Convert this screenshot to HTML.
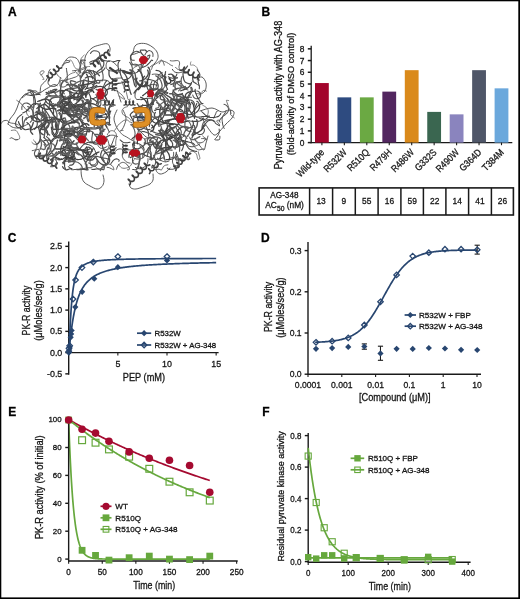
<!DOCTYPE html>
<html><head><meta charset="utf-8"><style>
html,body{margin:0;padding:0;background:#fff;width:520px;height:599px;overflow:hidden}
svg{display:block;will-change:transform}
text{font-family:"Liberation Sans", sans-serif;stroke:#151515;stroke-width:0.3px;paint-order:stroke}
</style></head><body>
<svg width="520" height="599" viewBox="0 0 520 599">
<rect x="0" y="0" width="520" height="1.3" fill="#000"/>
<rect x="0" y="0" width="1.3" height="599" fill="#000"/>
<rect x="518.3" y="0" width="1.7" height="599" fill="#000"/>
<rect x="0" y="597.4" width="520" height="1.6" fill="#000"/>
<text transform="translate(7.90,16.10)" font-size="12.00" text-anchor="start" font-weight="bold" fill="#000" >A</text>
<text transform="translate(261.50,16.00)" font-size="12.00" text-anchor="start" font-weight="bold" fill="#000" >B</text>
<text transform="translate(7.70,241.60)" font-size="12.00" text-anchor="start" font-weight="bold" fill="#000" >C</text>
<text transform="translate(261.00,241.80)" font-size="12.00" text-anchor="start" font-weight="bold" fill="#000" >D</text>
<text transform="translate(8.20,416.00)" font-size="12.00" text-anchor="start" font-weight="bold" fill="#000" >E</text>
<text transform="translate(262.30,416.00)" font-size="12.00" text-anchor="start" font-weight="bold" fill="#000" >F</text>
<line x1="311.20" y1="45.80" x2="311.20" y2="143.20" stroke="#1a1a1a" stroke-width="1.3" />
<line x1="310.60" y1="142.60" x2="512.30" y2="142.60" stroke="#1a1a1a" stroke-width="1.3" />
<line x1="307.80" y1="142.60" x2="311.20" y2="142.60" stroke="#1a1a1a" stroke-width="1.5" />
<text transform="translate(304.40,145.60) scale(0.9091,1)" font-size="9.24" text-anchor="end" font-weight="normal" fill="#151515" >0</text>
<line x1="307.80" y1="130.88" x2="311.20" y2="130.88" stroke="#1a1a1a" stroke-width="1.5" />
<text transform="translate(304.40,133.88) scale(0.9091,1)" font-size="9.24" text-anchor="end" font-weight="normal" fill="#151515" >1</text>
<line x1="307.80" y1="119.16" x2="311.20" y2="119.16" stroke="#1a1a1a" stroke-width="1.5" />
<text transform="translate(304.40,122.16) scale(0.9091,1)" font-size="9.24" text-anchor="end" font-weight="normal" fill="#151515" >2</text>
<line x1="307.80" y1="107.44" x2="311.20" y2="107.44" stroke="#1a1a1a" stroke-width="1.5" />
<text transform="translate(304.40,110.44) scale(0.9091,1)" font-size="9.24" text-anchor="end" font-weight="normal" fill="#151515" >3</text>
<line x1="307.80" y1="95.72" x2="311.20" y2="95.72" stroke="#1a1a1a" stroke-width="1.5" />
<text transform="translate(304.40,98.72) scale(0.9091,1)" font-size="9.24" text-anchor="end" font-weight="normal" fill="#151515" >4</text>
<line x1="307.80" y1="84.00" x2="311.20" y2="84.00" stroke="#1a1a1a" stroke-width="1.5" />
<text transform="translate(304.40,87.00) scale(0.9091,1)" font-size="9.24" text-anchor="end" font-weight="normal" fill="#151515" >5</text>
<line x1="307.80" y1="72.28" x2="311.20" y2="72.28" stroke="#1a1a1a" stroke-width="1.5" />
<text transform="translate(304.40,75.28) scale(0.9091,1)" font-size="9.24" text-anchor="end" font-weight="normal" fill="#151515" >6</text>
<line x1="307.80" y1="60.56" x2="311.20" y2="60.56" stroke="#1a1a1a" stroke-width="1.5" />
<text transform="translate(304.40,63.56) scale(0.9091,1)" font-size="9.24" text-anchor="end" font-weight="normal" fill="#151515" >7</text>
<line x1="307.80" y1="48.84" x2="311.20" y2="48.84" stroke="#1a1a1a" stroke-width="1.5" />
<text transform="translate(304.40,51.84) scale(0.9091,1)" font-size="9.24" text-anchor="end" font-weight="normal" fill="#151515" >8</text>
<rect x="315.00" y="83.06" width="13.8" height="59.54" fill="#A3052C"/>
<line x1="321.90" y1="142.60" x2="321.90" y2="145.20" stroke="#1a1a1a" stroke-width="1.1" />
<text transform="translate(324.90,153.00) rotate(-45) scale(0.8696,1)" font-size="9.66" text-anchor="end" font-weight="normal" fill="#151515" >Wild-type</text>
<rect x="337.45" y="97.36" width="13.8" height="45.24" fill="#2E4B80"/>
<line x1="344.35" y1="142.60" x2="344.35" y2="145.20" stroke="#1a1a1a" stroke-width="1.1" />
<text transform="translate(347.35,153.00) rotate(-45) scale(0.8696,1)" font-size="9.66" text-anchor="end" font-weight="normal" fill="#151515" >R532W</text>
<rect x="359.90" y="97.36" width="13.8" height="45.24" fill="#6BA943"/>
<line x1="366.80" y1="142.60" x2="366.80" y2="145.20" stroke="#1a1a1a" stroke-width="1.1" />
<text transform="translate(369.80,153.00) rotate(-45) scale(0.8696,1)" font-size="9.66" text-anchor="end" font-weight="normal" fill="#151515" >R510Q</text>
<rect x="382.35" y="91.62" width="13.8" height="50.98" fill="#52265F"/>
<line x1="389.25" y1="142.60" x2="389.25" y2="145.20" stroke="#1a1a1a" stroke-width="1.1" />
<text transform="translate(392.25,153.00) rotate(-45) scale(0.8696,1)" font-size="9.66" text-anchor="end" font-weight="normal" fill="#151515" >R479H</text>
<rect x="404.80" y="70.17" width="13.8" height="72.43" fill="#DA8A1B"/>
<line x1="411.70" y1="142.60" x2="411.70" y2="145.20" stroke="#1a1a1a" stroke-width="1.1" />
<text transform="translate(414.70,153.00) rotate(-45) scale(0.8696,1)" font-size="9.66" text-anchor="end" font-weight="normal" fill="#151515" >R486W</text>
<rect x="427.25" y="111.89" width="13.8" height="30.71" fill="#3A6650"/>
<line x1="434.15" y1="142.60" x2="434.15" y2="145.20" stroke="#1a1a1a" stroke-width="1.1" />
<text transform="translate(437.15,153.00) rotate(-45) scale(0.8696,1)" font-size="9.66" text-anchor="end" font-weight="normal" fill="#151515" >G332S</text>
<rect x="449.70" y="114.35" width="13.8" height="28.25" fill="#8A84BE"/>
<line x1="456.60" y1="142.60" x2="456.60" y2="145.20" stroke="#1a1a1a" stroke-width="1.1" />
<text transform="translate(459.60,153.00) rotate(-45) scale(0.8696,1)" font-size="9.66" text-anchor="end" font-weight="normal" fill="#151515" >R490W</text>
<rect x="472.15" y="70.17" width="13.8" height="72.43" fill="#4F5668"/>
<line x1="479.05" y1="142.60" x2="479.05" y2="145.20" stroke="#1a1a1a" stroke-width="1.1" />
<text transform="translate(482.05,153.00) rotate(-45) scale(0.8696,1)" font-size="9.66" text-anchor="end" font-weight="normal" fill="#151515" >G364D</text>
<rect x="494.60" y="88.34" width="13.8" height="54.26" fill="#6BA8DC"/>
<line x1="501.50" y1="142.60" x2="501.50" y2="145.20" stroke="#1a1a1a" stroke-width="1.1" />
<text transform="translate(504.50,153.00) rotate(-45) scale(0.8696,1)" font-size="9.66" text-anchor="end" font-weight="normal" fill="#151515" >T384M</text>
<text transform="translate(281.50,95.00) rotate(-90) scale(0.9091,1)" font-size="10.12" text-anchor="middle" font-weight="normal" fill="#151515" >Pyruvate kinase activity with AG-348</text>
<text transform="translate(294.10,94.00) rotate(-90) scale(0.9615,1)" font-size="9.57" text-anchor="middle" font-weight="normal" fill="#151515" >(fold-activity of DMSO control)</text>
<rect x="259.10" y="187.9" width="254.30" height="27.099999999999994" fill="none" stroke="#1a1a1a" stroke-width="1.6"/>
<line x1="309.60" y1="187.90" x2="309.60" y2="215.00" stroke="#1a1a1a" stroke-width="1.5" />
<line x1="332.60" y1="187.90" x2="332.60" y2="215.00" stroke="#1a1a1a" stroke-width="1.5" />
<line x1="355.30" y1="187.90" x2="355.30" y2="215.00" stroke="#1a1a1a" stroke-width="1.5" />
<line x1="378.10" y1="187.90" x2="378.10" y2="215.00" stroke="#1a1a1a" stroke-width="1.5" />
<line x1="400.90" y1="187.90" x2="400.90" y2="215.00" stroke="#1a1a1a" stroke-width="1.5" />
<line x1="423.40" y1="187.90" x2="423.40" y2="215.00" stroke="#1a1a1a" stroke-width="1.5" />
<line x1="445.90" y1="187.90" x2="445.90" y2="215.00" stroke="#1a1a1a" stroke-width="1.5" />
<line x1="468.60" y1="187.90" x2="468.60" y2="215.00" stroke="#1a1a1a" stroke-width="1.5" />
<line x1="491.40" y1="187.90" x2="491.40" y2="215.00" stroke="#1a1a1a" stroke-width="1.5" />
<text transform="translate(321.10,204.30) scale(0.9091,1)" font-size="9.24" text-anchor="middle" font-weight="normal" fill="#151515" >13</text>
<text transform="translate(343.95,204.30) scale(0.9091,1)" font-size="9.24" text-anchor="middle" font-weight="normal" fill="#151515" >9</text>
<text transform="translate(366.70,204.30) scale(0.9091,1)" font-size="9.24" text-anchor="middle" font-weight="normal" fill="#151515" >55</text>
<text transform="translate(389.50,204.30) scale(0.9091,1)" font-size="9.24" text-anchor="middle" font-weight="normal" fill="#151515" >16</text>
<text transform="translate(412.15,204.30) scale(0.9091,1)" font-size="9.24" text-anchor="middle" font-weight="normal" fill="#151515" >59</text>
<text transform="translate(434.65,204.30) scale(0.9091,1)" font-size="9.24" text-anchor="middle" font-weight="normal" fill="#151515" >22</text>
<text transform="translate(457.25,204.30) scale(0.9091,1)" font-size="9.24" text-anchor="middle" font-weight="normal" fill="#151515" >14</text>
<text transform="translate(480.00,204.30) scale(0.9091,1)" font-size="9.24" text-anchor="middle" font-weight="normal" fill="#151515" >41</text>
<text transform="translate(502.40,204.30) scale(0.9091,1)" font-size="9.24" text-anchor="middle" font-weight="normal" fill="#151515" >26</text>
<text transform="translate(284.40,197.60) scale(0.9091,1)" font-size="9.02" text-anchor="middle" font-weight="normal" fill="#151515" >AG-348</text>
<text transform="translate(284.6,207.8) scale(0.91,1)" font-size="9.2" text-anchor="middle" fill="#151515">AC<tspan font-size="7.4" dy="3.1">50</tspan><tspan dy="-3.1"> (nM)</tspan></text>
<line x1="68.70" y1="241.50" x2="68.70" y2="374.80" stroke="#1a1a1a" stroke-width="1.4" />
<line x1="68.70" y1="352.60" x2="218.60" y2="352.60" stroke="#1a1a1a" stroke-width="1.4" />
<line x1="65.30" y1="246.35" x2="68.70" y2="246.35" stroke="#1a1a1a" stroke-width="1.4" />
<text transform="translate(62.30,249.45) scale(0.9091,1)" font-size="9.79" text-anchor="end" font-weight="normal" fill="#151515" >2.5</text>
<line x1="65.30" y1="267.60" x2="68.70" y2="267.60" stroke="#1a1a1a" stroke-width="1.4" />
<text transform="translate(62.30,270.70) scale(0.9091,1)" font-size="9.79" text-anchor="end" font-weight="normal" fill="#151515" >2.0</text>
<line x1="65.30" y1="288.85" x2="68.70" y2="288.85" stroke="#1a1a1a" stroke-width="1.4" />
<text transform="translate(62.30,291.95) scale(0.9091,1)" font-size="9.79" text-anchor="end" font-weight="normal" fill="#151515" >1.5</text>
<line x1="65.30" y1="310.10" x2="68.70" y2="310.10" stroke="#1a1a1a" stroke-width="1.4" />
<text transform="translate(62.30,313.20) scale(0.9091,1)" font-size="9.79" text-anchor="end" font-weight="normal" fill="#151515" >1.0</text>
<line x1="65.30" y1="331.35" x2="68.70" y2="331.35" stroke="#1a1a1a" stroke-width="1.4" />
<text transform="translate(62.30,334.45) scale(0.9091,1)" font-size="9.79" text-anchor="end" font-weight="normal" fill="#151515" >0.5</text>
<line x1="65.30" y1="352.60" x2="68.70" y2="352.60" stroke="#1a1a1a" stroke-width="1.4" />
<text transform="translate(62.30,355.70) scale(0.9091,1)" font-size="9.79" text-anchor="end" font-weight="normal" fill="#151515" >0.0</text>
<line x1="65.30" y1="373.85" x2="68.70" y2="373.85" stroke="#1a1a1a" stroke-width="1.4" />
<text transform="translate(62.30,376.95) scale(0.9091,1)" font-size="9.79" text-anchor="end" font-weight="normal" fill="#151515" >-0.5</text>
<line x1="117.85" y1="352.60" x2="117.85" y2="355.40" stroke="#1a1a1a" stroke-width="1.1" />
<text transform="translate(117.85,367.00) scale(0.9091,1)" font-size="9.79" text-anchor="middle" font-weight="normal" fill="#151515" >5</text>
<line x1="167.00" y1="352.60" x2="167.00" y2="355.40" stroke="#1a1a1a" stroke-width="1.1" />
<text transform="translate(167.00,367.00) scale(0.9091,1)" font-size="9.79" text-anchor="middle" font-weight="normal" fill="#151515" >10</text>
<line x1="216.15" y1="352.60" x2="216.15" y2="355.40" stroke="#1a1a1a" stroke-width="1.1" />
<text transform="translate(216.15,367.00) scale(0.9091,1)" font-size="9.79" text-anchor="middle" font-weight="normal" fill="#151515" >15</text>
<text transform="translate(143.90,380.60) scale(0.9091,1)" font-size="10.12" text-anchor="middle" font-weight="normal" fill="#151515" >PEP (mM)</text>
<text transform="translate(29.90,310.50) rotate(-90) scale(0.7874,1)" font-size="11.05" text-anchor="middle" font-weight="normal" fill="#151515" >PK-R activity</text>
<text transform="translate(41.70,310.50) rotate(-90) scale(0.8333,1)" font-size="11.04" text-anchor="middle" font-weight="normal" fill="#151515" >(μMoles/sec/g)</text>
<path d="M68.70,352.60 L68.70,352.60 L68.71,352.56 L68.73,352.47 L68.76,352.30 L68.79,352.02 L68.83,351.60 L68.88,351.02 L68.94,350.25 L69.00,349.29 L69.07,348.12 L69.15,346.73 L69.23,345.12 L69.32,343.29 L69.42,341.25 L69.53,339.02 L69.64,336.61 L69.77,334.05 L69.89,331.36 L70.03,328.57 L70.17,325.72 L70.33,322.82 L70.48,319.90 L70.65,317.00 L70.82,314.13 L71.00,311.31 L71.19,308.56 L71.39,305.89 L71.59,303.32 L71.80,300.85 L72.02,298.49 L72.24,296.23 L72.47,294.09 L72.71,292.07 L72.96,290.15 L73.22,288.34 L73.48,286.63 L73.75,285.03 L74.02,283.52 L74.31,282.11 L74.60,280.78 L74.90,279.53 L75.20,278.37 L75.52,277.27 L75.84,276.25 L76.16,275.28 L76.50,274.38 L76.84,273.54 L77.19,272.75 L77.55,272.00 L77.92,271.31 L78.29,270.65 L78.67,270.04 L79.05,269.46 L79.45,268.92 L79.85,268.41 L80.26,267.93 L80.68,267.48 L81.10,267.05 L81.53,266.65 L81.97,266.27 L82.42,265.92 L82.87,265.58 L83.33,265.26 L83.80,264.96 L84.27,264.68 L84.76,264.41 L85.25,264.15 L85.75,263.91 L86.25,263.68 L86.76,263.47 L87.28,263.26 L87.81,263.07 L88.34,262.88 L88.89,262.70 L89.44,262.54 L89.99,262.38 L90.56,262.22 L91.13,262.08 L91.71,261.94 L92.29,261.81 L92.89,261.68 L93.49,261.56 L94.09,261.45 L94.71,261.34 L95.33,261.24 L95.96,261.14 L96.60,261.04 L97.25,260.95 L97.90,260.86 L98.56,260.78 L99.23,260.70 L99.90,260.62 L100.58,260.55 L101.27,260.48 L101.97,260.41 L102.67,260.34 L103.38,260.28 L104.10,260.22 L104.83,260.16 L105.56,260.11 L106.30,260.05 L107.05,260.00 L107.81,259.95 L108.57,259.90 L109.34,259.86 L110.12,259.81 L110.90,259.77 L111.70,259.73 L112.50,259.69 L113.30,259.65 L114.12,259.61 L114.94,259.58 L115.77,259.54 L116.61,259.51 L117.45,259.48 L118.30,259.45 L119.16,259.42 L120.03,259.39 L120.90,259.36 L121.78,259.33 L122.67,259.31 L123.57,259.28 L124.47,259.26 L125.38,259.23 L126.30,259.21 L127.22,259.19 L128.16,259.17 L129.10,259.14 L130.04,259.12 L131.00,259.10 L131.96,259.09 L132.93,259.07 L133.91,259.05 L134.89,259.03 L135.88,259.01 L136.88,259.00 L137.89,258.98 L138.90,258.97 L139.92,258.95 L140.95,258.94 L141.99,258.92 L143.03,258.91 L144.08,258.89 L145.14,258.88 L146.20,258.87 L147.28,258.85 L148.36,258.84 L149.44,258.83 L150.54,258.82 L151.64,258.81 L152.75,258.80 L153.87,258.79 L154.99,258.78 L156.12,258.77 L157.26,258.76 L158.41,258.75 L159.56,258.74 L160.72,258.73 L161.89,258.72 L163.07,258.71 L164.25,258.70 L165.44,258.69 L166.64,258.69 L167.85,258.68 L169.06,258.67 L170.28,258.66 L171.51,258.65 L172.74,258.65 L173.98,258.64 L175.23,258.63 L176.49,258.63 L177.75,258.62 L179.03,258.61 L180.30,258.61 L181.59,258.60 L182.89,258.60 L184.19,258.59 L185.50,258.58 L186.81,258.58 L188.13,258.57 L189.47,258.57 L190.80,258.56 L192.15,258.56 L193.50,258.55 L194.86,258.55 L196.23,258.54 L197.60,258.54 L198.99,258.53 L200.38,258.53 L201.77,258.53 L203.18,258.52 L204.59,258.52 L206.01,258.51 L207.44,258.51 L208.87,258.50 L210.31,258.50 L211.76,258.50 L213.22,258.49 L214.68,258.49 L216.15,258.49" fill="none" stroke="#284670" stroke-width="1.7"/>
<path d="M68.70,352.60 L68.70,352.59 L68.71,352.54 L68.73,352.45 L68.76,352.30 L68.79,352.08 L68.83,351.80 L68.88,351.45 L68.94,351.02 L69.00,350.51 L69.07,349.93 L69.15,349.27 L69.23,348.53 L69.32,347.71 L69.42,346.82 L69.53,345.85 L69.64,344.82 L69.77,343.72 L69.89,342.55 L70.03,341.33 L70.17,340.05 L70.33,338.73 L70.48,337.36 L70.65,335.96 L70.82,334.52 L71.00,333.05 L71.19,331.56 L71.39,330.05 L71.59,328.53 L71.80,327.01 L72.02,325.47 L72.24,323.94 L72.47,322.42 L72.71,320.90 L72.96,319.39 L73.22,317.90 L73.48,316.42 L73.75,314.97 L74.02,313.54 L74.31,312.13 L74.60,310.74 L74.90,309.38 L75.20,308.05 L75.52,306.75 L75.84,305.48 L76.16,304.24 L76.50,303.03 L76.84,301.84 L77.19,300.69 L77.55,299.58 L77.92,298.49 L78.29,297.43 L78.67,296.40 L79.05,295.40 L79.45,294.43 L79.85,293.49 L80.26,292.58 L80.68,291.70 L81.10,290.84 L81.53,290.01 L81.97,289.20 L82.42,288.42 L82.87,287.67 L83.33,286.93 L83.80,286.22 L84.27,285.54 L84.76,284.87 L85.25,284.23 L85.75,283.61 L86.25,283.00 L86.76,282.42 L87.28,281.85 L87.81,281.30 L88.34,280.77 L88.89,280.26 L89.44,279.76 L89.99,279.28 L90.56,278.81 L91.13,278.36 L91.71,277.92 L92.29,277.50 L92.89,277.08 L93.49,276.69 L94.09,276.30 L94.71,275.92 L95.33,275.56 L95.96,275.21 L96.60,274.86 L97.25,274.53 L97.90,274.21 L98.56,273.90 L99.23,273.60 L99.90,273.30 L100.58,273.02 L101.27,272.74 L101.97,272.47 L102.67,272.21 L103.38,271.95 L104.10,271.71 L104.83,271.47 L105.56,271.23 L106.30,271.01 L107.05,270.79 L107.81,270.57 L108.57,270.36 L109.34,270.16 L110.12,269.96 L110.90,269.77 L111.70,269.58 L112.50,269.40 L113.30,269.23 L114.12,269.05 L114.94,268.89 L115.77,268.72 L116.61,268.56 L117.45,268.41 L118.30,268.26 L119.16,268.11 L120.03,267.97 L120.90,267.83 L121.78,267.69 L122.67,267.56 L123.57,267.43 L124.47,267.30 L125.38,267.18 L126.30,267.06 L127.22,266.94 L128.16,266.82 L129.10,266.71 L130.04,266.60 L131.00,266.50 L131.96,266.39 L132.93,266.29 L133.91,266.19 L134.89,266.09 L135.88,266.00 L136.88,265.91 L137.89,265.81 L138.90,265.73 L139.92,265.64 L140.95,265.55 L141.99,265.47 L143.03,265.39 L144.08,265.31 L145.14,265.23 L146.20,265.16 L147.28,265.08 L148.36,265.01 L149.44,264.94 L150.54,264.87 L151.64,264.80 L152.75,264.74 L153.87,264.67 L154.99,264.61 L156.12,264.54 L157.26,264.48 L158.41,264.42 L159.56,264.36 L160.72,264.31 L161.89,264.25 L163.07,264.19 L164.25,264.14 L165.44,264.09 L166.64,264.03 L167.85,263.98 L169.06,263.93 L170.28,263.88 L171.51,263.83 L172.74,263.79 L173.98,263.74 L175.23,263.69 L176.49,263.65 L177.75,263.61 L179.03,263.56 L180.30,263.52 L181.59,263.48 L182.89,263.44 L184.19,263.40 L185.50,263.36 L186.81,263.32 L188.13,263.28 L189.47,263.25 L190.80,263.21 L192.15,263.17 L193.50,263.14 L194.86,263.10 L196.23,263.07 L197.60,263.04 L198.99,263.00 L200.38,262.97 L201.77,262.94 L203.18,262.91 L204.59,262.88 L206.01,262.85 L207.44,262.82 L208.87,262.79 L210.31,262.76 L211.76,262.73 L213.22,262.70 L214.68,262.68 L216.15,262.65" fill="none" stroke="#284670" stroke-width="1.7"/>
<path d="M68.90,349.50 L72.00,352.60 L68.90,355.70 L65.80,352.60Z" fill="#284670"/>
<path d="M69.19,346.95 L72.29,350.05 L69.19,353.15 L66.09,350.05Z" fill="#284670"/>
<path d="M69.68,343.98 L72.78,347.08 L69.68,350.18 L66.58,347.08Z" fill="#284670"/>
<path d="M70.67,334.20 L73.77,337.30 L70.67,340.40 L67.57,337.30Z" fill="#284670"/>
<path d="M71.16,330.80 L74.26,333.90 L71.16,337.00 L68.06,333.90Z" fill="#284670"/>
<path d="M71.65,327.40 L74.75,330.50 L71.65,333.60 L68.55,330.50Z" fill="#284670"/>
<path d="M75.29,304.02 L78.39,307.12 L75.29,310.23 L72.19,307.12Z" fill="#284670"/>
<path d="M82.17,288.73 L85.27,291.83 L82.17,294.93 L79.07,291.83Z" fill="#284670"/>
<path d="M94.26,275.55 L97.36,278.65 L94.26,281.75 L91.16,278.65Z" fill="#284670"/>
<path d="M117.85,264.07 L120.95,267.18 L117.85,270.28 L114.75,267.18Z" fill="#284670"/>
<path d="M167.00,257.27 L170.10,260.38 L167.00,263.48 L163.90,260.38Z" fill="#284670"/>
<path d="M68.70,349.00 L71.45,351.75 L68.70,354.50 L65.95,351.75Z" fill="none" stroke="#284670" stroke-width="1.3"/>
<path d="M68.99,345.60 L71.74,348.35 L68.99,351.10 L66.24,348.35Z" fill="none" stroke="#284670" stroke-width="1.3"/>
<path d="M69.68,343.05 L72.43,345.80 L69.68,348.55 L66.93,345.80Z" fill="none" stroke="#284670" stroke-width="1.3"/>
<path d="M73.03,296.30 L75.78,299.05 L73.03,301.80 L70.28,299.05Z" fill="none" stroke="#284670" stroke-width="1.3"/>
<path d="M75.58,277.18 L78.33,279.93 L75.58,282.68 L72.83,279.93Z" fill="none" stroke="#284670" stroke-width="1.3"/>
<path d="M81.97,264.85 L84.72,267.60 L81.97,270.35 L79.22,267.60Z" fill="none" stroke="#284670" stroke-width="1.3"/>
<path d="M93.28,259.33 L96.03,262.08 L93.28,264.83 L90.53,262.08Z" fill="none" stroke="#284670" stroke-width="1.3"/>
<path d="M117.85,253.80 L120.60,256.55 L117.85,259.30 L115.10,256.55Z" fill="none" stroke="#284670" stroke-width="1.3"/>
<path d="M167.00,253.80 L169.75,256.55 L167.00,259.30 L164.25,256.55Z" fill="none" stroke="#284670" stroke-width="1.3"/>
<line x1="137.00" y1="333.20" x2="151.20" y2="333.20" stroke="#284670" stroke-width="1.7" />
<path d="M144.10,330.10 L147.20,333.20 L144.10,336.30 L141.00,333.20Z" fill="#284670"/>
<text transform="translate(154.50,336.20)" font-size="7.85" text-anchor="start" font-weight="normal" fill="#151515" >R532W</text>
<line x1="137.00" y1="345.00" x2="151.20" y2="345.00" stroke="#284670" stroke-width="1.7" />
<path d="M144.10,342.25 L146.85,345.00 L144.10,347.75 L141.35,345.00Z" fill="none" stroke="#284670" stroke-width="1.3"/>
<text transform="translate(154.50,348.00)" font-size="7.85" text-anchor="start" font-weight="normal" fill="#151515" >R532W + AG-348</text>
<line x1="308.00" y1="242.00" x2="308.00" y2="374.90" stroke="#1a1a1a" stroke-width="1.4" />
<line x1="308.00" y1="374.20" x2="481.00" y2="374.20" stroke="#1a1a1a" stroke-width="1.4" />
<line x1="304.60" y1="374.20" x2="308.00" y2="374.20" stroke="#1a1a1a" stroke-width="1.4" />
<text transform="translate(301.60,377.20) scale(0.9091,1)" font-size="9.46" text-anchor="end" font-weight="normal" fill="#151515" >0.0</text>
<line x1="304.60" y1="333.00" x2="308.00" y2="333.00" stroke="#1a1a1a" stroke-width="1.4" />
<text transform="translate(301.60,336.00) scale(0.9091,1)" font-size="9.46" text-anchor="end" font-weight="normal" fill="#151515" >0.1</text>
<line x1="304.60" y1="291.80" x2="308.00" y2="291.80" stroke="#1a1a1a" stroke-width="1.4" />
<text transform="translate(301.60,294.80) scale(0.9091,1)" font-size="9.46" text-anchor="end" font-weight="normal" fill="#151515" >0.2</text>
<line x1="304.60" y1="250.60" x2="308.00" y2="250.60" stroke="#1a1a1a" stroke-width="1.4" />
<text transform="translate(301.60,253.60) scale(0.9091,1)" font-size="9.46" text-anchor="end" font-weight="normal" fill="#151515" >0.3</text>
<line x1="308.00" y1="374.20" x2="308.00" y2="377.00" stroke="#1a1a1a" stroke-width="1.1" />
<text transform="translate(308.00,387.80) scale(0.9091,1)" font-size="9.46" text-anchor="middle" font-weight="normal" fill="#151515" >0.0001</text>
<line x1="341.80" y1="374.20" x2="341.80" y2="377.00" stroke="#1a1a1a" stroke-width="1.1" />
<text transform="translate(341.80,387.80) scale(0.9091,1)" font-size="9.46" text-anchor="middle" font-weight="normal" fill="#151515" >0.001</text>
<line x1="375.60" y1="374.20" x2="375.60" y2="377.00" stroke="#1a1a1a" stroke-width="1.1" />
<text transform="translate(375.60,387.80) scale(0.9091,1)" font-size="9.46" text-anchor="middle" font-weight="normal" fill="#151515" >0.01</text>
<line x1="409.40" y1="374.20" x2="409.40" y2="377.00" stroke="#1a1a1a" stroke-width="1.1" />
<text transform="translate(409.40,387.80) scale(0.9091,1)" font-size="9.46" text-anchor="middle" font-weight="normal" fill="#151515" >0.1</text>
<line x1="443.20" y1="374.20" x2="443.20" y2="377.00" stroke="#1a1a1a" stroke-width="1.1" />
<text transform="translate(443.20,387.80) scale(0.9091,1)" font-size="9.46" text-anchor="middle" font-weight="normal" fill="#151515" >1</text>
<line x1="477.00" y1="374.20" x2="477.00" y2="377.00" stroke="#1a1a1a" stroke-width="1.1" />
<text transform="translate(477.00,387.80) scale(0.9091,1)" font-size="9.46" text-anchor="middle" font-weight="normal" fill="#151515" >10</text>
<text transform="translate(394.80,401.00) scale(0.9091,1)" font-size="10.12" text-anchor="middle" font-weight="normal" fill="#151515" >[Compound (μM)]</text>
<text transform="translate(271.50,306.90) rotate(-90) scale(0.8621,1)" font-size="10.21" text-anchor="middle" font-weight="normal" fill="#151515" >PK-R activity</text>
<text transform="translate(283.80,307.60) rotate(-90) scale(0.8929,1)" font-size="10.30" text-anchor="middle" font-weight="normal" fill="#151515" >(μMoles/sec/g)</text>
<path d="M315.10,342.26 L315.91,342.23 L316.72,342.20 L317.53,342.17 L318.34,342.14 L319.15,342.10 L319.96,342.06 L320.76,342.02 L321.57,341.98 L322.38,341.93 L323.19,341.89 L324.00,341.83 L324.81,341.78 L325.62,341.72 L326.43,341.66 L327.24,341.59 L328.05,341.52 L328.86,341.45 L329.67,341.37 L330.48,341.28 L331.29,341.19 L332.10,341.10 L332.91,341.00 L333.72,340.89 L334.53,340.77 L335.34,340.65 L336.15,340.52 L336.95,340.38 L337.76,340.23 L338.57,340.08 L339.38,339.91 L340.19,339.74 L341.00,339.55 L341.81,339.35 L342.62,339.14 L343.43,338.92 L344.24,338.69 L345.05,338.44 L345.86,338.17 L346.67,337.89 L347.48,337.60 L348.29,337.28 L349.10,336.95 L349.91,336.60 L350.72,336.23 L351.53,335.84 L352.34,335.43 L353.14,334.99 L353.95,334.53 L354.76,334.05 L355.57,333.54 L356.38,333.00 L357.19,332.44 L358.00,331.85 L358.81,331.22 L359.62,330.57 L360.43,329.89 L361.24,329.17 L362.05,328.42 L362.86,327.64 L363.67,326.83 L364.48,325.97 L365.29,325.09 L366.10,324.17 L366.91,323.21 L367.72,322.22 L368.53,321.19 L369.34,320.12 L370.14,319.02 L370.95,317.89 L371.76,316.72 L372.57,315.52 L373.38,314.28 L374.19,313.02 L375.00,311.72 L375.81,310.40 L376.62,309.06 L377.43,307.69 L378.24,306.29 L379.05,304.88 L379.86,303.46 L380.67,302.01 L381.48,300.56 L382.29,299.10 L383.10,297.63 L383.91,296.16 L384.72,294.69 L385.53,293.23 L386.33,291.77 L387.14,290.32 L387.95,288.88 L388.76,287.46 L389.57,286.05 L390.38,284.66 L391.19,283.30 L392.00,281.96 L392.81,280.64 L393.62,279.35 L394.43,278.10 L395.24,276.87 L396.05,275.68 L396.86,274.51 L397.67,273.39 L398.48,272.30 L399.29,271.24 L400.10,270.22 L400.91,269.23 L401.72,268.28 L402.53,267.37 L403.33,266.49 L404.14,265.65 L404.95,264.84 L405.76,264.07 L406.57,263.32 L407.38,262.62 L408.19,261.94 L409.00,261.29 L409.81,260.68 L410.62,260.09 L411.43,259.54 L412.24,259.01 L413.05,258.50 L413.86,258.03 L414.67,257.57 L415.48,257.14 L416.29,256.73 L417.10,256.35 L417.91,255.98 L418.72,255.63 L419.52,255.31 L420.33,255.00 L421.14,254.71 L421.95,254.43 L422.76,254.17 L423.57,253.92 L424.38,253.69 L425.19,253.47 L426.00,253.26 L426.81,253.07 L427.62,252.88 L428.43,252.71 L429.24,252.55 L430.05,252.39 L430.86,252.25 L431.67,252.11 L432.48,251.99 L433.29,251.87 L434.10,251.75 L434.91,251.64 L435.71,251.54 L436.52,251.45 L437.33,251.36 L438.14,251.28 L438.95,251.20 L439.76,251.13 L440.57,251.06 L441.38,250.99 L442.19,250.93 L443.00,250.87 L443.81,250.82 L444.62,250.77 L445.43,250.72 L446.24,250.67 L447.05,250.63 L447.86,250.59 L448.67,250.55 L449.48,250.52 L450.29,250.49 L451.10,250.46 L451.91,250.43 L452.71,250.40 L453.52,250.37 L454.33,250.35 L455.14,250.33 L455.95,250.31 L456.76,250.29 L457.57,250.27 L458.38,250.25 L459.19,250.23 L460.00,250.22 L460.81,250.20 L461.62,250.19 L462.43,250.18 L463.24,250.17 L464.05,250.15 L464.86,250.14 L465.67,250.13 L466.48,250.12 L467.29,250.12 L468.10,250.11 L468.90,250.10 L469.71,250.09 L470.52,250.09 L471.33,250.08 L472.14,250.07 L472.95,250.07 L473.76,250.06 L474.57,250.06 L475.38,250.05 L476.19,250.05 L477.00,250.04" fill="none" stroke="#284670" stroke-width="1.7"/>
<line x1="477.20" y1="245.20" x2="477.20" y2="254.10" stroke="#1a1a1a" stroke-width="1.1" />
<line x1="474.60" y1="245.20" x2="479.80" y2="245.20" stroke="#1a1a1a" stroke-width="1.1" />
<line x1="474.60" y1="254.10" x2="479.80" y2="254.10" stroke="#1a1a1a" stroke-width="1.1" />
<line x1="380.48" y1="346.20" x2="380.48" y2="360.30" stroke="#1a1a1a" stroke-width="1.1" />
<line x1="377.88" y1="346.20" x2="383.08" y2="346.20" stroke="#1a1a1a" stroke-width="1.1" />
<line x1="377.88" y1="360.30" x2="383.08" y2="360.30" stroke="#1a1a1a" stroke-width="1.1" />
<line x1="364.36" y1="343.90" x2="364.36" y2="349.20" stroke="#1a1a1a" stroke-width="1.1" />
<line x1="361.76" y1="343.90" x2="366.96" y2="343.90" stroke="#1a1a1a" stroke-width="1.1" />
<line x1="361.76" y1="349.20" x2="366.96" y2="349.20" stroke="#1a1a1a" stroke-width="1.1" />
<path d="M477.20,346.90 L480.30,350.00 L477.20,353.10 L474.10,350.00Z" fill="#284670"/>
<path d="M461.08,346.70 L464.18,349.80 L461.08,352.90 L457.98,349.80Z" fill="#284670"/>
<path d="M444.96,345.40 L448.06,348.50 L444.96,351.60 L441.86,348.50Z" fill="#284670"/>
<path d="M428.84,344.90 L431.94,348.00 L428.84,351.10 L425.74,348.00Z" fill="#284670"/>
<path d="M412.72,345.80 L415.82,348.90 L412.72,352.00 L409.62,348.90Z" fill="#284670"/>
<path d="M396.60,345.70 L399.70,348.80 L396.60,351.90 L393.50,348.80Z" fill="#284670"/>
<path d="M380.48,350.30 L383.58,353.40 L380.48,356.50 L377.38,353.40Z" fill="#284670"/>
<path d="M364.36,343.40 L367.46,346.50 L364.36,349.60 L361.26,346.50Z" fill="#284670"/>
<path d="M348.24,343.80 L351.34,346.90 L348.24,350.00 L345.14,346.90Z" fill="#284670"/>
<path d="M332.12,345.00 L335.22,348.10 L332.12,351.20 L329.02,348.10Z" fill="#284670"/>
<path d="M316.00,345.70 L319.10,348.80 L316.00,351.90 L312.90,348.80Z" fill="#284670"/>
<path d="M477.20,247.05 L479.95,249.80 L477.20,252.55 L474.45,249.80Z" fill="none" stroke="#284670" stroke-width="1.3"/>
<path d="M461.08,246.45 L463.83,249.20 L461.08,251.95 L458.33,249.20Z" fill="none" stroke="#284670" stroke-width="1.3"/>
<path d="M444.96,246.45 L447.71,249.20 L444.96,251.95 L442.21,249.20Z" fill="none" stroke="#284670" stroke-width="1.3"/>
<path d="M428.84,249.95 L431.59,252.70 L428.84,255.45 L426.09,252.70Z" fill="none" stroke="#284670" stroke-width="1.3"/>
<path d="M412.72,253.35 L415.47,256.10 L412.72,258.85 L409.97,256.10Z" fill="none" stroke="#284670" stroke-width="1.3"/>
<path d="M396.60,272.15 L399.35,274.90 L396.60,277.65 L393.85,274.90Z" fill="none" stroke="#284670" stroke-width="1.3"/>
<path d="M380.48,299.05 L383.23,301.80 L380.48,304.55 L377.73,301.80Z" fill="none" stroke="#284670" stroke-width="1.3"/>
<path d="M364.36,322.25 L367.11,325.00 L364.36,327.75 L361.61,325.00Z" fill="none" stroke="#284670" stroke-width="1.3"/>
<path d="M348.24,335.15 L350.99,337.90 L348.24,340.65 L345.49,337.90Z" fill="none" stroke="#284670" stroke-width="1.3"/>
<path d="M332.12,338.45 L334.87,341.20 L332.12,343.95 L329.37,341.20Z" fill="none" stroke="#284670" stroke-width="1.3"/>
<path d="M316.00,339.55 L318.75,342.30 L316.00,345.05 L313.25,342.30Z" fill="none" stroke="#284670" stroke-width="1.3"/>
<line x1="404.60" y1="315.00" x2="416.00" y2="315.00" stroke="#284670" stroke-width="1.7" />
<path d="M410.30,311.90 L413.40,315.00 L410.30,318.10 L407.20,315.00Z" fill="#284670"/>
<text transform="translate(418.90,318.00)" font-size="8.10" text-anchor="start" font-weight="normal" fill="#151515" >R532W + FBP</text>
<line x1="404.60" y1="326.20" x2="416.00" y2="326.20" stroke="#284670" stroke-width="1.7" />
<path d="M410.30,323.45 L413.05,326.20 L410.30,328.95 L407.55,326.20Z" fill="none" stroke="#284670" stroke-width="1.3"/>
<text transform="translate(418.90,329.20)" font-size="8.10" text-anchor="start" font-weight="normal" fill="#151515" >R532W + AG-348</text>
<line x1="65.25" y1="559.10" x2="68.65" y2="559.10" stroke="#1a1a1a" stroke-width="1.4" />
<text transform="translate(61.65,561.90)" font-size="7.90" text-anchor="end" font-weight="normal" fill="#151515" >0</text>
<line x1="65.25" y1="531.20" x2="68.65" y2="531.20" stroke="#1a1a1a" stroke-width="1.4" />
<text transform="translate(61.65,534.00)" font-size="7.90" text-anchor="end" font-weight="normal" fill="#151515" >20</text>
<line x1="65.25" y1="503.30" x2="68.65" y2="503.30" stroke="#1a1a1a" stroke-width="1.4" />
<text transform="translate(61.65,506.10)" font-size="7.90" text-anchor="end" font-weight="normal" fill="#151515" >40</text>
<line x1="65.25" y1="475.40" x2="68.65" y2="475.40" stroke="#1a1a1a" stroke-width="1.4" />
<text transform="translate(61.65,478.20)" font-size="7.90" text-anchor="end" font-weight="normal" fill="#151515" >60</text>
<line x1="65.25" y1="447.50" x2="68.65" y2="447.50" stroke="#1a1a1a" stroke-width="1.4" />
<text transform="translate(61.65,450.30)" font-size="7.90" text-anchor="end" font-weight="normal" fill="#151515" >80</text>
<line x1="65.25" y1="419.60" x2="68.65" y2="419.60" stroke="#1a1a1a" stroke-width="1.4" />
<text transform="translate(61.65,422.40)" font-size="7.90" text-anchor="end" font-weight="normal" fill="#151515" >100</text>
<line x1="68.65" y1="561.00" x2="68.65" y2="563.80" stroke="#1a1a1a" stroke-width="1.1" />
<text transform="translate(68.65,575.00)" font-size="8.20" text-anchor="middle" font-weight="normal" fill="#151515" >0</text>
<line x1="102.25" y1="561.00" x2="102.25" y2="563.80" stroke="#1a1a1a" stroke-width="1.1" />
<text transform="translate(102.25,575.00)" font-size="8.20" text-anchor="middle" font-weight="normal" fill="#151515" >50</text>
<line x1="135.85" y1="561.00" x2="135.85" y2="563.80" stroke="#1a1a1a" stroke-width="1.1" />
<text transform="translate(135.85,575.00)" font-size="8.20" text-anchor="middle" font-weight="normal" fill="#151515" >100</text>
<line x1="169.45" y1="561.00" x2="169.45" y2="563.80" stroke="#1a1a1a" stroke-width="1.1" />
<text transform="translate(169.45,575.00)" font-size="8.20" text-anchor="middle" font-weight="normal" fill="#151515" >150</text>
<line x1="203.05" y1="561.00" x2="203.05" y2="563.80" stroke="#1a1a1a" stroke-width="1.1" />
<text transform="translate(203.05,575.00)" font-size="8.20" text-anchor="middle" font-weight="normal" fill="#151515" >200</text>
<line x1="236.65" y1="561.00" x2="236.65" y2="563.80" stroke="#1a1a1a" stroke-width="1.1" />
<text transform="translate(236.65,575.00)" font-size="8.20" text-anchor="middle" font-weight="normal" fill="#151515" >250</text>
<text transform="translate(154.20,588.50) scale(0.8000,1)" font-size="11.12" text-anchor="middle" font-weight="normal" fill="#151515" >Time (min)</text>
<text transform="translate(42.50,487.20) rotate(-90) scale(0.9091,1)" font-size="10.18" text-anchor="middle" font-weight="normal" fill="#151515" >PK-R activity (% of initial)</text>
<path d="M68.65,419.60 L69.36,420.00 L70.06,420.40 L70.77,420.79 L71.47,421.19 L72.18,421.59 L72.88,421.98 L73.59,422.37 L74.29,422.76 L75.00,423.15 L75.71,423.54 L76.41,423.93 L77.12,424.32 L77.82,424.70 L78.53,425.09 L79.23,425.47 L79.94,425.85 L80.65,426.23 L81.35,426.62 L82.06,426.99 L82.76,427.37 L83.47,427.75 L84.17,428.13 L84.88,428.50 L85.58,428.87 L86.29,429.25 L87.00,429.62 L87.70,429.99 L88.41,430.36 L89.11,430.73 L89.82,431.09 L90.52,431.46 L91.23,431.83 L91.93,432.19 L92.64,432.55 L93.35,432.92 L94.05,433.28 L94.76,433.64 L95.46,434.00 L96.17,434.36 L96.87,434.71 L97.58,435.07 L98.29,435.42 L98.99,435.78 L99.70,436.13 L100.40,436.48 L101.11,436.83 L101.81,437.18 L102.52,437.53 L103.22,437.88 L103.93,438.23 L104.64,438.57 L105.34,438.92 L106.05,439.26 L106.75,439.61 L107.46,439.95 L108.16,440.29 L108.87,440.63 L109.57,440.97 L110.28,441.31 L110.99,441.64 L111.69,441.98 L112.40,442.31 L113.10,442.65 L113.81,442.98 L114.51,443.31 L115.22,443.65 L115.93,443.98 L116.63,444.31 L117.34,444.63 L118.04,444.96 L118.75,445.29 L119.45,445.61 L120.16,445.94 L120.86,446.26 L121.57,446.59 L122.28,446.91 L122.98,447.23 L123.69,447.55 L124.39,447.87 L125.10,448.19 L125.80,448.50 L126.51,448.82 L127.21,449.14 L127.92,449.45 L128.63,449.77 L129.33,450.08 L130.04,450.39 L130.74,450.70 L131.45,451.01 L132.15,451.32 L132.86,451.63 L133.57,451.94 L134.27,452.24 L134.98,452.55 L135.68,452.86 L136.39,453.16 L137.09,453.46 L137.80,453.76 L138.50,454.07 L139.21,454.37 L139.92,454.67 L140.62,454.97 L141.33,455.26 L142.03,455.56 L142.74,455.86 L143.44,456.15 L144.15,456.45 L144.85,456.74 L145.56,457.03 L146.27,457.33 L146.97,457.62 L147.68,457.91 L148.38,458.20 L149.09,458.49 L149.79,458.77 L150.50,459.06 L151.21,459.35 L151.91,459.63 L152.62,459.92 L153.32,460.20 L154.03,460.49 L154.73,460.77 L155.44,461.05 L156.14,461.33 L156.85,461.61 L157.56,461.89 L158.26,462.17 L158.97,462.44 L159.67,462.72 L160.38,463.00 L161.08,463.27 L161.79,463.55 L162.49,463.82 L163.20,464.09 L163.91,464.36 L164.61,464.64 L165.32,464.91 L166.02,465.18 L166.73,465.44 L167.43,465.71 L168.14,465.98 L168.85,466.25 L169.55,466.51 L170.26,466.78 L170.96,467.04 L171.67,467.31 L172.37,467.57 L173.08,467.83 L173.78,468.09 L174.49,468.35 L175.20,468.61 L175.90,468.87 L176.61,469.13 L177.31,469.39 L178.02,469.64 L178.72,469.90 L179.43,470.15 L180.13,470.41 L180.84,470.66 L181.55,470.92 L182.25,471.17 L182.96,471.42 L183.66,471.67 L184.37,471.92 L185.07,472.17 L185.78,472.42 L186.49,472.67 L187.19,472.92 L187.90,473.16 L188.60,473.41 L189.31,473.65 L190.01,473.90 L190.72,474.14 L191.42,474.38 L192.13,474.63 L192.84,474.87 L193.54,475.11 L194.25,475.35 L194.95,475.59 L195.66,475.83 L196.36,476.07 L197.07,476.31 L197.77,476.54 L198.48,476.78 L199.19,477.01 L199.89,477.25 L200.60,477.48 L201.30,477.72 L202.01,477.95 L202.71,478.18 L203.42,478.41 L204.13,478.65 L204.83,478.88 L205.54,479.11 L206.24,479.33 L206.95,479.56 L207.65,479.79 L208.36,480.02 L209.06,480.24 L209.77,480.47" fill="none" stroke="#A50A30" stroke-width="1.7"/>
<path d="M68.65,419.60 L69.36,420.17 L70.06,420.74 L70.77,421.30 L71.47,421.87 L72.18,422.43 L72.88,422.99 L73.59,423.54 L74.29,424.10 L75.00,424.65 L75.71,425.20 L76.41,425.74 L77.12,426.29 L77.82,426.83 L78.53,427.37 L79.23,427.91 L79.94,428.45 L80.65,428.98 L81.35,429.51 L82.06,430.04 L82.76,430.57 L83.47,431.09 L84.17,431.62 L84.88,432.14 L85.58,432.66 L86.29,433.17 L87.00,433.69 L87.70,434.20 L88.41,434.71 L89.11,435.22 L89.82,435.73 L90.52,436.23 L91.23,436.73 L91.93,437.23 L92.64,437.73 L93.35,438.23 L94.05,438.72 L94.76,439.21 L95.46,439.70 L96.17,440.19 L96.87,440.68 L97.58,441.16 L98.29,441.64 L98.99,442.12 L99.70,442.60 L100.40,443.08 L101.11,443.55 L101.81,444.02 L102.52,444.49 L103.22,444.96 L103.93,445.43 L104.64,445.89 L105.34,446.36 L106.05,446.82 L106.75,447.28 L107.46,447.73 L108.16,448.19 L108.87,448.64 L109.57,449.09 L110.28,449.54 L110.99,449.99 L111.69,450.44 L112.40,450.88 L113.10,451.32 L113.81,451.76 L114.51,452.20 L115.22,452.64 L115.93,453.07 L116.63,453.51 L117.34,453.94 L118.04,454.37 L118.75,454.79 L119.45,455.22 L120.16,455.65 L120.86,456.07 L121.57,456.49 L122.28,456.91 L122.98,457.33 L123.69,457.74 L124.39,458.16 L125.10,458.57 L125.80,458.98 L126.51,459.39 L127.21,459.80 L127.92,460.20 L128.63,460.61 L129.33,461.01 L130.04,461.41 L130.74,461.81 L131.45,462.21 L132.15,462.60 L132.86,463.00 L133.57,463.39 L134.27,463.78 L134.98,464.17 L135.68,464.56 L136.39,464.94 L137.09,465.33 L137.80,465.71 L138.50,466.09 L139.21,466.47 L139.92,466.85 L140.62,467.23 L141.33,467.61 L142.03,467.98 L142.74,468.35 L143.44,468.72 L144.15,469.09 L144.85,469.46 L145.56,469.83 L146.27,470.19 L146.97,470.55 L147.68,470.92 L148.38,471.28 L149.09,471.64 L149.79,471.99 L150.50,472.35 L151.21,472.70 L151.91,473.06 L152.62,473.41 L153.32,473.76 L154.03,474.11 L154.73,474.45 L155.44,474.80 L156.14,475.14 L156.85,475.49 L157.56,475.83 L158.26,476.17 L158.97,476.51 L159.67,476.85 L160.38,477.18 L161.08,477.52 L161.79,477.85 L162.49,478.18 L163.20,478.51 L163.91,478.84 L164.61,479.17 L165.32,479.50 L166.02,479.82 L166.73,480.15 L167.43,480.47 L168.14,480.79 L168.85,481.11 L169.55,481.43 L170.26,481.75 L170.96,482.06 L171.67,482.38 L172.37,482.69 L173.08,483.00 L173.78,483.31 L174.49,483.62 L175.20,483.93 L175.90,484.24 L176.61,484.55 L177.31,484.85 L178.02,485.15 L178.72,485.46 L179.43,485.76 L180.13,486.06 L180.84,486.36 L181.55,486.65 L182.25,486.95 L182.96,487.24 L183.66,487.54 L184.37,487.83 L185.07,488.12 L185.78,488.41 L186.49,488.70 L187.19,488.99 L187.90,489.27 L188.60,489.56 L189.31,489.84 L190.01,490.13 L190.72,490.41 L191.42,490.69 L192.13,490.97 L192.84,491.25 L193.54,491.52 L194.25,491.80 L194.95,492.08 L195.66,492.35 L196.36,492.62 L197.07,492.89 L197.77,493.16 L198.48,493.43 L199.19,493.70 L199.89,493.97 L200.60,494.24 L201.30,494.50 L202.01,494.76 L202.71,495.03 L203.42,495.29 L204.13,495.55 L204.83,495.81 L205.54,496.07 L206.24,496.33 L206.95,496.58 L207.65,496.84 L208.36,497.09 L209.06,497.35 L209.77,497.60" fill="none" stroke="#66A83D" stroke-width="1.7"/>
<path d="M68.65,419.60 L69.00,429.49 L69.36,438.67 L69.71,447.20 L70.06,455.13 L70.41,462.50 L70.77,469.35 L71.12,475.71 L71.47,481.62 L71.83,487.11 L72.18,492.21 L72.53,496.95 L72.88,501.35 L73.24,505.45 L73.59,509.25 L73.94,512.78 L74.29,516.06 L74.65,519.11 L75.00,521.95 L75.35,524.58 L75.71,527.03 L76.06,529.30 L76.41,531.41 L76.76,533.37 L77.12,535.20 L77.47,536.89 L77.82,538.46 L78.18,539.93 L78.53,541.28 L78.88,542.55 L79.23,543.72 L79.59,544.81 L79.94,545.82 L80.29,546.76 L80.65,547.64 L81.00,548.45 L81.35,549.20 L81.70,549.91 L82.06,550.56 L82.41,551.16 L82.76,551.73 L83.11,552.25 L83.47,552.73 L83.82,553.18 L84.17,553.60 L84.53,553.99 L84.88,554.36 L85.23,554.69 L85.58,555.00 L85.94,555.29 L86.29,555.56 L86.64,555.81 L87.00,556.05 L87.35,556.26 L87.70,556.46 L88.05,556.65 L88.41,556.82 L88.76,556.99 L89.11,557.14 L89.47,557.28 L89.82,557.40 L90.17,557.52 L90.52,557.64 L90.88,557.74 L91.23,557.84 L91.58,557.93 L91.93,558.01 L92.29,558.09 L92.64,558.16 L92.99,558.22 L93.35,558.29 L93.70,558.34 L94.05,558.40 L94.40,558.45 L94.76,558.49 L95.11,558.54 L95.46,558.58 L95.82,558.61 L96.17,558.65 L96.52,558.68 L96.87,558.71 L97.23,558.74 L97.58,558.76 L97.93,558.79 L98.29,558.81 L98.64,558.83 L98.99,558.85 L99.34,558.87 L99.70,558.88 L100.05,558.90 L100.40,558.91 L100.75,558.93 L101.11,558.94 L101.46,558.95 L101.81,558.96 L102.17,558.97 L102.52,558.98 L102.87,558.99 L103.22,559.00 L103.58,559.00 L103.93,559.01 L104.28,559.02 L104.64,559.02 L104.99,559.03 L105.34,559.03 L105.69,559.04 L106.05,559.04 L106.40,559.05 L106.75,559.05 L107.11,559.05 L107.46,559.06 L107.81,559.06 L108.16,559.06 L108.52,559.07 L108.87,559.07 L109.22,559.07 L109.57,559.07 L109.93,559.07 L110.28,559.08 L110.63,559.08 L110.99,559.08 L111.34,559.08 L111.69,559.08 L112.04,559.08 L112.40,559.08 L112.75,559.09 L113.10,559.09 L113.46,559.09 L113.81,559.09 L114.16,559.09 L114.51,559.09 L114.87,559.09 L115.22,559.09 L115.57,559.09 L115.93,559.09 L116.28,559.09 L116.63,559.09 L116.98,559.09 L117.34,559.09 L117.69,559.09 L118.04,559.10 L118.39,559.10 L118.75,559.10 L119.10,559.10 L119.45,559.10 L119.81,559.10 L120.16,559.10 L120.51,559.10 L120.86,559.10 L121.22,559.10 L121.57,559.10 L121.92,559.10 L122.28,559.10 L122.63,559.10 L122.98,559.10 L123.33,559.10 L123.69,559.10 L124.04,559.10 L124.39,559.10 L124.75,559.10 L125.10,559.10 L125.45,559.10 L125.80,559.10 L126.16,559.10 L126.51,559.10 L126.86,559.10 L127.21,559.10 L127.57,559.10 L127.92,559.10 L128.27,559.10 L128.63,559.10 L128.98,559.10 L129.33,559.10 L129.68,559.10 L130.04,559.10 L130.39,559.10 L130.74,559.10 L131.10,559.10 L131.45,559.10 L131.80,559.10 L132.15,559.10 L132.51,559.10 L132.86,559.10 L133.21,559.10 L133.57,559.10 L133.92,559.10 L134.27,559.10 L134.62,559.10 L134.98,559.10 L135.33,559.10 L135.68,559.10 L136.03,559.10 L136.39,559.10 L136.74,559.10 L137.09,559.10 L137.45,559.10 L137.80,559.10 L138.15,559.10 L138.50,559.10 L138.86,559.10 L139.21,559.10 L139.56,559.10 L139.92,559.10 L140.27,559.10 L140.62,559.10 L140.97,559.10 L141.33,559.10 L141.68,559.10 L142.03,559.10 L142.39,559.10 L142.74,559.10 L143.09,559.10 L143.44,559.10 L143.80,559.10 L144.15,559.10 L144.50,559.10 L144.85,559.10 L145.21,559.10 L145.56,559.10 L145.91,559.10 L146.27,559.10 L146.62,559.10 L146.97,559.10 L147.32,559.10 L147.68,559.10 L148.03,559.10 L148.38,559.10 L148.74,559.10 L149.09,559.10 L149.44,559.10 L149.79,559.10 L150.15,559.10 L150.50,559.10 L150.85,559.10 L151.21,559.10 L151.56,559.10 L151.91,559.10 L152.26,559.10 L152.62,559.10 L152.97,559.10 L153.32,559.10 L153.67,559.10 L154.03,559.10 L154.38,559.10 L154.73,559.10 L155.09,559.10 L155.44,559.10 L155.79,559.10 L156.14,559.10 L156.50,559.10 L156.85,559.10 L157.20,559.10 L157.56,559.10 L157.91,559.10 L158.26,559.10 L158.61,559.10 L158.97,559.10 L159.32,559.10 L159.67,559.10 L160.03,559.10 L160.38,559.10 L160.73,559.10 L161.08,559.10 L161.44,559.10 L161.79,559.10 L162.14,559.10 L162.49,559.10 L162.85,559.10 L163.20,559.10 L163.55,559.10 L163.91,559.10 L164.26,559.10 L164.61,559.10 L164.96,559.10 L165.32,559.10 L165.67,559.10 L166.02,559.10 L166.38,559.10 L166.73,559.10 L167.08,559.10 L167.43,559.10 L167.79,559.10 L168.14,559.10 L168.49,559.10 L168.85,559.10 L169.20,559.10 L169.55,559.10 L169.90,559.10 L170.26,559.10 L170.61,559.10 L170.96,559.10 L171.31,559.10 L171.67,559.10 L172.02,559.10 L172.37,559.10 L172.73,559.10 L173.08,559.10 L173.43,559.10 L173.78,559.10 L174.14,559.10 L174.49,559.10 L174.84,559.10 L175.20,559.10 L175.55,559.10 L175.90,559.10 L176.25,559.10 L176.61,559.10 L176.96,559.10 L177.31,559.10 L177.67,559.10 L178.02,559.10 L178.37,559.10 L178.72,559.10 L179.08,559.10 L179.43,559.10 L179.78,559.10 L180.13,559.10 L180.49,559.10 L180.84,559.10 L181.19,559.10 L181.55,559.10 L181.90,559.10 L182.25,559.10 L182.60,559.10 L182.96,559.10 L183.31,559.10 L183.66,559.10 L184.02,559.10 L184.37,559.10 L184.72,559.10 L185.07,559.10 L185.43,559.10 L185.78,559.10 L186.13,559.10 L186.49,559.10 L186.84,559.10 L187.19,559.10 L187.54,559.10 L187.90,559.10 L188.25,559.10 L188.60,559.10 L188.95,559.10 L189.31,559.10 L189.66,559.10 L190.01,559.10 L190.37,559.10 L190.72,559.10 L191.07,559.10 L191.42,559.10 L191.78,559.10 L192.13,559.10 L192.48,559.10 L192.84,559.10 L193.19,559.10 L193.54,559.10 L193.89,559.10 L194.25,559.10 L194.60,559.10 L194.95,559.10 L195.31,559.10 L195.66,559.10 L196.01,559.10 L196.36,559.10 L196.72,559.10 L197.07,559.10 L197.42,559.10 L197.77,559.10 L198.13,559.10 L198.48,559.10 L198.83,559.10 L199.19,559.10 L199.54,559.10 L199.89,559.10 L200.24,559.10 L200.60,559.10 L200.95,559.10 L201.30,559.10 L201.66,559.10 L202.01,559.10 L202.36,559.10 L202.71,559.10 L203.07,559.10 L203.42,559.10 L203.77,559.10 L204.13,559.10 L204.48,559.10 L204.83,559.10 L205.18,559.10 L205.54,559.10 L205.89,559.10 L206.24,559.10 L206.59,559.10 L206.95,559.10 L207.30,559.10 L207.65,559.10 L208.01,559.10 L208.36,559.10 L208.71,559.10 L209.06,559.10 L209.42,559.10 L209.77,559.10" fill="none" stroke="#66A83D" stroke-width="1.7"/>
<line x1="68.65" y1="418.00" x2="68.65" y2="561.60" stroke="#1a1a1a" stroke-width="1.4" />
<line x1="68.65" y1="561.00" x2="237.70" y2="561.00" stroke="#1a1a1a" stroke-width="1.4" />
<rect x="65.25" y="416.60" width="6.8" height="6.8" fill="#66A83D"/>
<rect x="78.69" y="546.90" width="6.8" height="6.8" fill="#66A83D"/>
<rect x="92.13" y="552.00" width="6.8" height="6.8" fill="#66A83D"/>
<rect x="105.57" y="556.70" width="6.8" height="6.8" fill="#66A83D"/>
<rect x="125.73" y="554.30" width="6.8" height="6.8" fill="#66A83D"/>
<rect x="145.89" y="552.70" width="6.8" height="6.8" fill="#66A83D"/>
<rect x="166.05" y="555.70" width="6.8" height="6.8" fill="#66A83D"/>
<rect x="186.21" y="556.20" width="6.8" height="6.8" fill="#66A83D"/>
<rect x="206.37" y="552.70" width="6.8" height="6.8" fill="#66A83D"/>
<rect x="78.69" y="436.80" width="6.8" height="6.8" fill="none" stroke="#66A83D" stroke-width="1.2"/>
<rect x="92.13" y="439.30" width="6.8" height="6.8" fill="none" stroke="#66A83D" stroke-width="1.2"/>
<rect x="105.57" y="446.00" width="6.8" height="6.8" fill="none" stroke="#66A83D" stroke-width="1.2"/>
<rect x="125.73" y="453.30" width="6.8" height="6.8" fill="none" stroke="#66A83D" stroke-width="1.2"/>
<rect x="145.89" y="465.40" width="6.8" height="6.8" fill="none" stroke="#66A83D" stroke-width="1.2"/>
<rect x="166.05" y="478.30" width="6.8" height="6.8" fill="none" stroke="#66A83D" stroke-width="1.2"/>
<rect x="186.21" y="488.90" width="6.8" height="6.8" fill="none" stroke="#66A83D" stroke-width="1.2"/>
<rect x="206.37" y="497.20" width="6.8" height="6.8" fill="none" stroke="#66A83D" stroke-width="1.2"/>
<circle cx="68.65" cy="420.00" r="3.8" fill="#A50A30"/>
<circle cx="82.09" cy="429.20" r="3.8" fill="#A50A30"/>
<circle cx="95.53" cy="433.10" r="3.8" fill="#A50A30"/>
<circle cx="108.97" cy="441.20" r="3.8" fill="#A50A30"/>
<circle cx="129.13" cy="451.90" r="3.8" fill="#A50A30"/>
<circle cx="149.29" cy="458.20" r="3.8" fill="#A50A30"/>
<circle cx="169.45" cy="460.20" r="3.8" fill="#A50A30"/>
<circle cx="189.61" cy="465.50" r="3.8" fill="#A50A30"/>
<circle cx="209.77" cy="492.20" r="3.8" fill="#A50A30"/>
<line x1="100.50" y1="506.30" x2="111.50" y2="506.30" stroke="#A50A30" stroke-width="1.7" />
<circle cx="106.00" cy="506.30" r="3.6" fill="#A50A30"/>
<text transform="translate(115.30,509.30)" font-size="8.10" text-anchor="start" font-weight="normal" fill="#151515" >WT</text>
<line x1="100.50" y1="517.80" x2="111.50" y2="517.80" stroke="#66A83D" stroke-width="1.7" />
<rect x="102.60" y="514.40" width="6.8" height="6.8" fill="#66A83D"/>
<text transform="translate(115.30,520.80)" font-size="8.10" text-anchor="start" font-weight="normal" fill="#151515" >R510Q</text>
<line x1="100.50" y1="529.30" x2="111.50" y2="529.30" stroke="#66A83D" stroke-width="1.7" />
<rect x="103.15" y="526.45" width="5.699999999999999" height="5.699999999999999" fill="none" stroke="#66A83D" stroke-width="1.1"/>
<text transform="translate(115.30,532.30)" font-size="8.10" text-anchor="start" font-weight="normal" fill="#151515" >R510Q + AG-348</text>
<line x1="308.20" y1="433.00" x2="308.20" y2="563.00" stroke="#1a1a1a" stroke-width="1.4" />
<line x1="308.20" y1="562.20" x2="470.60" y2="562.20" stroke="#1a1a1a" stroke-width="1.4" />
<line x1="304.80" y1="561.60" x2="308.20" y2="561.60" stroke="#1a1a1a" stroke-width="1.4" />
<text transform="translate(301.40,564.50) scale(0.9091,1)" font-size="8.80" text-anchor="end" font-weight="normal" fill="#151515" >0.0</text>
<line x1="304.80" y1="530.10" x2="308.20" y2="530.10" stroke="#1a1a1a" stroke-width="1.4" />
<text transform="translate(301.40,533.00) scale(0.9091,1)" font-size="8.80" text-anchor="end" font-weight="normal" fill="#151515" >0.2</text>
<line x1="304.80" y1="498.60" x2="308.20" y2="498.60" stroke="#1a1a1a" stroke-width="1.4" />
<text transform="translate(301.40,501.50) scale(0.9091,1)" font-size="8.80" text-anchor="end" font-weight="normal" fill="#151515" >0.4</text>
<line x1="304.80" y1="467.10" x2="308.20" y2="467.10" stroke="#1a1a1a" stroke-width="1.4" />
<text transform="translate(301.40,470.00) scale(0.9091,1)" font-size="8.80" text-anchor="end" font-weight="normal" fill="#151515" >0.6</text>
<line x1="304.80" y1="435.60" x2="308.20" y2="435.60" stroke="#1a1a1a" stroke-width="1.4" />
<text transform="translate(301.40,438.50) scale(0.9091,1)" font-size="8.80" text-anchor="end" font-weight="normal" fill="#151515" >0.8</text>
<line x1="308.20" y1="562.20" x2="308.20" y2="565.00" stroke="#1a1a1a" stroke-width="1.1" />
<text transform="translate(308.20,575.90) scale(0.9091,1)" font-size="8.80" text-anchor="middle" font-weight="normal" fill="#151515" >0</text>
<line x1="348.20" y1="562.20" x2="348.20" y2="565.00" stroke="#1a1a1a" stroke-width="1.1" />
<text transform="translate(348.20,575.90) scale(0.9091,1)" font-size="8.80" text-anchor="middle" font-weight="normal" fill="#151515" >100</text>
<line x1="388.20" y1="562.20" x2="388.20" y2="565.00" stroke="#1a1a1a" stroke-width="1.1" />
<text transform="translate(388.20,575.90) scale(0.9091,1)" font-size="8.80" text-anchor="middle" font-weight="normal" fill="#151515" >200</text>
<line x1="428.20" y1="562.20" x2="428.20" y2="565.00" stroke="#1a1a1a" stroke-width="1.1" />
<text transform="translate(428.20,575.90) scale(0.9091,1)" font-size="8.80" text-anchor="middle" font-weight="normal" fill="#151515" >300</text>
<line x1="468.20" y1="562.20" x2="468.20" y2="565.00" stroke="#1a1a1a" stroke-width="1.1" />
<text transform="translate(468.20,575.90) scale(0.9091,1)" font-size="8.80" text-anchor="middle" font-weight="normal" fill="#151515" >400</text>
<text transform="translate(389.80,589.80) scale(0.8000,1)" font-size="11.12" text-anchor="middle" font-weight="normal" fill="#151515" >Time (min)</text>
<text transform="translate(284.40,496.40) rotate(-90) scale(0.9091,1)" font-size="9.90" text-anchor="middle" font-weight="normal" fill="#151515" >Residual pyruvate kinase activity</text>
<path d="M308.20,447.89 L308.68,452.23 L309.16,456.40 L309.64,460.41 L310.12,464.27 L310.60,467.97 L311.08,471.53 L311.56,474.96 L312.04,478.25 L312.52,481.41 L313.00,484.45 L313.48,487.37 L313.96,490.18 L314.44,492.88 L314.92,495.48 L315.40,497.97 L315.88,500.37 L316.36,502.67 L316.84,504.89 L317.32,507.01 L317.80,509.06 L318.28,511.03 L318.76,512.92 L319.24,514.73 L319.72,516.48 L320.20,518.16 L320.68,519.77 L321.16,521.32 L321.64,522.81 L322.12,524.25 L322.60,525.62 L323.08,526.95 L323.56,528.22 L324.04,529.44 L324.52,530.62 L325.00,531.75 L325.48,532.83 L325.96,533.87 L326.44,534.88 L326.92,535.84 L327.40,536.77 L327.88,537.66 L328.36,538.52 L328.84,539.34 L329.32,540.13 L329.80,540.89 L330.28,541.62 L330.76,542.32 L331.24,543.00 L331.72,543.65 L332.20,544.27 L332.68,544.87 L333.16,545.45 L333.64,546.00 L334.12,546.53 L334.60,547.04 L335.08,547.54 L335.56,548.01 L336.04,548.46 L336.52,548.90 L337.00,549.32 L337.48,549.72 L337.96,550.11 L338.44,550.48 L338.92,550.84 L339.40,551.19 L339.88,551.52 L340.36,551.83 L340.84,552.14 L341.32,552.43 L341.80,552.72 L342.28,552.99 L342.76,553.25 L343.24,553.50 L343.72,553.74 L344.20,553.97 L344.68,554.20 L345.16,554.41 L345.64,554.62 L346.12,554.81 L346.60,555.00 L347.08,555.19 L347.56,555.36 L348.04,555.53 L348.52,555.69 L349.00,555.85 L349.48,556.00 L349.96,556.14 L350.44,556.28 L350.92,556.41 L351.40,556.54 L351.88,556.67 L352.36,556.78 L352.84,556.90 L353.32,557.01 L353.80,557.11 L354.28,557.21 L354.76,557.31 L355.24,557.40 L355.72,557.49 L356.20,557.58 L356.68,557.66 L357.16,557.74 L357.64,557.82 L358.12,557.89 L358.60,557.96 L359.08,558.03 L359.56,558.09 L360.04,558.16 L360.52,558.22 L361.00,558.28 L361.48,558.33 L361.96,558.38 L362.44,558.44 L362.92,558.49 L363.40,558.53 L363.88,558.58 L364.36,558.62 L364.84,558.66 L365.32,558.71 L365.80,558.74 L366.28,558.78 L366.76,558.82 L367.24,558.85 L367.72,558.89 L368.20,558.92 L368.68,558.95 L369.16,558.98 L369.64,559.01 L370.12,559.03 L370.60,559.06 L371.08,559.09 L371.56,559.11 L372.04,559.13 L372.52,559.16 L373.00,559.18 L373.48,559.20 L373.96,559.22 L374.44,559.24 L374.92,559.26 L375.40,559.27 L375.88,559.29 L376.36,559.31 L376.84,559.32 L377.32,559.34 L377.80,559.35 L378.28,559.37 L378.76,559.38 L379.24,559.39 L379.72,559.40 L380.20,559.42 L380.68,559.43 L381.16,559.44 L381.64,559.45 L382.12,559.46 L382.60,559.47 L383.08,559.48 L383.56,559.49 L384.04,559.50 L384.52,559.50 L385.00,559.51 L385.48,559.52 L385.96,559.53 L386.44,559.53 L386.92,559.54 L387.40,559.55 L387.88,559.55 L388.36,559.56 L388.84,559.57 L389.32,559.57 L389.80,559.58 L390.28,559.58 L390.76,559.59 L391.24,559.59 L391.72,559.60 L392.20,559.60 L392.68,559.60 L393.16,559.61 L393.64,559.61 L394.12,559.62 L394.60,559.62 L395.08,559.62 L395.56,559.63 L396.04,559.63 L396.52,559.63 L397.00,559.64 L397.48,559.64 L397.96,559.64 L398.44,559.64 L398.92,559.65 L399.40,559.65 L399.88,559.65 L400.36,559.65 L400.84,559.66 L401.32,559.66 L401.80,559.66 L402.28,559.66 L402.76,559.66 L403.24,559.67 L403.72,559.67 L404.20,559.67 L404.68,559.67 L405.16,559.67 L405.64,559.67 L406.12,559.68 L406.60,559.68 L407.08,559.68 L407.56,559.68 L408.04,559.68 L408.52,559.68 L409.00,559.68 L409.48,559.68 L409.96,559.68 L410.44,559.69 L410.92,559.69 L411.40,559.69 L411.88,559.69 L412.36,559.69 L412.84,559.69 L413.32,559.69 L413.80,559.69 L414.28,559.69 L414.76,559.69 L415.24,559.69 L415.72,559.69 L416.20,559.69 L416.68,559.70 L417.16,559.70 L417.64,559.70 L418.12,559.70 L418.60,559.70 L419.08,559.70 L419.56,559.70 L420.04,559.70 L420.52,559.70 L421.00,559.70 L421.48,559.70 L421.96,559.70 L422.44,559.70 L422.92,559.70 L423.40,559.70 L423.88,559.70 L424.36,559.70 L424.84,559.70 L425.32,559.70 L425.80,559.70 L426.28,559.70 L426.76,559.70 L427.24,559.70 L427.72,559.70 L428.20,559.70 L428.68,559.70 L429.16,559.70 L429.64,559.71 L430.12,559.71 L430.60,559.71 L431.08,559.71 L431.56,559.71 L432.04,559.71 L432.52,559.71 L433.00,559.71 L433.48,559.71 L433.96,559.71 L434.44,559.71 L434.92,559.71 L435.40,559.71 L435.88,559.71 L436.36,559.71 L436.84,559.71 L437.32,559.71 L437.80,559.71 L438.28,559.71 L438.76,559.71 L439.24,559.71 L439.72,559.71 L440.20,559.71 L440.68,559.71 L441.16,559.71 L441.64,559.71 L442.12,559.71 L442.60,559.71 L443.08,559.71 L443.56,559.71 L444.04,559.71 L444.52,559.71 L445.00,559.71 L445.48,559.71 L445.96,559.71 L446.44,559.71 L446.92,559.71 L447.40,559.71 L447.88,559.71 L448.36,559.71 L448.84,559.71 L449.32,559.71 L449.80,559.71 L450.28,559.71 L450.76,559.71 L451.24,559.71 L451.72,559.71 L452.20,559.71" fill="none" stroke="#66A83D" stroke-width="1.7"/>
<path d="M308.20,557.82 L380.20,557.82 L452.20,557.82" fill="none" stroke="#66A83D" stroke-width="1.7"/>
<rect x="305.00" y="553.99" width="6.4" height="6.4" fill="#66A83D"/>
<rect x="313.00" y="555.41" width="6.4" height="6.4" fill="#66A83D"/>
<rect x="321.00" y="552.10" width="6.4" height="6.4" fill="#66A83D"/>
<rect x="329.00" y="552.10" width="6.4" height="6.4" fill="#66A83D"/>
<rect x="341.00" y="555.25" width="6.4" height="6.4" fill="#66A83D"/>
<rect x="353.00" y="554.30" width="6.4" height="6.4" fill="#66A83D"/>
<rect x="377.00" y="555.09" width="6.4" height="6.4" fill="#66A83D"/>
<rect x="401.00" y="557.14" width="6.4" height="6.4" fill="#66A83D"/>
<rect x="425.00" y="553.67" width="6.4" height="6.4" fill="#66A83D"/>
<rect x="449.00" y="558.40" width="6.4" height="6.4" fill="#66A83D"/>
<rect x="305.15" y="453.03" width="6.1" height="6.1" fill="none" stroke="#66A83D" stroke-width="1.1"/>
<rect x="313.15" y="499.49" width="6.1" height="6.1" fill="none" stroke="#66A83D" stroke-width="1.1"/>
<rect x="321.15" y="524.69" width="6.1" height="6.1" fill="none" stroke="#66A83D" stroke-width="1.1"/>
<rect x="329.15" y="538.70" width="6.1" height="6.1" fill="none" stroke="#66A83D" stroke-width="1.1"/>
<rect x="341.15" y="550.20" width="6.1" height="6.1" fill="none" stroke="#66A83D" stroke-width="1.1"/>
<rect x="353.15" y="554.61" width="6.1" height="6.1" fill="none" stroke="#66A83D" stroke-width="1.1"/>
<rect x="377.15" y="555.40" width="6.1" height="6.1" fill="none" stroke="#66A83D" stroke-width="1.1"/>
<rect x="401.15" y="556.66" width="6.1" height="6.1" fill="none" stroke="#66A83D" stroke-width="1.1"/>
<rect x="425.15" y="556.66" width="6.1" height="6.1" fill="none" stroke="#66A83D" stroke-width="1.1"/>
<rect x="449.15" y="556.50" width="6.1" height="6.1" fill="none" stroke="#66A83D" stroke-width="1.1"/>
<line x1="350.60" y1="458.30" x2="364.20" y2="458.30" stroke="#66A83D" stroke-width="1.7" />
<rect x="354.30" y="455.10" width="6.4" height="6.4" fill="#66A83D"/>
<text transform="translate(367.90,461.30)" font-size="8.00" text-anchor="start" font-weight="normal" fill="#151515" >R510Q + FBP</text>
<line x1="350.60" y1="469.80" x2="364.20" y2="469.80" stroke="#66A83D" stroke-width="1.7" />
<rect x="354.75" y="467.05" width="5.5" height="5.5" fill="none" stroke="#66A83D" stroke-width="1.1"/>
<text transform="translate(367.90,472.80)" font-size="8.00" text-anchor="start" font-weight="normal" fill="#151515" >R510Q + AG-348</text>
<g><path d="M84.8,66.0 C84.9,64.3 84.3,59.0 85.5,56.0 C86.7,53.0 89.6,49.8 92.0,48.0 C94.4,46.2 97.2,45.7 99.8,45.0 C102.3,44.3 105.6,43.3 107.3,43.8 C109.0,44.3 109.6,46.6 110.0,48.0 C110.4,49.4 109.7,51.3 109.6,52.0" fill="none" stroke="#4a4a4a" stroke-width="0.9" stroke-linecap="round" stroke-linejoin="round"/>
<path d="M62.0,66.0 C62.7,65.0 64.7,61.5 66.0,60.0 C67.3,58.5 68.1,57.4 69.8,57.1 C71.5,56.8 74.5,57.2 76.0,58.0 C77.5,58.8 78.3,60.5 79.0,62.0 C79.7,63.5 80.2,65.3 80.0,67.0 C79.8,68.7 78.3,71.2 78.0,72.0" fill="none" stroke="#4a4a4a" stroke-width="0.9" stroke-linecap="round" stroke-linejoin="round"/>
<path d="M133.0,53.0 C133.3,51.8 133.8,47.6 135.0,46.0 C136.2,44.4 138.0,43.8 140.0,43.5 C142.0,43.2 144.8,43.3 147.0,44.0 C149.2,44.7 151.3,46.2 153.0,47.5 C154.7,48.8 156.2,50.3 157.0,52.0 C157.8,53.7 158.3,55.7 158.0,57.5 C157.7,59.3 156.3,61.4 155.0,63.0 C153.7,64.6 150.8,66.3 150.0,67.0" fill="none" stroke="#4a4a4a" stroke-width="0.9" stroke-linecap="round" stroke-linejoin="round"/>
<path d="M81.0,168.0 C81.1,169.3 81.0,173.7 81.5,176.0 C82.0,178.3 82.6,180.3 84.0,182.0 C85.4,183.7 87.8,184.8 90.0,186.0 C92.2,187.2 95.0,188.9 97.0,189.0 C99.0,189.1 100.8,187.8 102.0,186.5 C103.2,185.2 103.8,182.9 104.0,181.0 C104.2,179.1 103.2,176.0 103.0,175.0" fill="none" stroke="#4a4a4a" stroke-width="0.9" stroke-linecap="round" stroke-linejoin="round"/>
<path d="M129.0,184.0 C129.3,184.7 129.8,187.2 131.0,188.0 C132.2,188.8 133.8,189.2 136.0,189.0 C138.2,188.8 141.7,187.3 144.0,186.5 C146.3,185.7 148.5,185.1 150.0,184.0 C151.5,182.9 152.5,181.7 153.0,180.0 C153.5,178.3 153.0,175.0 153.0,174.0" fill="none" stroke="#4a4a4a" stroke-width="0.9" stroke-linecap="round" stroke-linejoin="round"/>
<path d="M200.0,111.0 C202.0,110.5 208.3,107.8 212.0,108.0 C215.7,108.2 219.2,111.7 222.0,112.0 C224.8,112.3 227.0,110.0 229.0,110.0 C231.0,110.0 233.5,110.7 234.0,112.0 C234.5,113.3 233.3,116.0 232.0,118.0 C230.7,120.0 228.0,121.8 226.0,124.0 C224.0,126.2 221.5,129.3 220.0,131.0 C218.5,132.7 217.5,133.5 217.0,134.0" fill="none" stroke="#4a4a4a" stroke-width="0.9" stroke-linecap="round" stroke-linejoin="round"/>
<path d="M202.0,118.0 C203.0,119.7 206.0,125.2 208.0,128.0 C210.0,130.8 212.3,134.2 214.0,135.0 C215.7,135.8 217.3,133.3 218.0,133.0" fill="none" stroke="#4a4a4a" stroke-width="0.9" stroke-linecap="round" stroke-linejoin="round"/>
<path d="M8.0,124.0 C8.3,123.2 9.0,120.7 10.0,119.0 C11.0,117.3 12.8,115.8 14.0,114.0 C15.2,112.2 16.0,110.3 17.0,108.0 C18.0,105.7 18.8,102.2 20.0,100.0 C21.2,97.8 22.7,96.2 24.0,95.0 C25.3,93.8 27.3,93.3 28.0,93.0" fill="none" stroke="#4a4a4a" stroke-width="0.9" stroke-linecap="round" stroke-linejoin="round"/>
<path d="M8.0,124.0 C8.7,124.5 10.3,126.3 12.0,127.0 C13.7,127.7 16.0,128.2 18.0,128.0 C20.0,127.8 22.3,126.7 24.0,126.0 C25.7,125.3 27.3,124.3 28.0,124.0" fill="none" stroke="#4a4a4a" stroke-width="0.9" stroke-linecap="round" stroke-linejoin="round"/>
<path d="M195.0,140.0 C195.8,141.0 198.5,144.3 200.0,146.0 C201.5,147.7 203.0,150.5 204.0,150.0 C205.0,149.5 205.3,145.3 206.0,143.0 C206.7,140.7 207.7,137.2 208.0,136.0" fill="none" stroke="#4a4a4a" stroke-width="0.9" stroke-linecap="round" stroke-linejoin="round"/>
<path d="M22.0,98.0 C23.3,97.0 27.7,93.2 30.0,92.0 C32.3,90.8 34.3,90.5 36.0,91.0 C37.7,91.5 39.3,94.3 40.0,95.0" fill="none" stroke="#4a4a4a" stroke-width="0.9" stroke-linecap="round" stroke-linejoin="round"/>
<path d="M117.0,66.0 C116.3,65.3 114.5,62.8 113.0,62.0 C111.5,61.2 109.2,60.3 108.0,61.0 C106.8,61.7 106.0,64.5 106.0,66.0 C106.0,67.5 106.7,69.2 108.0,70.0 C109.3,70.8 112.2,71.2 114.0,71.0 C115.8,70.8 118.2,69.3 119.0,69.0" fill="none" stroke="#4a4a4a" stroke-width="0.9" stroke-linecap="round" stroke-linejoin="round"/>
<path d="M170.0,168.0 C169.3,168.7 167.7,171.0 166.0,172.0 C164.3,173.0 161.7,174.3 160.0,174.0 C158.3,173.7 156.3,171.8 156.0,170.0 C155.7,168.2 157.7,164.2 158.0,163.0" fill="none" stroke="#4a4a4a" stroke-width="0.9" stroke-linecap="round" stroke-linejoin="round"/>
<path d="M197.0,79.0 C197.8,78.7 200.5,76.3 202.0,77.0 C203.5,77.7 205.5,80.7 206.0,83.0 C206.5,85.3 206.2,89.0 205.0,91.0 C203.8,93.0 200.0,94.3 199.0,95.0" fill="none" stroke="#4a4a4a" stroke-width="0.9" stroke-linecap="round" stroke-linejoin="round"/>
<path d="M117.0,90.0 C117.3,91.0 118.3,94.0 119.0,96.0 C119.7,98.0 120.7,101.0 121.0,102.0" fill="none" stroke="#4a4a4a" stroke-width="0.9" stroke-linecap="round" stroke-linejoin="round"/>
<path d="M117.0,110.0 C116.5,111.3 114.2,115.3 114.0,118.0 C113.8,120.7 115.2,123.8 116.0,126.0 C116.8,128.2 118.5,130.2 119.0,131.0" fill="none" stroke="#4a4a4a" stroke-width="0.9" stroke-linecap="round" stroke-linejoin="round"/>
<path d="M123.0,110.0 C123.5,111.3 125.8,115.3 126.0,118.0 C126.2,120.7 124.8,123.8 124.0,126.0 C123.2,128.2 121.5,130.2 121.0,131.0" fill="none" stroke="#4a4a4a" stroke-width="0.9" stroke-linecap="round" stroke-linejoin="round"/>
<path d="M108.4,49.9 L107.7,51.1 L107.7,52.8 L108.3,54.3 L109.2,55.3 L109.8,55.5 L109.8,54.8 L109.0,53.8 L107.7,52.8 L106.1,52.3 L104.8,52.7 L104.1,53.9 L104.1,55.6 L104.7,57.1 L105.6,58.1 L106.2,58.3 L106.2,57.6 L105.4,56.6 L104.1,55.6 L102.5,55.1 L101.2,55.5 L100.5,56.7 L100.5,58.4 L101.1,59.9 L102.0,60.9 L102.6,61.1 L102.6,60.4 L101.8,59.4 L100.5,58.4 L98.9,57.9 L97.6,58.3 L96.9,59.5 L96.9,61.2 L97.5,62.7 L98.4,63.7 L99.0,63.9 L99.0,63.2 L98.2,62.2 L96.9,61.2 L95.3,60.7 L94.0,61.1 L93.3,62.3 L93.3,64.0 L93.9,65.5 L94.8,66.5 L95.4,66.7 L95.4,66.0 L94.6,65.0 L93.3,64.0 L91.7,63.5 L90.4,63.9" fill="none" stroke="#3c3c3c" stroke-width="1.6" stroke-linecap="round" stroke-linejoin="round"/>
<path d="M48.7,80.7 L49.2,79.5 L49.1,78.0 L48.3,76.6 L47.5,75.8 L46.9,75.7 L47.0,76.2 L47.9,77.1 L49.2,77.8 L50.7,78.0 L51.9,77.4 L52.5,76.2 L52.3,74.7 L51.6,73.4 L50.7,72.5 L50.2,72.4 L50.3,73.0 L51.1,73.8 L52.5,74.6 L54.0,74.7 L55.2,74.2 L55.7,73.0 L55.6,71.5 L54.8,70.1 L54.0,69.3 L53.4,69.2 L53.5,69.7 L54.4,70.6 L55.7,71.3 L57.2,71.5 L58.4,70.9 L59.0,69.7 L58.8,68.2 L58.1,66.9 L57.2,66.0 L56.7,65.9 L56.8,66.5 L57.6,67.3 L59.0,68.1 L60.5,68.2 L61.7,67.7" fill="none" stroke="#3c3c3c" stroke-width="1.6" stroke-linecap="round" stroke-linejoin="round"/>
<path d="M35.8,156.1 L37.1,156.3 L38.6,155.7 L39.7,154.7 L40.3,153.7 L40.3,153.1 L39.8,153.4 L39.2,154.4 L38.9,155.9 L39.1,157.5 L40.0,158.5 L41.3,158.7 L42.8,158.1 L43.9,157.1 L44.5,156.1 L44.5,155.5 L44.0,155.8 L43.4,156.8 L43.1,158.3 L43.3,159.9 L44.2,160.9 L45.5,161.1 L47.0,160.5 L48.1,159.5 L48.7,158.5 L48.7,157.9 L48.2,158.2 L47.6,159.2 L47.3,160.7 L47.5,162.3 L48.4,163.3 L49.7,163.5 L51.2,162.9 L52.3,161.9 L52.9,160.9 L52.9,160.3 L52.4,160.6 L51.8,161.6 L51.5,163.1 L51.7,164.7 L52.6,165.7 L53.9,165.9 L55.4,165.3 L56.5,164.3 L57.1,163.3 L57.1,162.7 L56.6,163.0 L56.0,164.0 L55.7,165.5 L55.9,167.1 L56.8,168.1" fill="none" stroke="#3c3c3c" stroke-width="1.6" stroke-linecap="round" stroke-linejoin="round"/>
<path d="M129.8,184.8 L130.4,183.5 L130.3,181.8 L129.6,180.3 L128.7,179.4 L128.2,179.2 L128.4,179.7 L129.3,180.6 L130.8,181.3 L132.5,181.4 L133.8,180.8 L134.4,179.5 L134.3,177.8 L133.6,176.3 L132.7,175.4 L132.2,175.2 L132.4,175.7 L133.3,176.6 L134.8,177.3 L136.5,177.4 L137.8,176.8 L138.4,175.5 L138.3,173.8 L137.6,172.3 L136.7,171.4 L136.2,171.2 L136.4,171.7 L137.3,172.6 L138.8,173.3 L140.5,173.4 L141.8,172.8 L142.4,171.5 L142.3,169.8 L141.6,168.3 L140.7,167.4 L140.2,167.2 L140.4,167.7 L141.3,168.6 L142.8,169.3 L144.5,169.4 L145.8,168.8 L146.4,167.5 L146.3,165.8 L145.6,164.3 L144.7,163.4 L144.2,163.2 L144.4,163.7 L145.3,164.6 L146.8,165.3 L148.5,165.4 L149.8,164.8" fill="none" stroke="#3c3c3c" stroke-width="1.6" stroke-linecap="round" stroke-linejoin="round"/>
<path d="M112.2,79.0 L112.6,80.1 L113.8,80.9 L115.2,81.3 L116.4,81.2 L116.8,80.8 L116.4,80.5 L115.2,80.4 L113.8,80.7 L112.6,81.6 L112.2,82.7 L112.6,83.8 L113.8,84.6 L115.2,85.0 L116.4,84.9 L116.8,84.5 L116.4,84.1 L115.2,84.0 L113.8,84.4 L112.6,85.2 L112.2,86.3 L112.6,87.4 L113.8,88.3 L115.2,88.6 L116.4,88.5 L116.8,88.2 L116.4,87.8 L115.2,87.7 L113.8,88.1 L112.6,88.9 L112.2,90.0" fill="none" stroke="#3c3c3c" stroke-width="1.3" stroke-linecap="round" stroke-linejoin="round"/>
<path d="M124.2,80.0 L124.6,81.1 L125.8,82.0 L127.2,82.4 L128.4,82.3 L128.8,82.0 L128.4,81.7 L127.2,81.6 L125.8,82.0 L124.6,82.9 L124.2,84.0 L124.6,85.1 L125.8,86.0 L127.2,86.4 L128.4,86.3 L128.8,86.0 L128.4,85.7 L127.2,85.6 L125.8,86.0 L124.6,86.9 L124.2,88.0 L124.6,89.1 L125.8,90.0 L127.2,90.4 L128.4,90.3 L128.8,90.0 L128.4,89.7 L127.2,89.6 L125.8,90.0 L124.6,90.9 L124.2,92.0" fill="none" stroke="#3c3c3c" stroke-width="1.3" stroke-linecap="round" stroke-linejoin="round"/>
<path d="M103.0,105.2 L104.1,104.8 L105.0,103.7 L105.4,102.3 L105.3,101.2 L105.0,100.8 L104.7,101.2 L104.6,102.3 L105.0,103.7 L105.9,104.8 L107.0,105.2 L108.1,104.8 L109.0,103.7 L109.4,102.3 L109.3,101.2 L109.0,100.8 L108.7,101.2 L108.6,102.3 L109.0,103.7 L109.9,104.8 L111.0,105.2 L112.1,104.8 L113.0,103.7 L113.4,102.3 L113.3,101.2 L113.0,100.8 L112.7,101.2 L112.6,102.3 L113.0,103.7 L113.9,104.8 L115.0,105.2" fill="none" stroke="#3c3c3c" stroke-width="1.3" stroke-linecap="round" stroke-linejoin="round"/>
<path d="M124.0,105.2 L125.1,104.8 L125.9,103.7 L126.3,102.3 L126.2,101.2 L125.8,100.8 L125.5,101.2 L125.4,102.3 L125.8,103.7 L126.6,104.8 L127.7,105.2 L128.7,104.8 L129.6,103.7 L129.9,102.3 L129.8,101.2 L129.5,100.8 L129.2,101.2 L129.1,102.3 L129.4,103.7 L130.3,104.8 L131.3,105.2 L132.4,104.8 L133.2,103.7 L133.6,102.3 L133.5,101.2 L133.2,100.8 L132.8,101.2 L132.7,102.3 L133.1,103.7 L133.9,104.8 L135.0,105.2" fill="none" stroke="#3c3c3c" stroke-width="1.3" stroke-linecap="round" stroke-linejoin="round"/>
<path d="M109.7,145.2 L110.3,146.3 L111.5,146.9 L112.9,147.1 L114.1,146.9 L114.5,146.4 L114.0,146.1 L112.8,146.1 L111.4,146.5 L110.4,147.4 L110.0,148.6 L110.6,149.6 L111.8,150.3 L113.3,150.5 L114.4,150.2 L114.8,149.8 L114.3,149.4 L113.2,149.4 L111.8,149.9 L110.7,150.8 L110.4,151.9 L110.9,152.9 L112.1,153.6 L113.6,153.8 L114.7,153.6 L115.1,153.1 L114.6,152.7 L113.5,152.7 L112.1,153.2 L111.0,154.1 L110.7,155.2" fill="none" stroke="#3c3c3c" stroke-width="1.3" stroke-linecap="round" stroke-linejoin="round"/>
<path d="M122.7,144.0 L123.1,145.1 L124.3,145.9 L125.7,146.2 L126.9,146.1 L127.3,145.7 L126.9,145.3 L125.7,145.1 L124.3,145.5 L123.1,146.3 L122.7,147.3 L123.1,148.4 L124.3,149.2 L125.7,149.5 L126.9,149.4 L127.3,149.0 L126.9,148.6 L125.7,148.5 L124.3,148.8 L123.1,149.6 L122.7,150.7 L123.1,151.7 L124.3,152.5 L125.7,152.9 L126.9,152.7 L127.3,152.3 L126.9,151.9 L125.7,151.8 L124.3,152.1 L123.1,152.9 L122.7,154.0" fill="none" stroke="#3c3c3c" stroke-width="1.3" stroke-linecap="round" stroke-linejoin="round"/>
<path d="M179.9,70.1 L181.3,70.3 L182.7,69.7 L183.9,68.7 L184.5,67.6 L184.5,67.1 L184.1,67.4 L183.6,68.5 L183.3,70.1 L183.7,71.6 L184.6,72.6 L186.0,72.8 L187.5,72.2 L188.6,71.2 L189.2,70.1 L189.2,69.6 L188.8,69.9 L188.3,71.0 L188.1,72.6 L188.4,74.1 L189.4,75.1 L190.8,75.3 L192.2,74.7 L193.4,73.7 L194.0,72.6 L194.0,72.1 L193.6,72.4 L193.1,73.5 L192.8,75.1 L193.2,76.6 L194.1,77.6 L195.5,77.8 L197.0,77.2 L198.1,76.2 L198.7,75.1 L198.7,74.6 L198.3,74.9 L197.8,76.0 L197.6,77.6 L197.9,79.1 L198.9,80.1" fill="none" stroke="#3c3c3c" stroke-width="1.6" stroke-linecap="round" stroke-linejoin="round"/>
<path d="M175.7,170.5 L176.2,169.3 L175.9,167.9 L175.2,166.6 L174.3,165.9 L173.8,165.8 L173.9,166.3 L174.8,167.1 L176.1,167.7 L177.6,167.7 L178.7,167.1 L179.2,165.9 L178.9,164.5 L178.2,163.2 L177.3,162.5 L176.8,162.4 L176.9,162.9 L177.8,163.7 L179.1,164.3 L180.6,164.3 L181.7,163.7 L182.2,162.5 L181.9,161.1 L181.2,159.8 L180.3,159.1 L179.8,159.0 L179.9,159.5 L180.8,160.3 L182.1,160.9 L183.6,160.9 L184.7,160.3 L185.2,159.1 L184.9,157.7 L184.2,156.4 L183.3,155.7 L182.8,155.6 L182.9,156.1 L183.8,156.9 L185.1,157.5 L186.6,157.5 L187.7,156.9 L188.2,155.7 L187.9,154.3 L187.2,153.0 L186.3,152.3 L185.8,152.2 L185.9,152.7 L186.8,153.5 L188.1,154.1 L189.6,154.1 L190.7,153.5" fill="none" stroke="#3c3c3c" stroke-width="1.6" stroke-linecap="round" stroke-linejoin="round"/>
<path d="M58.6,151.7 L59.8,152.2 L61.2,151.9 L62.5,151.2 L63.3,150.4 L63.4,150.0 L63.0,150.2 L62.4,151.1 L61.9,152.5 L61.9,153.9 L62.6,155.0 L63.8,155.5 L65.2,155.3 L66.5,154.5 L67.3,153.8 L67.4,153.3 L67.0,153.5 L66.4,154.4 L65.9,155.8 L65.9,157.2 L66.6,158.4 L67.8,158.8 L69.2,158.6 L70.5,157.9 L71.3,157.1 L71.4,156.6 L71.0,156.8 L70.4,157.7 L69.9,159.1 L69.9,160.6 L70.6,161.7" fill="none" stroke="#3c3c3c" stroke-width="1.4" stroke-linecap="round" stroke-linejoin="round"/>
<path d="M149.4,173.7 L150.1,172.6 L150.1,171.1 L149.6,169.7 L149.0,168.8 L148.6,168.6 L148.7,169.1 L149.5,169.9 L150.8,170.6 L152.2,170.8 L153.4,170.4 L154.1,169.2 L154.1,167.8 L153.6,166.4 L153.0,165.5 L152.6,165.3 L152.7,165.8 L153.5,166.5 L154.8,167.3 L156.2,167.5 L157.4,167.0 L158.1,165.9 L158.1,164.5 L157.6,163.1 L157.0,162.2 L156.6,162.0 L156.7,162.4 L157.5,163.2 L158.8,163.9 L160.2,164.2 L161.4,163.7" fill="none" stroke="#3c3c3c" stroke-width="1.4" stroke-linecap="round" stroke-linejoin="round"/>
<path d="M166.3,85.8 L167.0,84.8 L167.1,83.3 L166.6,82.0 L166.0,81.1 L165.5,80.9 L165.6,81.4 L166.2,82.3 L167.4,83.1 L168.8,83.5 L170.0,83.1 L170.7,82.1 L170.7,80.7 L170.3,79.3 L169.7,78.4 L169.2,78.2 L169.2,78.7 L169.9,79.6 L171.1,80.4 L172.4,80.8 L173.6,80.4 L174.3,79.4 L174.4,78.0 L174.0,76.6 L173.3,75.7 L172.9,75.6 L172.9,76.0 L173.6,76.9 L174.7,77.8 L176.1,78.1 L177.3,77.8" fill="none" stroke="#3c3c3c" stroke-width="1.4" stroke-linecap="round" stroke-linejoin="round"/>
<path d="M110.0,68.0 C110.6,68.4 112.3,69.7 113.5,70.5 C114.7,71.3 116.4,72.6 117.0,73.0" fill="none" stroke="#3c3c3c" stroke-width="2.2" stroke-linecap="round" stroke-linejoin="round"/>
<path d="M123.7,71.5 C124.2,71.7 125.8,72.2 127.0,72.5 C128.2,72.8 130.3,73.3 131.0,73.5" fill="none" stroke="#3c3c3c" stroke-width="2.4" stroke-linecap="round" stroke-linejoin="round"/>
<path d="M71.5,106.5 C71.9,106.6 73.0,107.0 73.8,107.1 C74.6,107.1 75.4,107.1 76.2,106.9 C77.0,106.8 77.8,106.5 78.5,106.2 C79.3,106.0 80.4,105.6 80.8,105.4" fill="none" stroke="#484848" stroke-width="1.38" stroke-linecap="round" stroke-linejoin="round"/>
<path d="M155.8,154.0 C156.2,153.9 157.3,153.7 158.1,153.5 C158.9,153.3 159.7,153.0 160.4,152.8 C161.2,152.5 161.9,152.2 162.7,152.0 C163.5,151.9 164.7,151.9 165.1,151.9" fill="none" stroke="#565656" stroke-width="1.2" stroke-linecap="round" stroke-linejoin="round"/>
<path d="M57.1,85.6 C56.8,85.5 55.7,84.8 55.0,84.7 C54.2,84.6 53.3,84.7 52.6,85.0 C51.9,85.2 51.2,85.8 50.5,86.2 C49.9,86.6 49.2,87.1 48.6,87.6 C47.9,88.0 47.1,88.3 46.5,88.7 C45.8,89.1 45.1,89.5 44.4,90.0 C43.7,90.4 43.1,91.0 42.5,91.4 C41.8,91.8 41.1,92.3 40.4,92.6 C39.6,92.8 38.4,93.0 38.1,93.1" fill="none" stroke="#404040" stroke-width="0.96" stroke-linecap="round" stroke-linejoin="round"/>
<path d="M185.7,138.8 C185.7,139.1 185.3,140.3 185.3,141.1 C185.4,141.9 185.7,142.7 186.1,143.4 C186.5,144.0 187.1,144.7 187.6,145.2 C188.2,145.7 188.9,146.2 189.7,146.5 C190.4,146.7 191.2,146.8 192.0,146.8 C192.8,146.8 193.6,146.6 194.4,146.4 C195.2,146.2 195.9,145.9 196.6,145.6 C197.4,145.3 198.3,144.8 198.8,144.5 C199.3,144.3 199.6,144.0 199.8,143.9" fill="none" stroke="#404040" stroke-width="0.94" stroke-linecap="round" stroke-linejoin="round"/>
<path d="M82.9,97.4 C82.6,97.6 81.6,98.4 81.0,98.9 C80.4,99.4 79.9,100.0 79.3,100.6 C78.7,101.1 78.1,101.6 77.5,102.1 C76.9,102.7 76.3,103.2 75.7,103.8 C75.1,104.3 74.5,104.8 73.9,105.3 C73.3,105.8 72.7,106.4 72.0,106.8 C71.4,107.3 70.7,107.7 70.0,108.1 C69.3,108.5 68.6,108.8 67.8,109.1 C67.1,109.4 66.3,109.6 65.5,109.9 C64.8,110.1 63.8,110.3 63.2,110.5 C62.6,110.6 62.3,110.8 62.1,110.8" fill="none" stroke="#4b4b4b" stroke-width="1.43" stroke-linecap="round" stroke-linejoin="round"/>
<path d="M65.2,136.2 C65.0,135.8 64.5,134.7 64.2,134.0 C63.9,133.2 63.7,132.5 63.4,131.7 C63.0,131.0 62.6,130.3 62.3,129.6 C62.0,128.8 61.6,127.7 61.5,127.3" fill="none" stroke="#404040" stroke-width="1.31" stroke-linecap="round" stroke-linejoin="round"/>
<path d="M104.4,161.1 C104.2,160.8 103.3,159.9 103.1,159.1 C102.8,158.4 102.7,157.5 102.8,156.8 C102.9,156.0 103.2,155.2 103.7,154.5 C104.1,153.9 104.7,153.3 105.4,152.9 C106.0,152.5 106.9,152.3 107.7,152.2 C108.4,152.1 109.3,152.2 110.1,152.2 C110.9,152.2 111.9,152.1 112.5,152.0 C113.0,151.9 113.4,151.8 113.6,151.8" fill="none" stroke="#565656" stroke-width="1.11" stroke-linecap="round" stroke-linejoin="round"/>
<path d="M154.8,136.9 C154.4,136.7 153.3,136.3 152.7,135.8 C152.0,135.4 151.3,134.9 150.7,134.5 C150.0,134.1 149.3,133.7 148.6,133.3 C147.9,132.9 147.1,132.6 146.4,132.3 C145.6,132.1 144.9,131.8 144.1,131.6 C143.3,131.5 142.1,131.3 141.7,131.2" fill="none" stroke="#4b4b4b" stroke-width="1.06" stroke-linecap="round" stroke-linejoin="round"/>
<path d="M137.9,127.6 C138.0,128.0 138.4,129.1 138.4,129.9 C138.4,130.7 138.3,131.5 138.1,132.3 C137.9,133.1 137.5,133.8 137.3,134.5 C137.0,135.3 136.8,136.1 136.7,136.9 C136.5,137.6 136.4,138.8 136.3,139.2" fill="none" stroke="#565656" stroke-width="1.1" stroke-linecap="round" stroke-linejoin="round"/>
<path d="M173.6,152.2 C173.6,152.6 173.7,153.8 173.6,154.6 C173.5,155.4 173.3,156.2 173.1,156.9 C173.0,157.7 172.8,158.5 172.7,159.3 C172.6,160.1 172.4,160.9 172.5,161.7 C172.6,162.5 172.8,163.3 173.2,164.0 C173.6,164.6 174.3,165.2 175.0,165.5 C175.7,165.8 176.6,165.9 177.4,165.8 C178.1,165.7 179.2,165.1 179.6,164.9" fill="none" stroke="#616161" stroke-width="1.03" stroke-linecap="round" stroke-linejoin="round"/>
<path d="M150.8,131.6 C151.2,131.4 152.4,130.9 152.8,130.3 C153.3,129.7 153.6,128.8 153.5,128.1 C153.5,127.3 152.9,126.4 152.6,125.9 C152.3,125.4 151.9,125.2 151.7,125.1" fill="none" stroke="#404040" stroke-width="1.26" stroke-linecap="round" stroke-linejoin="round"/>
<path d="M89.7,66.5 C89.3,66.5 88.1,66.5 87.3,66.6 C86.5,66.7 85.7,66.9 85.0,67.1 C84.2,67.3 83.5,67.7 82.7,68.0 C82.0,68.3 81.3,68.6 80.5,68.8 C79.7,69.0 78.9,69.3 78.1,69.2 C77.4,69.2 76.5,69.0 75.9,68.5 C75.2,68.1 74.8,67.4 74.4,66.7 C74.0,66.0 73.8,65.2 73.5,64.5 C73.2,63.7 72.9,63.0 72.5,62.3 C72.1,61.6 71.6,60.7 71.2,60.3 C70.7,59.9 70.2,60.1 70.0,60.1" fill="none" stroke="#616161" stroke-width="0.76" stroke-linecap="round" stroke-linejoin="round"/>
<path d="M131.2,120.6 C131.0,120.3 130.3,119.3 129.7,118.7 C129.2,118.2 128.5,117.7 127.8,117.3 C127.1,116.9 126.3,116.7 125.6,116.3 C124.9,115.9 124.2,115.5 123.6,115.0 C123.0,114.5 122.5,113.8 122.2,113.0 C122.0,112.3 121.9,111.4 122.0,110.7 C122.2,109.9 122.6,109.1 123.1,108.6 C123.7,108.0 124.5,107.7 125.2,107.3 C125.9,107.0 127.1,106.7 127.5,106.6" fill="none" stroke="#565656" stroke-width="0.8" stroke-linecap="round" stroke-linejoin="round"/>
<path d="M98.9,152.0 C98.6,152.2 97.4,152.6 96.7,152.9 C96.0,153.3 95.3,153.6 94.6,154.1 C93.9,154.5 93.4,155.1 92.7,155.5 C92.0,156.0 91.4,156.5 90.6,156.7 C89.9,156.9 89.0,157.0 88.2,156.9 C87.4,156.9 86.5,156.6 85.9,156.5 C85.3,156.3 85.0,156.0 84.8,155.9" fill="none" stroke="#404040" stroke-width="1.43" stroke-linecap="round" stroke-linejoin="round"/>
<path d="M194.9,109.9 C195.1,109.6 195.7,108.5 196.2,107.9 C196.7,107.3 197.2,106.7 197.8,106.1 C198.3,105.5 198.9,104.9 199.5,104.5 C200.2,104.1 201.2,103.8 201.8,103.6 C202.3,103.5 202.8,103.5 203.0,103.5" fill="none" stroke="#484848" stroke-width="1.09" stroke-linecap="round" stroke-linejoin="round"/>
<path d="M39.6,101.1 C40.0,100.9 41.0,100.4 41.7,100.0 C42.5,99.7 43.2,99.2 43.9,99.1 C44.7,98.9 45.6,98.8 46.3,99.0 C47.0,99.2 47.7,99.8 48.4,100.2 C49.0,100.7 50.0,101.4 50.3,101.6" fill="none" stroke="#484848" stroke-width="1.12" stroke-linecap="round" stroke-linejoin="round"/>
<path d="M95.7,157.0 C95.9,157.3 96.8,158.2 97.0,159.0 C97.2,159.7 97.1,160.6 96.9,161.3 C96.8,162.1 96.5,163.0 96.0,163.5 C95.5,164.1 94.8,164.7 94.1,164.9 C93.3,165.1 92.4,164.9 91.7,164.7 C90.9,164.5 90.1,163.9 89.6,163.6 C89.0,163.3 88.7,163.1 88.5,163.0" fill="none" stroke="#4b4b4b" stroke-width="0.99" stroke-linecap="round" stroke-linejoin="round"/>
<path d="M67.1,79.4 C67.5,79.3 68.7,79.2 69.5,79.0 C70.2,78.8 71.0,78.5 71.8,78.3 C72.5,78.0 73.3,77.8 74.0,77.5 C74.8,77.3 75.6,77.1 76.3,76.7 C77.0,76.3 77.7,75.8 78.2,75.3 C78.7,74.7 79.2,74.0 79.4,73.2 C79.5,72.5 78.7,71.4 79.0,70.9 C79.3,70.3 80.5,70.3 81.2,69.9 C82.0,69.6 82.7,69.3 83.5,69.0 C84.2,68.7 85.1,68.3 85.7,68.1 C86.2,67.9 86.6,67.7 86.8,67.6" fill="none" stroke="#4b4b4b" stroke-width="0.89" stroke-linecap="round" stroke-linejoin="round"/>
<path d="M107.1,146.4 C106.7,146.6 105.8,147.3 105.0,147.6 C104.3,147.9 103.5,148.2 102.7,148.3 C102.0,148.4 101.1,148.4 100.4,148.1 C99.7,147.8 99.0,147.0 98.6,146.5 C98.2,146.1 98.2,145.6 98.1,145.5" fill="none" stroke="#4b4b4b" stroke-width="0.99" stroke-linecap="round" stroke-linejoin="round"/>
<path d="M60.5,131.9 C60.3,132.2 60.0,133.4 59.6,134.1 C59.2,134.8 58.7,135.5 58.0,135.8 C57.4,136.2 56.4,136.4 55.7,136.3 C54.9,136.2 54.1,135.9 53.5,135.4 C52.9,134.9 52.3,134.2 52.1,133.5 C51.8,132.8 52.0,131.5 52.0,131.1" fill="none" stroke="#404040" stroke-width="1.09" stroke-linecap="round" stroke-linejoin="round"/>
<path d="M145.9,83.9 C145.6,84.2 144.8,85.2 144.1,85.5 C143.4,85.8 142.5,85.9 141.7,85.7 C141.0,85.5 140.3,84.9 139.7,84.4 C139.1,84.0 138.6,83.3 138.0,82.7 C137.5,82.1 137.0,81.5 136.4,81.0 C135.8,80.4 135.1,80.0 134.6,79.4 C134.0,78.8 133.5,78.2 133.1,77.5 C132.8,76.8 132.5,75.6 132.4,75.2" fill="none" stroke="#484848" stroke-width="1.04" stroke-linecap="round" stroke-linejoin="round"/>
<path d="M145.2,85.0 C145.4,84.7 146.0,83.7 146.4,83.0 C146.8,82.3 147.2,81.6 147.6,80.8 C147.9,80.1 148.1,79.4 148.4,78.6 C148.7,77.8 148.9,77.1 149.1,76.3 C149.3,75.5 149.5,74.8 149.7,74.0 C149.8,73.2 150.0,72.4 150.0,71.6 C150.0,70.8 149.9,70.0 149.6,69.3 C149.2,68.5 148.4,67.6 148.1,67.3" fill="none" stroke="#484848" stroke-width="1.33" stroke-linecap="round" stroke-linejoin="round"/>
<path d="M60.9,155.3 C60.9,154.9 60.9,153.7 60.9,152.9 C60.9,152.1 60.7,151.3 60.7,150.5 C60.7,149.7 60.8,148.9 61.0,148.1 C61.1,147.3 61.2,146.5 61.6,145.8 C61.9,145.1 62.3,144.3 62.9,143.8 C63.5,143.3 64.3,142.9 65.0,142.7 C65.7,142.4 67.0,142.4 67.4,142.3" fill="none" stroke="#565656" stroke-width="1.46" stroke-linecap="round" stroke-linejoin="round"/>
<path d="M167.4,93.0 C167.1,92.9 166.0,92.3 165.3,92.0 C164.6,91.6 163.8,91.3 163.0,91.2 C162.2,91.1 161.4,91.1 160.6,91.4 C159.9,91.6 159.1,92.0 158.6,92.5 C158.0,93.0 157.5,94.0 157.1,94.5 C156.8,95.0 156.8,95.4 156.7,95.6" fill="none" stroke="#3a3a3a" stroke-width="2.02" stroke-linecap="round" stroke-linejoin="round"/>
<path d="M167.4,93.0 C167.1,92.9 166.0,92.3 165.3,92.0 C164.6,91.6 163.8,91.3 163.0,91.2 C162.2,91.1 161.4,91.1 160.6,91.4 C159.9,91.6 159.1,92.0 158.6,92.5 C158.0,93.0 157.5,94.0 157.1,94.5 C156.8,95.0 156.8,95.4 156.7,95.6" fill="none" stroke="#8c8c8c" stroke-width="0.72" stroke-linecap="round" stroke-linejoin="round"/>
<path d="M98.2,119.7 C97.8,119.8 96.7,120.2 95.9,120.3 C95.1,120.4 94.2,120.4 93.5,120.2 C92.7,120.0 92.0,119.6 91.4,119.1 C90.8,118.5 90.4,117.8 90.1,117.1 C89.8,116.3 89.7,115.5 89.7,114.7 C89.7,113.9 89.7,113.1 90.0,112.3 C90.3,111.6 90.8,110.9 91.4,110.4 C92.0,109.9 92.8,109.5 93.5,109.4 C94.3,109.2 95.1,109.3 95.9,109.5 C96.6,109.7 97.5,110.3 98.0,110.6 C98.5,110.9 98.7,111.3 98.8,111.5" fill="none" stroke="#565656" stroke-width="1.43" stroke-linecap="round" stroke-linejoin="round"/>
<path d="M97.5,58.4 C97.7,58.7 98.5,59.7 98.9,60.3 C99.3,61.0 99.6,61.8 99.8,62.5 C100.1,63.3 100.3,64.1 100.5,64.8 C100.8,65.6 101.0,66.4 101.2,67.2 C101.4,67.9 101.7,68.7 101.9,69.5 C102.1,70.2 102.3,71.0 102.4,71.8 C102.6,72.6 102.7,73.4 102.8,74.2 C103.0,74.9 103.1,75.7 103.1,76.5 C103.1,77.3 103.2,78.2 103.0,78.9 C102.8,79.7 102.2,80.7 102.0,81.1" fill="none" stroke="#616161" stroke-width="1.16" stroke-linecap="round" stroke-linejoin="round"/>
<path d="M89.4,155.5 C89.3,155.1 89.0,153.9 88.6,153.3 C88.2,152.6 87.6,151.9 87.0,151.4 C86.4,151.0 85.6,150.7 84.9,150.4 C84.1,150.2 82.9,150.2 82.5,150.1" fill="none" stroke="#565656" stroke-width="1.32" stroke-linecap="round" stroke-linejoin="round"/>
<path d="M32.6,107.4 C32.3,107.1 31.6,106.1 31.0,105.6 C30.4,105.0 29.8,104.4 29.2,104.0 C28.5,103.6 27.7,103.2 27.0,103.1 C26.2,103.0 25.3,103.1 24.6,103.3 C23.9,103.6 23.2,104.2 22.8,104.8 C22.3,105.5 22.0,106.3 21.9,107.0 C21.7,107.8 21.9,109.0 21.9,109.4" fill="none" stroke="#565656" stroke-width="1.08" stroke-linecap="round" stroke-linejoin="round"/>
<path d="M142.6,95.7 C142.9,95.5 143.8,94.7 144.5,94.2 C145.1,93.7 145.8,93.3 146.4,92.8 C147.0,92.2 147.6,91.7 148.2,91.2 C148.8,90.7 149.3,90.0 150.0,89.6 C150.7,89.3 151.5,89.1 152.3,88.9 C153.1,88.8 153.9,88.8 154.7,88.8 C155.5,88.8 156.3,88.8 157.1,88.8 C157.9,88.9 158.7,89.1 159.4,89.3 C160.2,89.5 161.4,89.7 161.8,89.8" fill="none" stroke="#404040" stroke-width="1.27" stroke-linecap="round" stroke-linejoin="round"/>
<path d="M104.3,87.6 C104.5,87.3 105.1,86.2 105.6,85.7 C106.2,85.2 107.0,84.8 107.6,84.4 C108.3,84.0 109.1,83.7 109.8,83.3 C110.5,82.9 111.5,82.3 111.8,82.1" fill="none" stroke="#404040" stroke-width="1.21" stroke-linecap="round" stroke-linejoin="round"/>
<path d="M147.2,156.5 C147.3,156.1 147.5,154.9 147.6,154.1 C147.8,153.3 148.0,152.5 148.2,151.8 C148.5,151.0 148.8,150.3 149.1,149.5 C149.4,148.8 149.7,148.0 150.0,147.3 C150.4,146.6 150.8,145.9 151.3,145.3 C151.8,144.7 152.4,144.1 153.0,143.6 C153.7,143.2 154.8,142.7 155.1,142.5" fill="none" stroke="#616161" stroke-width="1.27" stroke-linecap="round" stroke-linejoin="round"/>
<path d="M187.9,90.0 C187.5,89.9 186.4,89.4 185.7,89.1 C185.0,88.7 184.3,88.2 183.6,87.8 C183.0,87.4 182.2,87.1 181.6,86.7 C180.9,86.2 180.2,85.8 179.6,85.3 C178.9,84.8 178.2,84.4 177.7,83.8 C177.1,83.3 176.5,82.2 176.3,81.9" fill="none" stroke="#616161" stroke-width="1.14" stroke-linecap="round" stroke-linejoin="round"/>
<path d="M102.3,150.3 C102.1,150.7 101.5,151.8 101.3,152.5 C101.0,153.3 100.7,154.1 100.7,154.8 C100.7,155.6 100.8,156.4 101.1,157.2 C101.3,158.0 101.7,158.7 102.1,159.4 C102.5,160.1 103.0,160.7 103.5,161.3 C104.0,161.9 104.7,162.6 105.1,163.0 C105.6,163.5 105.8,163.8 106.0,163.9" fill="none" stroke="#4b4b4b" stroke-width="1.24" stroke-linecap="round" stroke-linejoin="round"/>
<path d="M54.9,159.1 C55.1,159.4 56.1,160.2 56.4,160.9 C56.7,161.6 56.7,162.5 56.5,163.3 C56.3,164.0 55.9,164.8 55.4,165.4 C54.9,166.0 54.2,166.4 53.4,166.6 C52.7,166.9 51.5,166.8 51.0,166.7 C50.6,166.7 50.6,166.8 50.7,166.4 C50.9,166.0 51.6,165.0 51.8,164.3 C52.0,163.5 52.1,162.3 52.2,161.9" fill="none" stroke="#616161" stroke-width="1.02" stroke-linecap="round" stroke-linejoin="round"/>
<path d="M119.2,72.6 C119.1,72.2 118.9,71.0 118.8,70.2 C118.6,69.4 118.5,68.6 118.3,67.9 C118.2,67.1 118.0,66.3 118.0,65.5 C118.0,64.7 118.0,63.8 118.2,63.1 C118.4,62.3 119.1,61.4 119.3,61.0 C119.5,60.6 119.4,60.7 119.5,60.6 C119.6,60.5 120.3,60.5 119.9,60.5 C119.6,60.5 118.4,60.4 117.7,60.5 C116.9,60.6 116.1,61.0 115.4,61.2 C114.6,61.4 113.4,61.7 113.1,61.8" fill="none" stroke="#404040" stroke-width="1.11" stroke-linecap="round" stroke-linejoin="round"/>
<path d="M138.8,52.3 C138.5,52.5 137.4,53.0 136.6,53.3 C135.9,53.6 135.1,53.8 134.4,54.1 C133.6,54.3 132.6,54.3 132.0,54.6 C131.4,54.9 130.9,55.3 130.8,55.9 C130.7,56.5 131.2,57.9 131.3,58.3" fill="none" stroke="#404040" stroke-width="0.89" stroke-linecap="round" stroke-linejoin="round"/>
<path d="M82.5,96.0 C82.4,95.6 81.8,94.6 81.5,93.9 C81.1,93.1 80.9,92.4 80.6,91.6 C80.4,90.9 80.1,90.1 79.8,89.3 C79.6,88.6 79.4,87.8 79.2,87.0 C79.0,86.2 78.7,85.1 78.6,84.7" fill="none" stroke="#484848" stroke-width="1.29" stroke-linecap="round" stroke-linejoin="round"/>
<path d="M185.3,86.5 C185.0,86.7 183.9,87.3 183.1,87.5 C182.4,87.7 181.6,87.7 180.8,87.9 C180.0,88.0 179.2,88.1 178.4,88.3 C177.6,88.5 176.8,88.6 176.1,88.9 C175.4,89.2 174.6,89.6 174.0,90.1 C173.5,90.7 173.0,91.4 172.8,92.1 C172.6,92.9 172.6,93.8 172.7,94.5 C172.9,95.3 173.4,96.2 173.6,96.7 C173.9,97.3 174.2,97.6 174.3,97.7" fill="none" stroke="#565656" stroke-width="1.36" stroke-linecap="round" stroke-linejoin="round"/>
<path d="M101.6,110.1 C101.2,110.2 99.9,110.2 99.3,110.5 C98.6,110.9 98.0,111.6 97.8,112.3 C97.5,113.0 97.5,113.9 97.6,114.7 C97.8,115.5 98.4,116.5 98.5,116.9" fill="none" stroke="#4b4b4b" stroke-width="1.42" stroke-linecap="round" stroke-linejoin="round"/>
<path d="M78.4,100.4 C78.7,100.2 79.6,99.4 80.1,98.8 C80.7,98.2 81.2,97.6 81.7,97.0 C82.1,96.3 82.7,95.7 82.9,94.9 C83.1,94.2 83.2,93.3 83.0,92.6 C82.7,91.9 82.1,91.2 81.5,90.7 C80.8,90.3 79.6,90.1 79.2,90.0" fill="none" stroke="#404040" stroke-width="1.36" stroke-linecap="round" stroke-linejoin="round"/>
<path d="M45.2,113.8 C45.4,114.2 46.2,115.1 46.5,115.8 C46.8,116.6 46.9,117.4 46.9,118.2 C46.9,119.0 46.7,119.8 46.4,120.6 C46.2,121.3 45.8,122.0 45.5,122.8 C45.2,123.5 44.8,124.2 44.6,125.0 C44.4,125.8 44.3,126.6 44.3,127.4 C44.3,128.2 44.4,129.0 44.7,129.7 C44.9,130.5 45.4,131.2 45.9,131.8 C46.3,132.4 47.0,132.9 47.6,133.5 C48.2,134.0 49.1,134.7 49.5,135.0" fill="none" stroke="#616161" stroke-width="1.53" stroke-linecap="round" stroke-linejoin="round"/>
<path d="M74.0,140.7 C73.7,141.0 72.9,141.9 72.5,142.5 C72.0,143.2 71.6,143.9 71.2,144.5 C70.7,145.2 70.3,145.9 69.7,146.4 C69.1,147.0 68.5,147.5 67.7,147.8 C67.0,148.0 66.1,148.1 65.4,147.9 C64.6,147.7 63.7,146.8 63.4,146.5" fill="none" stroke="#404040" stroke-width="1.54" stroke-linecap="round" stroke-linejoin="round"/>
<path d="M167.3,168.1 C167.6,168.3 168.1,169.2 168.8,169.3 C169.4,169.5 170.4,169.3 171.2,169.2 C172.0,169.2 172.8,169.2 173.6,169.0 C174.3,168.8 175.1,168.5 175.7,168.0 C176.4,167.6 176.9,167.0 177.4,166.3 C177.9,165.7 178.4,165.0 178.6,164.3 C178.8,163.5 178.9,162.7 178.8,161.9 C178.8,161.1 178.6,160.3 178.5,159.5 C178.3,158.7 178.2,157.9 178.0,157.2 C177.7,156.4 177.3,155.5 177.1,155.0 C176.8,154.4 176.6,154.1 176.5,153.9" fill="none" stroke="#565656" stroke-width="1.15" stroke-linecap="round" stroke-linejoin="round"/>
<path d="M85.3,86.4 C85.0,86.6 84.2,87.5 83.6,88.1 C83.0,88.6 82.4,89.1 81.7,89.5 C81.0,89.9 80.2,90.2 79.5,90.4 C78.7,90.7 78.0,91.0 77.2,91.1 C76.4,91.1 75.6,91.0 74.8,90.7 C74.1,90.5 73.4,90.1 72.7,89.7 C72.0,89.2 71.3,88.8 70.8,88.2 C70.3,87.6 69.8,86.5 69.7,86.1" fill="none" stroke="#484848" stroke-width="1.4" stroke-linecap="round" stroke-linejoin="round"/>
<path d="M129.0,157.3 C129.0,156.9 129.0,155.7 129.2,154.9 C129.4,154.2 129.6,153.4 129.9,152.7 C130.3,152.0 130.8,151.3 131.3,150.7 C131.9,150.2 132.5,149.6 133.2,149.3 C133.9,149.0 135.2,148.8 135.5,148.7" fill="none" stroke="#484848" stroke-width="1.25" stroke-linecap="round" stroke-linejoin="round"/>
<path d="M172.2,105.8 C172.0,105.5 171.0,104.8 170.7,104.1 C170.4,103.4 170.3,102.4 170.4,101.7 C170.6,101.0 171.2,100.2 171.8,99.7 C172.3,99.3 173.3,99.1 174.0,99.1 C174.8,99.0 175.6,99.2 176.4,99.6 C177.1,99.9 177.8,100.3 178.3,100.9 C178.8,101.5 179.2,102.7 179.4,103.0" fill="none" stroke="#616161" stroke-width="1.39" stroke-linecap="round" stroke-linejoin="round"/>
<path d="M105.2,124.9 C105.4,125.3 106.1,126.3 106.5,126.9 C106.9,127.6 107.4,128.3 107.8,128.9 C108.2,129.6 108.6,130.5 108.9,131.1 C109.2,131.6 109.4,131.9 109.5,132.1" fill="none" stroke="#616161" stroke-width="1.13" stroke-linecap="round" stroke-linejoin="round"/>
<path d="M86.1,95.1 C85.8,94.8 84.9,93.9 84.4,93.4 C83.8,92.9 83.1,92.4 82.5,91.9 C81.9,91.3 81.4,90.7 80.8,90.2 C80.2,89.6 79.6,89.1 79.1,88.5 C78.5,88.0 78.0,87.3 77.3,86.9 C76.7,86.4 76.0,85.9 75.3,85.7 C74.5,85.4 73.7,85.2 72.9,85.1 C72.1,85.0 71.3,85.0 70.5,85.0 C69.7,84.9 68.7,84.9 68.1,84.8 C67.5,84.8 67.2,84.7 67.0,84.7" fill="none" stroke="#404040" stroke-width="1.47" stroke-linecap="round" stroke-linejoin="round"/>
<path d="M35.5,104.4 C35.5,104.0 35.5,102.8 35.5,102.0 C35.4,101.2 35.3,100.4 35.1,99.6 C35.0,98.8 34.8,98.0 34.6,97.3 C34.4,96.5 34.1,95.7 33.9,95.0 C33.6,94.2 33.4,93.4 33.1,92.7 C32.7,92.0 32.1,91.3 31.5,90.9 C30.9,90.5 29.9,90.5 29.3,90.4 C28.8,90.4 28.4,90.6 28.2,90.7" fill="none" stroke="#484848" stroke-width="1.19" stroke-linecap="round" stroke-linejoin="round"/>
<path d="M148.4,117.0 C148.6,116.6 149.2,115.6 149.4,114.8 C149.6,114.1 149.8,113.2 149.9,112.5 C149.9,111.7 149.9,110.8 149.8,110.1 C149.7,109.3 149.5,108.5 149.3,107.7 C149.1,106.9 148.8,106.2 148.6,105.4 C148.4,104.6 148.2,103.9 148.0,103.1 C147.8,102.3 147.6,101.3 147.5,100.7 C147.4,100.1 147.5,99.7 147.5,99.5" fill="none" stroke="#404040" stroke-width="1.29" stroke-linecap="round" stroke-linejoin="round"/>
<path d="M150.7,135.9 C150.4,136.2 149.7,137.2 149.0,137.7 C148.4,138.1 147.6,138.5 146.9,138.7 C146.1,138.8 145.2,138.8 144.5,138.6 C143.7,138.4 142.9,138.1 142.4,137.6 C141.8,137.1 141.3,136.3 140.9,135.6 C140.6,134.9 140.5,134.1 140.2,133.4 C139.9,132.6 139.6,131.8 139.2,131.2 C138.8,130.5 138.3,129.8 137.8,129.2 C137.3,128.6 136.7,128.1 136.1,127.6 C135.5,127.1 134.4,126.5 134.1,126.2" fill="none" stroke="#565656" stroke-width="0.91" stroke-linecap="round" stroke-linejoin="round"/>
<path d="M130.5,157.6 C130.8,157.4 131.9,156.8 132.6,156.5 C133.3,156.1 134.0,155.7 134.7,155.4 C135.5,155.1 136.3,154.9 137.1,154.7 C137.8,154.5 138.6,154.4 139.4,154.3 C140.2,154.1 141.0,154.0 141.8,153.8 C142.5,153.6 143.3,153.4 144.0,153.0 C144.7,152.6 145.4,152.2 146.0,151.7 C146.6,151.1 147.1,150.5 147.5,149.8 C148.0,149.2 148.4,148.0 148.6,147.7" fill="none" stroke="#404040" stroke-width="1.24" stroke-linecap="round" stroke-linejoin="round"/>
<path d="M144.9,54.9 C145.1,54.6 145.6,53.5 146.1,52.8 C146.6,52.2 147.1,51.5 147.8,51.1 C148.4,50.7 149.2,50.5 149.9,50.7 C150.6,50.8 151.4,51.3 151.9,51.9 C152.4,52.4 152.8,53.3 153.0,54.0 C153.1,54.8 152.9,56.0 152.9,56.4" fill="none" stroke="#565656" stroke-width="1.01" stroke-linecap="round" stroke-linejoin="round"/>
<path d="M174.0,103.9 C174.4,103.9 175.6,103.4 176.3,103.5 C177.1,103.6 177.9,104.0 178.4,104.6 C179.0,105.1 179.5,106.0 179.7,106.6 C180.0,107.1 180.0,107.5 180.1,107.7" fill="none" stroke="#616161" stroke-width="1.31" stroke-linecap="round" stroke-linejoin="round"/>
<path d="M135.9,86.9 C135.7,86.6 134.9,85.6 134.6,84.9 C134.3,84.2 134.2,83.4 134.0,82.6 C133.8,81.8 133.7,81.0 133.5,80.3 C133.3,79.5 133.1,78.7 132.8,77.9 C132.6,77.2 132.4,76.4 132.2,75.6 C132.0,74.9 131.9,74.1 131.7,73.3 C131.5,72.5 131.2,71.6 131.1,71.0 C130.9,70.4 130.8,70.0 130.8,69.8" fill="none" stroke="#484848" stroke-width="1.26" stroke-linecap="round" stroke-linejoin="round"/>
<path d="M191.6,82.5 C191.4,82.8 191.0,84.0 190.6,84.7 C190.3,85.4 189.8,86.0 189.2,86.6 C188.6,87.2 188.0,87.6 187.3,88.1 C186.6,88.5 185.9,88.9 185.2,89.2 C184.5,89.5 183.7,89.8 182.9,90.0 C182.2,90.3 181.0,90.7 180.7,90.8" fill="none" stroke="#404040" stroke-width="1.29" stroke-linecap="round" stroke-linejoin="round"/>
<path d="M68.9,104.6 C69.3,104.7 70.5,104.7 71.2,104.8 C72.0,104.9 72.8,105.0 73.6,105.2 C74.4,105.4 75.1,105.7 75.8,106.1 C76.6,106.4 77.3,106.9 77.9,107.4 C78.5,107.9 79.1,108.4 79.5,109.1 C80.0,109.7 80.2,110.5 80.6,111.2 C81.0,111.9 81.3,112.7 81.8,113.3 C82.3,113.9 83.0,114.4 83.7,114.8 C84.3,115.1 85.2,115.4 86.0,115.4 C86.7,115.5 87.9,115.0 88.3,114.9" fill="none" stroke="#404040" stroke-width="1.37" stroke-linecap="round" stroke-linejoin="round"/>
<path d="M133.1,116.3 C133.5,116.4 134.6,117.0 135.4,117.2 C136.1,117.3 137.0,117.3 137.7,117.1 C138.5,116.9 139.3,116.5 139.8,116.0 C140.4,115.4 140.9,114.7 141.0,113.9 C141.2,113.2 141.0,112.3 140.7,111.6 C140.5,110.8 140.1,110.0 139.6,109.4 C139.1,108.8 138.5,108.3 137.8,108.0 C137.0,107.7 136.2,107.8 135.4,107.8 C134.6,107.9 133.4,108.3 133.0,108.4" fill="none" stroke="#484848" stroke-width="1.4" stroke-linecap="round" stroke-linejoin="round"/>
<path d="M168.5,104.6 C168.4,105.0 168.3,106.2 168.0,106.9 C167.6,107.6 167.0,108.2 166.3,108.6 C165.7,109.0 164.9,109.3 164.1,109.4 C163.3,109.6 162.5,109.4 161.7,109.4 C160.9,109.4 160.1,109.3 159.3,109.3 C158.5,109.3 157.7,109.3 156.9,109.5 C156.1,109.7 155.1,110.3 154.7,110.4" fill="none" stroke="#404040" stroke-width="1.28" stroke-linecap="round" stroke-linejoin="round"/>
<path d="M84.2,64.2 C84.0,63.8 83.7,62.6 83.3,62.0 C83.0,61.3 82.3,60.3 81.8,60.1 C81.4,59.9 80.9,60.2 80.7,60.7 C80.4,61.2 80.5,62.7 80.4,63.1 C80.3,63.5 80.2,63.1 80.2,63.1" fill="none" stroke="#565656" stroke-width="0.84" stroke-linecap="round" stroke-linejoin="round"/>
<path d="M106.8,164.8 C106.9,164.4 107.3,163.3 107.5,162.5 C107.7,161.8 107.9,161.0 108.1,160.2 C108.4,159.4 108.6,158.7 108.8,157.9 C108.9,157.1 109.1,156.3 109.3,155.6 C109.5,154.8 109.7,154.0 110.0,153.3 C110.3,152.5 110.7,151.8 111.2,151.2 C111.7,150.6 112.4,150.1 113.0,149.6 C113.7,149.1 114.6,148.7 115.1,148.4 C115.6,148.0 115.9,147.8 116.1,147.7" fill="none" stroke="#404040" stroke-width="1.13" stroke-linecap="round" stroke-linejoin="round"/>
<path d="M192.5,121.0 C192.7,121.4 193.4,122.5 193.4,123.2 C193.5,124.0 193.3,124.9 192.9,125.5 C192.6,126.2 191.9,126.8 191.3,127.2 C190.6,127.6 189.7,127.7 189.0,127.8 C188.2,127.9 187.4,127.9 186.6,127.8 C185.8,127.6 184.7,127.2 184.3,127.1" fill="none" stroke="#484848" stroke-width="1.31" stroke-linecap="round" stroke-linejoin="round"/>
<path d="M168.4,76.7 C168.7,76.9 169.8,77.6 170.5,77.8 C171.3,78.1 172.1,78.2 172.9,78.2 C173.6,78.1 174.5,77.7 175.1,77.2 C175.7,76.8 176.2,75.8 176.5,75.3 C176.8,74.8 176.7,74.4 176.8,74.2" fill="none" stroke="#4b4b4b" stroke-width="1.13" stroke-linecap="round" stroke-linejoin="round"/>
<path d="M134.7,145.6 C134.5,145.3 134.0,144.2 133.9,143.4 C133.7,142.6 133.8,141.8 133.8,141.0 C133.8,140.2 133.9,139.4 134.0,138.6 C134.2,137.8 134.4,137.0 134.6,136.3 C134.7,135.5 135.0,134.7 135.1,133.9 C135.1,133.1 135.0,132.3 134.8,131.5 C134.7,130.8 134.5,130.0 134.2,129.2 C133.9,128.5 133.6,127.7 133.1,127.1 C132.7,126.4 132.0,125.7 131.6,125.2 C131.2,124.8 130.7,124.8 130.5,124.7" fill="none" stroke="#616161" stroke-width="1.1" stroke-linecap="round" stroke-linejoin="round"/>
<path d="M205.5,139.1 C205.3,139.5 204.8,140.6 204.3,141.1 C203.7,141.7 203.0,142.1 202.2,142.4 C201.5,142.7 200.7,142.9 199.9,142.8 C199.1,142.8 198.3,142.5 197.6,142.1 C197.0,141.7 196.4,141.1 195.9,140.5 C195.4,139.8 195.1,138.6 194.9,138.3" fill="none" stroke="#565656" stroke-width="0.96" stroke-linecap="round" stroke-linejoin="round"/>
<path d="M139.7,80.9 C140.1,80.8 141.3,80.7 142.1,80.4 C142.8,80.2 143.5,79.8 144.2,79.3 C144.9,78.9 145.5,78.4 146.0,77.8 C146.6,77.2 147.1,76.6 147.5,75.9 C147.8,75.2 148.2,74.4 148.3,73.6 C148.4,72.8 148.2,71.8 148.1,71.2 C147.9,70.7 147.7,70.3 147.6,70.1" fill="none" stroke="#484848" stroke-width="1.3" stroke-linecap="round" stroke-linejoin="round"/>
<path d="M170.8,140.4 C170.5,140.1 169.7,139.3 169.0,138.8 C168.4,138.3 167.7,137.9 167.1,137.3 C166.6,136.8 166.1,136.1 165.8,135.4 C165.6,134.6 165.6,133.7 165.8,133.0 C166.0,132.3 166.6,131.6 167.1,131.0 C167.6,130.4 168.3,129.9 168.9,129.4 C169.6,129.0 170.3,128.6 171.1,128.4 C171.8,128.2 172.9,128.1 173.5,128.0 C174.0,127.9 174.4,127.8 174.6,127.8" fill="none" stroke="#484848" stroke-width="1.42" stroke-linecap="round" stroke-linejoin="round"/>
<path d="M61.2,78.1 C60.9,77.9 59.8,77.3 59.2,76.8 C58.5,76.3 57.9,75.8 57.5,75.1 C57.0,74.5 56.6,73.5 56.4,73.0 C56.1,72.5 56.0,72.1 56.0,71.9" fill="none" stroke="#616161" stroke-width="0.93" stroke-linecap="round" stroke-linejoin="round"/>
<path d="M111.5,90.2 C111.9,90.2 113.1,90.1 113.9,90.2 C114.7,90.3 115.5,90.5 116.2,90.7 C117.0,91.0 117.7,91.5 118.3,91.9 C119.0,92.4 119.6,92.9 120.2,93.4 C120.9,93.9 121.5,94.4 122.0,95.0 C122.6,95.5 122.9,96.3 123.4,96.9 C123.8,97.6 124.6,98.5 124.8,98.9 C124.9,99.3 124.9,99.4 124.5,99.3 C124.1,99.2 123.0,98.6 122.3,98.2 C121.6,97.8 120.8,97.2 120.3,96.9 C119.8,96.6 119.5,96.4 119.3,96.2" fill="none" stroke="#484848" stroke-width="0.76" stroke-linecap="round" stroke-linejoin="round"/>
<path d="M146.1,109.8 C146.2,109.4 146.7,108.3 146.9,107.5 C147.1,106.7 147.2,105.9 147.2,105.1 C147.2,104.4 147.0,103.5 146.7,102.8 C146.4,102.1 146.0,101.3 145.5,100.7 C145.1,100.1 144.5,99.5 143.8,99.0 C143.2,98.5 142.4,98.0 141.8,97.7 C141.3,97.4 140.9,97.4 140.7,97.3" fill="none" stroke="#404040" stroke-width="1.38" stroke-linecap="round" stroke-linejoin="round"/>
<path d="M61.4,108.9 C61.8,109.1 62.9,109.4 63.6,109.8 C64.3,110.3 64.9,110.8 65.5,111.3 C66.1,111.9 66.6,112.4 67.3,112.9 C67.9,113.4 68.6,113.8 69.3,114.2 C70.0,114.5 70.8,114.9 71.6,115.1 C72.3,115.2 73.2,115.1 73.9,114.9 C74.7,114.6 75.4,114.1 75.9,113.5 C76.4,113.0 76.8,112.2 77.2,111.5 C77.6,110.8 77.8,109.8 78.0,109.3 C78.2,108.7 78.3,108.3 78.4,108.1" fill="none" stroke="#484848" stroke-width="1.53" stroke-linecap="round" stroke-linejoin="round"/>
<path d="M192.3,135.8 C192.7,135.6 193.7,134.9 194.3,134.5 C195.0,134.1 195.7,133.6 196.4,133.2 C197.1,132.8 197.8,132.5 198.5,132.1 C199.2,131.7 199.9,131.3 200.5,130.8 C201.1,130.3 201.7,129.7 202.1,129.1 C202.6,128.4 202.9,127.6 203.4,127.0 C203.9,126.4 204.9,125.7 205.2,125.4" fill="none" stroke="#404040" stroke-width="1.29" stroke-linecap="round" stroke-linejoin="round"/>
<path d="M196.0,83.4 C195.6,83.2 194.4,82.8 193.9,82.2 C193.4,81.7 193.1,80.8 192.9,80.1 C192.7,79.3 192.7,78.3 192.7,77.7 C192.6,77.1 192.7,76.7 192.8,76.5" fill="none" stroke="#484848" stroke-width="1.2" stroke-linecap="round" stroke-linejoin="round"/>
<path d="M89.6,142.5 C90.0,142.6 91.2,142.6 92.0,142.7 C92.8,142.7 93.6,142.7 94.4,142.8 C95.2,142.9 96.0,142.9 96.8,143.1 C97.6,143.4 98.4,143.6 99.0,144.1 C99.7,144.5 100.5,145.4 100.8,145.7" fill="none" stroke="#404040" stroke-width="1.03" stroke-linecap="round" stroke-linejoin="round"/>
<path d="M80.9,133.2 C80.7,133.5 80.4,134.8 79.9,135.3 C79.4,135.9 78.6,136.3 77.8,136.5 C77.1,136.6 76.2,136.5 75.5,136.2 C74.7,136.0 74.0,135.5 73.5,134.9 C73.1,134.3 72.7,133.4 72.7,132.7 C72.6,131.9 72.9,131.0 73.4,130.4 C73.8,129.8 75.0,129.3 75.4,129.1" fill="none" stroke="#3a3a3a" stroke-width="2.02" stroke-linecap="round" stroke-linejoin="round"/>
<path d="M80.9,133.2 C80.7,133.5 80.4,134.8 79.9,135.3 C79.4,135.9 78.6,136.3 77.8,136.5 C77.1,136.6 76.2,136.5 75.5,136.2 C74.7,136.0 74.0,135.5 73.5,134.9 C73.1,134.3 72.7,133.4 72.7,132.7 C72.6,131.9 72.9,131.0 73.4,130.4 C73.8,129.8 75.0,129.3 75.4,129.1" fill="none" stroke="#8c8c8c" stroke-width="0.72" stroke-linecap="round" stroke-linejoin="round"/>
<path d="M167.5,89.4 C167.4,89.0 166.9,87.9 166.6,87.2 C166.3,86.4 166.0,85.7 165.8,84.9 C165.6,84.1 165.5,83.3 165.4,82.6 C165.3,81.8 165.3,81.0 165.3,80.2 C165.3,79.4 165.4,78.4 165.5,77.8 C165.6,77.2 165.7,76.8 165.7,76.6" fill="none" stroke="#4b4b4b" stroke-width="1.32" stroke-linecap="round" stroke-linejoin="round"/>
<path d="M61.6,148.3 C61.9,148.5 63.0,148.9 63.8,149.2 C64.5,149.5 65.3,149.8 66.1,150.0 C66.8,150.1 67.7,150.2 68.5,150.2 C69.3,150.2 70.1,150.1 70.9,150.1 C71.6,150.0 72.4,149.9 73.2,149.9 C74.0,149.8 74.8,149.8 75.6,149.7 C76.4,149.7 77.2,149.7 78.0,149.7 C78.8,149.6 80.0,149.7 80.4,149.7" fill="none" stroke="#4b4b4b" stroke-width="1.4" stroke-linecap="round" stroke-linejoin="round"/>
<path d="M81.5,114.2 C81.4,114.6 81.2,115.8 80.9,116.5 C80.5,117.2 80.1,117.9 79.5,118.5 C79.0,119.0 78.3,119.5 77.6,119.8 C76.9,120.2 76.1,120.4 75.3,120.7 C74.6,120.9 73.6,121.2 73.0,121.4 C72.4,121.5 72.1,121.7 71.9,121.8" fill="none" stroke="#3a3a3a" stroke-width="2.04" stroke-linecap="round" stroke-linejoin="round"/>
<path d="M81.5,114.2 C81.4,114.6 81.2,115.8 80.9,116.5 C80.5,117.2 80.1,117.9 79.5,118.5 C79.0,119.0 78.3,119.5 77.6,119.8 C76.9,120.2 76.1,120.4 75.3,120.7 C74.6,120.9 73.6,121.2 73.0,121.4 C72.4,121.5 72.1,121.7 71.9,121.8" fill="none" stroke="#8c8c8c" stroke-width="0.74" stroke-linecap="round" stroke-linejoin="round"/>
<path d="M179.7,134.3 C179.6,134.7 179.5,135.9 179.4,136.7 C179.2,137.5 179.0,138.2 178.7,139.0 C178.5,139.8 178.3,140.6 178.1,141.3 C177.8,142.1 177.5,142.8 177.1,143.5 C176.8,144.3 176.5,145.0 176.2,145.7 C175.9,146.5 175.5,147.4 175.3,148.0 C175.1,148.5 175.1,148.9 175.1,149.1" fill="none" stroke="#565656" stroke-width="1.24" stroke-linecap="round" stroke-linejoin="round"/>
<path d="M89.1,112.2 C88.8,112.0 87.8,111.3 87.1,110.9 C86.5,110.4 85.8,109.9 85.2,109.4 C84.6,108.9 84.0,108.3 83.4,107.8 C82.8,107.3 82.1,106.9 81.5,106.4 C80.8,106.0 80.1,105.5 79.4,105.2 C78.6,104.9 77.8,104.7 77.0,104.7 C76.3,104.6 75.4,104.7 74.7,104.9 C73.9,105.1 73.1,105.4 72.5,105.8 C71.8,106.3 71.0,107.2 70.7,107.5" fill="none" stroke="#3a3a3a" stroke-width="2.15" stroke-linecap="round" stroke-linejoin="round"/>
<path d="M89.1,112.2 C88.8,112.0 87.8,111.3 87.1,110.9 C86.5,110.4 85.8,109.9 85.2,109.4 C84.6,108.9 84.0,108.3 83.4,107.8 C82.8,107.3 82.1,106.9 81.5,106.4 C80.8,106.0 80.1,105.5 79.4,105.2 C78.6,104.9 77.8,104.7 77.0,104.7 C76.3,104.6 75.4,104.7 74.7,104.9 C73.9,105.1 73.1,105.4 72.5,105.8 C71.8,106.3 71.0,107.2 70.7,107.5" fill="none" stroke="#8c8c8c" stroke-width="0.85" stroke-linecap="round" stroke-linejoin="round"/>
<path d="M169.5,120.9 C169.1,121.1 168.1,121.7 167.3,122.0 C166.6,122.3 165.8,122.6 165.0,122.6 C164.2,122.7 163.4,122.5 162.6,122.3 C161.9,122.1 161.1,121.8 160.4,121.5 C159.7,121.2 158.9,120.9 158.2,120.4 C157.6,120.0 156.9,119.5 156.4,118.9 C155.8,118.3 155.3,117.7 155.0,117.0 C154.7,116.3 154.4,115.4 154.4,114.7 C154.5,113.9 155.2,112.8 155.3,112.4" fill="none" stroke="#484848" stroke-width="1.38" stroke-linecap="round" stroke-linejoin="round"/>
<path d="M170.6,138.7 C171.0,138.5 172.1,138.0 172.7,137.5 C173.3,137.0 173.8,136.4 174.3,135.8 C174.8,135.1 175.2,134.4 175.6,133.8 C176.0,133.1 176.3,132.3 176.8,131.6 C177.2,131.0 177.6,130.3 178.2,129.7 C178.7,129.2 179.4,128.7 180.0,128.2 C180.7,127.8 181.6,127.3 182.1,127.0 C182.7,126.8 183.1,126.7 183.3,126.6" fill="none" stroke="#484848" stroke-width="1.45" stroke-linecap="round" stroke-linejoin="round"/>
<path d="M164.4,93.5 C164.8,93.8 165.7,94.6 166.3,95.0 C166.9,95.5 167.6,95.9 168.3,96.3 C169.0,96.8 169.7,97.2 170.3,97.6 C171.0,98.1 171.7,98.5 172.3,99.0 C173.0,99.4 173.6,100.0 174.3,100.4 C174.9,100.8 175.7,101.2 176.4,101.5 C177.1,101.8 178.3,102.1 178.7,102.2" fill="none" stroke="#484848" stroke-width="1.41" stroke-linecap="round" stroke-linejoin="round"/>
<path d="M145.3,144.0 C145.6,143.8 146.7,143.4 147.5,143.1 C148.3,142.9 149.0,142.5 149.8,142.4 C150.6,142.3 151.4,142.2 152.2,142.4 C152.9,142.6 153.7,143.0 154.4,143.4 C155.0,143.8 155.5,144.5 156.1,145.1 C156.7,145.6 157.3,146.1 157.9,146.7 C158.5,147.2 159.1,147.7 159.8,148.1 C160.4,148.6 161.1,149.0 161.9,149.3 C162.6,149.6 163.8,149.9 164.2,150.0" fill="none" stroke="#616161" stroke-width="1.16" stroke-linecap="round" stroke-linejoin="round"/>
<path d="M76.7,92.3 C76.4,92.5 75.5,93.3 74.9,93.9 C74.3,94.4 73.7,94.9 73.0,95.3 C72.3,95.8 71.6,96.2 70.9,96.5 C70.2,96.8 69.4,97.1 68.7,97.3 C67.9,97.6 67.1,97.6 66.3,97.9 C65.6,98.2 64.9,98.5 64.2,98.9 C63.5,99.3 62.5,100.0 62.2,100.3" fill="none" stroke="#404040" stroke-width="1.39" stroke-linecap="round" stroke-linejoin="round"/>
<path d="M53.1,106.5 C53.3,106.8 54.1,107.7 54.6,108.3 C55.0,109.0 55.4,109.7 55.8,110.4 C56.1,111.1 56.4,111.9 56.6,112.7 C56.8,113.4 56.9,114.2 57.0,115.0 C57.0,115.8 57.0,116.6 56.9,117.4 C56.8,118.2 56.6,119.0 56.2,119.7 C55.8,120.4 55.2,121.0 54.6,121.4 C53.9,121.9 52.7,122.0 52.3,122.2" fill="none" stroke="#616161" stroke-width="1.36" stroke-linecap="round" stroke-linejoin="round"/>
<path d="M87.1,94.6 C86.7,94.6 85.5,94.4 84.7,94.5 C83.9,94.5 83.1,94.7 82.4,94.9 C81.6,95.2 80.9,95.6 80.3,96.1 C79.6,96.6 79.1,97.2 78.6,97.8 C78.2,98.5 77.7,99.4 77.4,99.9 C77.1,100.4 76.9,100.8 76.8,100.9" fill="none" stroke="#565656" stroke-width="1.33" stroke-linecap="round" stroke-linejoin="round"/>
<path d="M32.2,150.6 C32.6,150.5 33.8,150.5 34.5,150.1 C35.2,149.8 35.9,149.2 36.3,148.5 C36.7,147.9 37.0,147.0 37.0,146.3 C37.0,145.5 36.8,144.7 36.5,143.9 C36.2,143.2 35.8,142.5 35.3,141.9 C34.8,141.2 33.9,140.4 33.6,140.1" fill="none" stroke="#484848" stroke-width="0.88" stroke-linecap="round" stroke-linejoin="round"/>
<path d="M158.2,145.2 C158.1,144.8 158.0,143.6 157.7,142.8 C157.5,142.1 157.1,141.3 156.6,140.7 C156.2,140.1 155.5,139.5 154.9,139.1 C154.2,138.6 153.5,138.3 152.7,138.0 C152.0,137.8 151.1,137.6 150.4,137.7 C149.6,137.8 148.8,138.2 148.2,138.7 C147.7,139.3 147.3,140.1 147.3,140.9 C147.2,141.6 147.4,142.6 147.8,143.2 C148.2,143.8 149.3,144.4 149.6,144.6" fill="none" stroke="#616161" stroke-width="1.22" stroke-linecap="round" stroke-linejoin="round"/>
<path d="M53.5,103.5 C53.1,103.6 51.8,103.6 51.2,103.9 C50.5,104.3 49.9,104.9 49.5,105.6 C49.2,106.3 49.2,107.4 49.2,108.0 C49.2,108.5 49.6,108.9 49.6,109.1" fill="none" stroke="#616161" stroke-width="1.22" stroke-linecap="round" stroke-linejoin="round"/>
<path d="M70.9,129.2 C70.7,129.5 70.2,130.6 69.7,131.3 C69.2,131.9 68.7,132.6 68.1,133.1 C67.5,133.6 66.8,134.1 66.1,134.4 C65.4,134.8 64.6,134.9 63.8,135.1 C63.1,135.3 62.3,135.5 61.5,135.7 C60.7,135.9 60.0,136.2 59.2,136.4 C58.4,136.6 57.6,136.8 56.9,137.1 C56.2,137.4 55.4,137.7 54.8,138.2 C54.1,138.6 53.5,139.1 52.9,139.7 C52.4,140.3 51.9,141.2 51.5,141.7 C51.2,142.1 51.0,142.5 50.9,142.7" fill="none" stroke="#3a3a3a" stroke-width="2.02" stroke-linecap="round" stroke-linejoin="round"/>
<path d="M70.9,129.2 C70.7,129.5 70.2,130.6 69.7,131.3 C69.2,131.9 68.7,132.6 68.1,133.1 C67.5,133.6 66.8,134.1 66.1,134.4 C65.4,134.8 64.6,134.9 63.8,135.1 C63.1,135.3 62.3,135.5 61.5,135.7 C60.7,135.9 60.0,136.2 59.2,136.4 C58.4,136.6 57.6,136.8 56.9,137.1 C56.2,137.4 55.4,137.7 54.8,138.2 C54.1,138.6 53.5,139.1 52.9,139.7 C52.4,140.3 51.9,141.2 51.5,141.7 C51.2,142.1 51.0,142.5 50.9,142.7" fill="none" stroke="#8c8c8c" stroke-width="0.72" stroke-linecap="round" stroke-linejoin="round"/>
<path d="M176.5,119.3 C176.6,119.7 177.1,120.8 177.4,121.5 C177.8,122.2 178.0,123.0 178.5,123.6 C178.9,124.3 179.5,124.9 180.1,125.4 C180.8,125.8 181.5,126.2 182.3,126.4 C183.0,126.6 183.9,126.6 184.7,126.7 C185.4,126.8 186.4,126.9 187.0,126.9 C187.6,127.0 188.0,127.1 188.2,127.1" fill="none" stroke="#565656" stroke-width="1.16" stroke-linecap="round" stroke-linejoin="round"/>
<path d="M89.9,148.9 C89.5,149.0 88.4,149.5 87.7,149.7 C86.9,149.9 86.1,150.2 85.3,150.3 C84.5,150.3 83.7,150.3 82.9,150.1 C82.1,150.0 81.3,149.9 80.6,149.6 C79.9,149.3 79.1,148.8 78.6,148.3 C78.0,147.8 77.6,147.0 77.2,146.3 C76.9,145.6 76.7,144.6 76.5,144.1 C76.3,143.5 76.3,143.1 76.3,142.9" fill="none" stroke="#404040" stroke-width="1.17" stroke-linecap="round" stroke-linejoin="round"/>
<path d="M66.7,122.0 C66.3,122.1 65.0,122.2 64.4,122.7 C63.8,123.1 63.3,124.0 63.2,124.7 C63.0,125.4 63.2,126.3 63.4,127.0 C63.7,127.8 64.2,128.5 64.8,129.0 C65.4,129.5 66.1,130.0 66.8,130.2 C67.6,130.5 68.4,130.7 69.2,130.7 C69.9,130.6 70.8,130.3 71.4,129.8 C71.9,129.3 72.3,128.2 72.5,127.7 C72.7,127.2 72.6,126.7 72.6,126.5" fill="none" stroke="#3a3a3a" stroke-width="2.04" stroke-linecap="round" stroke-linejoin="round"/>
<path d="M66.7,122.0 C66.3,122.1 65.0,122.2 64.4,122.7 C63.8,123.1 63.3,124.0 63.2,124.7 C63.0,125.4 63.2,126.3 63.4,127.0 C63.7,127.8 64.2,128.5 64.8,129.0 C65.4,129.5 66.1,130.0 66.8,130.2 C67.6,130.5 68.4,130.7 69.2,130.7 C69.9,130.6 70.8,130.3 71.4,129.8 C71.9,129.3 72.3,128.2 72.5,127.7 C72.7,127.2 72.6,126.7 72.6,126.5" fill="none" stroke="#8c8c8c" stroke-width="0.74" stroke-linecap="round" stroke-linejoin="round"/>
<path d="M152.8,90.3 C152.5,90.0 151.7,89.1 151.3,88.4 C151.0,87.7 150.8,86.9 150.7,86.1 C150.6,85.3 150.7,84.5 150.9,83.7 C151.1,83.0 151.7,81.9 151.9,81.5" fill="none" stroke="#4b4b4b" stroke-width="1.06" stroke-linecap="round" stroke-linejoin="round"/>
<path d="M49.3,78.5 C49.1,78.9 48.5,80.0 48.3,80.7 C48.1,81.5 47.9,82.4 48.0,83.1 C48.2,83.8 48.7,84.6 49.2,85.1 C49.8,85.7 50.6,86.1 51.3,86.3 C52.0,86.5 52.9,86.6 53.7,86.5 C54.4,86.5 55.3,86.2 56.0,85.8 C56.6,85.4 57.3,84.9 57.8,84.3 C58.3,83.7 58.8,83.0 59.1,82.3 C59.4,81.6 59.6,80.8 59.9,80.0 C60.1,79.3 60.4,78.1 60.5,77.7" fill="none" stroke="#404040" stroke-width="0.9" stroke-linecap="round" stroke-linejoin="round"/>
<path d="M108.7,103.4 C108.5,103.0 108.0,101.9 107.6,101.2 C107.3,100.5 106.9,99.8 106.5,99.1 C106.1,98.4 105.7,97.7 105.2,97.1 C104.8,96.4 104.2,95.8 103.8,95.1 C103.4,94.4 103.1,93.7 102.8,93.0 C102.5,92.2 102.3,91.4 102.3,90.6 C102.3,89.8 102.5,89.0 102.8,88.3 C103.0,87.5 103.4,86.8 103.7,86.1 C104.0,85.3 104.3,84.6 104.6,83.9 C105.0,83.1 105.5,82.3 105.8,81.8 C106.2,81.3 106.5,81.0 106.6,80.9" fill="none" stroke="#484848" stroke-width="1.1" stroke-linecap="round" stroke-linejoin="round"/>
<path d="M99.5,95.0 C99.6,95.4 99.9,96.6 100.1,97.4 C100.2,98.2 100.3,99.0 100.4,99.8 C100.5,100.5 100.7,101.3 100.8,102.1 C100.8,102.9 101.0,103.8 100.8,104.5 C100.6,105.3 100.2,106.1 99.7,106.6 C99.2,107.2 98.3,107.5 97.6,107.7 C96.8,107.9 96.0,107.9 95.2,107.8 C94.4,107.7 93.4,107.4 92.9,107.3 C92.3,107.1 91.9,107.0 91.7,107.0" fill="none" stroke="#616161" stroke-width="1.17" stroke-linecap="round" stroke-linejoin="round"/>
<path d="M96.9,137.8 C96.8,138.1 96.6,139.4 96.2,140.0 C95.8,140.6 95.1,141.2 94.4,141.6 C93.8,142.0 93.0,142.2 92.2,142.4 C91.4,142.6 90.2,142.7 89.8,142.8" fill="none" stroke="#565656" stroke-width="1.03" stroke-linecap="round" stroke-linejoin="round"/>
<path d="M49.1,117.7 C49.5,117.6 50.6,117.0 51.4,117.1 C52.1,117.1 53.0,117.5 53.6,117.9 C54.2,118.4 54.6,119.2 55.0,119.8 C55.4,120.5 55.7,121.3 55.9,122.1 C56.1,122.8 56.2,123.6 56.3,124.4 C56.4,125.2 56.4,126.0 56.4,126.8 C56.5,127.6 56.6,128.4 56.6,129.2 C56.6,130.0 56.6,130.8 56.5,131.6 C56.3,132.4 56.0,133.1 55.7,133.9 C55.4,134.6 54.9,135.7 54.7,136.1" fill="none" stroke="#4b4b4b" stroke-width="1.28" stroke-linecap="round" stroke-linejoin="round"/>
<path d="M181.6,137.4 C181.2,137.5 179.9,137.5 179.2,137.8 C178.5,138.1 177.8,138.7 177.4,139.3 C177.1,140.0 176.9,140.9 177.0,141.7 C177.1,142.4 177.6,143.2 178.2,143.7 C178.7,144.3 179.5,144.8 180.2,144.9 C181.0,145.1 181.9,145.1 182.6,144.9 C183.3,144.7 184.2,144.0 184.6,143.6 C185.1,143.3 185.1,142.8 185.2,142.6" fill="none" stroke="#3a3a3a" stroke-width="2.02" stroke-linecap="round" stroke-linejoin="round"/>
<path d="M181.6,137.4 C181.2,137.5 179.9,137.5 179.2,137.8 C178.5,138.1 177.8,138.7 177.4,139.3 C177.1,140.0 176.9,140.9 177.0,141.7 C177.1,142.4 177.6,143.2 178.2,143.7 C178.7,144.3 179.5,144.8 180.2,144.9 C181.0,145.1 181.9,145.1 182.6,144.9 C183.3,144.7 184.2,144.0 184.6,143.6 C185.1,143.3 185.1,142.8 185.2,142.6" fill="none" stroke="#8c8c8c" stroke-width="0.72" stroke-linecap="round" stroke-linejoin="round"/>
<path d="M87.8,103.5 C88.1,103.2 89.1,102.4 89.5,101.8 C90.0,101.2 90.3,100.4 90.5,99.6 C90.6,98.9 90.6,98.0 90.5,97.2 C90.4,96.5 90.1,95.7 89.7,95.0 C89.4,94.2 89.0,93.5 88.4,92.9 C87.9,92.4 87.1,91.9 86.4,91.8 C85.6,91.6 84.7,91.8 84.0,92.1 C83.4,92.5 82.7,93.2 82.5,93.9 C82.2,94.6 82.1,95.5 82.3,96.3 C82.5,97.0 83.1,97.6 83.6,98.3 C84.1,98.9 85.0,99.7 85.3,100.0" fill="none" stroke="#4b4b4b" stroke-width="1.2" stroke-linecap="round" stroke-linejoin="round"/>
<path d="M86.4,165.4 C86.5,165.8 86.7,167.0 87.0,167.7 C87.3,168.5 88.3,169.6 88.1,169.9 C87.8,170.2 86.5,169.9 85.7,169.8 C84.9,169.6 83.7,169.3 83.4,169.2" fill="none" stroke="#404040" stroke-width="1.08" stroke-linecap="round" stroke-linejoin="round"/>
<path d="M74.5,131.1 C74.3,131.5 73.7,132.5 73.2,133.2 C72.7,133.8 72.2,134.5 71.6,135.0 C71.0,135.5 70.3,136.0 69.6,136.2 C68.8,136.4 67.9,136.4 67.2,136.2 C66.5,136.0 65.7,135.4 65.3,134.8 C64.9,134.2 64.6,133.3 64.7,132.5 C64.7,131.8 65.3,130.7 65.4,130.3" fill="none" stroke="#3a3a3a" stroke-width="2.0300000000000002" stroke-linecap="round" stroke-linejoin="round"/>
<path d="M74.5,131.1 C74.3,131.5 73.7,132.5 73.2,133.2 C72.7,133.8 72.2,134.5 71.6,135.0 C71.0,135.5 70.3,136.0 69.6,136.2 C68.8,136.4 67.9,136.4 67.2,136.2 C66.5,136.0 65.7,135.4 65.3,134.8 C64.9,134.2 64.6,133.3 64.7,132.5 C64.7,131.8 65.3,130.7 65.4,130.3" fill="none" stroke="#8c8c8c" stroke-width="0.73" stroke-linecap="round" stroke-linejoin="round"/>
<path d="M162.9,76.1 C162.7,75.8 162.4,74.6 162.0,73.9 C161.6,73.2 161.1,72.6 160.5,72.0 C159.9,71.5 159.2,71.1 158.5,70.8 C157.7,70.5 156.5,70.4 156.1,70.4" fill="none" stroke="#404040" stroke-width="1.21" stroke-linecap="round" stroke-linejoin="round"/>
<path d="M48.3,147.4 C48.1,147.8 47.6,148.9 47.3,149.6 C47.0,150.4 46.9,151.2 46.8,151.9 C46.6,152.7 46.7,153.5 46.6,154.3 C46.6,155.1 46.5,155.9 46.6,156.7 C46.7,157.5 46.9,158.7 47.0,159.1" fill="none" stroke="#616161" stroke-width="1.36" stroke-linecap="round" stroke-linejoin="round"/>
<path d="M89.4,154.9 C89.1,154.9 87.8,154.8 87.1,154.4 C86.4,154.1 85.7,153.5 85.3,152.9 C84.9,152.3 84.6,151.4 84.6,150.6 C84.7,149.9 85.0,149.0 85.4,148.4 C85.9,147.8 86.7,147.3 87.4,147.2 C88.2,147.0 89.1,147.2 89.8,147.5 C90.4,147.9 91.0,148.6 91.4,149.2 C91.8,149.9 91.9,151.2 92.1,151.5" fill="none" stroke="#484848" stroke-width="1.3" stroke-linecap="round" stroke-linejoin="round"/>
<path d="M88.9,130.6 C89.3,130.7 90.5,130.9 91.2,131.2 C91.9,131.6 92.6,132.1 93.2,132.6 C93.7,133.2 94.1,133.9 94.6,134.6 C95.0,135.2 95.4,135.9 96.0,136.5 C96.5,137.1 97.1,137.7 97.7,138.1 C98.4,138.6 99.2,138.9 99.9,139.0 C100.7,139.2 101.6,139.3 102.3,139.2 C103.1,139.0 103.8,138.6 104.5,138.3 C105.3,137.9 105.9,137.5 106.6,137.1 C107.3,136.7 108.2,136.3 108.7,135.9 C109.3,135.6 109.6,135.3 109.7,135.2" fill="none" stroke="#565656" stroke-width="1.03" stroke-linecap="round" stroke-linejoin="round"/>
<path d="M146.5,113.0 C146.3,113.4 145.7,114.4 145.4,115.2 C145.2,115.9 145.1,116.7 145.0,117.5 C144.9,118.3 144.9,119.1 144.9,119.9 C144.9,120.7 144.9,121.5 145.0,122.3 C145.1,123.1 145.2,123.9 145.3,124.7 C145.5,125.5 145.8,126.2 146.1,127.0 C146.3,127.7 146.7,128.4 147.1,129.1 C147.4,129.9 147.8,130.6 148.1,131.3 C148.4,132.1 148.6,132.8 148.7,133.6 C148.8,134.4 148.5,135.6 148.5,136.0" fill="none" stroke="#565656" stroke-width="1.25" stroke-linecap="round" stroke-linejoin="round"/>
<path d="M72.3,134.6 C71.9,134.6 70.6,134.5 69.9,134.8 C69.2,135.1 68.5,135.7 68.2,136.4 C67.8,137.0 67.7,137.9 67.8,138.7 C67.8,139.5 68.0,140.3 68.5,141.0 C68.9,141.6 69.5,142.2 70.2,142.6 C70.8,143.1 71.6,143.4 72.4,143.7 C73.1,143.9 73.9,144.2 74.7,144.2 C75.5,144.1 76.4,144.0 77.0,143.6 C77.6,143.3 78.2,142.5 78.5,141.8 C78.9,141.1 79.1,139.9 79.2,139.5" fill="none" stroke="#616161" stroke-width="1.47" stroke-linecap="round" stroke-linejoin="round"/>
<path d="M153.7,90.2 C153.4,89.9 152.5,89.1 151.9,88.6 C151.3,88.1 150.8,87.4 150.2,86.9 C149.7,86.3 149.1,85.6 148.4,85.3 C147.7,85.0 146.9,84.8 146.1,84.9 C145.3,84.9 144.3,85.6 143.9,85.8" fill="none" stroke="#565656" stroke-width="1.43" stroke-linecap="round" stroke-linejoin="round"/>
<path d="M57.4,140.1 C57.3,140.5 57.2,141.7 57.0,142.5 C56.8,143.3 56.5,144.0 56.2,144.7 C55.9,145.5 55.5,146.2 55.2,146.9 C54.8,147.6 54.4,148.3 54.0,149.0 C53.5,149.7 53.1,150.3 52.6,151.0 C52.2,151.6 51.7,152.3 51.2,152.9 C50.7,153.5 49.9,154.2 49.5,154.5 C49.0,154.9 48.5,154.9 48.3,155.0" fill="none" stroke="#404040" stroke-width="1.22" stroke-linecap="round" stroke-linejoin="round"/>
<path d="M150.7,112.6 C150.9,113.0 151.4,114.1 151.5,114.8 C151.6,115.6 151.7,116.5 151.6,117.2 C151.4,118.0 150.9,118.7 150.3,119.3 C149.8,119.8 149.0,120.2 148.2,120.4 C147.5,120.7 146.6,120.8 145.9,120.6 C145.1,120.5 144.3,120.2 143.7,119.7 C143.0,119.3 142.4,118.7 142.0,118.1 C141.5,117.4 141.1,116.5 140.8,116.0 C140.5,115.5 140.3,115.1 140.2,114.9" fill="none" stroke="#616161" stroke-width="1.28" stroke-linecap="round" stroke-linejoin="round"/>
<path d="M86.9,164.5 C86.9,164.9 86.9,166.1 86.8,166.9 C86.8,167.7 86.9,168.8 86.4,169.2 C85.9,169.6 84.8,169.2 84.0,169.2 C83.2,169.3 82.4,169.3 81.6,169.4 C80.8,169.4 80.0,169.6 79.2,169.6 C78.4,169.7 77.2,169.6 76.8,169.6" fill="none" stroke="#4b4b4b" stroke-width="1.23" stroke-linecap="round" stroke-linejoin="round"/>
<path d="M192.7,95.0 C192.9,95.4 193.2,96.6 193.6,97.2 C194.1,97.8 194.8,98.4 195.5,98.6 C196.3,98.8 197.2,98.8 197.9,98.6 C198.6,98.4 199.4,97.9 199.9,97.3 C200.4,96.7 200.7,95.8 200.7,95.1 C200.6,94.3 200.3,93.5 199.9,92.8 C199.4,92.2 198.6,91.6 198.1,91.3 C197.6,91.0 197.1,91.0 196.9,90.9" fill="none" stroke="#565656" stroke-width="1.08" stroke-linecap="round" stroke-linejoin="round"/>
<path d="M115.1,136.4 C114.9,136.7 114.3,137.7 114.0,138.5 C113.6,139.2 113.5,140.0 113.2,140.7 C112.9,141.5 112.6,142.2 112.3,143.0 C112.0,143.7 111.7,144.5 111.4,145.2 C111.0,145.9 110.6,146.6 110.2,147.3 C109.7,147.9 109.2,148.5 108.6,149.1 C108.0,149.6 107.1,150.1 106.6,150.4 C106.1,150.8 105.8,151.0 105.6,151.1" fill="none" stroke="#4b4b4b" stroke-width="1.0" stroke-linecap="round" stroke-linejoin="round"/>
<path d="M51.4,127.2 C51.5,127.6 51.5,128.8 51.7,129.6 C52.0,130.3 52.4,131.0 52.7,131.7 C53.1,132.5 53.5,133.2 53.9,133.8 C54.4,134.5 54.8,135.2 55.4,135.8 C55.9,136.3 56.5,136.9 57.2,137.3 C57.9,137.6 58.7,137.8 59.5,137.9 C60.3,138.0 61.3,137.9 61.9,137.8 C62.5,137.7 62.8,137.5 63.0,137.4" fill="none" stroke="#484848" stroke-width="1.39" stroke-linecap="round" stroke-linejoin="round"/>
<path d="M131.6,62.7 C131.6,62.3 131.3,61.1 131.1,60.3 C130.9,59.6 130.5,58.0 130.4,58.1 C130.3,58.1 130.5,59.7 130.7,60.4 C130.9,61.2 131.3,61.9 131.7,62.6 C132.2,63.3 133.1,64.1 133.3,64.4" fill="none" stroke="#565656" stroke-width="0.8" stroke-linecap="round" stroke-linejoin="round"/>
<path d="M39.9,120.6 C39.5,120.3 38.6,119.6 37.9,119.2 C37.2,118.8 36.5,118.3 35.9,117.9 C35.2,117.5 34.5,117.1 33.8,116.8 C33.0,116.5 31.9,116.1 31.5,116.0" fill="none" stroke="#484848" stroke-width="1.35" stroke-linecap="round" stroke-linejoin="round"/>
<path d="M42.3,126.2 C42.5,125.8 43.1,124.8 43.4,124.1 C43.8,123.4 44.3,122.7 44.6,122.0 C45.0,121.3 45.3,120.5 45.4,119.7 C45.5,119.0 45.4,118.1 45.3,117.3 C45.2,116.5 45.0,115.8 44.7,115.0 C44.5,114.3 44.2,113.5 43.8,112.8 C43.4,112.1 42.8,111.1 42.5,110.8" fill="none" stroke="#4b4b4b" stroke-width="1.19" stroke-linecap="round" stroke-linejoin="round"/>
<path d="M229.8,109.4 C229.6,109.0 228.9,108.0 228.6,107.3 C228.3,106.6 228.2,105.7 227.9,105.0 C227.7,104.2 227.4,103.5 227.1,102.7 C226.9,102.0 226.2,100.8 226.4,100.4 C226.7,100.1 228.3,100.6 228.7,100.6" fill="none" stroke="#616161" stroke-width="0.89" stroke-linecap="round" stroke-linejoin="round"/>
<path d="M176.3,152.2 C176.2,152.6 176.2,153.9 176.0,154.6 C175.7,155.4 175.3,156.1 174.9,156.8 C174.5,157.4 174.0,158.2 173.4,158.6 C172.7,159.0 172.0,159.2 171.2,159.3 C170.5,159.5 169.2,159.3 168.8,159.3" fill="none" stroke="#404040" stroke-width="1.08" stroke-linecap="round" stroke-linejoin="round"/>
<path d="M84.9,108.9 C85.2,109.2 86.0,110.2 86.7,110.4 C87.4,110.7 88.3,110.7 89.0,110.7 C89.8,110.6 90.6,110.3 91.4,110.1 C92.1,109.8 92.8,109.5 93.6,109.1 C94.3,108.8 95.0,108.5 95.7,108.1 C96.5,107.8 97.1,107.4 97.8,107.0 C98.5,106.6 99.5,105.9 99.9,105.7" fill="none" stroke="#565656" stroke-width="1.21" stroke-linecap="round" stroke-linejoin="round"/>
<path d="M147.4,81.0 C147.4,81.4 147.7,82.6 147.5,83.3 C147.3,84.1 146.8,84.8 146.2,85.3 C145.6,85.8 144.8,86.1 144.0,86.3 C143.3,86.5 142.4,86.5 141.6,86.3 C140.9,86.1 140.1,85.8 139.4,85.4 C138.7,85.0 138.1,84.5 137.6,83.8 C137.1,83.2 136.7,82.5 136.5,81.7 C136.3,81.0 136.4,79.9 136.5,79.3 C136.5,78.8 136.8,78.4 136.9,78.2" fill="none" stroke="#404040" stroke-width="1.48" stroke-linecap="round" stroke-linejoin="round"/>
<path d="M69.7,165.3 C70.1,165.2 71.4,165.2 72.1,164.9 C72.8,164.6 73.5,164.0 73.8,163.3 C74.2,162.7 74.3,161.7 74.2,161.0 C74.0,160.2 73.6,159.5 73.1,158.8 C72.6,158.2 71.7,157.4 71.4,157.1" fill="none" stroke="#4b4b4b" stroke-width="1.21" stroke-linecap="round" stroke-linejoin="round"/>
<path d="M92.7,131.8 C92.7,132.2 92.5,133.4 92.4,134.2 C92.3,134.9 92.2,135.7 92.1,136.5 C92.0,137.3 91.8,138.1 91.8,138.9 C91.8,139.7 91.8,140.6 92.1,141.3 C92.3,142.0 92.7,142.8 93.3,143.3 C93.9,143.8 94.7,144.2 95.5,144.3 C96.2,144.4 97.4,144.0 97.8,143.9" fill="none" stroke="#4b4b4b" stroke-width="1.03" stroke-linecap="round" stroke-linejoin="round"/>
<path d="M183.9,104.1 C184.0,104.5 184.6,105.5 184.8,106.3 C185.0,107.0 185.0,107.9 185.0,108.7 C184.9,109.5 184.8,110.3 184.7,111.1 C184.5,111.8 184.4,112.7 184.1,113.4 C183.8,114.1 183.4,114.8 182.8,115.4 C182.3,115.9 181.5,116.3 180.8,116.6 C180.0,116.9 179.2,117.0 178.4,117.0 C177.6,117.0 176.8,116.9 176.1,116.6 C175.3,116.3 174.6,115.9 174.0,115.4 C173.4,114.9 172.8,114.4 172.2,113.8 C171.7,113.2 170.9,112.3 170.7,112.0" fill="none" stroke="#484848" stroke-width="1.33" stroke-linecap="round" stroke-linejoin="round"/>
<path d="M213.8,118.2 C213.9,117.9 214.3,116.7 214.6,116.0 C214.9,115.3 215.4,114.6 215.7,113.8 C216.0,113.1 216.1,112.1 216.5,111.6 C216.9,111.1 217.8,111.0 218.1,110.9" fill="none" stroke="#484848" stroke-width="0.98" stroke-linecap="round" stroke-linejoin="round"/>
<path d="M65.7,130.0 C66.1,130.1 67.2,130.4 68.0,130.6 C68.8,130.8 69.6,130.9 70.4,131.1 C71.2,131.3 71.9,131.5 72.7,131.7 C73.5,131.8 74.3,131.8 75.1,131.9 C75.9,132.0 76.7,132.2 77.5,132.3 C78.3,132.3 79.1,132.4 79.9,132.2 C80.6,132.0 81.3,131.5 82.0,131.1 C82.7,130.7 83.4,130.2 83.9,129.6 C84.4,129.0 84.9,127.9 85.1,127.6" fill="none" stroke="#565656" stroke-width="1.37" stroke-linecap="round" stroke-linejoin="round"/>
<path d="M148.0,105.2 C147.6,105.2 146.4,105.4 145.6,105.4 C144.8,105.5 144.0,105.4 143.2,105.5 C142.5,105.6 141.7,105.8 140.9,106.0 C140.1,106.2 139.4,106.5 138.7,106.9 C138.0,107.3 137.4,107.9 136.9,108.5 C136.5,109.2 136.2,110.0 136.1,110.8 C135.9,111.5 135.9,112.4 136.0,113.1 C136.1,113.9 136.4,114.7 136.6,115.5 C136.9,116.2 137.2,117.0 137.4,117.8 C137.6,118.5 137.7,119.3 137.9,120.1 C138.0,120.9 138.3,122.0 138.4,122.4" fill="none" stroke="#404040" stroke-width="1.17" stroke-linecap="round" stroke-linejoin="round"/>
<path d="M184.9,110.9 C185.2,111.2 186.0,112.1 186.3,112.8 C186.6,113.6 186.7,114.4 186.7,115.2 C186.7,116.0 186.5,116.8 186.3,117.6 C186.1,118.3 185.6,119.0 185.4,119.8 C185.2,120.5 185.1,121.4 185.0,122.1 C184.9,122.9 185.0,123.7 184.9,124.5 C184.9,125.3 184.8,126.2 184.9,126.9 C185.1,127.7 185.3,128.6 185.7,129.2 C186.1,129.8 186.8,130.4 187.5,130.8 C188.2,131.2 189.2,131.3 189.8,131.5 C190.4,131.6 190.8,131.5 191.0,131.5" fill="none" stroke="#616161" stroke-width="1.22" stroke-linecap="round" stroke-linejoin="round"/>
<path d="M185.0,119.0 C184.9,118.6 184.9,117.4 184.6,116.6 C184.3,115.9 183.9,115.2 183.3,114.7 C182.7,114.2 181.7,113.8 181.2,113.6 C180.6,113.3 180.2,113.3 180.0,113.3" fill="none" stroke="#484848" stroke-width="1.33" stroke-linecap="round" stroke-linejoin="round"/>
<path d="M160.1,132.3 C160.2,132.7 160.6,133.8 161.0,134.5 C161.3,135.3 161.8,136.0 162.2,136.6 C162.6,137.3 163.1,138.0 163.6,138.6 C164.0,139.3 164.5,139.9 165.0,140.5 C165.5,141.2 165.9,141.8 166.4,142.5 C166.8,143.2 167.1,143.9 167.6,144.6 C168.0,145.2 168.7,146.0 169.1,146.4 C169.5,146.9 169.8,147.2 169.9,147.3" fill="none" stroke="#484848" stroke-width="1.57" stroke-linecap="round" stroke-linejoin="round"/>
<path d="M25.8,120.0 C26.1,119.7 26.7,118.6 27.3,118.1 C27.9,117.6 28.7,117.2 29.4,116.9 C30.1,116.6 31.0,116.5 31.8,116.5 C32.5,116.5 33.4,116.7 34.1,117.0 C34.8,117.3 35.5,117.9 35.9,118.5 C36.4,119.1 36.7,119.9 37.0,120.7 C37.2,121.4 37.3,122.2 37.3,123.0 C37.3,123.8 37.3,124.6 37.1,125.4 C36.9,126.2 36.4,126.9 36.0,127.5 C35.6,128.2 34.8,129.1 34.6,129.4" fill="none" stroke="#484848" stroke-width="1.15" stroke-linecap="round" stroke-linejoin="round"/>
<path d="M149.3,126.6 C149.4,126.2 149.5,124.9 149.7,124.2 C150.0,123.5 150.6,122.8 151.0,122.2 C151.5,121.5 151.9,120.9 152.5,120.3 C153.0,119.7 153.6,119.1 154.2,118.6 C154.9,118.2 155.6,117.8 156.4,117.5 C157.1,117.3 158.3,117.2 158.7,117.1" fill="none" stroke="#484848" stroke-width="1.13" stroke-linecap="round" stroke-linejoin="round"/>
<path d="M74.1,127.3 C74.1,127.7 74.4,128.9 74.3,129.7 C74.1,130.4 73.8,131.3 73.4,131.9 C72.9,132.5 72.2,133.0 71.5,133.3 C70.8,133.7 70.0,133.9 69.2,134.0 C68.4,134.2 67.2,134.2 66.8,134.2" fill="none" stroke="#4b4b4b" stroke-width="1.28" stroke-linecap="round" stroke-linejoin="round"/>
<path d="M166.7,122.9 C166.8,123.3 167.2,124.5 167.3,125.3 C167.4,126.1 167.6,126.9 167.6,127.7 C167.5,128.4 167.2,129.3 166.8,129.9 C166.4,130.6 165.8,131.2 165.2,131.7 C164.6,132.2 163.9,132.6 163.1,132.9 C162.4,133.2 161.6,133.4 160.8,133.5 C160.0,133.6 159.2,133.5 158.4,133.5 C157.6,133.4 156.8,133.2 156.1,133.0 C155.3,132.8 154.5,132.5 153.8,132.2 C153.1,131.9 152.2,131.3 151.8,130.9 C151.3,130.6 151.0,130.2 150.9,130.1" fill="none" stroke="#565656" stroke-width="1.27" stroke-linecap="round" stroke-linejoin="round"/>
<path d="M68.4,101.5 C68.6,101.2 69.1,100.0 69.5,99.4 C69.9,98.7 70.3,98.0 70.9,97.5 C71.5,96.9 72.4,96.5 73.0,96.2 C73.5,96.0 73.9,96.1 74.1,96.0" fill="none" stroke="#3a3a3a" stroke-width="2.1100000000000003" stroke-linecap="round" stroke-linejoin="round"/>
<path d="M68.4,101.5 C68.6,101.2 69.1,100.0 69.5,99.4 C69.9,98.7 70.3,98.0 70.9,97.5 C71.5,96.9 72.4,96.5 73.0,96.2 C73.5,96.0 73.9,96.1 74.1,96.0" fill="none" stroke="#8c8c8c" stroke-width="0.81" stroke-linecap="round" stroke-linejoin="round"/>
<path d="M180.4,103.5 C180.3,103.1 179.7,102.0 179.6,101.3 C179.6,100.5 179.7,99.6 180.1,98.9 C180.5,98.3 181.2,97.8 181.9,97.4 C182.6,97.1 183.5,97.0 184.3,97.0 C185.1,97.0 185.9,97.3 186.6,97.7 C187.2,98.1 187.8,98.7 188.2,99.4 C188.7,100.0 189.0,101.0 189.2,101.6 C189.5,102.1 189.5,102.5 189.6,102.7" fill="none" stroke="#4b4b4b" stroke-width="1.44" stroke-linecap="round" stroke-linejoin="round"/>
<path d="M43.0,125.8 C43.3,126.1 44.2,126.9 44.7,127.5 C45.3,128.0 45.8,128.7 46.2,129.4 C46.6,130.0 47.0,130.8 47.3,131.5 C47.5,132.2 47.7,133.3 47.7,133.8 C47.8,134.4 47.5,134.8 47.5,135.0" fill="none" stroke="#484848" stroke-width="1.35" stroke-linecap="round" stroke-linejoin="round"/>
<path d="M67.5,111.1 C67.7,111.5 68.3,112.5 68.9,113.1 C69.4,113.7 70.0,114.3 70.6,114.7 C71.3,115.1 72.3,115.5 72.8,115.6 C73.4,115.8 73.8,115.8 74.0,115.8" fill="none" stroke="#3a3a3a" stroke-width="2.1100000000000003" stroke-linecap="round" stroke-linejoin="round"/>
<path d="M67.5,111.1 C67.7,111.5 68.3,112.5 68.9,113.1 C69.4,113.7 70.0,114.3 70.6,114.7 C71.3,115.1 72.3,115.5 72.8,115.6 C73.4,115.8 73.8,115.8 74.0,115.8" fill="none" stroke="#8c8c8c" stroke-width="0.81" stroke-linecap="round" stroke-linejoin="round"/>
<path d="M150.9,120.0 C150.7,119.7 149.9,118.8 149.5,118.1 C149.1,117.4 148.7,116.7 148.4,116.0 C148.1,115.2 148.0,114.4 147.8,113.6 C147.7,112.9 147.5,112.1 147.5,111.3 C147.5,110.5 147.7,109.5 147.8,108.9 C147.9,108.3 148.2,108.0 148.3,107.8" fill="none" stroke="#565656" stroke-width="1.41" stroke-linecap="round" stroke-linejoin="round"/>
<path d="M182.0,101.3 C182.0,101.7 182.0,102.9 181.8,103.6 C181.6,104.4 181.1,105.1 180.7,105.8 C180.3,106.5 179.8,107.1 179.4,107.8 C179.1,108.5 178.8,109.3 178.4,110.0 C178.0,110.7 177.7,111.4 177.2,112.1 C176.7,112.7 176.1,113.3 175.5,113.7 C174.8,114.1 174.0,114.4 173.2,114.6 C172.5,114.8 171.7,114.9 170.9,115.0 C170.1,115.1 169.3,115.0 168.5,115.0 C167.7,115.0 166.5,115.0 166.1,115.1" fill="none" stroke="#404040" stroke-width="1.51" stroke-linecap="round" stroke-linejoin="round"/>
<path d="M93.4,71.0 C93.5,71.4 94.0,72.5 94.2,73.2 C94.4,74.0 94.6,74.8 94.8,75.6 C94.9,76.3 94.9,77.2 95.0,78.0 C95.0,78.7 95.1,79.6 95.0,80.3 C95.0,81.1 94.8,81.9 94.5,82.7 C94.3,83.5 94.0,84.2 93.7,84.9 C93.4,85.7 93.0,86.4 92.7,87.1 C92.4,87.9 92.1,88.6 91.8,89.4 C91.5,90.1 91.1,91.2 91.0,91.6" fill="none" stroke="#404040" stroke-width="1.31" stroke-linecap="round" stroke-linejoin="round"/>
<path d="M167.9,164.8 C167.5,164.9 166.3,165.0 165.6,165.2 C164.8,165.5 164.0,165.9 163.5,166.4 C163.0,167.0 162.8,168.0 162.4,168.5 C162.1,169.1 161.8,169.9 161.2,170.0 C160.7,170.1 159.8,169.3 159.0,169.2 C158.2,169.1 157.4,169.5 156.6,169.5 C155.8,169.5 155.1,169.6 154.4,169.4 C153.7,169.1 153.0,168.5 152.5,167.9 C152.0,167.3 151.5,166.2 151.3,165.9" fill="none" stroke="#565656" stroke-width="0.92" stroke-linecap="round" stroke-linejoin="round"/>
<path d="M38.9,94.1 C38.5,93.9 37.4,93.6 36.6,93.3 C35.9,93.0 35.2,92.6 34.5,92.2 C33.8,91.8 33.2,91.2 32.5,90.8 C31.9,90.5 31.2,90.2 30.4,90.1 C29.6,90.0 28.4,90.1 28.0,90.1" fill="none" stroke="#616161" stroke-width="1.06" stroke-linecap="round" stroke-linejoin="round"/>
<path d="M175.9,89.8 C175.8,89.4 175.2,88.4 175.1,87.6 C174.9,86.8 174.8,85.9 175.0,85.2 C175.2,84.4 175.6,83.7 176.1,83.1 C176.6,82.5 177.4,82.1 178.1,81.8 C178.8,81.5 180.1,81.4 180.4,81.3" fill="none" stroke="#565656" stroke-width="1.49" stroke-linecap="round" stroke-linejoin="round"/>
<path d="M155.8,88.3 C155.9,87.9 156.2,86.7 156.4,85.9 C156.6,85.2 156.9,84.4 157.0,83.6 C157.2,82.9 157.4,82.1 157.5,81.3 C157.6,80.5 157.6,79.7 157.7,78.9 C157.8,78.1 157.8,77.3 158.1,76.5 C158.4,75.8 158.7,75.0 159.3,74.4 C159.8,73.9 160.6,73.3 161.1,73.0 C161.7,72.7 162.1,72.7 162.3,72.6" fill="none" stroke="#616161" stroke-width="1.0" stroke-linecap="round" stroke-linejoin="round"/>
<path d="M196.8,103.6 C196.6,104.0 196.2,105.1 195.8,105.8 C195.5,106.5 195.1,107.2 194.8,108.0 C194.5,108.7 194.4,109.5 194.0,110.2 C193.7,111.0 193.1,111.8 192.7,112.2 C192.3,112.7 191.9,112.8 191.7,113.0" fill="none" stroke="#484848" stroke-width="1.16" stroke-linecap="round" stroke-linejoin="round"/>
<path d="M164.1,140.8 C163.8,141.1 163.0,141.9 162.5,142.5 C162.0,143.1 161.5,143.8 161.2,144.5 C160.8,145.2 160.5,146.0 160.4,146.8 C160.3,147.5 160.3,148.4 160.5,149.2 C160.7,149.9 161.1,150.6 161.4,151.4 C161.8,152.1 162.2,152.7 162.6,153.4 C163.0,154.1 163.4,154.8 163.7,155.5 C164.1,156.3 164.2,157.1 164.4,157.8 C164.6,158.6 164.8,159.6 164.9,160.2 C165.1,160.8 165.3,161.1 165.4,161.3" fill="none" stroke="#4b4b4b" stroke-width="1.03" stroke-linecap="round" stroke-linejoin="round"/>
<path d="M86.3,166.9 C86.3,166.5 86.3,165.3 86.1,164.5 C86.0,163.8 85.7,163.0 85.4,162.3 C85.1,161.5 84.6,160.9 84.2,160.2 C83.9,159.5 83.5,158.7 83.2,158.0 C82.8,157.3 82.4,156.6 81.9,156.0 C81.4,155.4 80.7,154.9 80.0,154.5 C79.3,154.1 78.6,153.8 77.8,153.5 C77.1,153.2 76.3,152.8 75.6,152.7 C74.8,152.5 73.6,152.5 73.2,152.5" fill="none" stroke="#484848" stroke-width="1.29" stroke-linecap="round" stroke-linejoin="round"/>
<path d="M97.9,136.8 C98.1,136.4 98.6,135.4 99.1,134.7 C99.5,134.0 99.9,133.4 100.4,132.7 C100.8,132.1 101.3,131.4 101.9,130.9 C102.5,130.4 103.4,129.9 104.0,129.6 C104.5,129.4 104.9,129.3 105.1,129.2" fill="none" stroke="#616161" stroke-width="1.29" stroke-linecap="round" stroke-linejoin="round"/>
<path d="M82.8,120.7 C82.5,120.4 81.5,119.6 81.0,119.0 C80.5,118.4 80.2,117.6 79.8,117.0 C79.4,116.3 79.0,115.5 78.6,114.9 C78.1,114.3 77.5,113.7 76.8,113.2 C76.2,112.8 75.4,112.5 74.7,112.2 C73.9,112.0 73.1,112.0 72.3,112.0 C71.5,111.9 70.7,112.0 69.9,112.1 C69.1,112.1 68.3,112.3 67.5,112.2 C66.7,112.2 65.7,112.0 65.1,111.9 C64.5,111.8 64.1,111.7 63.9,111.7" fill="none" stroke="#616161" stroke-width="1.3" stroke-linecap="round" stroke-linejoin="round"/>
<path d="M182.2,76.3 C182.1,76.7 181.6,77.8 181.4,78.5 C181.2,79.3 181.1,80.1 181.2,80.9 C181.2,81.7 181.3,82.5 181.5,83.3 C181.8,84.0 182.2,84.8 182.7,85.4 C183.2,86.0 183.8,86.6 184.4,87.0 C185.1,87.4 186.3,87.6 186.7,87.8" fill="none" stroke="#565656" stroke-width="1.08" stroke-linecap="round" stroke-linejoin="round"/>
<path d="M85.8,134.0 C85.4,134.0 84.2,134.1 83.4,134.1 C82.7,134.0 81.8,134.0 81.1,133.9 C80.3,133.8 79.5,133.6 78.7,133.4 C77.9,133.2 77.2,132.9 76.5,132.6 C75.7,132.3 75.0,132.0 74.2,131.7 C73.5,131.5 72.7,131.2 71.9,131.1 C71.1,131.0 70.3,131.0 69.5,131.1 C68.7,131.1 67.9,131.3 67.2,131.5 C66.4,131.8 65.7,132.2 64.9,132.4 C64.2,132.7 63.0,133.1 62.7,133.2" fill="none" stroke="#4b4b4b" stroke-width="1.29" stroke-linecap="round" stroke-linejoin="round"/>
<path d="M192.0,137.6 C192.2,137.2 192.9,136.2 193.2,135.5 C193.6,134.8 193.9,134.0 194.2,133.3 C194.5,132.5 194.7,131.8 194.9,131.0 C195.0,130.2 195.1,129.4 195.0,128.6 C195.0,127.8 194.7,126.8 194.5,126.3 C194.3,125.7 193.9,125.5 193.8,125.3" fill="none" stroke="#484848" stroke-width="1.29" stroke-linecap="round" stroke-linejoin="round"/>
<path d="M99.9,123.1 C100.3,123.1 101.5,123.3 102.3,123.4 C103.1,123.5 103.9,123.6 104.7,123.7 C105.5,123.8 106.3,123.8 107.1,123.9 C107.8,124.1 108.8,124.4 109.4,124.5 C110.0,124.7 110.3,124.8 110.5,124.8" fill="none" stroke="#565656" stroke-width="1.39" stroke-linecap="round" stroke-linejoin="round"/>
<path d="M88.2,111.3 C88.5,111.5 89.4,112.3 90.0,112.9 C90.6,113.4 91.2,113.9 91.8,114.5 C92.3,115.1 92.8,115.8 93.2,116.5 C93.5,117.2 93.7,118.0 93.8,118.8 C94.0,119.5 94.1,120.3 94.2,121.1 C94.3,121.9 94.4,122.7 94.4,123.5 C94.4,124.3 94.4,125.3 94.3,125.9 C94.3,126.5 94.2,126.9 94.2,127.1" fill="none" stroke="#616161" stroke-width="1.46" stroke-linecap="round" stroke-linejoin="round"/>
<path d="M138.1,69.7 C138.5,70.0 139.5,70.6 140.1,71.2 C140.6,71.7 141.0,72.5 141.3,73.2 C141.7,73.9 141.9,74.7 142.1,75.5 C142.3,76.2 142.4,77.0 142.6,77.8 C142.7,78.6 142.8,79.4 142.8,80.2 C142.8,81.0 142.8,81.8 142.7,82.6 C142.6,83.4 142.3,84.2 142.0,84.9 C141.6,85.6 141.1,86.2 140.6,86.9 C140.2,87.5 139.6,88.3 139.2,88.8 C138.8,89.2 138.5,89.5 138.3,89.6" fill="none" stroke="#404040" stroke-width="1.5" stroke-linecap="round" stroke-linejoin="round"/>
<path d="M88.6,131.7 C88.4,131.4 87.8,130.3 87.3,129.7 C86.8,129.1 86.2,128.5 85.6,128.0 C84.9,127.5 84.3,127.1 83.5,126.8 C82.8,126.5 81.9,126.3 81.2,126.3 C80.4,126.4 79.5,126.6 78.9,127.0 C78.2,127.4 77.6,128.0 77.3,128.7 C77.0,129.4 77.0,130.3 77.1,131.1 C77.3,131.8 77.8,132.6 78.3,133.2 C78.8,133.8 79.4,134.4 80.1,134.8 C80.7,135.2 81.9,135.5 82.3,135.7" fill="none" stroke="#616161" stroke-width="1.21" stroke-linecap="round" stroke-linejoin="round"/>
<path d="M172.4,69.3 C172.6,69.6 173.2,70.7 173.8,71.3 C174.3,71.8 175.1,72.2 175.8,72.4 C176.6,72.7 177.4,72.8 178.2,72.8 C179.0,72.8 179.8,72.6 180.6,72.4 C181.4,72.3 182.1,72.0 182.9,71.8 C183.7,71.7 184.5,71.5 185.3,71.6 C186.1,71.7 186.9,72.0 187.5,72.5 C188.1,72.9 188.5,74.1 188.7,74.5" fill="none" stroke="#404040" stroke-width="0.98" stroke-linecap="round" stroke-linejoin="round"/>
<path d="M18.2,125.0 C17.9,124.8 16.8,124.2 16.1,124.0 C15.3,123.7 14.5,123.5 13.7,123.4 C13.0,123.2 12.1,123.2 11.4,123.1 C10.6,122.9 9.8,122.7 9.1,122.3 C8.4,121.9 8.1,120.9 7.4,120.6 C6.7,120.3 5.8,120.4 5.0,120.5 C4.2,120.6 3.3,120.8 2.8,121.3 C2.2,121.8 1.7,123.0 1.5,123.3" fill="none" stroke="#404040" stroke-width="0.81" stroke-linecap="round" stroke-linejoin="round"/>
<path d="M112.4,78.8 C112.8,78.8 114.0,78.6 114.8,78.5 C115.6,78.4 116.4,78.3 117.2,78.2 C117.9,78.2 118.7,78.1 119.5,78.1 C120.3,78.0 121.5,77.9 121.9,77.9" fill="none" stroke="#484848" stroke-width="0.91" stroke-linecap="round" stroke-linejoin="round"/>
<path d="M73.9,99.8 C74.2,99.6 75.2,99.0 75.8,98.4 C76.4,97.9 76.9,97.3 77.4,96.6 C77.8,96.0 78.3,95.3 78.6,94.6 C79.0,93.9 79.1,93.1 79.4,92.3 C79.6,91.5 79.9,90.8 80.2,90.1 C80.5,89.3 80.9,88.6 81.2,87.9 C81.5,87.1 81.8,86.4 82.0,85.6 C82.3,84.9 82.6,84.1 82.8,83.4 C83.1,82.6 83.3,81.4 83.4,81.0" fill="none" stroke="#4b4b4b" stroke-width="1.36" stroke-linecap="round" stroke-linejoin="round"/>
<path d="M116.5,169.3 C116.7,168.9 116.9,167.8 117.2,167.0 C117.5,166.3 118.0,165.6 118.5,165.0 C119.0,164.4 119.6,163.8 120.2,163.4 C120.9,162.9 121.7,162.5 122.4,162.4 C123.2,162.3 124.0,162.5 124.7,162.8 C125.5,163.1 126.1,163.7 126.7,164.2 C127.3,164.8 127.7,165.5 128.2,166.1 C128.6,166.8 129.3,167.6 129.4,168.2 C129.5,168.8 129.1,169.7 128.8,169.9 C128.5,170.1 127.8,169.7 127.6,169.7" fill="none" stroke="#4b4b4b" stroke-width="0.94" stroke-linecap="round" stroke-linejoin="round"/>
<path d="M57.3,110.9 C57.6,110.8 58.7,110.3 59.4,109.9 C60.2,109.5 60.9,109.2 61.6,108.8 C62.3,108.4 63.1,107.9 63.6,107.5 C64.1,107.1 64.3,106.8 64.5,106.7" fill="none" stroke="#4b4b4b" stroke-width="1.29" stroke-linecap="round" stroke-linejoin="round"/>
<path d="M80.9,77.8 C80.7,77.5 80.0,76.5 79.5,75.9 C79.0,75.2 78.4,74.7 77.8,74.2 C77.3,73.6 76.6,73.1 76.1,72.5 C75.6,71.9 75.0,70.8 74.8,70.5" fill="none" stroke="#4b4b4b" stroke-width="0.9" stroke-linecap="round" stroke-linejoin="round"/>
<path d="M153.6,155.4 C153.7,155.8 154.3,156.9 154.6,157.6 C154.9,158.3 155.3,159.0 155.5,159.8 C155.6,160.6 155.7,161.4 155.6,162.2 C155.6,163.0 155.4,163.8 155.1,164.5 C154.7,165.2 154.1,165.8 153.6,166.4 C153.0,166.9 152.0,167.6 151.7,167.9" fill="none" stroke="#565656" stroke-width="1.14" stroke-linecap="round" stroke-linejoin="round"/>
<path d="M158.9,92.6 C159.3,92.7 160.5,92.9 161.2,93.2 C162.0,93.6 162.6,94.1 163.2,94.6 C163.8,95.1 164.3,95.7 164.9,96.3 C165.4,96.9 166.0,97.5 166.5,98.1 C167.1,98.6 167.6,99.2 168.1,99.9 C168.6,100.5 169.2,101.5 169.5,101.8" fill="none" stroke="#565656" stroke-width="1.21" stroke-linecap="round" stroke-linejoin="round"/>
<path d="M144.7,109.4 C144.3,109.2 143.3,108.7 142.6,108.3 C141.9,107.9 141.2,107.5 140.5,107.1 C139.8,106.6 139.1,106.2 138.5,105.7 C138.0,105.1 137.5,104.0 137.2,103.7" fill="none" stroke="#4b4b4b" stroke-width="1.25" stroke-linecap="round" stroke-linejoin="round"/>
<path d="M185.1,113.2 C185.5,113.3 186.5,113.9 187.3,114.2 C188.0,114.4 188.8,114.6 189.6,114.6 C190.4,114.6 191.2,114.4 192.0,114.3 C192.8,114.1 193.6,113.8 194.3,113.5 C195.0,113.2 195.8,112.9 196.4,112.4 C197.0,111.9 197.6,111.3 198.1,110.7 C198.5,110.0 199.0,109.3 199.3,108.6 C199.5,107.9 199.6,107.0 199.6,106.2 C199.6,105.4 199.5,104.6 199.2,103.9 C198.9,103.2 198.2,102.3 197.9,101.9 C197.5,101.5 197.0,101.4 196.8,101.3" fill="none" stroke="#4b4b4b" stroke-width="1.21" stroke-linecap="round" stroke-linejoin="round"/>
<path d="M151.5,128.0 C151.8,127.8 152.9,127.3 153.5,126.8 C154.1,126.3 154.6,125.6 155.2,125.1 C155.7,124.5 156.2,123.9 156.8,123.3 C157.3,122.7 157.9,122.1 158.5,121.6 C159.0,121.0 159.6,120.4 160.2,119.9 C160.8,119.3 161.6,118.5 161.9,118.3" fill="none" stroke="#404040" stroke-width="1.27" stroke-linecap="round" stroke-linejoin="round"/>
<path d="M186.8,100.1 C187.2,100.1 188.4,99.8 189.2,99.8 C190.0,99.8 190.8,100.0 191.5,100.3 C192.2,100.6 192.9,101.1 193.4,101.7 C193.9,102.3 194.3,103.2 194.3,103.9 C194.4,104.7 193.8,105.8 193.7,106.2" fill="none" stroke="#4b4b4b" stroke-width="1.14" stroke-linecap="round" stroke-linejoin="round"/>
<path d="M97.6,160.3 C97.8,160.6 98.4,161.7 99.0,162.2 C99.5,162.8 100.2,163.3 100.9,163.7 C101.5,164.1 102.3,164.5 103.1,164.7 C103.8,164.9 104.7,165.0 105.4,164.8 C106.2,164.7 107.0,164.3 107.6,163.9 C108.2,163.4 108.8,162.7 109.2,162.1 C109.5,161.4 109.6,160.3 109.6,159.7 C109.7,159.2 109.4,158.8 109.4,158.6" fill="none" stroke="#4b4b4b" stroke-width="1.32" stroke-linecap="round" stroke-linejoin="round"/>
<path d="M58.9,120.6 C58.8,121.0 58.8,122.2 58.6,123.0 C58.5,123.7 58.2,124.5 58.1,125.3 C57.9,126.1 57.9,126.9 57.8,127.7 C57.7,128.5 57.7,129.3 57.6,130.1 C57.5,130.9 57.4,131.7 57.2,132.4 C56.9,133.2 56.5,133.9 56.0,134.5 C55.5,135.1 54.4,135.8 54.1,136.0" fill="none" stroke="#3a3a3a" stroke-width="2.12" stroke-linecap="round" stroke-linejoin="round"/>
<path d="M58.9,120.6 C58.8,121.0 58.8,122.2 58.6,123.0 C58.5,123.7 58.2,124.5 58.1,125.3 C57.9,126.1 57.9,126.9 57.8,127.7 C57.7,128.5 57.7,129.3 57.6,130.1 C57.5,130.9 57.4,131.7 57.2,132.4 C56.9,133.2 56.5,133.9 56.0,134.5 C55.5,135.1 54.4,135.8 54.1,136.0" fill="none" stroke="#8c8c8c" stroke-width="0.82" stroke-linecap="round" stroke-linejoin="round"/>
<path d="M188.5,118.1 C188.3,117.7 187.8,116.6 187.6,115.8 C187.4,115.1 187.4,114.3 187.2,113.5 C187.1,112.7 187.1,111.9 186.9,111.1 C186.8,110.3 186.5,109.5 186.4,108.8 C186.3,108.0 186.2,107.2 186.2,106.4 C186.2,105.6 186.4,104.8 186.6,104.0 C186.8,103.2 187.0,102.3 187.2,101.7 C187.3,101.1 187.4,100.7 187.5,100.5" fill="none" stroke="#404040" stroke-width="1.43" stroke-linecap="round" stroke-linejoin="round"/>
<path d="M40.6,136.8 C40.6,137.2 40.6,138.4 40.5,139.2 C40.4,140.0 40.2,140.9 39.9,141.5 C39.5,142.2 38.8,142.8 38.2,143.2 C37.6,143.7 36.8,144.1 36.0,144.3 C35.3,144.4 34.4,144.3 33.7,144.0 C33.0,143.7 32.3,142.6 32.0,142.4" fill="none" stroke="#616161" stroke-width="0.98" stroke-linecap="round" stroke-linejoin="round"/>
<path d="M69.0,162.3 C68.9,161.9 68.8,160.7 68.7,159.9 C68.6,159.2 68.4,158.4 68.4,157.6 C68.4,156.8 68.5,156.0 68.7,155.2 C68.8,154.4 69.1,153.6 69.4,152.9 C69.7,152.2 70.0,151.4 70.5,150.8 C71.0,150.2 71.7,149.7 72.4,149.4 C73.1,149.0 74.0,148.9 74.8,148.8 C75.6,148.8 76.4,148.9 77.1,149.1 C77.9,149.4 79.0,150.0 79.3,150.1" fill="none" stroke="#4b4b4b" stroke-width="1.49" stroke-linecap="round" stroke-linejoin="round"/>
<path d="M161.2,106.3 C161.0,106.7 160.6,107.8 160.4,108.6 C160.2,109.3 159.9,110.1 159.8,110.9 C159.7,111.7 159.8,112.5 159.9,113.3 C160.0,114.1 160.2,114.9 160.4,115.6 C160.6,116.4 160.8,117.2 161.1,117.9 C161.4,118.6 161.8,119.3 162.2,120.0 C162.6,120.7 163.1,121.6 163.5,122.1 C163.8,122.6 164.0,122.9 164.1,123.1" fill="none" stroke="#404040" stroke-width="1.35" stroke-linecap="round" stroke-linejoin="round"/>
<path d="M80.0,71.7 C79.8,71.5 79.2,70.3 78.5,70.1 C77.9,69.8 76.9,70.3 76.1,70.4 C75.3,70.5 74.4,70.7 73.8,70.7 C73.2,70.8 72.8,70.8 72.6,70.8" fill="none" stroke="#565656" stroke-width="0.96" stroke-linecap="round" stroke-linejoin="round"/>
<path d="M69.3,102.6 C69.1,103.0 68.6,104.2 68.0,104.6 C67.4,105.0 66.4,105.3 65.7,105.3 C64.9,105.2 64.0,104.9 63.5,104.5 C62.9,104.0 62.5,102.8 62.3,102.4" fill="none" stroke="#404040" stroke-width="1.73" stroke-linecap="round" stroke-linejoin="round"/>
<path d="M144.2,143.0 C144.6,143.0 145.8,143.1 146.6,143.3 C147.4,143.4 148.2,143.7 148.9,143.9 C149.7,144.0 150.5,144.3 151.3,144.4 C152.1,144.4 152.9,144.5 153.7,144.2 C154.4,144.0 155.1,143.5 155.6,142.9 C156.1,142.3 156.4,141.5 156.7,140.8 C157.0,140.0 157.4,138.9 157.5,138.5" fill="none" stroke="#565656" stroke-width="1.31" stroke-linecap="round" stroke-linejoin="round"/>
<path d="M105.2,113.3 C105.5,113.6 106.5,114.4 106.7,115.1 C107.0,115.8 107.0,116.8 106.8,117.5 C106.6,118.2 106.1,119.0 105.6,119.5 C105.0,120.0 104.1,120.3 103.4,120.4 C102.6,120.4 101.5,119.8 101.1,119.6" fill="none" stroke="#404040" stroke-width="1.1" stroke-linecap="round" stroke-linejoin="round"/>
<path d="M77.7,98.3 C77.7,97.9 77.6,96.6 77.9,95.9 C78.1,95.1 78.5,94.3 79.1,93.8 C79.6,93.3 80.5,93.0 81.2,92.9 C82.0,92.8 82.9,93.0 83.6,93.3 C84.3,93.6 85.0,94.3 85.4,94.8 C85.8,95.2 85.9,95.7 86.0,95.8" fill="none" stroke="#4b4b4b" stroke-width="1.31" stroke-linecap="round" stroke-linejoin="round"/>
<path d="M57.9,107.2 C58.1,106.9 58.8,105.9 59.2,105.2 C59.6,104.5 60.1,103.9 60.5,103.2 C60.9,102.5 61.2,101.8 61.7,101.1 C62.1,100.4 62.6,99.8 63.0,99.1 C63.5,98.5 64.1,97.7 64.5,97.2 C64.8,96.7 65.1,96.4 65.2,96.3" fill="none" stroke="#565656" stroke-width="1.47" stroke-linecap="round" stroke-linejoin="round"/>
<path d="M207.8,117.2 C207.5,117.5 206.7,118.5 206.1,118.9 C205.4,119.2 204.5,119.4 203.8,119.4 C203.0,119.4 202.2,119.2 201.4,119.0 C200.6,118.8 199.6,118.2 199.2,118.1" fill="none" stroke="#565656" stroke-width="1.11" stroke-linecap="round" stroke-linejoin="round"/>
<path d="M40.9,113.9 C41.2,114.2 42.2,114.9 42.8,115.4 C43.4,115.9 44.0,116.4 44.6,116.9 C45.2,117.4 45.9,117.9 46.4,118.5 C46.9,119.1 47.5,119.7 47.9,120.4 C48.3,121.1 48.6,121.9 48.7,122.7 C48.9,123.4 48.9,124.3 48.8,125.0 C48.6,125.8 48.3,126.6 47.9,127.2 C47.4,127.9 46.8,128.5 46.1,128.9 C45.5,129.3 44.6,129.5 43.8,129.5 C43.1,129.5 42.0,129.2 41.5,129.0 C41.0,128.8 40.8,128.4 40.6,128.2" fill="none" stroke="#4b4b4b" stroke-width="1.41" stroke-linecap="round" stroke-linejoin="round"/>
<path d="M82.9,124.7 C82.7,124.3 82.3,123.2 81.9,122.5 C81.5,121.8 81.1,121.1 80.6,120.5 C80.1,119.8 79.6,119.2 79.1,118.6 C78.5,118.0 77.9,117.4 77.3,117.0 C76.6,116.6 75.8,116.4 75.1,116.1 C74.3,115.9 73.5,115.8 72.7,115.6 C72.0,115.3 71.2,115.1 70.4,114.8 C69.7,114.6 68.9,114.3 68.2,114.0 C67.5,113.6 66.4,113.1 66.0,113.0" fill="none" stroke="#4b4b4b" stroke-width="1.66" stroke-linecap="round" stroke-linejoin="round"/>
<path d="M147.6,56.1 C148.0,55.9 149.5,54.8 149.8,55.0 C150.1,55.2 149.7,56.6 149.4,57.3 C149.2,58.1 148.7,58.8 148.2,59.4 C147.6,59.9 146.9,60.3 146.2,60.8 C145.6,61.3 145.0,61.9 144.5,62.5 C144.0,63.1 143.7,63.8 143.3,64.5 C142.9,65.2 142.6,66.0 142.2,66.6 C141.8,67.3 141.4,68.0 140.9,68.7 C140.4,69.3 139.9,69.9 139.3,70.5 C138.7,71.0 137.7,71.6 137.4,71.9" fill="none" stroke="#4b4b4b" stroke-width="1.08" stroke-linecap="round" stroke-linejoin="round"/>
<path d="M203.4,118.2 C203.1,118.5 202.4,119.6 201.8,120.0 C201.2,120.5 200.4,120.8 199.7,121.0 C198.9,121.2 198.1,121.3 197.3,121.4 C196.5,121.4 195.7,121.4 194.9,121.4 C194.1,121.3 193.3,121.2 192.5,121.2 C191.7,121.1 190.9,121.0 190.1,121.0 C189.3,120.9 188.5,120.9 187.7,121.1 C186.9,121.2 186.1,121.4 185.4,121.6 C184.6,121.8 183.9,122.2 183.1,122.4 C182.4,122.7 181.2,122.9 180.8,123.0" fill="none" stroke="#404040" stroke-width="1.14" stroke-linecap="round" stroke-linejoin="round"/>
<path d="M95.0,120.5 C95.2,120.2 96.0,119.3 96.6,118.8 C97.2,118.2 97.7,117.6 98.4,117.1 C99.0,116.7 99.7,116.3 100.4,115.9 C101.1,115.6 101.9,115.2 102.6,115.0 C103.4,114.7 104.2,114.6 105.0,114.5 C105.8,114.3 106.6,114.2 107.3,114.0 C108.1,113.7 108.9,113.4 109.4,112.9 C110.0,112.4 110.6,111.3 110.8,111.0" fill="none" stroke="#404040" stroke-width="1.22" stroke-linecap="round" stroke-linejoin="round"/>
<path d="M56.7,152.1 C56.4,152.4 55.8,153.4 55.2,154.0 C54.7,154.6 54.0,155.1 53.3,155.5 C52.6,155.8 51.8,155.9 51.0,156.0 C50.2,156.1 49.4,156.1 48.6,156.0 C47.8,155.9 47.0,155.7 46.2,155.6 C45.5,155.5 44.7,155.4 43.9,155.4 C43.1,155.4 42.3,155.5 41.5,155.5 C40.7,155.6 39.7,155.5 39.1,155.5 C38.5,155.5 38.1,155.4 37.9,155.4" fill="none" stroke="#616161" stroke-width="1.38" stroke-linecap="round" stroke-linejoin="round"/>
<path d="M126.4,80.8 C126.0,81.0 125.0,81.6 124.2,81.9 C123.5,82.2 122.7,82.5 122.0,82.7 C121.2,82.9 120.4,83.0 119.6,83.2 C118.8,83.3 118.1,83.4 117.3,83.6 C116.5,83.7 115.7,83.8 114.9,83.9 C114.1,84.0 113.3,84.0 112.5,83.9 C111.7,83.8 110.8,83.5 110.2,83.3 C109.6,83.1 109.3,82.9 109.1,82.8" fill="none" stroke="#404040" stroke-width="1.17" stroke-linecap="round" stroke-linejoin="round"/>
<path d="M132.1,150.2 C131.7,150.2 130.5,150.0 129.7,149.9 C128.9,149.8 128.1,149.8 127.3,149.8 C126.5,149.9 125.6,149.9 124.9,150.2 C124.3,150.6 123.6,151.1 123.1,151.7 C122.7,152.4 122.4,153.2 122.3,154.0 C122.2,154.7 122.2,155.6 122.4,156.4 C122.5,157.1 122.9,157.9 123.3,158.6 C123.7,159.2 124.3,159.8 124.8,160.4 C125.4,161.0 125.9,161.6 126.6,162.0 C127.3,162.4 128.3,162.7 128.8,162.9 C129.4,163.1 129.8,163.1 130.0,163.1" fill="none" stroke="#4b4b4b" stroke-width="0.97" stroke-linecap="round" stroke-linejoin="round"/>
<path d="M91.7,98.7 C92.1,98.6 93.3,98.4 94.1,98.2 C94.8,97.9 95.6,97.6 96.3,97.2 C96.9,96.8 97.6,96.3 98.1,95.7 C98.7,95.1 99.1,94.4 99.5,93.7 C100.0,93.1 100.5,92.4 100.9,91.8 C101.4,91.1 101.9,90.5 102.2,89.8 C102.6,89.1 102.9,87.9 103.0,87.5" fill="none" stroke="#484848" stroke-width="1.13" stroke-linecap="round" stroke-linejoin="round"/>
<path d="M67.7,102.5 C67.8,102.8 68.2,104.0 68.4,104.7 C68.6,105.5 68.8,106.3 68.9,107.1 C69.0,107.9 69.1,108.7 69.1,109.5 C69.1,110.3 68.9,111.2 68.7,111.8 C68.6,112.4 68.4,112.8 68.3,113.0" fill="none" stroke="#616161" stroke-width="1.5" stroke-linecap="round" stroke-linejoin="round"/>
<path d="M74.7,122.8 C74.3,122.8 73.1,122.8 72.3,122.8 C71.5,122.9 70.7,123.0 70.0,123.1 C69.2,123.2 68.4,123.4 67.6,123.5 C66.8,123.5 66.0,123.5 65.2,123.4 C64.4,123.3 63.6,123.1 62.9,122.7 C62.2,122.4 61.6,121.8 61.0,121.3 C60.4,120.8 59.5,120.0 59.1,119.8" fill="none" stroke="#404040" stroke-width="1.44" stroke-linecap="round" stroke-linejoin="round"/>
<path d="M167.3,143.5 C167.0,143.2 166.3,142.3 165.8,141.6 C165.4,140.9 165.2,140.2 164.8,139.5 C164.5,138.7 164.1,138.0 163.7,137.3 C163.4,136.6 163.0,135.9 162.5,135.2 C162.1,134.6 161.7,133.9 161.3,133.2 C160.8,132.5 160.2,131.8 159.8,131.3 C159.4,130.8 159.1,130.6 158.9,130.5" fill="none" stroke="#484848" stroke-width="1.61" stroke-linecap="round" stroke-linejoin="round"/>
<path d="M162.9,121.4 C163.2,121.2 164.3,120.7 165.1,120.5 C165.9,120.3 166.7,120.2 167.5,120.1 C168.2,120.0 169.1,120.1 169.8,120.0 C170.6,119.9 171.4,119.6 172.2,119.4 C172.9,119.2 173.7,118.9 174.5,118.8 C175.3,118.6 176.1,118.5 176.9,118.4 C177.6,118.2 178.4,118.1 179.2,117.8 C180.0,117.6 180.7,117.4 181.5,117.1 C182.2,116.8 183.1,116.4 183.7,116.1 C184.2,115.9 184.5,115.6 184.7,115.5" fill="none" stroke="#565656" stroke-width="1.21" stroke-linecap="round" stroke-linejoin="round"/>
<path d="M185.0,99.4 C184.6,99.6 183.7,100.4 183.0,100.7 C182.3,101.1 181.4,101.3 180.7,101.3 C179.9,101.4 179.0,101.2 178.4,100.8 C177.8,100.4 177.2,99.6 177.0,98.9 C176.8,98.1 176.8,97.2 177.0,96.5 C177.3,95.8 177.9,95.1 178.6,94.7 C179.2,94.3 180.2,94.1 180.9,94.2 C181.6,94.3 182.5,94.8 183.0,95.3 C183.5,95.9 183.8,97.2 183.9,97.5" fill="none" stroke="#4b4b4b" stroke-width="1.38" stroke-linecap="round" stroke-linejoin="round"/>
<path d="M89.8,120.4 C90.1,120.5 91.3,120.9 92.0,121.1 C92.8,121.4 93.6,121.5 94.4,121.7 C95.2,121.9 95.9,122.1 96.7,122.2 C97.5,122.3 98.5,122.3 99.1,122.3 C99.7,122.3 100.1,122.3 100.3,122.3" fill="none" stroke="#616161" stroke-width="1.42" stroke-linecap="round" stroke-linejoin="round"/>
<path d="M44.1,104.5 C43.7,104.6 42.5,104.9 41.8,105.2 C41.1,105.5 40.5,106.1 39.8,106.5 C39.1,106.9 38.2,107.4 37.7,107.7 C37.3,108.1 37.0,108.4 36.8,108.5" fill="none" stroke="#404040" stroke-width="1.29" stroke-linecap="round" stroke-linejoin="round"/>
<path d="M55.5,148.8 C55.9,148.9 57.1,149.0 57.9,149.0 C58.7,149.0 59.5,149.0 60.3,148.9 C61.0,148.8 61.8,148.5 62.6,148.3 C63.3,148.0 64.2,147.8 64.8,147.4 C65.5,147.0 66.0,146.3 66.5,145.7 C67.0,145.1 67.4,144.2 67.7,143.6 C67.9,143.1 68.0,142.7 68.1,142.5" fill="none" stroke="#404040" stroke-width="1.51" stroke-linecap="round" stroke-linejoin="round"/>
<path d="M87.1,101.9 C86.8,102.2 85.8,103.0 85.3,103.6 C84.9,104.2 84.4,104.9 84.1,105.6 C83.8,106.3 83.7,107.2 83.4,107.9 C83.1,108.6 82.7,109.4 82.2,109.9 C81.6,110.4 80.7,110.8 80.0,110.8 C79.2,110.9 78.4,110.6 77.7,110.3 C77.0,109.9 76.4,109.3 75.8,108.8 C75.2,108.2 74.6,107.4 74.2,107.0 C73.8,106.5 73.6,106.2 73.4,106.1" fill="none" stroke="#3a3a3a" stroke-width="2.04" stroke-linecap="round" stroke-linejoin="round"/>
<path d="M87.1,101.9 C86.8,102.2 85.8,103.0 85.3,103.6 C84.9,104.2 84.4,104.9 84.1,105.6 C83.8,106.3 83.7,107.2 83.4,107.9 C83.1,108.6 82.7,109.4 82.2,109.9 C81.6,110.4 80.7,110.8 80.0,110.8 C79.2,110.9 78.4,110.6 77.7,110.3 C77.0,109.9 76.4,109.3 75.8,108.8 C75.2,108.2 74.6,107.4 74.2,107.0 C73.8,106.5 73.6,106.2 73.4,106.1" fill="none" stroke="#8c8c8c" stroke-width="0.74" stroke-linecap="round" stroke-linejoin="round"/>
<path d="M159.2,90.8 C159.6,90.7 160.7,90.2 161.4,89.8 C162.1,89.4 162.8,89.0 163.4,88.4 C163.9,87.9 164.4,87.2 164.7,86.5 C165.0,85.7 165.1,84.9 165.1,84.1 C165.1,83.3 165.0,82.5 164.8,81.7 C164.5,81.0 164.1,80.3 163.6,79.6 C163.2,79.0 162.7,78.3 162.2,77.7 C161.6,77.2 161.0,76.6 160.3,76.3 C159.6,75.9 158.4,75.7 158.0,75.6" fill="none" stroke="#616161" stroke-width="1.09" stroke-linecap="round" stroke-linejoin="round"/>
<path d="M153.0,140.7 C153.0,141.0 153.0,142.3 153.1,143.0 C153.2,143.8 153.4,144.7 153.7,145.4 C154.0,146.1 154.4,146.8 155.0,147.4 C155.6,147.9 156.4,148.3 157.1,148.5 C157.8,148.6 158.8,148.6 159.5,148.3 C160.1,148.0 160.8,147.3 161.2,146.7 C161.6,146.0 161.8,144.8 161.9,144.4" fill="none" stroke="#484848" stroke-width="1.25" stroke-linecap="round" stroke-linejoin="round"/>
<path d="M135.4,167.4 C135.8,167.6 136.8,168.3 137.5,168.5 C138.3,168.7 139.1,168.8 139.9,168.8 C140.7,168.7 141.5,168.4 142.2,168.1 C143.0,167.8 143.7,167.4 144.3,167.0 C145.0,166.5 145.6,166.0 146.1,165.4 C146.6,164.8 147.1,164.1 147.4,163.4 C147.7,162.7 147.9,161.8 148.0,161.1 C148.1,160.3 147.9,159.1 147.9,158.7" fill="none" stroke="#404040" stroke-width="0.94" stroke-linecap="round" stroke-linejoin="round"/>
<path d="M168.4,122.6 C168.6,123.0 169.2,124.0 169.4,124.8 C169.7,125.5 170.0,126.3 170.0,127.1 C170.1,127.9 170.1,128.7 169.9,129.5 C169.7,130.2 169.3,131.0 168.9,131.6 C168.4,132.3 167.8,132.9 167.2,133.4 C166.6,133.9 165.9,134.3 165.2,134.6 C164.4,134.9 163.6,135.0 162.8,135.2 C162.0,135.3 161.2,135.3 160.4,135.3 C159.6,135.2 158.8,135.1 158.0,135.0 C157.3,134.9 156.1,134.6 155.7,134.5" fill="none" stroke="#565656" stroke-width="1.29" stroke-linecap="round" stroke-linejoin="round"/>
<path d="M96.8,85.5 C96.5,85.7 95.4,86.3 94.7,86.6 C93.9,86.9 93.2,87.1 92.4,87.3 C91.6,87.5 90.8,87.7 90.1,87.9 C89.3,88.0 88.3,88.2 87.7,88.3 C87.1,88.4 86.7,88.4 86.5,88.4" fill="none" stroke="#404040" stroke-width="1.19" stroke-linecap="round" stroke-linejoin="round"/>
<path d="M91.4,165.8 C91.8,165.8 93.0,165.8 93.8,165.9 C94.6,166.1 95.4,166.4 96.0,166.9 C96.6,167.3 97.1,168.2 97.6,168.6 C98.2,169.0 98.7,169.4 99.3,169.3 C99.9,169.1 100.7,168.4 101.2,167.9 C101.8,167.3 102.3,166.5 102.7,166.0 C103.0,165.5 103.1,165.1 103.2,164.9" fill="none" stroke="#616161" stroke-width="0.92" stroke-linecap="round" stroke-linejoin="round"/>
<path d="M92.8,79.0 C92.6,78.6 92.2,77.5 91.8,76.8 C91.5,76.0 91.2,75.2 90.8,74.6 C90.3,74.0 89.7,73.4 89.0,73.0 C88.3,72.7 87.5,72.5 86.7,72.5 C85.9,72.5 85.0,72.7 84.3,73.0 C83.6,73.3 83.0,73.9 82.5,74.5 C82.0,75.1 81.6,76.1 81.4,76.6 C81.2,77.2 81.4,77.6 81.4,77.8" fill="none" stroke="#484848" stroke-width="1.06" stroke-linecap="round" stroke-linejoin="round"/>
<path d="M149.8,141.1 C150.0,140.8 150.4,139.6 150.9,139.0 C151.4,138.4 152.1,137.9 152.8,137.5 C153.5,137.2 154.3,137.1 155.1,137.0 C155.9,136.9 156.7,137.0 157.5,137.2 C158.3,137.4 159.2,137.8 159.7,138.0 C160.3,138.3 160.6,138.6 160.7,138.7" fill="none" stroke="#565656" stroke-width="1.39" stroke-linecap="round" stroke-linejoin="round"/>
<path d="M201.6,111.5 C201.9,111.8 202.8,112.6 203.4,113.1 C204.0,113.6 204.6,114.2 205.2,114.8 C205.8,115.3 206.4,115.8 207.1,116.2 C207.8,116.6 208.5,117.0 209.3,117.2 C210.0,117.4 210.8,117.5 211.6,117.5 C212.4,117.6 213.2,117.5 214.0,117.4 C214.8,117.3 215.6,117.2 216.4,117.0 C217.2,116.8 218.0,116.6 218.6,116.2 C219.3,115.8 220.0,115.0 220.3,114.5 C220.7,114.1 220.7,113.6 220.8,113.4" fill="none" stroke="#404040" stroke-width="1.05" stroke-linecap="round" stroke-linejoin="round"/>
<path d="M45.0,119.2 C44.7,119.0 43.8,118.2 43.2,117.7 C42.6,117.1 42.1,116.5 41.5,116.0 C40.9,115.4 40.4,114.8 39.8,114.3 C39.2,113.8 38.5,113.3 37.9,112.8 C37.3,112.3 36.4,111.5 36.1,111.3" fill="none" stroke="#565656" stroke-width="1.19" stroke-linecap="round" stroke-linejoin="round"/>
<path d="M29.3,111.1 C28.9,110.9 27.7,110.7 27.1,110.3 C26.4,109.9 25.8,109.3 25.3,108.7 C24.7,108.1 24.3,107.5 23.8,106.8 C23.3,106.2 22.8,105.6 22.3,105.0 C21.8,104.4 21.3,103.7 20.7,103.2 C20.1,102.6 19.4,102.2 18.8,101.7 C18.1,101.3 17.1,100.6 16.8,100.4" fill="none" stroke="#616161" stroke-width="0.98" stroke-linecap="round" stroke-linejoin="round"/>
<path d="M109.0,70.0 C109.0,70.4 109.0,71.6 109.0,72.4 C109.0,73.2 108.9,74.1 109.1,74.8 C109.2,75.6 109.6,76.4 110.0,77.0 C110.4,77.7 110.9,78.4 111.5,78.9 C112.2,79.3 113.0,79.6 113.7,79.8 C114.5,80.0 115.5,79.9 116.1,79.9 C116.7,79.9 117.1,79.8 117.3,79.8" fill="none" stroke="#404040" stroke-width="1.22" stroke-linecap="round" stroke-linejoin="round"/>
<path d="M156.8,102.5 C157.1,102.8 158.1,103.4 158.8,103.9 C159.4,104.4 160.1,104.9 160.6,105.4 C161.2,106.0 161.7,106.7 162.1,107.3 C162.5,108.0 162.8,108.8 163.0,109.6 C163.2,110.3 163.3,111.2 163.2,111.9 C163.1,112.7 162.9,113.5 162.4,114.2 C162.0,114.8 161.2,115.3 160.6,115.7 C159.9,116.1 159.1,116.4 158.4,116.7 C157.6,116.9 156.8,117.1 156.0,117.2 C155.3,117.3 154.2,117.3 153.7,117.2 C153.1,117.2 152.7,116.9 152.5,116.8" fill="none" stroke="#616161" stroke-width="1.46" stroke-linecap="round" stroke-linejoin="round"/>
<path d="M102.8,139.8 C102.4,139.8 101.2,140.1 100.4,140.0 C99.6,139.9 98.8,139.5 98.2,139.1 C97.6,138.6 97.0,137.7 96.8,137.2 C96.5,136.7 96.6,136.2 96.6,136.0" fill="none" stroke="#4b4b4b" stroke-width="1.02" stroke-linecap="round" stroke-linejoin="round"/>
<path d="M90.4,53.5 C90.7,53.2 91.3,52.1 91.9,51.6 C92.5,51.2 93.2,50.8 93.9,50.7 C94.6,50.6 95.5,50.8 96.3,51.0 C97.0,51.2 97.9,51.4 98.5,51.9 C99.1,52.3 99.5,53.1 99.7,53.8 C99.9,54.5 99.7,55.3 99.5,56.0 C99.2,56.7 98.6,57.4 98.1,58.0 C97.6,58.6 96.9,59.1 96.3,59.5 C95.6,59.9 94.8,60.2 94.1,60.5 C93.3,60.8 92.5,61.0 91.8,61.3 C91.1,61.6 90.0,62.2 89.7,62.4" fill="none" stroke="#4b4b4b" stroke-width="1.01" stroke-linecap="round" stroke-linejoin="round"/>
<path d="M104.3,167.4 C104.2,167.7 104.2,169.3 103.7,169.7 C103.2,170.0 102.1,169.3 101.3,169.2 C100.5,169.1 99.7,169.0 98.9,169.0 C98.1,168.9 97.3,168.7 96.5,168.8 C95.7,168.8 95.0,169.2 94.2,169.3 C93.4,169.4 92.3,169.5 91.9,169.5" fill="none" stroke="#4b4b4b" stroke-width="1.21" stroke-linecap="round" stroke-linejoin="round"/>
<path d="M103.5,130.6 C103.4,130.2 102.9,129.1 102.8,128.3 C102.6,127.6 102.6,126.7 102.7,125.9 C102.9,125.2 103.3,124.4 103.8,123.8 C104.4,123.3 105.1,122.9 105.9,122.6 C106.6,122.4 107.7,122.4 108.3,122.5 C108.8,122.5 109.2,122.9 109.3,122.9" fill="none" stroke="#616161" stroke-width="1.42" stroke-linecap="round" stroke-linejoin="round"/>
<path d="M153.8,100.1 C153.5,100.4 152.7,101.3 152.2,101.9 C151.7,102.5 151.2,103.2 150.7,103.7 C150.1,104.3 149.5,104.9 148.9,105.4 C148.3,105.9 147.7,106.4 147.1,106.9 C146.4,107.4 145.8,107.9 145.1,108.2 C144.3,108.5 143.5,108.6 142.7,108.7 C141.9,108.9 140.5,109.2 140.3,108.9 C140.1,108.6 141.1,107.5 141.5,106.8 C141.9,106.1 142.6,105.1 142.8,104.8" fill="none" stroke="#484848" stroke-width="1.29" stroke-linecap="round" stroke-linejoin="round"/>
<path d="M165.5,143.9 C165.7,143.5 166.2,142.4 166.5,141.7 C166.9,141.0 167.3,140.3 167.7,139.6 C168.2,139.0 168.7,138.4 169.3,137.8 C169.9,137.3 170.9,136.7 171.3,136.5" fill="none" stroke="#404040" stroke-width="1.25" stroke-linecap="round" stroke-linejoin="round"/>
<path d="M40.0,94.1 C39.7,94.2 38.5,94.4 37.7,94.5 C36.9,94.6 36.1,94.7 35.3,94.8 C34.5,94.9 33.7,95.1 32.9,95.2 C32.1,95.3 31.3,95.4 30.5,95.4 C29.7,95.4 29.0,95.2 28.2,95.0 C27.4,94.8 26.3,94.4 25.9,94.2" fill="none" stroke="#484848" stroke-width="1.14" stroke-linecap="round" stroke-linejoin="round"/>
<path d="M163.7,151.1 C163.4,150.8 162.7,149.9 162.2,149.3 C161.7,148.6 161.3,147.9 160.8,147.3 C160.2,146.8 159.6,146.3 158.9,145.8 C158.3,145.4 157.5,145.1 156.8,144.7 C156.1,144.3 155.4,143.9 154.7,143.5 C154.1,143.0 153.5,142.5 152.8,142.1 C152.1,141.6 151.2,141.2 150.7,140.9 C150.2,140.6 149.8,140.4 149.7,140.3" fill="none" stroke="#565656" stroke-width="1.46" stroke-linecap="round" stroke-linejoin="round"/>
<path d="M100.6,143.8 C100.8,143.4 101.7,142.5 102.0,141.8 C102.3,141.1 102.5,140.2 102.4,139.5 C102.3,138.7 101.9,137.9 101.5,137.3 C101.1,136.6 100.4,136.1 99.8,135.6 C99.1,135.2 98.4,134.7 97.7,134.5 C96.9,134.3 95.7,134.5 95.3,134.5" fill="none" stroke="#565656" stroke-width="1.3" stroke-linecap="round" stroke-linejoin="round"/>
<path d="M185.3,97.2 C185.4,96.8 185.3,95.5 185.6,94.8 C185.9,94.1 186.5,93.5 187.1,93.0 C187.7,92.5 188.5,92.2 189.3,92.0 C190.0,91.7 190.8,91.6 191.6,91.5 C192.4,91.3 193.4,91.2 194.0,91.2 C194.6,91.1 195.0,91.3 195.2,91.3" fill="none" stroke="#484848" stroke-width="1.33" stroke-linecap="round" stroke-linejoin="round"/>
<path d="M68.2,166.5 C68.5,166.8 69.5,167.5 70.1,168.0 C70.7,168.5 71.1,169.4 71.8,169.7 C72.5,170.0 73.3,169.7 74.1,169.6 C74.9,169.6 75.7,169.4 76.5,169.3 C77.3,169.2 78.1,169.3 78.9,169.2 C79.7,169.1 80.5,169.1 81.3,168.9 C82.1,168.8 82.9,168.7 83.6,168.5 C84.4,168.4 85.2,168.1 86.0,168.0 C86.8,167.9 87.6,167.8 88.4,167.7 C89.2,167.7 90.2,167.7 90.8,167.7 C91.4,167.7 91.8,167.7 92.0,167.7" fill="none" stroke="#565656" stroke-width="1.03" stroke-linecap="round" stroke-linejoin="round"/>
<path d="M203.0,127.3 C203.2,127.7 204.1,128.6 204.3,129.3 C204.5,130.1 204.4,131.0 204.1,131.7 C203.9,132.4 203.4,133.2 202.8,133.6 C202.2,134.1 201.3,134.4 200.5,134.5 C199.8,134.6 198.9,134.3 198.2,134.1 C197.5,133.8 196.8,133.4 196.1,132.9 C195.5,132.4 195.0,131.8 194.4,131.2 C193.9,130.6 193.2,129.6 192.9,129.3" fill="none" stroke="#4b4b4b" stroke-width="1.1" stroke-linecap="round" stroke-linejoin="round"/>
<path d="M167.4,98.3 C167.6,98.7 168.0,99.8 168.4,100.5 C168.8,101.2 169.4,101.7 169.9,102.3 C170.5,102.9 171.0,103.5 171.5,104.1 C172.0,104.8 172.5,105.4 173.1,106.0 C173.6,106.6 174.1,107.2 174.7,107.8 C175.3,108.3 175.9,108.8 176.6,109.2 C177.2,109.7 177.9,110.1 178.6,110.5 C179.3,110.9 180.2,111.3 180.8,111.5 C181.3,111.8 181.7,111.8 181.9,111.8" fill="none" stroke="#4b4b4b" stroke-width="1.27" stroke-linecap="round" stroke-linejoin="round"/>
<path d="M65.1,117.9 C65.2,118.3 65.6,119.4 65.7,120.2 C65.8,121.0 65.7,121.8 65.6,122.6 C65.4,123.4 65.1,124.1 64.9,124.9 C64.7,125.7 64.5,126.4 64.3,127.2 C64.0,128.0 63.8,128.8 63.4,129.4 C62.9,130.1 62.2,130.5 61.6,131.1 C61.1,131.6 60.2,132.0 60.1,132.7 C59.9,133.3 60.5,134.2 60.8,135.0 C61.1,135.7 61.7,136.8 61.8,137.1" fill="none" stroke="#616161" stroke-width="1.49" stroke-linecap="round" stroke-linejoin="round"/>
<path d="M191.0,84.1 C190.6,84.0 189.4,83.9 188.7,83.7 C187.9,83.5 187.1,83.2 186.4,82.8 C185.7,82.4 185.1,81.9 184.6,81.3 C184.2,80.6 183.9,79.8 183.7,79.1 C183.5,78.3 183.4,77.5 183.3,76.7 C183.2,75.9 183.0,75.1 183.0,74.3 C183.0,73.5 183.2,72.7 183.5,72.0 C183.7,71.2 184.2,70.6 184.6,69.9 C185.1,69.2 185.6,68.6 186.1,68.0 C186.6,67.3 187.3,66.4 187.5,66.0" fill="none" stroke="#4b4b4b" stroke-width="1.23" stroke-linecap="round" stroke-linejoin="round"/>
<path d="M141.7,153.5 C142.1,153.7 143.1,154.3 143.8,154.7 C144.5,155.1 145.2,155.4 146.0,155.7 C146.7,156.0 147.5,156.3 148.2,156.5 C148.9,156.8 149.7,157.0 150.5,157.3 C151.2,157.7 151.9,158.0 152.6,158.4 C153.3,158.8 153.9,159.5 154.7,159.7 C155.4,159.8 156.2,159.4 157.0,159.3 C157.8,159.1 158.6,159.0 159.4,158.8 C160.2,158.6 161.1,158.4 161.7,158.2 C162.3,158.1 162.6,157.9 162.8,157.8" fill="none" stroke="#4b4b4b" stroke-width="1.1" stroke-linecap="round" stroke-linejoin="round"/>
<path d="M171.1,147.5 C170.8,147.6 169.6,148.0 168.9,148.3 C168.2,148.7 167.4,149.0 166.7,149.4 C166.0,149.8 165.3,150.1 164.7,150.6 C164.0,151.1 163.4,151.6 162.9,152.2 C162.3,152.7 161.6,153.7 161.4,154.0" fill="none" stroke="#484848" stroke-width="1.5" stroke-linecap="round" stroke-linejoin="round"/>
<path d="M134.8,141.8 C134.5,142.1 133.7,143.1 133.5,143.8 C133.3,144.5 133.2,145.4 133.4,146.2 C133.6,146.9 134.1,147.7 134.7,148.2 C135.3,148.6 136.2,148.8 136.9,148.9 C137.7,148.9 138.5,148.6 139.3,148.3 C140.0,148.1 140.7,147.7 141.4,147.3 C142.1,146.9 142.8,146.4 143.4,145.9 C143.9,145.3 144.5,144.7 144.8,144.0 C145.2,143.3 145.3,142.4 145.3,141.6 C145.3,140.9 144.9,139.7 144.8,139.3" fill="none" stroke="#4b4b4b" stroke-width="1.23" stroke-linecap="round" stroke-linejoin="round"/>
<path d="M83.9,80.0 C83.9,80.4 83.6,81.6 83.5,82.4 C83.4,83.2 83.4,84.0 83.3,84.8 C83.2,85.6 83.2,86.4 83.0,87.2 C82.9,87.9 82.6,88.7 82.4,89.5 C82.2,90.2 81.9,91.0 81.7,91.8 C81.4,92.5 81.0,93.3 81.0,94.1 C81.0,94.8 81.4,95.8 81.6,96.4 C81.9,96.9 82.2,97.2 82.3,97.4" fill="none" stroke="#4b4b4b" stroke-width="1.6" stroke-linecap="round" stroke-linejoin="round"/>
<path d="M137.4,129.0 C137.7,129.2 138.8,129.8 139.4,130.3 C140.0,130.8 140.6,131.4 141.1,132.0 C141.7,132.5 142.1,133.2 142.7,133.8 C143.2,134.4 143.8,135.0 144.4,135.5 C144.9,136.0 145.5,136.6 146.2,137.0 C146.9,137.4 147.9,137.6 148.5,137.7 C149.1,137.8 149.5,137.6 149.7,137.6" fill="none" stroke="#4b4b4b" stroke-width="0.98" stroke-linecap="round" stroke-linejoin="round"/>
<path d="M93.9,86.1 C93.7,86.4 93.1,87.5 92.6,88.1 C92.2,88.8 91.8,89.5 91.4,90.2 C90.9,90.8 90.4,91.5 89.8,92.0 C89.2,92.5 88.3,93.0 87.8,93.3 C87.3,93.6 86.9,93.8 86.8,93.9" fill="none" stroke="#616161" stroke-width="1.39" stroke-linecap="round" stroke-linejoin="round"/>
<path d="M40.6,139.2 C40.9,139.5 41.8,140.3 42.4,140.8 C43.0,141.4 43.6,142.0 44.1,142.5 C44.7,143.1 45.3,143.9 45.7,144.3 C46.1,144.8 46.3,145.1 46.4,145.3" fill="none" stroke="#404040" stroke-width="1.08" stroke-linecap="round" stroke-linejoin="round"/>
<path d="M226.0,110.7 C225.9,111.1 225.5,112.2 225.1,112.9 C224.7,113.6 224.1,114.2 223.6,114.8 C223.2,115.5 222.7,116.2 222.5,116.9 C222.2,117.6 222.1,118.5 222.1,119.3 C222.0,120.0 222.2,120.9 222.3,121.6 C222.3,122.4 222.5,123.2 222.6,124.0 C222.8,124.8 222.9,125.6 223.2,126.3 C223.5,127.1 224.0,128.2 224.2,128.5" fill="none" stroke="#404040" stroke-width="0.94" stroke-linecap="round" stroke-linejoin="round"/>
<path d="M155.9,93.0 C155.8,93.4 155.6,94.6 155.4,95.3 C155.2,96.1 155.0,96.9 154.7,97.6 C154.4,98.4 154.1,99.1 153.7,99.8 C153.4,100.5 152.9,101.2 152.5,101.9 C152.2,102.6 151.9,103.4 151.5,104.1 C151.1,104.8 150.4,105.4 150.3,106.1 C150.1,106.9 150.6,107.7 150.5,108.5 C150.5,109.3 150.1,110.5 150.0,110.8" fill="none" stroke="#4b4b4b" stroke-width="1.28" stroke-linecap="round" stroke-linejoin="round"/>
<path d="M151.7,106.5 C151.5,106.8 150.7,107.8 150.5,108.5 C150.3,109.3 150.5,110.1 150.5,110.9 C150.5,111.7 150.4,112.5 150.3,113.3 C150.3,114.1 150.2,114.9 150.3,115.7 C150.4,116.5 150.6,117.3 150.9,118.0 C151.2,118.8 151.4,119.6 151.9,120.2 C152.3,120.9 152.9,121.5 153.5,122.0 C154.1,122.5 154.9,122.8 155.6,123.1 C156.3,123.5 157.2,123.9 157.8,124.1 C158.3,124.4 158.7,124.5 158.9,124.6" fill="none" stroke="#404040" stroke-width="1.07" stroke-linecap="round" stroke-linejoin="round"/>
<path d="M77.4,97.1 C77.8,97.0 78.9,96.6 79.7,96.3 C80.4,96.0 81.1,95.6 81.8,95.3 C82.6,94.9 83.3,94.6 84.0,94.2 C84.7,93.8 85.4,93.4 86.0,92.9 C86.7,92.5 87.4,91.7 87.8,91.3 C88.2,90.9 88.5,90.6 88.6,90.4" fill="none" stroke="#4b4b4b" stroke-width="1.36" stroke-linecap="round" stroke-linejoin="round"/>
<path d="M68.6,115.2 C69.0,115.4 70.1,116.1 70.8,116.2 C71.6,116.4 72.4,116.2 73.2,116.1 C74.0,115.9 74.7,115.7 75.5,115.4 C76.3,115.1 77.0,114.8 77.7,114.5 C78.5,114.2 79.2,113.9 80.0,113.6 C80.7,113.3 81.4,112.9 82.1,112.5 C82.8,112.2 83.5,111.8 84.2,111.4 C84.9,111.1 85.6,110.7 86.4,110.4 C87.1,110.1 88.1,109.8 88.7,109.6 C89.2,109.4 89.6,109.3 89.8,109.2" fill="none" stroke="#3a3a3a" stroke-width="2.09" stroke-linecap="round" stroke-linejoin="round"/>
<path d="M68.6,115.2 C69.0,115.4 70.1,116.1 70.8,116.2 C71.6,116.4 72.4,116.2 73.2,116.1 C74.0,115.9 74.7,115.7 75.5,115.4 C76.3,115.1 77.0,114.8 77.7,114.5 C78.5,114.2 79.2,113.9 80.0,113.6 C80.7,113.3 81.4,112.9 82.1,112.5 C82.8,112.2 83.5,111.8 84.2,111.4 C84.9,111.1 85.6,110.7 86.4,110.4 C87.1,110.1 88.1,109.8 88.7,109.6 C89.2,109.4 89.6,109.3 89.8,109.2" fill="none" stroke="#8c8c8c" stroke-width="0.79" stroke-linecap="round" stroke-linejoin="round"/>
<path d="M169.7,93.7 C170.1,93.7 171.3,93.7 172.1,93.8 C172.9,93.9 173.6,94.3 174.3,94.6 C175.1,94.9 175.8,95.3 176.5,95.6 C177.3,95.9 178.1,96.0 178.8,96.3 C179.6,96.5 180.4,96.6 181.1,96.9 C181.9,97.2 182.7,97.5 183.3,97.9 C183.9,98.4 184.5,99.0 185.0,99.6 C185.6,100.2 186.1,100.8 186.6,101.4 C187.2,101.9 187.9,102.4 188.5,102.9 C189.1,103.4 190.1,104.0 190.5,104.3" fill="none" stroke="#565656" stroke-width="1.5" stroke-linecap="round" stroke-linejoin="round"/>
<path d="M142.5,67.4 C142.9,67.3 144.0,66.8 144.7,66.5 C145.5,66.1 146.2,65.8 146.9,65.3 C147.5,64.9 148.1,64.3 148.6,63.7 C149.2,63.2 149.7,62.5 150.2,61.9 C150.7,61.3 151.2,60.2 151.7,60.0 C152.1,59.8 152.5,60.5 152.7,60.6" fill="none" stroke="#404040" stroke-width="1.04" stroke-linecap="round" stroke-linejoin="round"/>
<path d="M170.8,84.5 C171.1,84.4 172.4,84.2 173.0,83.7 C173.6,83.3 174.2,82.6 174.5,81.9 C174.9,81.2 175.1,80.3 175.1,79.6 C175.1,78.8 174.9,77.9 174.6,77.2 C174.3,76.5 173.8,75.8 173.2,75.3 C172.6,74.8 171.8,74.4 171.1,74.2 C170.3,74.1 169.1,74.4 168.7,74.4" fill="none" stroke="#4b4b4b" stroke-width="1.22" stroke-linecap="round" stroke-linejoin="round"/>
<path d="M69.9,90.3 C70.1,89.9 70.8,89.0 71.3,88.3 C71.7,87.7 72.1,87.0 72.6,86.3 C73.1,85.7 73.6,85.0 74.2,84.5 C74.7,83.9 75.4,83.5 76.0,83.0 C76.7,82.6 77.4,82.2 78.1,81.9 C78.9,81.5 79.6,81.3 80.4,81.1 C81.2,80.9 82.4,80.7 82.8,80.6" fill="none" stroke="#616161" stroke-width="1.33" stroke-linecap="round" stroke-linejoin="round"/>
<path d="M66.0,141.2 C65.8,140.8 64.8,139.9 64.6,139.2 C64.4,138.5 64.4,137.6 64.7,136.8 C64.9,136.1 65.4,135.3 66.0,134.8 C66.6,134.4 67.4,134.0 68.2,133.8 C68.9,133.7 69.8,133.8 70.6,133.9 C71.3,134.1 72.1,134.3 72.8,134.6 C73.6,134.9 74.3,135.2 75.0,135.7 C75.7,136.1 76.3,136.7 76.9,137.1 C77.6,137.5 78.4,138.0 79.1,138.1 C79.9,138.2 81.1,137.9 81.5,137.9" fill="none" stroke="#404040" stroke-width="1.45" stroke-linecap="round" stroke-linejoin="round"/>
<path d="M28.8,116.3 C28.6,116.0 27.6,115.2 27.3,114.6 C26.9,113.9 26.6,113.1 26.5,112.3 C26.4,111.5 26.5,110.6 26.9,109.9 C27.2,109.3 27.9,108.7 28.5,108.3 C29.2,107.8 30.2,107.5 30.7,107.3 C31.3,107.1 31.7,107.2 31.9,107.2" fill="none" stroke="#565656" stroke-width="0.95" stroke-linecap="round" stroke-linejoin="round"/>
<path d="M93.8,92.3 C93.6,92.0 93.0,90.8 92.4,90.4 C91.7,90.0 90.8,89.8 90.1,89.8 C89.3,89.9 88.5,90.3 87.9,90.8 C87.3,91.2 86.8,91.9 86.4,92.6 C86.0,93.3 85.8,94.1 85.7,94.9 C85.6,95.7 85.9,96.9 85.9,97.3" fill="none" stroke="#404040" stroke-width="1.5" stroke-linecap="round" stroke-linejoin="round"/>
<path d="M50.5,141.2 C50.4,141.0 50.4,140.3 49.9,140.1 C49.4,139.9 48.3,140.0 47.5,140.1 C46.7,140.1 45.7,140.3 45.2,140.4 C44.6,140.5 44.2,140.7 44.0,140.7" fill="none" stroke="#4b4b4b" stroke-width="1.38" stroke-linecap="round" stroke-linejoin="round"/>
<path d="M82.3,140.0 C82.6,139.7 83.4,138.9 83.9,138.2 C84.4,137.6 85.0,137.0 85.4,136.4 C85.8,135.7 86.1,134.9 86.4,134.2 C86.6,133.4 86.7,132.6 86.9,131.8 C87.0,131.0 87.2,130.2 87.2,129.5 C87.2,128.7 87.1,127.8 86.8,127.1 C86.6,126.3 86.2,125.6 85.7,125.0 C85.3,124.3 84.7,123.7 84.1,123.2 C83.6,122.6 82.5,122.0 82.2,121.8" fill="none" stroke="#404040" stroke-width="1.14" stroke-linecap="round" stroke-linejoin="round"/>
<path d="M191.2,127.8 C191.2,127.4 191.1,126.2 190.9,125.4 C190.7,124.6 190.4,123.9 190.0,123.2 C189.6,122.5 189.0,121.9 188.4,121.4 C187.8,120.9 187.1,120.4 186.5,120.0 C185.8,119.5 185.0,119.0 184.4,118.7 C183.9,118.4 183.6,118.1 183.5,118.0" fill="none" stroke="#616161" stroke-width="1.09" stroke-linecap="round" stroke-linejoin="round"/>
<path d="M92.5,76.6 C92.8,76.4 93.7,75.6 94.4,75.2 C95.0,74.7 95.7,74.3 96.4,73.9 C97.1,73.6 97.9,73.4 98.6,73.0 C99.4,72.7 100.1,72.5 100.8,72.1 C101.5,71.7 102.2,71.2 102.8,70.7 C103.4,70.2 104.0,69.4 104.4,68.9 C104.7,68.4 104.9,68.0 105.0,67.9" fill="none" stroke="#565656" stroke-width="1.13" stroke-linecap="round" stroke-linejoin="round"/>
<path d="M31.9,118.8 C32.1,118.4 32.6,117.3 33.2,116.7 C33.7,116.1 34.4,115.7 35.0,115.2 C35.7,114.8 36.5,114.5 37.2,114.2 C37.9,113.9 38.7,113.6 39.4,113.4 C40.2,113.1 41.2,112.9 41.8,112.8 C42.3,112.7 42.7,112.7 42.9,112.7" fill="none" stroke="#404040" stroke-width="1.21" stroke-linecap="round" stroke-linejoin="round"/>
<path d="M83.8,118.4 C84.1,118.1 85.0,117.4 85.6,116.8 C86.2,116.3 86.9,115.8 87.3,115.1 C87.8,114.5 88.2,113.7 88.4,113.0 C88.5,112.2 88.5,111.3 88.2,110.6 C88.0,109.9 87.4,109.2 86.9,108.6 C86.4,108.1 85.3,107.4 85.0,107.2" fill="none" stroke="#616161" stroke-width="1.7" stroke-linecap="round" stroke-linejoin="round"/>
<path d="M131.7,122.5 C131.4,122.4 130.1,122.2 129.5,121.8 C128.8,121.4 128.4,120.4 127.7,120.2 C127.0,119.9 126.1,120.0 125.3,120.1 C124.6,120.2 123.8,120.4 123.2,120.8 C122.5,121.2 121.9,121.8 121.3,122.3 C120.7,122.8 120.0,123.3 119.4,123.8 C118.8,124.4 118.3,124.9 117.8,125.6 C117.3,126.2 116.9,126.9 116.5,127.6 C116.1,128.3 115.6,129.1 115.3,129.6 C114.9,130.1 114.6,130.4 114.4,130.5" fill="none" stroke="#616161" stroke-width="0.89" stroke-linecap="round" stroke-linejoin="round"/>
<path d="M175.7,126.3 C175.8,126.7 176.2,127.9 176.5,128.6 C176.8,129.3 177.4,129.9 177.8,130.6 C178.2,131.3 178.6,132.0 178.9,132.7 C179.2,133.5 179.4,134.2 179.7,135.0 C180.0,135.7 180.3,136.5 180.6,137.2 C180.9,138.0 181.2,138.7 181.6,139.4 C181.9,140.1 182.3,140.8 182.6,141.6 C182.9,142.3 183.2,143.1 183.3,143.9 C183.4,144.7 183.5,145.5 183.4,146.3 C183.3,147.1 183.0,147.8 182.7,148.6 C182.5,149.3 181.8,150.4 181.7,150.7" fill="none" stroke="#484848" stroke-width="1.11" stroke-linecap="round" stroke-linejoin="round"/>
<path d="M133.0,140.7 C132.7,140.5 131.5,140.0 130.8,139.7 C130.1,139.3 129.5,138.8 128.8,138.4 C128.1,138.0 127.5,137.5 126.8,137.1 C126.1,136.7 125.4,136.4 124.7,136.0 C124.0,135.6 123.2,135.2 122.6,134.8 C122.0,134.3 121.4,133.7 120.9,133.1 C120.4,132.5 119.5,131.5 119.7,131.0 C119.8,130.6 121.3,130.5 121.8,130.4 C122.4,130.3 122.8,130.5 123.0,130.5" fill="none" stroke="#565656" stroke-width="0.93" stroke-linecap="round" stroke-linejoin="round"/>
<path d="M56.3,95.6 C55.9,95.7 54.8,95.9 54.0,95.9 C53.2,96.0 52.4,95.8 51.6,95.8 C50.8,95.7 49.9,95.6 49.2,95.7 C48.4,95.9 47.5,96.1 46.9,96.5 C46.3,97.0 45.7,97.7 45.5,98.4 C45.2,99.1 45.2,100.0 45.5,100.7 C45.7,101.5 46.4,102.1 46.9,102.6 C47.5,103.2 48.1,103.7 48.8,104.0 C49.5,104.4 50.3,104.6 51.1,104.7 C51.9,104.9 52.9,104.9 53.5,105.0 C54.1,105.0 54.5,104.9 54.7,104.9" fill="none" stroke="#4b4b4b" stroke-width="1.21" stroke-linecap="round" stroke-linejoin="round"/>
<path d="M134.4,127.3 C134.3,126.9 133.9,125.8 133.7,125.1 C133.5,124.3 133.3,123.5 133.2,122.7 C133.2,121.9 133.1,121.1 133.2,120.3 C133.3,119.5 133.6,118.8 133.9,118.0 C134.2,117.3 134.5,116.5 134.9,115.8 C135.4,115.2 136.0,114.5 136.6,114.2 C137.3,113.8 138.2,113.7 139.0,113.8 C139.7,113.9 140.8,114.7 141.1,114.9" fill="none" stroke="#616161" stroke-width="1.15" stroke-linecap="round" stroke-linejoin="round"/>
<path d="M142.8,157.5 C142.8,157.1 142.6,155.9 142.8,155.1 C143.0,154.4 143.6,153.7 144.1,153.2 C144.7,152.7 145.5,152.2 146.3,152.1 C147.0,152.0 147.9,152.1 148.6,152.4 C149.3,152.7 150.0,153.3 150.4,153.9 C150.8,154.6 151.2,155.4 151.2,156.2 C151.2,156.9 150.7,157.9 150.5,158.4 C150.2,159.0 149.8,159.2 149.6,159.3" fill="none" stroke="#565656" stroke-width="1.02" stroke-linecap="round" stroke-linejoin="round"/>
<path d="M55.1,104.3 C55.4,104.5 56.4,105.2 57.1,105.6 C57.8,106.0 58.5,106.3 59.3,106.6 C60.0,106.8 60.8,107.1 61.6,107.3 C62.3,107.5 63.1,107.7 63.9,107.8 C64.7,107.9 65.5,108.0 66.3,108.1 C67.1,108.3 67.9,108.5 68.6,108.7 C69.4,109.0 70.1,109.2 70.8,109.6 C71.5,110.0 72.2,110.5 72.7,111.1 C73.2,111.7 73.6,112.5 73.8,113.2 C74.1,114.0 74.2,115.0 74.3,115.6 C74.4,116.2 74.4,116.6 74.4,116.8" fill="none" stroke="#565656" stroke-width="1.67" stroke-linecap="round" stroke-linejoin="round"/>
<path d="M46.3,94.3 C46.6,94.1 47.8,93.8 48.5,93.5 C49.2,93.1 49.8,92.5 50.5,92.0 C51.1,91.6 51.6,90.9 52.3,90.5 C52.9,90.0 53.6,89.5 54.4,89.4 C55.1,89.2 56.4,89.4 56.8,89.4" fill="none" stroke="#4b4b4b" stroke-width="1.37" stroke-linecap="round" stroke-linejoin="round"/>
<path d="M195.8,93.3 C196.2,93.4 197.4,93.8 198.2,93.8 C199.0,93.7 199.8,93.5 200.5,93.1 C201.1,92.8 201.6,92.0 202.2,91.5 C202.8,91.0 203.4,90.3 204.1,90.2 C204.8,90.2 205.9,91.1 206.3,91.2" fill="none" stroke="#484848" stroke-width="0.7" stroke-linecap="round" stroke-linejoin="round"/>
<path d="M159.3,63.8 C159.5,63.5 159.8,62.1 160.3,61.6 C160.7,61.1 161.2,60.9 161.9,60.8 C162.5,60.8 163.5,61.2 164.2,61.4 C165.0,61.7 165.7,61.9 166.5,62.3 C167.2,62.6 167.8,63.1 168.5,63.5 C169.2,64.0 169.8,64.5 170.5,64.9 C171.2,65.3 172.3,65.8 172.6,65.9" fill="none" stroke="#616161" stroke-width="0.95" stroke-linecap="round" stroke-linejoin="round"/>
<path d="M156.6,152.5 C156.9,152.3 157.9,151.5 158.5,151.0 C159.1,150.5 159.6,149.9 160.3,149.4 C160.9,149.0 161.6,148.6 162.4,148.3 C163.1,148.1 164.0,148.0 164.7,147.8 C165.5,147.7 166.3,147.5 167.1,147.4 C167.9,147.2 168.7,147.1 169.5,147.0 C170.2,146.9 171.2,146.8 171.8,146.7 C172.4,146.6 172.8,146.6 173.0,146.5" fill="none" stroke="#404040" stroke-width="1.42" stroke-linecap="round" stroke-linejoin="round"/>
<path d="M105.8,118.5 C106.1,118.2 106.9,117.3 107.5,116.7 C108.1,116.2 108.9,115.8 109.3,115.2 C109.7,114.6 110.0,113.6 109.9,112.9 C109.9,112.1 109.3,111.4 109.2,110.6 C109.1,109.8 109.1,109.0 109.3,108.2 C109.4,107.4 109.7,106.7 110.0,105.9 C110.3,105.2 110.8,104.5 111.2,103.8 C111.6,103.1 112.0,102.5 112.4,101.8 C112.8,101.1 113.5,100.1 113.7,99.7" fill="none" stroke="#404040" stroke-width="1.23" stroke-linecap="round" stroke-linejoin="round"/>
<path d="M78.2,108.0 C78.6,107.9 79.8,107.6 80.5,107.3 C81.2,107.0 82.0,106.6 82.5,106.0 C83.1,105.5 83.5,104.6 83.6,103.9 C83.7,103.2 83.2,102.2 83.0,101.6 C82.8,101.1 82.5,100.8 82.3,100.6" fill="none" stroke="#3a3a3a" stroke-width="2.08" stroke-linecap="round" stroke-linejoin="round"/>
<path d="M78.2,108.0 C78.6,107.9 79.8,107.6 80.5,107.3 C81.2,107.0 82.0,106.6 82.5,106.0 C83.1,105.5 83.5,104.6 83.6,103.9 C83.7,103.2 83.2,102.2 83.0,101.6 C82.8,101.1 82.5,100.8 82.3,100.6" fill="none" stroke="#8c8c8c" stroke-width="0.78" stroke-linecap="round" stroke-linejoin="round"/>
<path d="M64.2,120.5 C64.0,120.9 63.5,122.0 63.2,122.7 C62.9,123.4 62.7,124.2 62.5,125.0 C62.4,125.8 62.3,126.6 62.2,127.4 C62.1,128.2 62.0,129.0 61.9,129.8 C61.7,130.6 61.7,131.4 61.5,132.1 C61.3,132.9 60.9,133.7 60.7,134.4 C60.6,135.2 60.4,135.9 60.4,136.6 C60.4,137.4 60.6,138.6 60.6,139.0" fill="none" stroke="#616161" stroke-width="1.33" stroke-linecap="round" stroke-linejoin="round"/>
<path d="M219.1,129.1 C219.1,129.5 219.4,130.6 219.3,131.3 C219.3,132.1 219.1,132.9 218.8,133.7 C218.6,134.4 218.1,135.1 217.7,135.8 C217.3,136.5 216.8,137.1 216.3,137.8 C215.8,138.4 214.6,139.1 214.7,139.5 C214.8,139.9 216.2,140.0 217.0,140.0 C217.8,140.0 218.9,140.0 219.4,139.6 C219.8,139.2 219.8,137.9 219.9,137.4 C219.9,136.8 219.8,136.4 219.8,136.2" fill="none" stroke="#404040" stroke-width="1.0" stroke-linecap="round" stroke-linejoin="round"/>
<path d="M46.1,101.1 C45.8,101.4 44.9,102.3 44.6,103.0 C44.2,103.7 44.0,104.5 43.9,105.3 C43.8,106.0 43.9,106.9 44.1,107.6 C44.3,108.4 44.7,109.1 45.1,109.8 C45.5,110.5 45.9,111.2 46.4,111.8 C46.8,112.5 47.4,113.1 47.8,113.8 C48.3,114.4 48.8,115.1 49.0,115.8 C49.3,116.6 49.5,117.8 49.6,118.2" fill="none" stroke="#484848" stroke-width="1.22" stroke-linecap="round" stroke-linejoin="round"/>
<path d="M121.9,81.3 C122.0,81.7 122.3,82.9 122.6,83.6 C122.8,84.4 123.1,85.1 123.5,85.9 C123.8,86.6 124.2,87.3 124.5,88.0 C124.9,88.7 125.2,89.4 125.5,90.2 C125.8,90.9 126.2,91.7 126.4,92.4 C126.6,93.2 126.7,94.0 126.9,94.8 C127.1,95.5 127.3,96.3 127.5,97.1 C127.7,97.9 127.5,99.1 128.0,99.4 C128.5,99.8 130.0,99.1 130.4,99.1" fill="none" stroke="#565656" stroke-width="0.8" stroke-linecap="round" stroke-linejoin="round"/>
<path d="M33.3,122.5 C33.2,122.9 32.9,124.0 32.6,124.8 C32.4,125.6 32.0,126.3 31.7,127.0 C31.4,127.7 30.8,128.4 30.6,129.2 C30.5,129.9 30.4,130.7 30.6,131.4 C30.8,132.1 31.6,132.8 31.9,133.3 C32.3,133.8 32.6,134.1 32.7,134.3" fill="none" stroke="#4b4b4b" stroke-width="1.38" stroke-linecap="round" stroke-linejoin="round"/>
<path d="M79.8,97.5 C79.5,97.7 78.5,98.5 77.7,98.6 C77.0,98.8 76.1,98.6 75.3,98.4 C74.6,98.2 73.8,97.8 73.2,97.4 C72.5,96.9 71.9,96.4 71.4,95.7 C71.0,95.1 70.6,94.1 70.4,93.6 C70.1,93.1 70.1,92.6 70.0,92.5" fill="none" stroke="#3a3a3a" stroke-width="2.0700000000000003" stroke-linecap="round" stroke-linejoin="round"/>
<path d="M79.8,97.5 C79.5,97.7 78.5,98.5 77.7,98.6 C77.0,98.8 76.1,98.6 75.3,98.4 C74.6,98.2 73.8,97.8 73.2,97.4 C72.5,96.9 71.9,96.4 71.4,95.7 C71.0,95.1 70.6,94.1 70.4,93.6 C70.1,93.1 70.1,92.6 70.0,92.5" fill="none" stroke="#8c8c8c" stroke-width="0.77" stroke-linecap="round" stroke-linejoin="round"/>
<path d="M140.9,99.8 C141.2,99.7 142.4,99.3 143.1,99.1 C143.9,98.9 144.7,98.7 145.5,98.5 C146.3,98.4 147.1,98.4 147.9,98.3 C148.7,98.2 149.5,98.2 150.3,98.2 C151.1,98.2 152.3,98.1 152.7,98.0" fill="none" stroke="#4b4b4b" stroke-width="1.11" stroke-linecap="round" stroke-linejoin="round"/>
<path d="M38.2,154.9 C38.4,155.2 39.2,156.2 39.8,156.6 C40.5,156.9 41.4,157.1 42.2,157.0 C42.9,156.9 43.7,156.6 44.4,156.1 C45.0,155.7 45.6,155.0 46.0,154.4 C46.4,153.7 46.7,152.7 46.8,152.1 C47.0,151.6 46.9,151.1 46.9,150.9" fill="none" stroke="#4b4b4b" stroke-width="1.17" stroke-linecap="round" stroke-linejoin="round"/>
<path d="M80.2,148.5 C80.5,148.2 81.2,147.2 81.7,146.6 C82.3,146.0 82.7,145.3 83.3,144.8 C83.9,144.3 84.6,143.9 85.3,143.5 C86.0,143.1 86.8,142.8 87.5,142.5 C88.3,142.2 89.0,141.9 89.8,141.9 C90.6,141.8 91.4,141.9 92.2,142.0 C93.0,142.2 94.1,142.8 94.4,142.9" fill="none" stroke="#484848" stroke-width="1.08" stroke-linecap="round" stroke-linejoin="round"/>
<path d="M139.5,158.8 C139.4,159.2 139.4,160.4 139.3,161.2 C139.2,162.0 139.2,162.8 139.1,163.6 C139.0,164.3 138.9,165.2 138.7,165.9 C138.5,166.7 138.3,167.5 137.9,168.2 C137.4,168.8 136.8,169.4 136.1,169.6 C135.5,169.9 134.4,169.6 133.8,169.6 C133.3,169.5 132.9,169.4 132.7,169.4" fill="none" stroke="#484848" stroke-width="1.03" stroke-linecap="round" stroke-linejoin="round"/>
<path d="M58.2,120.8 C58.5,120.6 59.7,120.2 60.2,119.6 C60.7,119.0 61.0,118.2 61.1,117.4 C61.2,116.7 61.0,115.8 60.7,115.1 C60.5,114.3 59.6,113.4 59.4,113.1" fill="none" stroke="#3a3a3a" stroke-width="2.06" stroke-linecap="round" stroke-linejoin="round"/>
<path d="M58.2,120.8 C58.5,120.6 59.7,120.2 60.2,119.6 C60.7,119.0 61.0,118.2 61.1,117.4 C61.2,116.7 61.0,115.8 60.7,115.1 C60.5,114.3 59.6,113.4 59.4,113.1" fill="none" stroke="#8c8c8c" stroke-width="0.76" stroke-linecap="round" stroke-linejoin="round"/>
<path d="M98.1,98.6 C98.5,98.5 99.6,98.0 100.4,98.0 C101.1,97.9 102.0,98.1 102.7,98.4 C103.4,98.7 104.2,99.1 104.7,99.7 C105.3,100.2 105.7,101.2 105.9,101.7 C106.2,102.3 106.0,102.7 106.0,102.9" fill="none" stroke="#4b4b4b" stroke-width="0.92" stroke-linecap="round" stroke-linejoin="round"/>
<path d="M152.2,74.4 C152.6,74.3 153.8,74.1 154.6,74.1 C155.4,74.1 156.2,74.1 157.0,74.2 C157.8,74.3 158.6,74.5 159.4,74.7 C160.1,74.9 160.9,75.1 161.7,75.4 C162.4,75.6 163.1,76.0 163.9,76.3 C164.6,76.6 165.7,77.2 166.0,77.3" fill="none" stroke="#4b4b4b" stroke-width="0.93" stroke-linecap="round" stroke-linejoin="round"/>
<path d="M213.7,121.3 C213.4,121.1 212.4,120.3 211.7,120.0 C211.0,119.7 210.1,119.5 209.4,119.5 C208.6,119.5 207.8,119.7 207.0,119.9 C206.3,120.2 205.6,120.7 205.0,121.2 C204.4,121.7 203.7,122.3 203.3,122.9 C202.9,123.6 202.7,124.4 202.4,125.1 C202.2,125.9 202.0,127.1 202.0,127.5" fill="none" stroke="#616161" stroke-width="1.12" stroke-linecap="round" stroke-linejoin="round"/>
<path d="M164.9,115.4 C165.0,115.0 165.2,113.8 165.4,113.0 C165.6,112.3 165.8,111.5 166.1,110.7 C166.4,110.0 166.8,109.3 167.2,108.6 C167.5,107.9 167.9,107.0 168.2,106.4 C168.4,105.9 168.6,105.5 168.7,105.3" fill="none" stroke="#484848" stroke-width="1.29" stroke-linecap="round" stroke-linejoin="round"/>
<path d="M134.3,60.3 C133.9,60.2 132.6,60.2 131.9,59.9 C131.3,59.7 130.8,59.3 130.6,58.6 C130.4,58.0 130.4,57.0 130.5,56.2 C130.7,55.5 131.2,54.8 131.7,54.1 C132.2,53.5 132.8,53.0 133.5,52.5 C134.1,52.1 134.8,51.6 135.6,51.4 C136.3,51.2 137.2,51.3 138.0,51.5 C138.7,51.7 139.7,52.4 140.0,52.6" fill="none" stroke="#484848" stroke-width="1.06" stroke-linecap="round" stroke-linejoin="round"/>
<path d="M177.5,143.6 C177.8,143.3 178.6,142.4 179.2,141.9 C179.8,141.4 180.5,140.9 181.3,140.8 C182.0,140.6 182.9,140.6 183.7,140.7 C184.5,140.9 185.2,141.2 186.0,141.4 C186.8,141.6 187.5,141.8 188.3,142.0 C189.1,142.2 189.9,142.3 190.7,142.5 C191.4,142.7 192.2,142.9 192.9,143.3 C193.6,143.7 194.3,144.6 194.6,144.9" fill="none" stroke="#484848" stroke-width="1.25" stroke-linecap="round" stroke-linejoin="round"/>
<path d="M181.1,107.3 C181.3,106.9 181.8,105.8 182.2,105.1 C182.6,104.4 183.0,103.7 183.5,103.1 C184.0,102.5 184.6,101.9 185.1,101.3 C185.6,100.7 186.1,100.1 186.6,99.4 C187.1,98.8 187.5,98.1 187.9,97.5 C188.4,96.8 188.7,96.1 189.1,95.4 C189.5,94.7 189.9,94.0 190.3,93.3 C190.7,92.6 191.3,92.0 191.6,91.2 C191.8,90.5 191.7,89.5 191.7,88.9 C191.6,88.3 191.3,88.0 191.2,87.8" fill="none" stroke="#3a3a3a" stroke-width="2.01" stroke-linecap="round" stroke-linejoin="round"/>
<path d="M181.1,107.3 C181.3,106.9 181.8,105.8 182.2,105.1 C182.6,104.4 183.0,103.7 183.5,103.1 C184.0,102.5 184.6,101.9 185.1,101.3 C185.6,100.7 186.1,100.1 186.6,99.4 C187.1,98.8 187.5,98.1 187.9,97.5 C188.4,96.8 188.7,96.1 189.1,95.4 C189.5,94.7 189.9,94.0 190.3,93.3 C190.7,92.6 191.3,92.0 191.6,91.2 C191.8,90.5 191.7,89.5 191.7,88.9 C191.6,88.3 191.3,88.0 191.2,87.8" fill="none" stroke="#8c8c8c" stroke-width="0.71" stroke-linecap="round" stroke-linejoin="round"/>
<path d="M61.7,100.0 C61.6,100.3 60.8,101.4 60.8,102.2 C60.7,102.9 60.9,103.8 61.2,104.5 C61.6,105.2 62.2,105.7 62.9,106.2 C63.5,106.7 64.2,107.1 64.9,107.5 C65.6,107.8 66.4,108.2 67.1,108.4 C67.9,108.6 68.7,108.6 69.5,108.6 C70.3,108.5 71.1,108.4 71.9,108.1 C72.6,107.9 73.3,107.5 74.1,107.2 C74.8,106.9 75.5,106.5 76.3,106.3 C77.0,106.0 78.2,105.9 78.6,105.9" fill="none" stroke="#484848" stroke-width="1.33" stroke-linecap="round" stroke-linejoin="round"/>
<path d="M60.5,87.2 C60.5,86.8 60.5,85.6 60.8,85.0 C61.1,84.3 61.9,83.7 62.4,83.1 C62.9,82.5 63.4,81.9 63.9,81.3 C64.3,80.6 64.7,79.9 65.1,79.2 C65.5,78.5 66.0,77.9 66.5,77.3 C67.0,76.6 67.6,76.1 68.2,75.5 C68.8,75.0 69.5,74.6 70.1,74.1 C70.8,73.7 71.5,73.4 72.3,73.1 C73.0,72.8 74.2,72.6 74.6,72.5" fill="none" stroke="#565656" stroke-width="0.75" stroke-linecap="round" stroke-linejoin="round"/>
<path d="M98.2,104.8 C98.2,104.4 98.4,103.2 98.3,102.5 C98.2,101.7 98.0,100.9 97.7,100.1 C97.5,99.4 97.2,98.6 97.0,97.8 C96.8,97.1 96.5,96.1 96.4,95.5 C96.2,95.0 96.0,94.6 95.9,94.4" fill="none" stroke="#616161" stroke-width="1.08" stroke-linecap="round" stroke-linejoin="round"/>
<path d="M92.1,118.2 C92.4,118.0 93.5,117.4 94.3,117.3 C95.0,117.1 95.9,117.2 96.6,117.3 C97.4,117.4 98.2,117.6 99.0,117.6 C99.8,117.6 100.6,117.6 101.4,117.5 C102.2,117.4 103.0,117.2 103.8,117.2 C104.6,117.1 105.4,117.2 106.2,117.3 C107.0,117.4 107.9,117.7 108.5,117.9 C109.1,118.1 109.4,118.4 109.5,118.5" fill="none" stroke="#565656" stroke-width="1.12" stroke-linecap="round" stroke-linejoin="round"/>
<path d="M65.6,89.7 C66.0,89.6 67.2,89.2 67.9,89.0 C68.7,88.8 69.5,88.7 70.3,88.6 C71.1,88.5 71.9,88.4 72.7,88.4 C73.5,88.3 74.3,88.2 75.1,88.1 C75.9,88.0 77.1,87.8 77.4,87.7" fill="none" stroke="#4b4b4b" stroke-width="1.39" stroke-linecap="round" stroke-linejoin="round"/>
<path d="M38.5,127.5 C38.6,127.9 39.0,129.1 39.2,129.8 C39.4,130.6 39.5,131.4 39.7,132.2 C39.8,133.0 40.0,133.7 40.1,134.5 C40.2,135.3 40.2,136.1 40.2,136.9 C40.2,137.7 40.2,138.5 40.0,139.3 C39.9,140.1 39.7,140.9 39.3,141.6 C38.9,142.3 38.3,143.1 37.9,143.5 C37.5,144.0 37.1,144.1 36.9,144.2" fill="none" stroke="#4b4b4b" stroke-width="1.34" stroke-linecap="round" stroke-linejoin="round"/>
<path d="M134.2,159.6 C134.0,160.0 133.3,160.9 132.9,161.6 C132.5,162.3 132.2,163.1 131.8,163.8 C131.4,164.5 131.0,165.2 130.5,165.8 C130.0,166.4 129.3,166.8 128.6,167.2 C127.9,167.6 127.1,167.9 126.3,168.0 C125.6,168.2 124.7,168.4 124.0,168.3 C123.2,168.3 122.3,168.1 121.6,167.8 C120.9,167.4 120.4,166.8 119.8,166.2 C119.3,165.7 118.6,164.6 118.4,164.3" fill="none" stroke="#616161" stroke-width="0.85" stroke-linecap="round" stroke-linejoin="round"/>
<path d="M22.7,113.0 C23.1,112.9 24.2,112.5 24.9,112.1 C25.6,111.7 26.2,111.2 26.9,110.7 C27.5,110.2 28.1,109.7 28.6,109.1 C29.1,108.5 29.5,107.8 30.0,107.1 C30.5,106.5 30.9,105.8 31.5,105.3 C32.1,104.7 32.8,104.2 33.5,103.9 C34.2,103.6 35.1,103.6 35.9,103.6 C36.7,103.6 37.7,103.8 38.2,103.9 C38.8,104.0 39.2,104.1 39.4,104.2" fill="none" stroke="#484848" stroke-width="1.18" stroke-linecap="round" stroke-linejoin="round"/>
<path d="M80.2,85.6 C80.6,85.5 81.8,85.4 82.6,85.3 C83.4,85.2 84.1,85.0 84.9,84.8 C85.7,84.7 86.5,84.4 87.2,84.2 C88.0,84.0 88.8,83.8 89.6,83.6 C90.3,83.3 91.1,83.1 91.8,82.8 C92.6,82.6 93.7,82.1 94.1,81.9" fill="none" stroke="#484848" stroke-width="1.62" stroke-linecap="round" stroke-linejoin="round"/>
<path d="M163.3,140.4 C163.7,140.3 164.9,140.0 165.7,139.9 C166.5,139.7 167.3,139.6 168.0,139.4 C168.8,139.2 169.6,138.9 170.3,138.5 C171.0,138.2 171.7,137.8 172.3,137.3 C173.0,136.9 173.6,136.3 174.3,135.9 C174.9,135.4 175.7,135.2 176.4,134.8 C177.1,134.4 177.9,133.8 178.4,133.5 C178.9,133.1 179.2,132.9 179.4,132.8" fill="none" stroke="#404040" stroke-width="1.55" stroke-linecap="round" stroke-linejoin="round"/>
<path d="M26.9,122.6 C27.2,122.8 28.3,123.4 28.8,124.0 C29.3,124.6 29.8,125.3 30.1,126.0 C30.4,126.8 30.3,127.7 30.5,128.4 C30.8,129.0 31.0,129.9 31.5,129.9 C32.0,130.0 32.9,129.2 33.6,128.8 C34.4,128.5 35.1,128.1 35.8,127.8 C36.5,127.5 37.3,127.3 38.1,127.0 C38.8,126.7 39.5,126.4 40.3,126.1 C41.1,125.9 42.2,125.6 42.6,125.5" fill="none" stroke="#404040" stroke-width="1.16" stroke-linecap="round" stroke-linejoin="round"/>
<path d="M106.4,99.1 C106.2,98.8 105.7,97.7 105.5,96.9 C105.2,96.1 105.1,95.3 105.1,94.5 C105.0,93.8 105.1,92.9 105.4,92.2 C105.6,91.5 106.1,90.7 106.6,90.2 C107.2,89.6 107.9,89.2 108.7,88.9 C109.4,88.6 110.2,88.4 111.0,88.4 C111.8,88.4 112.7,88.6 113.3,89.0 C114.0,89.3 114.7,90.4 114.9,90.7" fill="none" stroke="#404040" stroke-width="1.18" stroke-linecap="round" stroke-linejoin="round"/>
<path d="M85.1,89.7 C85.3,89.4 86.2,88.6 86.7,87.9 C87.1,87.2 87.3,86.4 87.6,85.7 C87.8,84.9 88.0,84.1 88.1,83.4 C88.3,82.6 88.4,81.8 88.4,81.0 C88.4,80.2 88.4,79.4 88.3,78.6 C88.2,77.8 87.9,77.0 87.6,76.3 C87.3,75.5 86.7,74.5 86.5,74.2" fill="none" stroke="#404040" stroke-width="1.23" stroke-linecap="round" stroke-linejoin="round"/>
<path d="M17.7,139.6 C17.3,139.7 16.1,140.0 15.4,139.9 C14.6,139.7 14.0,139.0 13.3,138.6 C12.6,138.3 11.6,137.7 11.1,137.7 C10.6,137.6 10.3,138.3 10.2,138.4" fill="none" stroke="#404040" stroke-width="0.9" stroke-linecap="round" stroke-linejoin="round"/>
<path d="M62.6,162.6 C63.0,162.5 64.0,161.8 64.7,161.5 C65.5,161.3 66.3,161.1 67.1,161.0 C67.9,161.0 68.7,161.2 69.5,161.3 C70.2,161.4 71.0,161.5 71.8,161.6 C72.6,161.7 73.4,161.6 74.2,161.7 C75.0,161.7 75.8,161.8 76.6,162.0 C77.4,162.2 78.2,162.5 78.8,162.9 C79.5,163.3 80.1,163.9 80.6,164.5 C81.2,165.1 81.6,165.8 81.9,166.5 C82.2,167.2 82.4,168.4 82.5,168.8" fill="none" stroke="#565656" stroke-width="1.17" stroke-linecap="round" stroke-linejoin="round"/>
<path d="M74.6,133.8 C74.5,133.5 73.7,132.4 73.6,131.7 C73.5,130.9 73.6,130.0 73.9,129.3 C74.3,128.7 74.9,128.0 75.6,127.6 C76.3,127.3 77.2,127.3 78.0,127.4 C78.7,127.4 79.5,127.7 80.2,128.1 C80.9,128.5 81.7,129.1 82.2,129.5 C82.6,129.9 82.8,130.3 82.9,130.4" fill="none" stroke="#4b4b4b" stroke-width="1.22" stroke-linecap="round" stroke-linejoin="round"/>
<path d="M168.1,102.4 C167.9,102.7 167.3,103.8 166.8,104.4 C166.4,105.0 165.8,105.6 165.2,106.2 C164.7,106.7 164.1,107.3 163.5,107.9 C162.9,108.4 162.1,109.0 161.6,109.3 C161.1,109.6 160.7,109.8 160.5,109.9" fill="none" stroke="#565656" stroke-width="1.24" stroke-linecap="round" stroke-linejoin="round"/>
<path d="M153.6,87.9 C153.6,87.5 153.3,86.3 153.4,85.5 C153.5,84.7 153.9,84.0 154.2,83.3 C154.6,82.6 155.1,81.9 155.6,81.3 C156.2,80.7 156.8,80.1 157.4,79.7 C158.0,79.2 158.8,78.9 159.5,78.5 C160.2,78.1 161.0,77.9 161.7,77.5 C162.4,77.1 163.0,76.6 163.6,76.1 C164.2,75.6 165.0,74.6 165.2,74.3" fill="none" stroke="#4b4b4b" stroke-width="1.01" stroke-linecap="round" stroke-linejoin="round"/>
<path d="M80.2,75.5 C80.2,75.9 80.4,77.1 80.4,77.9 C80.5,78.7 80.5,79.5 80.5,80.3 C80.5,81.1 80.6,81.9 80.5,82.7 C80.4,83.4 80.2,84.3 79.7,84.9 C79.3,85.6 78.6,86.2 77.9,86.5 C77.2,86.7 76.1,86.6 75.6,86.5 C75.0,86.4 74.7,86.0 74.5,85.9" fill="none" stroke="#616161" stroke-width="1.32" stroke-linecap="round" stroke-linejoin="round"/>
<path d="M91.4,108.7 C91.3,108.3 90.9,107.1 90.8,106.3 C90.7,105.6 90.6,104.7 90.6,104.0 C90.6,103.2 90.8,102.2 90.9,101.6 C91.0,101.0 91.1,100.6 91.1,100.4" fill="none" stroke="#4b4b4b" stroke-width="1.35" stroke-linecap="round" stroke-linejoin="round"/>
<path d="M87.1,159.0 C87.3,158.6 88.0,157.7 88.5,157.0 C89.0,156.3 89.5,155.7 89.9,155.0 C90.3,154.4 90.6,153.6 90.9,152.9 C91.3,152.2 91.5,151.4 91.9,150.7 C92.3,150.0 93.0,149.0 93.2,148.7" fill="none" stroke="#4b4b4b" stroke-width="1.46" stroke-linecap="round" stroke-linejoin="round"/>
<path d="M193.3,116.6 C193.1,116.3 192.7,115.1 192.3,114.4 C192.0,113.7 191.4,113.1 190.9,112.5 C190.5,111.8 190.0,111.2 189.4,110.6 C188.9,110.0 188.3,109.5 187.8,108.9 C187.3,108.3 186.7,107.6 186.4,106.9 C186.1,106.2 185.9,105.2 185.9,104.6 C185.8,104.0 185.9,103.6 186.0,103.4" fill="none" stroke="#565656" stroke-width="1.41" stroke-linecap="round" stroke-linejoin="round"/>
<path d="M137.0,66.2 C136.7,66.3 135.5,66.6 134.8,67.0 C134.1,67.4 133.5,68.0 133.0,68.6 C132.5,69.2 132.0,69.9 131.7,70.6 C131.4,71.4 131.1,72.2 131.1,73.0 C131.1,73.7 131.6,74.9 131.7,75.3" fill="none" stroke="#565656" stroke-width="0.91" stroke-linecap="round" stroke-linejoin="round"/>
<path d="M202.6,105.1 C202.9,105.3 203.9,105.9 204.6,106.3 C205.3,106.8 206.0,107.2 206.6,107.7 C207.1,108.3 207.7,108.9 208.0,109.6 C208.3,110.3 208.3,111.2 208.3,112.0 C208.3,112.8 208.0,113.6 207.8,114.3 C207.6,115.1 207.1,116.2 206.9,116.6" fill="none" stroke="#565656" stroke-width="0.75" stroke-linecap="round" stroke-linejoin="round"/>
<path d="M150.8,108.8 C150.7,108.8 150.5,108.5 150.5,108.9 C150.5,109.3 150.8,110.4 150.9,111.2 C150.9,112.0 150.9,112.9 150.7,113.6 C150.6,114.4 150.3,115.2 149.9,115.9 C149.5,116.5 148.9,117.2 148.3,117.6 C147.6,117.9 146.7,118.1 145.9,118.0 C145.2,117.9 144.3,117.5 143.7,117.1 C143.1,116.6 142.6,115.9 142.2,115.2 C141.9,114.5 141.8,113.7 141.8,112.9 C141.8,112.1 142.3,111.0 142.4,110.6" fill="none" stroke="#616161" stroke-width="1.29" stroke-linecap="round" stroke-linejoin="round"/>
<path d="M63.1,163.7 C63.2,163.3 63.6,162.2 64.0,161.5 C64.3,160.7 64.7,160.1 65.1,159.3 C65.4,158.6 65.8,157.9 66.0,157.1 C66.2,156.4 66.3,155.5 66.3,154.7 C66.2,154.0 66.1,153.1 65.7,152.4 C65.4,151.7 64.6,150.8 64.4,150.4" fill="none" stroke="#4b4b4b" stroke-width="1.45" stroke-linecap="round" stroke-linejoin="round"/>
<path d="M175.6,67.4 C175.9,67.7 176.7,68.7 177.3,69.0 C178.0,69.4 179.3,70.0 179.6,69.7 C179.9,69.5 179.0,68.2 179.0,67.4 C178.9,66.6 179.2,65.8 179.3,65.1 C179.4,64.3 179.8,63.6 179.6,62.9 C179.5,62.2 179.1,61.1 178.5,60.8 C178.0,60.4 177.0,60.6 176.2,60.6 C175.5,60.7 174.7,60.9 173.9,60.9 C173.1,61.0 172.1,60.9 171.5,60.9 C170.9,60.8 170.5,60.6 170.3,60.6" fill="none" stroke="#565656" stroke-width="0.94" stroke-linecap="round" stroke-linejoin="round"/>
<path d="M35.2,112.8 C35.6,112.7 36.8,112.4 37.5,112.2 C38.3,112.1 39.1,112.0 39.9,112.1 C40.7,112.2 41.5,112.4 42.2,112.7 C43.0,113.0 43.7,113.4 44.3,114.0 C44.8,114.5 45.4,115.2 45.7,115.9 C46.0,116.6 46.3,117.4 46.3,118.2 C46.3,119.0 45.9,120.0 45.7,120.5 C45.5,121.1 45.2,121.4 45.1,121.6" fill="none" stroke="#616161" stroke-width="1.25" stroke-linecap="round" stroke-linejoin="round"/>
<path d="M133.5,126.2 C133.9,126.0 135.1,125.7 135.8,125.5 C136.6,125.2 137.3,124.9 138.1,124.6 C138.8,124.3 139.5,123.9 140.3,123.7 C141.1,123.5 141.9,123.5 142.7,123.4 C143.5,123.3 144.3,123.3 145.1,123.2 C145.9,123.0 146.7,122.9 147.4,122.6 C148.1,122.3 149.2,121.7 149.5,121.5" fill="none" stroke="#484848" stroke-width="1.24" stroke-linecap="round" stroke-linejoin="round"/>
<path d="M45.4,147.4 C45.7,147.1 46.4,146.1 47.0,145.6 C47.6,145.0 48.2,144.4 48.8,144.1 C49.5,143.7 50.4,143.5 51.2,143.6 C51.9,143.6 52.8,143.9 53.4,144.3 C54.0,144.8 54.5,145.6 54.7,146.3 C54.9,147.1 54.9,148.0 54.7,148.7 C54.5,149.5 53.7,150.4 53.5,150.8" fill="none" stroke="#616161" stroke-width="1.19" stroke-linecap="round" stroke-linejoin="round"/>
<path d="M138.4,150.2 C138.5,150.6 139.1,151.7 139.3,152.4 C139.6,153.2 139.7,154.0 139.8,154.8 C139.9,155.6 139.9,156.4 139.9,157.2 C140.0,158.0 140.1,158.8 140.0,159.6 C139.9,160.4 139.5,161.1 139.3,161.9 C139.1,162.7 139.0,163.5 138.8,164.2 C138.6,165.0 138.4,165.8 138.1,166.5 C137.8,167.3 137.1,168.3 136.9,168.6" fill="none" stroke="#565656" stroke-width="1.35" stroke-linecap="round" stroke-linejoin="round"/>
<path d="M151.6,69.3 C151.7,69.0 151.9,67.7 152.2,67.0 C152.5,66.3 153.0,65.6 153.6,65.1 C154.2,64.6 154.9,64.2 155.6,63.8 C156.3,63.4 157.1,63.1 157.7,62.6 C158.4,62.2 159.0,61.6 159.6,61.1 C160.2,60.7 160.9,59.9 161.5,60.1 C162.1,60.2 162.7,61.2 163.1,61.9 C163.5,62.5 163.8,63.5 164.0,64.1 C164.2,64.6 164.3,65.0 164.3,65.2" fill="none" stroke="#4b4b4b" stroke-width="0.84" stroke-linecap="round" stroke-linejoin="round"/>
<path d="M61.3,128.6 C61.7,128.4 62.8,127.8 63.4,127.4 C64.0,126.9 64.4,126.1 65.0,125.6 C65.6,125.1 66.3,124.6 66.9,124.2 C67.6,123.8 68.4,123.5 69.1,123.2 C69.9,122.9 70.6,122.5 71.4,122.3 C72.1,122.1 73.0,122.0 73.8,122.0 C74.5,122.0 75.7,122.2 76.1,122.2" fill="none" stroke="#404040" stroke-width="1.24" stroke-linecap="round" stroke-linejoin="round"/>
<path d="M30.8,115.8 C30.9,116.2 31.2,117.4 31.5,118.1 C31.9,118.7 32.5,119.4 33.1,119.9 C33.7,120.4 34.4,120.9 35.1,121.2 C35.8,121.5 36.6,121.7 37.4,121.7 C38.2,121.8 39.1,121.8 39.8,121.6 C40.6,121.3 41.2,120.8 41.9,120.4 C42.6,120.0 43.2,119.5 43.9,119.1 C44.6,118.7 45.5,118.3 46.1,118.0 C46.6,117.8 47.0,117.7 47.2,117.7" fill="none" stroke="#484848" stroke-width="1.31" stroke-linecap="round" stroke-linejoin="round"/>
<path d="M104.5,144.0 C104.6,143.6 104.7,142.3 104.6,141.6 C104.6,140.8 104.4,140.0 104.1,139.2 C103.8,138.5 103.4,137.8 102.9,137.1 C102.4,136.5 101.7,136.0 101.3,135.4 C100.9,134.7 100.4,134.1 100.3,133.4 C100.1,132.7 100.3,131.8 100.4,131.0 C100.5,130.2 100.5,129.4 100.6,128.6 C100.8,127.8 101.1,127.0 101.5,126.4 C101.9,125.7 102.4,125.1 103.0,124.5 C103.6,124.0 104.7,123.4 105.0,123.2" fill="none" stroke="#404040" stroke-width="1.22" stroke-linecap="round" stroke-linejoin="round"/>
<path d="M63.5,121.0 C63.9,121.0 65.1,121.3 65.9,121.3 C66.7,121.3 67.5,121.2 68.3,121.1 C69.0,120.9 69.8,120.6 70.5,120.3 C71.2,119.9 71.9,119.4 72.5,118.9 C73.1,118.4 73.7,117.8 74.2,117.2 C74.6,116.6 75.0,115.8 75.3,115.1 C75.6,114.3 75.8,113.6 76.0,112.8 C76.2,112.0 76.3,111.2 76.5,110.4 C76.7,109.7 77.0,108.9 77.2,108.1 C77.4,107.4 77.7,106.2 77.8,105.8" fill="none" stroke="#565656" stroke-width="1.29" stroke-linecap="round" stroke-linejoin="round"/>
<path d="M175.5,99.6 C175.6,100.0 176.1,101.1 176.5,101.8 C176.8,102.5 177.3,103.2 177.7,103.8 C178.1,104.5 178.6,105.2 179.0,105.8 C179.5,106.5 180.3,107.4 180.5,107.7" fill="none" stroke="#616161" stroke-width="1.34" stroke-linecap="round" stroke-linejoin="round"/>
<path d="M88.4,121.1 C88.2,120.7 87.8,119.6 87.6,118.8 C87.4,118.1 87.4,117.2 87.4,116.4 C87.4,115.7 87.6,114.9 87.7,114.1 C87.8,113.3 88.0,112.5 88.1,111.7 C88.3,110.9 88.4,110.1 88.5,109.4 C88.7,108.6 88.7,107.8 88.8,107.0 C88.9,106.2 88.9,105.4 88.9,104.6 C89.0,103.8 89.2,102.9 89.1,102.2 C89.0,101.4 88.5,100.5 88.1,100.1 C87.8,99.8 87.1,100.1 86.9,100.1" fill="none" stroke="#3a3a3a" stroke-width="2.0" stroke-linecap="round" stroke-linejoin="round"/>
<path d="M88.4,121.1 C88.2,120.7 87.8,119.6 87.6,118.8 C87.4,118.1 87.4,117.2 87.4,116.4 C87.4,115.7 87.6,114.9 87.7,114.1 C87.8,113.3 88.0,112.5 88.1,111.7 C88.3,110.9 88.4,110.1 88.5,109.4 C88.7,108.6 88.7,107.8 88.8,107.0 C88.9,106.2 88.9,105.4 88.9,104.6 C89.0,103.8 89.2,102.9 89.1,102.2 C89.0,101.4 88.5,100.5 88.1,100.1 C87.8,99.8 87.1,100.1 86.9,100.1" fill="none" stroke="#8c8c8c" stroke-width="0.70" stroke-linecap="round" stroke-linejoin="round"/>
<path d="M187.2,136.3 C187.5,136.0 188.3,135.1 188.7,134.5 C189.1,133.8 189.4,133.0 189.8,132.3 C190.1,131.6 190.4,130.8 190.7,130.1 C191.1,129.4 191.6,128.5 192.0,128.1 C192.3,127.6 192.6,127.3 192.8,127.2" fill="none" stroke="#4b4b4b" stroke-width="1.24" stroke-linecap="round" stroke-linejoin="round"/>
<path d="M77.4,104.9 C77.8,104.9 79.0,104.6 79.8,104.5 C80.5,104.4 81.3,104.4 82.1,104.2 C82.9,104.1 83.7,103.9 84.5,103.8 C85.3,103.6 86.0,103.4 86.8,103.3 C87.6,103.2 88.4,103.2 89.2,103.2 C90.0,103.3 90.8,103.5 91.6,103.6 C92.4,103.8 93.2,103.9 93.9,104.1 C94.7,104.4 95.4,104.8 96.1,105.1 C96.8,105.5 97.6,105.8 98.2,106.3 C98.9,106.7 99.6,107.4 100.1,107.8 C100.5,108.2 100.8,108.5 100.9,108.7" fill="none" stroke="#4b4b4b" stroke-width="1.46" stroke-linecap="round" stroke-linejoin="round"/>
<path d="M68.2,98.3 C68.4,98.6 69.1,99.6 69.5,100.3 C69.9,101.0 70.3,101.7 70.7,102.4 C71.1,103.0 71.6,103.7 72.1,104.3 C72.6,104.9 73.4,105.8 73.6,106.2" fill="none" stroke="#3a3a3a" stroke-width="2.0" stroke-linecap="round" stroke-linejoin="round"/>
<path d="M68.2,98.3 C68.4,98.6 69.1,99.6 69.5,100.3 C69.9,101.0 70.3,101.7 70.7,102.4 C71.1,103.0 71.6,103.7 72.1,104.3 C72.6,104.9 73.4,105.8 73.6,106.2" fill="none" stroke="#8c8c8c" stroke-width="0.70" stroke-linecap="round" stroke-linejoin="round"/>
<path d="M73.6,158.8 C73.5,158.4 73.2,157.3 73.0,156.5 C72.7,155.7 72.4,155.0 72.1,154.3 C71.8,153.5 71.6,152.8 71.3,152.0 C71.0,151.3 70.8,150.5 70.5,149.8 C70.2,149.0 69.7,148.1 69.5,147.6 C69.3,147.0 69.2,146.6 69.2,146.4" fill="none" stroke="#3a3a3a" stroke-width="2.06" stroke-linecap="round" stroke-linejoin="round"/>
<path d="M73.6,158.8 C73.5,158.4 73.2,157.3 73.0,156.5 C72.7,155.7 72.4,155.0 72.1,154.3 C71.8,153.5 71.6,152.8 71.3,152.0 C71.0,151.3 70.8,150.5 70.5,149.8 C70.2,149.0 69.7,148.1 69.5,147.6 C69.3,147.0 69.2,146.6 69.2,146.4" fill="none" stroke="#8c8c8c" stroke-width="0.76" stroke-linecap="round" stroke-linejoin="round"/>
<path d="M178.6,138.8 C179.0,139.0 180.1,139.5 180.8,139.9 C181.5,140.3 182.1,140.7 182.8,141.1 C183.5,141.6 184.2,142.0 184.7,142.6 C185.3,143.1 185.7,143.8 186.2,144.5 C186.6,145.1 187.0,145.9 187.4,146.5 C187.8,147.2 188.3,147.9 188.8,148.5 C189.4,149.0 190.1,149.5 190.8,149.8 C191.5,150.2 192.3,150.4 193.0,150.6 C193.8,150.9 194.8,151.1 195.4,151.3 C195.9,151.4 196.4,151.3 196.6,151.3" fill="none" stroke="#484848" stroke-width="1.15" stroke-linecap="round" stroke-linejoin="round"/>
<path d="M195.2,89.2 C195.2,89.6 195.1,90.8 195.2,91.6 C195.4,92.3 195.7,93.1 196.0,93.8 C196.3,94.6 196.6,95.3 196.9,96.0 C197.3,96.8 197.7,97.4 198.1,98.1 C198.5,98.8 198.9,99.5 199.3,100.2 C199.8,100.9 200.3,101.7 200.6,102.2 C201.0,102.7 201.3,103.0 201.4,103.1" fill="none" stroke="#404040" stroke-width="1.1" stroke-linecap="round" stroke-linejoin="round"/>
<path d="M130.0,72.6 C130.4,72.8 131.6,73.2 132.4,73.3 C133.1,73.4 134.0,73.4 134.8,73.2 C135.5,73.1 136.3,72.8 137.0,72.3 C137.6,71.9 138.2,71.2 138.6,70.6 C139.0,69.9 139.4,69.1 139.5,68.4 C139.5,67.6 139.3,66.7 138.9,66.1 C138.5,65.4 137.8,64.9 137.1,64.6 C136.4,64.2 135.5,64.2 134.7,64.2 C133.9,64.2 133.0,64.6 132.4,64.8 C131.8,65.0 131.5,65.3 131.4,65.4" fill="none" stroke="#404040" stroke-width="0.91" stroke-linecap="round" stroke-linejoin="round"/>
<path d="M66.7,82.7 C66.7,82.3 66.9,81.1 67.0,80.3 C67.1,79.5 67.2,78.7 67.2,77.9 C67.3,77.1 67.3,76.3 67.3,75.5 C67.3,74.7 67.2,73.9 67.1,73.1 C67.0,72.3 66.8,71.5 66.7,70.8 C66.6,70.0 66.5,68.8 66.4,68.4" fill="none" stroke="#404040" stroke-width="1.0" stroke-linecap="round" stroke-linejoin="round"/>
<path d="M59.9,97.2 C59.5,97.2 58.3,97.1 57.5,97.1 C56.7,97.1 55.9,97.1 55.1,97.2 C54.3,97.3 53.5,97.5 52.8,97.9 C52.1,98.2 51.4,98.6 50.8,99.2 C50.3,99.8 49.8,100.5 49.7,101.3 C49.5,102.0 49.5,102.9 49.8,103.6 C50.0,104.3 50.7,105.0 51.3,105.4 C52.0,105.8 53.2,106.0 53.6,106.1" fill="none" stroke="#4b4b4b" stroke-width="1.37" stroke-linecap="round" stroke-linejoin="round"/>
<path d="M93.6,89.0 C93.9,88.8 94.8,87.9 95.5,87.5 C96.2,87.1 96.9,86.8 97.7,86.7 C98.5,86.5 99.3,86.4 100.1,86.4 C100.9,86.4 101.7,86.6 102.4,86.8 C103.2,87.1 103.9,87.5 104.6,87.9 C105.2,88.4 105.8,88.9 106.3,89.6 C106.7,90.2 107.2,91.0 107.3,91.7 C107.4,92.5 107.3,93.4 107.0,94.1 C106.6,94.7 106.0,95.4 105.3,95.7 C104.6,96.1 103.7,96.2 103.0,96.3 C102.2,96.4 101.0,96.4 100.6,96.4" fill="none" stroke="#404040" stroke-width="1.16" stroke-linecap="round" stroke-linejoin="round"/>
<path d="M191.2,113.6 C191.5,113.9 192.4,114.7 193.0,115.2 C193.7,115.6 194.4,116.1 195.1,116.4 C195.8,116.7 196.6,117.0 197.4,117.1 C198.2,117.2 199.0,117.1 199.8,117.0 C200.6,117.0 201.4,116.8 202.2,116.7 C203.0,116.6 203.8,116.6 204.6,116.5 C205.4,116.5 206.2,116.4 207.0,116.3 C207.8,116.2 209.0,116.2 209.4,116.2" fill="none" stroke="#484848" stroke-width="1.18" stroke-linecap="round" stroke-linejoin="round"/>
<path d="M82.8,125.2 C83.0,125.5 83.4,126.7 83.9,127.3 C84.3,127.9 85.0,128.5 85.6,128.9 C86.3,129.3 87.4,129.4 87.9,129.4 C88.5,129.5 88.9,129.2 89.1,129.2" fill="none" stroke="#616161" stroke-width="1.42" stroke-linecap="round" stroke-linejoin="round"/>
<path d="M75.2,157.8 C75.0,157.5 74.4,156.4 74.0,155.8 C73.5,155.1 73.1,154.4 72.7,153.7 C72.2,153.1 71.7,152.4 71.5,151.7 C71.2,150.9 71.1,149.9 70.9,149.3 C70.8,148.8 70.8,148.4 70.8,148.2" fill="none" stroke="#565656" stroke-width="1.27" stroke-linecap="round" stroke-linejoin="round"/>
<path d="M163.8,158.8 C163.8,158.4 164.0,157.2 163.9,156.4 C163.9,155.6 163.8,154.8 163.5,154.0 C163.3,153.3 162.8,152.6 162.4,151.9 C161.9,151.3 161.4,150.6 160.9,150.0 C160.3,149.5 159.7,149.0 159.0,148.6 C158.3,148.2 157.2,147.8 156.8,147.7" fill="none" stroke="#565656" stroke-width="1.05" stroke-linecap="round" stroke-linejoin="round"/>
<path d="M96.7,154.9 C96.5,154.6 96.1,153.4 95.8,152.7 C95.6,151.9 95.3,151.2 94.9,150.4 C94.6,149.7 94.3,149.0 93.9,148.3 C93.4,147.6 92.9,147.0 92.3,146.5 C91.7,146.0 90.9,145.6 90.2,145.3 C89.5,144.9 88.3,144.6 88.0,144.5" fill="none" stroke="#404040" stroke-width="0.97" stroke-linecap="round" stroke-linejoin="round"/>
<path d="M164.2,99.8 C164.4,100.2 165.0,101.2 165.1,102.0 C165.3,102.8 165.2,103.6 165.2,104.4 C165.2,105.2 165.1,106.0 165.0,106.8 C165.0,107.6 164.9,108.4 164.8,109.2 C164.8,110.0 164.7,110.8 164.6,111.6 C164.5,112.4 164.5,113.2 164.4,114.0 C164.2,114.7 163.9,115.5 163.6,116.2 C163.3,117.0 162.6,118.0 162.4,118.3" fill="none" stroke="#4b4b4b" stroke-width="1.19" stroke-linecap="round" stroke-linejoin="round"/>
<path d="M96.2,73.0 C96.5,72.7 97.3,71.8 97.9,71.3 C98.5,70.8 99.1,70.3 99.8,69.8 C100.4,69.3 101.2,69.0 101.7,68.4 C102.3,67.9 102.8,67.2 103.1,66.5 C103.5,65.8 103.7,65.0 103.8,64.2 C103.9,63.4 103.9,62.5 103.6,61.8 C103.4,61.1 102.1,60.3 102.3,60.1 C102.4,59.9 103.8,60.4 104.6,60.6 C105.4,60.7 106.2,60.9 107.0,61.0 C107.8,61.2 108.9,61.4 109.3,61.4" fill="none" stroke="#4b4b4b" stroke-width="1.17" stroke-linecap="round" stroke-linejoin="round"/>
<path d="M74.6,158.5 C74.9,158.6 76.0,159.3 76.7,159.4 C77.5,159.6 78.3,159.6 79.1,159.5 C79.9,159.5 80.7,159.4 81.5,159.1 C82.2,158.9 82.9,158.4 83.6,158.0 C84.3,157.6 85.0,157.2 85.6,156.6 C86.2,156.1 86.8,155.6 87.2,154.9 C87.6,154.3 88.0,153.4 88.0,152.7 C88.1,151.9 87.7,151.1 87.6,150.3 C87.4,149.6 87.2,148.6 87.0,148.0 C86.8,147.4 86.7,147.1 86.6,146.9" fill="none" stroke="#404040" stroke-width="1.21" stroke-linecap="round" stroke-linejoin="round"/>
<path d="M157.8,97.7 C157.6,97.4 156.8,96.4 156.6,95.6 C156.4,94.9 156.3,94.0 156.5,93.2 C156.6,92.5 157.0,91.7 157.5,91.1 C158.0,90.5 158.8,90.1 159.5,89.8 C160.2,89.5 161.3,89.5 161.9,89.5 C162.5,89.4 162.9,89.6 163.1,89.6" fill="none" stroke="#484848" stroke-width="1.36" stroke-linecap="round" stroke-linejoin="round"/>
<path d="M159.1,126.4 C159.0,126.0 158.7,124.8 158.6,124.0 C158.4,123.2 158.2,122.4 158.1,121.7 C158.1,120.9 158.1,120.0 158.3,119.3 C158.4,118.5 158.7,117.7 159.0,117.0 C159.3,116.2 159.7,115.5 160.1,114.9 C160.5,114.2 161.0,113.6 161.6,113.0 C162.2,112.4 162.8,111.9 163.5,111.5 C164.2,111.2 165.0,110.8 165.7,110.7 C166.5,110.5 167.5,110.6 168.1,110.6 C168.7,110.7 169.1,110.9 169.3,110.9" fill="none" stroke="#4b4b4b" stroke-width="1.34" stroke-linecap="round" stroke-linejoin="round"/>
<path d="M104.0,130.9 C103.7,131.1 102.4,131.7 101.8,131.8 C101.3,131.9 100.9,131.7 100.8,131.2 C100.6,130.7 100.8,129.6 100.9,128.8 C101.1,128.1 101.6,127.0 101.7,126.6" fill="none" stroke="#565656" stroke-width="1.24" stroke-linecap="round" stroke-linejoin="round"/>
<path d="M137.4,143.8 C137.4,143.4 137.2,142.2 137.4,141.4 C137.5,140.6 137.7,139.8 138.1,139.1 C138.5,138.5 139.4,137.9 139.7,137.4 C140.0,136.9 139.9,136.4 140.0,136.2" fill="none" stroke="#404040" stroke-width="1.31" stroke-linecap="round" stroke-linejoin="round"/>
<path d="M134.5,158.6 C134.9,158.6 136.0,158.9 136.8,159.0 C137.6,159.0 138.5,159.1 139.2,159.0 C140.0,158.9 140.8,158.8 141.6,158.5 C142.3,158.2 143.1,157.8 143.6,157.2 C144.1,156.7 144.5,155.8 144.6,155.1 C144.7,154.3 144.4,153.5 144.2,152.7 C144.1,152.0 143.8,151.2 143.5,150.4 C143.2,149.7 142.8,149.0 142.3,148.4 C141.8,147.7 141.1,147.0 140.7,146.6 C140.3,146.2 139.9,145.9 139.8,145.8" fill="none" stroke="#616161" stroke-width="1.04" stroke-linecap="round" stroke-linejoin="round"/>
<path d="M158.8,105.6 C159.1,105.4 160.1,104.7 160.7,104.2 C161.3,103.7 161.9,103.2 162.6,102.7 C163.2,102.2 163.8,101.7 164.6,101.4 C165.3,101.1 166.1,101.0 166.9,101.0 C167.7,101.0 168.5,101.3 169.2,101.5 C170.0,101.7 170.8,101.9 171.5,102.2 C172.3,102.4 173.1,102.5 173.8,102.9 C174.6,103.2 175.2,103.7 175.9,104.1 C176.5,104.6 177.2,105.1 177.8,105.6 C178.4,106.1 179.2,107.0 179.5,107.3" fill="none" stroke="#616161" stroke-width="1.32" stroke-linecap="round" stroke-linejoin="round"/>
<path d="M177.0,125.5 C177.2,125.8 178.1,126.6 178.6,127.2 C179.2,127.8 179.7,128.4 180.2,129.0 C180.6,129.7 181.0,130.5 181.2,131.2 C181.3,132.0 181.3,132.8 181.1,133.6 C181.0,134.4 180.3,135.4 180.1,135.8" fill="none" stroke="#484848" stroke-width="1.06" stroke-linecap="round" stroke-linejoin="round"/>
<path d="M127.6,73.3 C127.3,73.0 126.6,72.0 126.0,71.6 C125.4,71.1 124.6,70.8 123.8,70.6 C123.1,70.4 122.2,70.4 121.4,70.4 C120.6,70.4 119.9,70.7 119.1,70.8 C118.3,70.8 117.5,70.8 116.7,70.9 C115.9,71.0 114.9,71.1 114.3,71.1 C113.7,71.2 113.3,71.2 113.1,71.2" fill="none" stroke="#484848" stroke-width="1.1" stroke-linecap="round" stroke-linejoin="round"/>
<path d="M134.1,155.0 C134.4,155.2 135.4,155.8 136.2,156.1 C136.9,156.4 137.9,156.9 138.4,156.9 C138.9,156.9 139.3,156.5 139.2,156.0 C139.1,155.6 138.3,154.7 137.8,154.1 C137.3,153.4 136.8,152.8 136.3,152.2 C135.8,151.6 135.3,150.9 134.9,150.2 C134.5,149.6 134.1,148.9 133.8,148.1 C133.5,147.4 133.4,146.5 133.4,145.8 C133.3,145.0 133.5,143.8 133.5,143.4" fill="none" stroke="#3a3a3a" stroke-width="2.0" stroke-linecap="round" stroke-linejoin="round"/>
<path d="M134.1,155.0 C134.4,155.2 135.4,155.8 136.2,156.1 C136.9,156.4 137.9,156.9 138.4,156.9 C138.9,156.9 139.3,156.5 139.2,156.0 C139.1,155.6 138.3,154.7 137.8,154.1 C137.3,153.4 136.8,152.8 136.3,152.2 C135.8,151.6 135.3,150.9 134.9,150.2 C134.5,149.6 134.1,148.9 133.8,148.1 C133.5,147.4 133.4,146.5 133.4,145.8 C133.3,145.0 133.5,143.8 133.5,143.4" fill="none" stroke="#8c8c8c" stroke-width="0.70" stroke-linecap="round" stroke-linejoin="round"/>
<path d="M144.5,87.0 C144.9,86.8 146.0,86.5 146.8,86.2 C147.5,86.0 148.2,85.5 149.0,85.3 C149.7,85.0 150.5,84.7 151.2,84.6 C152.0,84.4 152.9,84.4 153.6,84.5 C154.4,84.5 155.4,84.8 156.0,85.0 C156.6,85.1 156.9,85.3 157.1,85.4" fill="none" stroke="#404040" stroke-width="0.99" stroke-linecap="round" stroke-linejoin="round"/>
<path d="M219.6,125.8 C219.2,125.6 218.2,125.0 217.5,124.6 C216.8,124.2 216.0,123.9 215.5,123.3 C215.0,122.7 215.0,121.7 214.4,121.2 C213.9,120.6 213.1,120.2 212.3,120.1 C211.6,119.9 210.7,120.1 209.9,120.3 C209.2,120.5 208.4,120.6 207.8,121.0 C207.2,121.4 206.7,122.2 206.2,122.8 C205.6,123.3 205.0,123.8 204.5,124.4 C203.9,125.0 203.4,125.6 203.0,126.3 C202.6,127.0 202.2,128.0 202.0,128.5 C201.8,129.1 201.9,129.5 201.8,129.7" fill="none" stroke="#404040" stroke-width="1.01" stroke-linecap="round" stroke-linejoin="round"/>
<path d="M53.0,157.1 C53.0,157.5 53.3,159.0 52.9,159.5 C52.5,160.0 50.6,160.1 50.5,159.9 C50.5,159.8 51.9,159.1 52.5,158.6 C53.2,158.2 53.8,157.7 54.4,157.1 C55.0,156.6 55.5,156.0 56.1,155.5 C56.7,154.9 57.3,154.3 57.9,153.9 C58.6,153.5 59.4,153.1 60.1,152.9 C60.9,152.7 61.7,152.7 62.5,152.8 C63.3,152.9 64.4,153.4 64.8,153.5" fill="none" stroke="#4b4b4b" stroke-width="1.47" stroke-linecap="round" stroke-linejoin="round"/>
<path d="M219.2,121.2 C219.4,120.8 219.9,119.8 220.4,119.1 C220.9,118.5 221.4,117.9 222.0,117.3 C222.5,116.8 223.2,116.2 223.8,115.7 C224.4,115.2 225.1,114.8 225.7,114.3 C226.3,113.7 226.9,113.2 227.4,112.6 C227.8,111.9 228.3,111.2 228.5,110.5 C228.7,109.7 228.6,108.8 228.3,108.1 C228.1,107.4 227.6,106.6 227.1,106.1 C226.6,105.5 225.7,104.9 225.2,104.6 C224.7,104.4 224.2,104.4 224.0,104.3" fill="none" stroke="#565656" stroke-width="1.01" stroke-linecap="round" stroke-linejoin="round"/>
<path d="M173.9,136.2 C173.5,136.2 172.4,136.6 171.6,136.5 C170.8,136.5 169.9,136.3 169.2,136.0 C168.6,135.6 167.9,135.0 167.5,134.4 C167.1,133.7 166.8,132.5 166.7,132.1" fill="none" stroke="#404040" stroke-width="1.34" stroke-linecap="round" stroke-linejoin="round"/>
<path d="M63.4,96.5 C63.4,96.9 63.7,98.1 63.5,98.9 C63.3,99.6 62.9,100.3 62.4,101.0 C62.0,101.6 61.4,102.2 60.8,102.8 C60.2,103.3 59.5,103.7 58.8,104.1 C58.1,104.5 57.4,104.9 56.7,105.2 C55.9,105.5 55.1,105.7 54.4,105.9 C53.6,106.0 52.4,106.1 52.0,106.2" fill="none" stroke="#404040" stroke-width="1.39" stroke-linecap="round" stroke-linejoin="round"/>
<path d="M171.6,115.9 C171.6,115.5 171.4,114.3 171.5,113.5 C171.5,112.7 171.6,111.9 171.8,111.1 C172.0,110.4 172.4,109.6 172.8,108.9 C173.1,108.2 173.5,107.5 173.9,106.8 C174.4,106.1 174.8,105.5 175.3,104.8 C175.7,104.1 176.1,103.5 176.5,102.8 C176.9,102.1 177.4,101.0 177.5,100.6" fill="none" stroke="#484848" stroke-width="1.56" stroke-linecap="round" stroke-linejoin="round"/>
<path d="M170.7,140.3 C170.9,140.6 171.7,141.5 172.1,142.2 C172.4,142.9 172.7,143.8 172.7,144.5 C172.7,145.3 172.4,146.1 172.0,146.8 C171.6,147.5 171.0,148.2 170.4,148.6 C169.8,149.0 168.7,149.3 168.2,149.4 C167.6,149.5 167.2,149.2 167.0,149.2" fill="none" stroke="#4b4b4b" stroke-width="1.19" stroke-linecap="round" stroke-linejoin="round"/>
<path d="M100.0,80.4 C100.4,80.4 101.6,80.2 102.4,80.2 C103.2,80.1 104.0,80.0 104.8,80.1 C105.6,80.1 106.4,80.3 107.1,80.6 C107.8,80.8 108.7,81.2 109.2,81.8 C109.6,82.4 109.9,83.3 109.9,84.1 C109.9,84.8 109.3,85.6 109.1,86.3 C108.9,87.1 109.1,88.1 108.7,88.7 C108.4,89.3 107.9,89.6 107.2,89.8 C106.6,90.0 105.2,89.9 104.8,90.0" fill="none" stroke="#404040" stroke-width="1.0" stroke-linecap="round" stroke-linejoin="round"/>
<path d="M140.4,84.6 C140.2,84.9 139.8,86.1 139.4,86.8 C139.0,87.5 138.5,88.1 138.1,88.8 C137.6,89.4 137.0,90.0 136.6,90.7 C136.2,91.3 135.7,92.0 135.5,92.8 C135.2,93.5 135.0,94.3 135.0,95.1 C134.9,95.9 135.0,96.8 135.3,97.5 C135.6,98.2 136.1,99.1 136.7,99.4 C137.3,99.7 138.5,99.5 139.1,99.4 C139.7,99.4 140.1,99.3 140.3,99.3" fill="none" stroke="#404040" stroke-width="0.93" stroke-linecap="round" stroke-linejoin="round"/>
<path d="M153.5,104.3 C153.3,104.0 152.5,103.1 152.2,102.3 C152.0,101.6 152.2,100.7 152.2,99.9 C152.2,99.1 152.3,98.3 152.2,97.5 C152.1,96.8 151.9,95.9 151.5,95.2 C151.2,94.5 150.6,93.9 150.2,93.2 C149.8,92.6 149.3,91.9 148.9,91.2 C148.5,90.5 148.1,89.8 147.8,89.1 C147.5,88.4 147.3,87.6 147.0,86.8 C146.7,86.1 146.5,85.3 146.2,84.6 C145.9,83.8 145.5,82.9 145.3,82.4 C145.1,81.8 145.0,81.4 144.9,81.2" fill="none" stroke="#4b4b4b" stroke-width="1.21" stroke-linecap="round" stroke-linejoin="round"/>
<path d="M60.4,96.2 C60.4,95.8 60.3,94.6 60.2,93.8 C60.2,93.0 60.2,92.2 60.3,91.4 C60.4,90.6 60.5,89.8 60.6,89.0 C60.7,88.2 60.8,87.4 60.9,86.6 C61.1,85.8 61.2,85.0 61.5,84.3 C61.7,83.5 62.0,82.7 62.4,82.1 C62.8,81.4 63.3,80.6 64.0,80.3 C64.7,80.0 66.0,80.1 66.4,80.0" fill="none" stroke="#4b4b4b" stroke-width="1.3" stroke-linecap="round" stroke-linejoin="round"/>
<path d="M58.5,110.6 C58.9,110.5 60.1,110.3 60.8,110.2 C61.6,110.1 62.4,110.0 63.2,110.0 C64.0,109.9 64.8,109.9 65.6,109.9 C66.4,109.9 67.2,109.7 68.0,109.7 C68.8,109.7 69.6,109.8 70.4,109.9 C71.2,110.0 72.0,110.1 72.8,110.1 C73.6,110.2 74.4,110.1 75.2,110.1 C76.0,110.2 77.2,110.2 77.6,110.2" fill="none" stroke="#565656" stroke-width="1.53" stroke-linecap="round" stroke-linejoin="round"/>
<path d="M149.9,129.4 C149.5,129.5 148.4,129.7 147.6,129.6 C146.8,129.6 146.1,129.1 145.3,128.9 C144.6,128.6 143.8,128.4 143.0,128.2 C142.3,127.9 141.5,127.7 140.7,127.5 C140.0,127.2 139.2,126.9 138.5,126.7 C137.7,126.4 136.9,126.2 136.2,126.0 C135.4,125.8 134.6,125.7 133.9,125.4 C133.1,125.1 132.1,124.4 131.8,124.2" fill="none" stroke="#4b4b4b" stroke-width="1.16" stroke-linecap="round" stroke-linejoin="round"/>
<path d="M81.6,134.1 C82.0,134.3 83.1,134.7 83.8,135.1 C84.4,135.6 84.9,136.3 85.4,136.9 C85.9,137.5 86.2,138.2 86.8,138.9 C87.3,139.5 88.1,140.3 88.4,140.6" fill="none" stroke="#616161" stroke-width="1.24" stroke-linecap="round" stroke-linejoin="round"/>
<path d="M107.9,158.9 C107.5,158.8 106.4,158.5 105.6,158.3 C104.8,158.2 104.0,158.2 103.2,158.0 C102.4,157.9 101.7,157.6 100.9,157.4 C100.1,157.2 99.4,157.0 98.6,156.8 C97.8,156.6 97.0,156.4 96.2,156.3 C95.5,156.2 94.2,156.1 93.9,156.1" fill="none" stroke="#4b4b4b" stroke-width="1.14" stroke-linecap="round" stroke-linejoin="round"/>
<path d="M175.6,119.3 C176.0,119.1 177.1,118.7 177.8,118.4 C178.5,118.0 179.3,117.7 180.0,117.3 C180.7,116.9 181.4,116.5 182.0,116.0 C182.5,115.4 183.0,114.7 183.2,113.9 C183.4,113.2 183.3,112.3 183.0,111.6 C182.7,110.9 182.1,110.2 181.4,109.9 C180.8,109.5 179.8,109.4 179.1,109.6 C178.3,109.7 177.6,110.3 177.1,110.8 C176.6,111.4 176.2,112.2 176.0,113.0 C175.8,113.7 175.8,114.9 175.7,115.3" fill="none" stroke="#404040" stroke-width="1.24" stroke-linecap="round" stroke-linejoin="round"/>
<path d="M189.5,152.5 C189.9,152.3 190.9,151.5 191.6,151.4 C192.4,151.3 193.3,151.4 194.0,151.7 C194.6,152.0 195.3,152.6 195.8,153.2 C196.3,153.8 196.6,154.6 196.9,155.3 C197.2,156.1 197.1,157.0 197.4,157.7 C197.6,158.4 197.9,159.6 198.3,159.7 C198.7,159.9 199.6,159.2 199.8,158.6 C200.0,158.0 199.7,157.1 199.5,156.3 C199.4,155.5 199.0,154.8 198.8,154.0 C198.6,153.2 198.3,152.1 198.2,151.7" fill="none" stroke="#4b4b4b" stroke-width="0.75" stroke-linecap="round" stroke-linejoin="round"/>
<path d="M43.8,137.6 C44.1,137.8 45.1,138.6 45.6,139.1 C46.2,139.7 46.7,140.4 47.1,141.0 C47.6,141.7 48.0,142.4 48.4,143.1 C48.7,143.8 49.1,144.5 49.3,145.3 C49.4,146.0 49.3,146.9 49.1,147.6 C48.8,148.4 47.9,149.3 47.7,149.6" fill="none" stroke="#565656" stroke-width="1.25" stroke-linecap="round" stroke-linejoin="round"/>
<path d="M139.2,129.5 C139.6,129.5 140.9,129.6 141.6,129.3 C142.3,129.0 143.0,128.5 143.6,128.0 C144.2,127.5 144.7,126.8 145.2,126.2 C145.6,125.5 145.9,124.8 146.2,124.0 C146.4,123.2 146.8,122.3 146.7,121.6 C146.6,121.0 146.2,120.5 145.6,120.2 C145.0,119.9 144.0,120.0 143.2,120.0 C142.4,120.0 141.6,120.2 140.8,120.2 C140.0,120.3 139.0,120.3 138.4,120.3 C137.8,120.2 137.4,120.2 137.2,120.2" fill="none" stroke="#565656" stroke-width="1.37" stroke-linecap="round" stroke-linejoin="round"/>
<path d="M144.2,150.0 C144.1,149.6 143.9,148.3 143.6,147.6 C143.2,146.9 142.7,146.3 142.1,145.7 C141.5,145.2 140.8,144.8 140.1,144.4 C139.4,144.0 138.7,143.6 137.9,143.4 C137.2,143.2 136.3,143.0 135.6,143.1 C134.8,143.1 133.8,143.5 133.3,143.8 C132.8,144.1 132.6,144.5 132.5,144.7" fill="none" stroke="#404040" stroke-width="1.02" stroke-linecap="round" stroke-linejoin="round"/>
<path d="M178.6,90.9 C178.9,90.6 179.7,89.8 180.2,89.1 C180.6,88.4 181.0,87.7 181.2,86.9 C181.3,86.1 181.4,85.3 181.1,84.5 C180.9,83.8 180.3,83.1 179.7,82.6 C179.1,82.2 178.3,81.8 177.5,81.7 C176.8,81.7 175.9,82.0 175.3,82.4 C174.6,82.8 174.1,83.5 173.7,84.2 C173.4,84.9 173.4,86.1 173.3,86.5" fill="none" stroke="#616161" stroke-width="1.14" stroke-linecap="round" stroke-linejoin="round"/>
<path d="M87.5,144.5 C87.1,144.3 85.9,144.1 85.2,143.7 C84.5,143.4 83.7,143.0 83.2,142.4 C82.7,141.8 82.3,141.0 82.1,140.3 C81.8,139.6 81.8,138.7 81.8,137.9 C81.7,137.1 81.8,136.3 81.9,135.5 C82.0,134.7 82.1,133.9 82.5,133.2 C82.8,132.5 83.5,131.9 84.2,131.6 C84.8,131.2 85.7,131.2 86.5,131.3 C87.3,131.3 88.3,131.8 88.8,131.8 C89.4,131.9 89.7,131.8 89.8,131.3 C89.9,130.8 89.6,129.3 89.5,128.9" fill="none" stroke="#484848" stroke-width="1.13" stroke-linecap="round" stroke-linejoin="round"/>
<path d="M56.2,121.9 C55.8,121.9 54.6,121.9 53.8,121.9 C53.0,121.9 52.1,122.0 51.4,121.9 C50.6,121.7 49.8,121.4 49.1,121.1 C48.4,120.7 47.7,120.3 47.1,119.8 C46.5,119.3 45.9,118.7 45.4,118.1 C44.9,117.5 44.4,116.8 44.0,116.1 C43.6,115.4 43.2,114.7 42.9,114.0 C42.7,113.2 42.5,112.4 42.4,111.6 C42.3,110.9 42.5,109.8 42.5,109.3 C42.6,108.7 42.6,108.3 42.7,108.1" fill="none" stroke="#565656" stroke-width="1.16" stroke-linecap="round" stroke-linejoin="round"/>
<path d="M60.0,105.2 C60.1,105.6 60.3,106.8 60.7,107.5 C61.0,108.3 61.3,109.0 61.9,109.6 C62.4,110.2 63.1,110.6 63.9,110.9 C64.6,111.2 65.5,111.3 66.2,111.2 C67.0,111.1 67.8,110.7 68.4,110.2 C69.0,109.8 69.7,108.7 69.9,108.4" fill="none" stroke="#404040" stroke-width="1.34" stroke-linecap="round" stroke-linejoin="round"/>
<path d="M33.7,107.4 C33.7,107.0 33.9,105.8 34.0,105.0 C34.0,104.2 34.0,103.4 34.0,102.6 C33.9,101.8 33.9,101.0 33.8,100.2 C33.8,99.4 33.8,98.6 33.6,97.8 C33.5,97.0 33.3,96.2 32.9,95.5 C32.6,94.9 31.8,94.4 31.4,93.7 C30.9,93.1 30.6,92.1 30.4,91.8" fill="none" stroke="#4b4b4b" stroke-width="1.03" stroke-linecap="round" stroke-linejoin="round"/>
<path d="M189.1,136.8 C189.3,137.1 190.1,138.1 190.5,138.8 C190.8,139.5 191.0,140.3 191.3,141.0 C191.5,141.8 191.7,142.6 192.0,143.3 C192.3,144.1 192.8,144.7 193.3,145.4 C193.7,146.0 194.2,146.7 194.7,147.3 C195.3,147.9 195.9,148.3 196.6,148.8 C197.2,149.2 197.9,149.8 198.7,149.9 C199.4,150.0 200.3,149.6 201.0,149.5 C201.8,149.3 203.0,149.0 203.4,148.9" fill="none" stroke="#565656" stroke-width="0.96" stroke-linecap="round" stroke-linejoin="round"/>
<path d="M148.0,58.4 C147.7,58.5 146.5,58.9 145.8,59.3 C145.1,59.6 144.5,60.2 143.9,60.7 C143.3,61.3 142.8,61.9 142.4,62.6 C142.0,63.2 141.7,64.0 141.5,64.8 C141.2,65.5 141.1,66.3 141.0,67.1 C140.9,67.9 140.9,68.7 140.9,69.5 C140.8,70.3 140.8,71.1 140.9,71.9 C141.0,72.7 141.3,73.7 141.4,74.3 C141.6,74.8 141.7,75.2 141.8,75.4" fill="none" stroke="#565656" stroke-width="1.11" stroke-linecap="round" stroke-linejoin="round"/>
<path d="M185.4,153.1 C185.4,153.5 185.4,154.7 185.7,155.5 C185.9,156.2 186.3,157.0 186.6,157.7 C187.0,158.4 187.5,159.4 188.0,159.7 C188.4,159.9 188.9,159.3 189.1,159.2" fill="none" stroke="#404040" stroke-width="1.06" stroke-linecap="round" stroke-linejoin="round"/>
<path d="M62.2,99.8 C62.4,100.1 63.2,101.1 63.8,101.5 C64.5,102.0 65.2,102.4 65.9,102.8 C66.6,103.2 67.3,103.5 68.0,103.9 C68.7,104.3 69.3,104.8 69.9,105.4 C70.5,105.9 71.1,106.4 71.7,107.0 C72.3,107.5 72.8,108.1 73.4,108.6 C74.0,109.1 74.8,109.6 75.3,110.1 C75.8,110.7 76.4,111.4 76.6,112.1 C76.8,112.9 76.8,113.8 76.6,114.5 C76.4,115.3 75.6,116.2 75.4,116.6" fill="none" stroke="#565656" stroke-width="1.35" stroke-linecap="round" stroke-linejoin="round"/>
<path d="M70.9,155.5 C70.6,155.4 69.4,155.0 68.6,154.9 C67.9,154.7 67.1,154.6 66.3,154.5 C65.5,154.4 64.7,154.2 63.9,154.0 C63.2,153.8 62.4,153.5 61.6,153.3 C60.9,153.2 60.1,153.0 59.3,152.9 C58.5,152.9 57.5,152.9 56.9,152.9 C56.3,153.0 55.9,153.1 55.7,153.2" fill="none" stroke="#616161" stroke-width="1.35" stroke-linecap="round" stroke-linejoin="round"/>
<path d="M194.5,118.3 C194.5,117.9 194.5,116.7 194.5,115.9 C194.5,115.1 194.5,114.3 194.5,113.5 C194.5,112.7 194.5,111.9 194.5,111.1 C194.4,110.3 194.3,109.5 194.2,108.7 C194.1,107.9 193.9,107.1 193.7,106.3 C193.5,105.5 193.4,104.7 193.0,104.0 C192.6,103.3 191.7,102.5 191.5,102.2" fill="none" stroke="#404040" stroke-width="1.3" stroke-linecap="round" stroke-linejoin="round"/>
<path d="M174.6,138.8 C174.5,138.4 174.5,137.2 174.2,136.5 C173.9,135.8 173.2,135.2 172.7,134.6 C172.2,134.0 171.5,133.3 171.1,132.9 C170.7,132.4 170.5,132.1 170.3,131.9" fill="none" stroke="#616161" stroke-width="1.32" stroke-linecap="round" stroke-linejoin="round"/>
<path d="M138.5,134.4 C138.1,134.6 137.0,135.0 136.3,135.4 C135.6,135.8 135.0,136.3 134.3,136.8 C133.7,137.3 132.9,137.9 132.5,138.3 C132.1,138.7 131.9,139.1 131.8,139.3" fill="none" stroke="#404040" stroke-width="1.1" stroke-linecap="round" stroke-linejoin="round"/>
<path d="M56.2,122.6 C56.1,123.0 55.6,124.1 55.5,124.8 C55.4,125.6 55.5,126.5 55.8,127.2 C56.0,127.9 56.4,128.9 57.0,129.3 C57.5,129.6 58.5,129.3 59.2,129.3 C60.0,129.3 60.8,129.0 61.6,129.0 C62.4,129.0 63.2,129.0 64.0,129.1 C64.8,129.3 65.6,129.5 66.3,129.8 C67.1,130.0 67.9,130.3 68.5,130.8 C69.1,131.2 69.9,132.2 70.1,132.5" fill="none" stroke="#484848" stroke-width="1.28" stroke-linecap="round" stroke-linejoin="round"/>
<path d="M98.7,103.7 C98.4,103.4 97.7,102.4 97.1,101.8 C96.6,101.3 95.9,100.8 95.2,100.4 C94.6,99.9 93.9,99.5 93.2,99.2 C92.5,98.8 91.4,98.5 91.0,98.2 C90.5,97.9 90.5,97.3 90.5,97.1" fill="none" stroke="#484848" stroke-width="1.19" stroke-linecap="round" stroke-linejoin="round"/>
<path d="M186.8,138.4 C186.6,138.1 186.1,136.9 185.5,136.4 C185.0,135.8 184.3,135.3 183.6,135.0 C182.8,134.7 182.0,134.5 181.2,134.4 C180.5,134.4 179.6,134.4 178.9,134.6 C178.1,134.8 177.4,135.3 176.8,135.8 C176.3,136.4 175.8,137.1 175.5,137.8 C175.3,138.6 175.1,139.5 175.2,140.2 C175.3,141.0 175.7,141.8 176.2,142.4 C176.7,142.9 177.7,143.0 178.3,143.4 C178.9,143.8 179.5,144.4 179.8,144.5" fill="none" stroke="#616161" stroke-width="1.51" stroke-linecap="round" stroke-linejoin="round"/>
<path d="M83.2,64.7 C82.9,64.5 82.0,63.7 81.5,63.1 C81.0,62.4 80.4,61.7 80.4,61.0 C80.3,60.2 80.8,59.4 81.1,58.7 C81.5,58.0 82.0,57.3 82.5,56.7 C83.0,56.1 83.9,55.4 84.2,55.1" fill="none" stroke="#404040" stroke-width="0.71" stroke-linecap="round" stroke-linejoin="round"/>
<path d="M160.5,124.6 C160.9,124.5 162.0,124.0 162.8,123.8 C163.6,123.6 164.4,123.4 165.1,123.4 C165.9,123.3 166.7,123.4 167.5,123.4 C168.3,123.4 169.1,123.5 169.9,123.5 C170.7,123.6 171.5,123.6 172.3,123.7 C173.1,123.8 173.9,123.9 174.7,124.0 C175.5,124.2 176.5,124.3 177.1,124.4 C177.7,124.5 178.1,124.4 178.3,124.4" fill="none" stroke="#4b4b4b" stroke-width="1.3" stroke-linecap="round" stroke-linejoin="round"/>
<path d="M147.0,51.7 C146.7,51.4 145.9,50.4 145.2,50.1 C144.5,49.9 143.6,50.1 142.8,50.1 C142.0,50.1 140.7,49.8 140.4,50.1 C140.1,50.5 140.6,51.6 140.9,52.3 C141.2,53.0 141.8,53.6 142.3,54.2 C142.8,54.9 143.3,55.5 143.9,56.0 C144.5,56.5 145.4,57.1 145.9,57.4 C146.4,57.8 146.7,57.9 146.9,58.0" fill="none" stroke="#4b4b4b" stroke-width="1.21" stroke-linecap="round" stroke-linejoin="round"/>
<path d="M61.2,96.3 C61.6,96.5 62.5,97.3 63.3,97.5 C64.0,97.7 64.9,97.6 65.7,97.5 C66.5,97.4 67.3,97.2 68.0,96.8 C68.7,96.5 69.4,95.9 69.8,95.3 C70.3,94.7 70.7,93.7 70.9,93.2 C71.0,92.6 70.9,92.2 70.9,92.0" fill="none" stroke="#616161" stroke-width="1.44" stroke-linecap="round" stroke-linejoin="round"/>
<path d="M197.8,69.8 C197.7,69.4 197.3,68.3 196.9,67.6 C196.4,67.0 195.8,66.4 195.2,65.9 C194.5,65.5 193.8,65.1 193.0,64.9 C192.2,64.8 191.0,65.5 190.6,65.2 C190.2,64.9 190.5,63.5 190.5,63.0 C190.6,62.4 190.8,62.0 190.9,61.8" fill="none" stroke="#616161" stroke-width="0.68" stroke-linecap="round" stroke-linejoin="round"/>
<path d="M19.4,128.1 C19.1,127.9 17.8,127.6 17.2,127.1 C16.6,126.6 16.1,125.9 15.8,125.2 C15.6,124.5 15.5,123.6 15.6,122.8 C15.7,122.1 16.1,121.3 16.4,120.6 C16.7,119.8 17.0,119.1 17.4,118.4 C17.9,117.7 18.4,117.1 19.0,116.6 C19.6,116.0 20.4,115.5 20.9,115.1 C21.4,114.8 21.7,114.6 21.9,114.5" fill="none" stroke="#4b4b4b" stroke-width="1.05" stroke-linecap="round" stroke-linejoin="round"/>
<path d="M164.5,99.8 C164.5,100.2 164.3,101.4 164.5,102.2 C164.7,102.9 165.1,103.7 165.7,104.3 C166.2,104.8 167.0,105.3 167.7,105.4 C168.5,105.6 169.4,105.4 170.1,105.1 C170.7,104.7 171.3,104.0 171.7,103.4 C172.1,102.7 172.3,101.5 172.5,101.1" fill="none" stroke="#484848" stroke-width="1.44" stroke-linecap="round" stroke-linejoin="round"/>
<path d="M172.0,150.2 C171.6,150.1 170.4,149.8 169.6,149.8 C168.8,149.7 168.0,149.8 167.3,150.0 C166.5,150.2 165.7,150.5 165.0,150.9 C164.3,151.3 163.7,151.8 163.1,152.4 C162.5,152.9 162.0,153.5 161.6,154.2 C161.1,154.9 160.8,155.6 160.6,156.4 C160.3,157.1 160.2,158.1 160.2,158.7 C160.1,159.3 160.2,159.7 160.2,159.9" fill="none" stroke="#4b4b4b" stroke-width="1.3" stroke-linecap="round" stroke-linejoin="round"/>
<path d="M39.4,119.9 C39.1,119.6 38.0,118.9 37.6,118.2 C37.2,117.6 37.0,116.7 37.0,115.9 C36.9,115.2 37.1,114.3 37.3,113.6 C37.5,112.8 37.9,112.1 38.1,111.3 C38.3,110.6 38.5,109.8 38.7,109.0 C39.0,108.2 39.2,107.5 39.4,106.7 C39.6,105.9 39.9,105.0 40.0,104.4 C40.2,103.8 40.3,103.4 40.3,103.2" fill="none" stroke="#4b4b4b" stroke-width="1.43" stroke-linecap="round" stroke-linejoin="round"/>
<path d="M51.8,118.4 C51.5,118.7 50.6,119.6 49.9,119.9 C49.3,120.3 48.4,120.5 47.7,120.7 C46.9,120.8 46.1,120.9 45.3,120.9 C44.5,120.9 43.3,120.8 42.9,120.7" fill="none" stroke="#404040" stroke-width="1.31" stroke-linecap="round" stroke-linejoin="round"/>
<path d="M65.5,169.2 C65.4,168.8 64.9,167.7 64.7,166.9 C64.6,166.2 64.6,165.3 64.6,164.5 C64.6,163.7 64.5,162.9 64.7,162.2 C64.9,161.4 65.3,160.6 65.8,160.0 C66.3,159.5 67.0,159.0 67.8,158.7 C68.5,158.5 69.4,158.4 70.1,158.5 C70.9,158.6 71.8,158.8 72.4,159.2 C73.1,159.6 73.9,160.5 74.1,160.8" fill="none" stroke="#404040" stroke-width="1.13" stroke-linecap="round" stroke-linejoin="round"/>
<path d="M52.1,119.9 C51.8,120.1 50.8,120.8 50.1,121.1 C49.4,121.5 48.6,121.8 47.8,122.0 C47.1,122.2 46.3,122.3 45.5,122.5 C44.8,122.8 44.0,123.1 43.3,123.5 C42.6,123.9 42.0,124.3 41.3,124.8 C40.7,125.3 39.9,125.9 39.4,126.3 C38.9,126.6 38.7,127.0 38.6,127.1" fill="none" stroke="#3a3a3a" stroke-width="2.1100000000000003" stroke-linecap="round" stroke-linejoin="round"/>
<path d="M52.1,119.9 C51.8,120.1 50.8,120.8 50.1,121.1 C49.4,121.5 48.6,121.8 47.8,122.0 C47.1,122.2 46.3,122.3 45.5,122.5 C44.8,122.8 44.0,123.1 43.3,123.5 C42.6,123.9 42.0,124.3 41.3,124.8 C40.7,125.3 39.9,125.9 39.4,126.3 C38.9,126.6 38.7,127.0 38.6,127.1" fill="none" stroke="#8c8c8c" stroke-width="0.81" stroke-linecap="round" stroke-linejoin="round"/>
<path d="M66.5,85.5 C66.2,85.7 65.2,86.4 64.5,86.7 C63.7,86.9 62.8,87.1 62.1,87.0 C61.4,86.8 60.5,86.4 60.1,85.9 C59.8,85.3 60.1,84.3 60.1,83.5 C60.1,82.7 59.8,81.6 60.2,81.1 C60.6,80.5 61.6,80.4 62.3,80.3 C63.1,80.3 63.9,80.5 64.5,80.8 C65.2,81.2 65.8,81.9 66.5,82.3 C67.2,82.7 68.3,83.0 68.7,83.2" fill="none" stroke="#616161" stroke-width="1.05" stroke-linecap="round" stroke-linejoin="round"/>
<path d="M150.4,156.8 C150.6,157.1 151.8,158.3 151.9,158.7 C152.0,159.1 151.3,159.6 151.1,159.5 C150.9,159.3 150.5,158.4 150.4,157.7 C150.4,157.0 150.9,156.2 151.0,155.4 C151.1,154.6 151.2,153.7 151.0,153.0 C150.9,152.2 150.3,151.5 150.2,150.8 C150.0,150.0 150.4,149.2 150.3,148.4 C150.2,147.6 150.0,146.8 149.6,146.1 C149.3,145.4 148.4,144.5 148.2,144.2" fill="none" stroke="#484848" stroke-width="1.21" stroke-linecap="round" stroke-linejoin="round"/>
<path d="M48.5,95.7 C48.9,95.9 49.9,96.6 50.6,96.8 C51.4,97.0 52.2,97.1 53.0,97.1 C53.8,97.2 54.6,97.2 55.4,97.1 C56.2,97.0 57.0,96.8 57.7,96.5 C58.5,96.3 59.5,95.7 59.9,95.5" fill="none" stroke="#616161" stroke-width="1.18" stroke-linecap="round" stroke-linejoin="round"/>
<path d="M79.4,123.6 C79.1,123.4 78.0,122.8 77.3,122.5 C76.6,122.1 75.9,121.7 75.2,121.3 C74.5,120.9 73.8,120.4 73.2,119.9 C72.6,119.4 72.1,118.8 71.5,118.3 C71.0,117.7 70.5,117.0 69.9,116.4 C69.4,115.9 68.7,115.4 68.1,114.9 C67.5,114.4 66.8,113.9 66.3,113.4 C65.7,112.8 65.0,111.8 64.7,111.5" fill="none" stroke="#484848" stroke-width="1.41" stroke-linecap="round" stroke-linejoin="round"/>
<path d="M82.2,74.3 C82.5,73.9 83.1,72.9 83.6,72.3 C84.0,71.6 84.7,71.0 85.0,70.3 C85.3,69.6 85.6,68.7 85.5,68.0 C85.4,67.3 84.7,66.2 84.5,65.8" fill="none" stroke="#565656" stroke-width="1.39" stroke-linecap="round" stroke-linejoin="round"/>
<path d="M96.2,89.5 C96.5,89.6 97.9,89.8 98.4,90.3 C99.0,90.7 99.3,91.5 99.5,92.2 C99.7,93.0 99.6,93.8 99.6,94.6 C99.5,95.4 99.3,96.2 99.1,97.0 C98.9,97.8 98.6,98.5 98.3,99.3 C98.0,100.0 97.8,100.8 97.5,101.5 C97.2,102.3 96.7,103.3 96.6,103.7" fill="none" stroke="#565656" stroke-width="1.41" stroke-linecap="round" stroke-linejoin="round"/>
<path d="M88.8,125.2 C88.5,125.0 87.6,124.0 86.9,123.8 C86.2,123.6 85.3,123.7 84.5,123.9 C83.8,124.2 83.1,124.7 82.4,125.1 C81.8,125.6 81.2,126.2 80.6,126.7 C80.0,127.2 79.2,127.8 78.7,128.1 C78.2,128.5 77.9,128.7 77.7,128.8" fill="none" stroke="#484848" stroke-width="1.55" stroke-linecap="round" stroke-linejoin="round"/>
<path d="M179.3,120.0 C179.3,120.4 179.4,121.6 179.2,122.3 C179.0,123.1 178.6,123.9 178.1,124.5 C177.6,125.1 176.9,125.6 176.3,126.0 C175.6,126.4 174.8,126.7 174.1,127.1 C173.4,127.5 172.7,127.9 172.1,128.4 C171.5,129.0 171.1,129.7 170.6,130.2 C170.0,130.8 169.4,131.4 168.8,131.8 C168.1,132.2 167.3,132.5 166.6,132.8 C165.8,133.0 164.6,133.2 164.2,133.2" fill="none" stroke="#4b4b4b" stroke-width="1.16" stroke-linecap="round" stroke-linejoin="round"/>
<path d="M192.0,134.9 C192.1,134.5 192.7,133.5 193.1,132.8 C193.5,132.1 193.8,131.3 194.1,130.6 C194.5,129.9 195.0,129.3 195.4,128.6 C195.9,127.9 196.3,127.3 196.7,126.5 C197.0,125.8 197.2,125.0 197.3,124.2 C197.4,123.4 197.6,122.6 197.5,121.8 C197.3,121.1 196.8,120.0 196.6,119.6" fill="none" stroke="#565656" stroke-width="1.36" stroke-linecap="round" stroke-linejoin="round"/>
<path d="M59.7,140.4 C60.1,140.3 61.2,139.9 62.0,139.8 C62.8,139.6 63.6,139.4 64.4,139.5 C65.1,139.5 66.0,139.7 66.7,140.1 C67.3,140.5 68.0,141.0 68.5,141.7 C68.9,142.3 69.2,143.1 69.3,143.9 C69.4,144.6 69.2,145.5 69.0,146.2 C68.7,147.0 68.1,148.0 67.9,148.4" fill="none" stroke="#3a3a3a" stroke-width="2.05" stroke-linecap="round" stroke-linejoin="round"/>
<path d="M59.7,140.4 C60.1,140.3 61.2,139.9 62.0,139.8 C62.8,139.6 63.6,139.4 64.4,139.5 C65.1,139.5 66.0,139.7 66.7,140.1 C67.3,140.5 68.0,141.0 68.5,141.7 C68.9,142.3 69.2,143.1 69.3,143.9 C69.4,144.6 69.2,145.5 69.0,146.2 C68.7,147.0 68.1,148.0 67.9,148.4" fill="none" stroke="#8c8c8c" stroke-width="0.75" stroke-linecap="round" stroke-linejoin="round"/>
<path d="M162.8,94.5 C162.4,94.7 161.2,94.9 160.5,95.2 C159.8,95.5 159.1,95.9 158.4,96.4 C157.8,96.8 157.2,97.4 156.7,98.0 C156.1,98.5 155.6,99.2 155.1,99.8 C154.7,100.5 154.2,101.1 153.8,101.8 C153.4,102.5 153.1,103.2 152.7,104.0 C152.4,104.7 152.0,105.4 151.8,106.2 C151.6,106.9 151.6,107.8 151.7,108.6 C151.7,109.3 151.9,110.2 152.2,110.9 C152.5,111.6 153.2,112.6 153.4,112.9" fill="none" stroke="#404040" stroke-width="1.06" stroke-linecap="round" stroke-linejoin="round"/>
<path d="M117.6,136.6 C117.2,136.4 116.2,135.9 115.4,135.7 C114.6,135.4 113.8,135.2 113.0,135.2 C112.3,135.1 111.4,135.2 110.6,135.3 C109.9,135.4 109.0,135.6 108.3,135.9 C107.6,136.2 106.7,136.7 106.2,137.0 C105.7,137.4 105.5,137.7 105.3,137.8" fill="none" stroke="#4b4b4b" stroke-width="0.87" stroke-linecap="round" stroke-linejoin="round"/>
<path d="M98.7,127.6 C98.4,127.7 97.2,128.1 96.4,128.2 C95.6,128.4 94.8,128.5 94.0,128.5 C93.2,128.6 92.4,128.5 91.6,128.4 C90.8,128.4 90.1,128.3 89.3,128.2 C88.5,128.2 87.7,128.1 86.9,128.2 C86.1,128.2 85.2,128.2 84.5,128.3 C83.7,128.5 82.9,128.9 82.2,129.2 C81.5,129.6 80.8,130.0 80.2,130.5 C79.6,131.1 79.1,131.7 78.7,132.4 C78.3,133.1 78.0,134.2 77.8,134.6" fill="none" stroke="#3a3a3a" stroke-width="2.13" stroke-linecap="round" stroke-linejoin="round"/>
<path d="M98.7,127.6 C98.4,127.7 97.2,128.1 96.4,128.2 C95.6,128.4 94.8,128.5 94.0,128.5 C93.2,128.6 92.4,128.5 91.6,128.4 C90.8,128.4 90.1,128.3 89.3,128.2 C88.5,128.2 87.7,128.1 86.9,128.2 C86.1,128.2 85.2,128.2 84.5,128.3 C83.7,128.5 82.9,128.9 82.2,129.2 C81.5,129.6 80.8,130.0 80.2,130.5 C79.6,131.1 79.1,131.7 78.7,132.4 C78.3,133.1 78.0,134.2 77.8,134.6" fill="none" stroke="#8c8c8c" stroke-width="0.83" stroke-linecap="round" stroke-linejoin="round"/>
<path d="M23.4,126.7 C23.5,126.3 23.6,125.1 23.7,124.3 C23.8,123.5 24.0,122.7 24.2,121.9 C24.4,121.2 24.6,120.4 25.0,119.7 C25.4,119.0 26.2,118.1 26.4,117.7" fill="none" stroke="#565656" stroke-width="1.11" stroke-linecap="round" stroke-linejoin="round"/>
<path d="M219.6,124.6 C219.3,124.3 218.5,123.4 218.0,122.8 C217.5,122.1 216.6,121.2 216.7,120.8 C216.9,120.4 218.4,120.0 218.9,120.3 C219.5,120.5 219.8,122.0 220.0,122.3" fill="none" stroke="#4b4b4b" stroke-width="0.86" stroke-linecap="round" stroke-linejoin="round"/>
<path d="M80.8,72.9 C80.7,72.5 80.2,71.4 80.1,70.6 C79.9,69.8 80.0,69.0 80.1,68.2 C80.2,67.4 80.4,66.6 80.6,65.8 C80.7,65.0 80.8,64.2 80.9,63.5 C81.1,62.7 81.1,61.6 81.2,61.1 C81.4,60.5 81.3,60.2 81.7,60.1 C82.2,59.9 83.5,60.2 84.1,60.2 C84.7,60.3 85.1,60.4 85.3,60.4" fill="none" stroke="#565656" stroke-width="1.18" stroke-linecap="round" stroke-linejoin="round"/>
<path d="M100.8,139.8 C100.9,140.2 101.1,141.3 101.3,142.1 C101.5,142.9 101.9,143.6 102.1,144.4 C102.3,145.1 102.4,145.9 102.6,146.7 C102.8,147.5 102.9,148.3 103.2,149.0 C103.5,149.8 103.9,150.5 104.4,151.1 C104.8,151.8 105.4,152.4 105.9,153.0 C106.5,153.6 107.1,154.1 107.6,154.7 C108.1,155.3 108.5,156.2 108.8,156.8 C109.0,157.3 109.1,157.7 109.2,157.9" fill="none" stroke="#4b4b4b" stroke-width="1.32" stroke-linecap="round" stroke-linejoin="round"/>
<path d="M105.1,100.4 C104.7,100.4 103.5,100.1 102.7,100.2 C101.9,100.3 101.1,100.5 100.5,100.9 C99.8,101.4 99.2,102.0 98.8,102.7 C98.4,103.3 98.2,104.6 98.1,104.9" fill="none" stroke="#616161" stroke-width="1.28" stroke-linecap="round" stroke-linejoin="round"/>
<path d="M46.4,136.6 C46.7,136.9 47.7,137.6 48.3,138.1 C48.8,138.7 49.4,139.2 49.7,139.8 C50.1,140.5 50.3,141.3 50.5,142.1 C50.8,142.9 50.9,143.6 51.0,144.4 C51.2,145.2 51.3,146.0 51.2,146.8 C51.2,147.6 51.0,148.4 50.8,149.2 C50.6,149.9 50.3,150.7 49.9,151.4 C49.5,152.1 49.0,152.7 48.5,153.3 C48.0,154.0 47.2,154.8 46.9,155.2" fill="none" stroke="#484848" stroke-width="1.11" stroke-linecap="round" stroke-linejoin="round"/>
<path d="M102.4,134.3 C102.3,133.9 101.7,132.8 101.4,132.1 C101.0,131.4 100.6,130.7 100.3,130.0 C100.0,129.2 99.7,128.4 99.7,127.7 C99.8,126.9 100.0,126.0 100.5,125.4 C100.9,124.8 101.7,124.3 102.5,124.1 C103.2,123.9 104.1,124.0 104.8,124.3 C105.5,124.6 106.2,125.5 106.5,126.0 C106.8,126.4 106.8,126.9 106.9,127.1" fill="none" stroke="#404040" stroke-width="1.19" stroke-linecap="round" stroke-linejoin="round"/>
<path d="M170.8,157.9 C171.2,157.8 172.3,157.3 173.1,157.2 C173.9,157.2 174.7,157.5 175.4,157.7 C176.2,157.9 177.0,158.1 177.7,158.3 C178.5,158.5 179.3,158.9 180.0,159.1 C180.8,159.2 181.5,159.3 182.3,159.3 C183.1,159.2 183.9,158.9 184.7,158.9 C185.5,158.8 186.3,158.9 187.1,159.0 C187.9,159.0 189.0,159.2 189.5,159.1 C189.9,158.9 189.7,158.1 189.7,157.9" fill="none" stroke="#616161" stroke-width="1.06" stroke-linecap="round" stroke-linejoin="round"/>
<path d="M40.2,92.5 C40.2,92.1 40.2,90.9 40.3,90.1 C40.3,89.3 40.4,88.5 40.5,87.7 C40.7,86.9 40.9,86.1 41.3,85.4 C41.7,84.7 42.2,84.1 42.8,83.5 C43.3,83.0 44.1,82.6 44.6,82.0 C45.2,81.4 45.7,80.8 46.2,80.2 C46.6,79.5 47.1,78.8 47.4,78.1 C47.7,77.4 47.9,76.6 48.1,75.8 C48.2,75.0 48.2,74.2 48.3,73.4 C48.5,72.6 48.6,71.8 49.0,71.1 C49.3,70.4 50.2,69.5 50.4,69.2" fill="none" stroke="#4b4b4b" stroke-width="0.93" stroke-linecap="round" stroke-linejoin="round"/>
<path d="M157.4,158.1 C157.6,158.4 158.3,159.5 158.9,159.9 C159.5,160.3 160.5,160.3 161.2,160.6 C162.0,160.8 162.7,161.3 163.4,161.5 C164.2,161.7 165.0,161.9 165.8,161.9 C166.6,161.9 167.5,161.5 168.1,161.4 C168.7,161.2 169.0,160.9 169.2,160.8" fill="none" stroke="#616161" stroke-width="1.03" stroke-linecap="round" stroke-linejoin="round"/>
<path d="M129.6,62.3 C129.9,62.6 130.6,63.6 131.3,64.0 C131.9,64.5 132.8,64.6 133.5,64.8 C134.3,65.0 135.1,65.1 135.9,65.1 C136.7,65.2 137.5,65.2 138.3,65.1 C139.1,65.0 139.9,64.8 140.6,64.5 C141.4,64.2 142.1,63.7 142.7,63.4 C143.4,63.0 144.1,62.6 144.8,62.1 C145.5,61.7 146.4,61.0 146.8,60.7" fill="none" stroke="#565656" stroke-width="1.11" stroke-linecap="round" stroke-linejoin="round"/>
<path d="M37.0,158.4 C36.7,158.1 35.8,157.3 35.4,156.6 C35.0,155.9 34.7,155.1 34.5,154.4 C34.4,153.6 34.5,152.7 34.7,152.0 C35.0,151.3 35.4,150.5 36.0,150.0 C36.6,149.6 37.7,149.2 38.3,149.3 C38.8,149.5 39.2,150.2 39.3,150.8 C39.4,151.4 38.9,152.6 38.7,153.1 C38.5,153.7 38.2,154.0 38.1,154.2" fill="none" stroke="#565656" stroke-width="1.1" stroke-linecap="round" stroke-linejoin="round"/>
<path d="M107.7,112.3 C107.5,112.0 106.6,111.2 106.2,110.5 C105.8,109.8 105.6,109.0 105.4,108.3 C105.2,107.5 105.1,106.7 105.0,105.9 C104.9,105.1 104.9,104.3 105.0,103.5 C105.2,102.7 105.5,101.8 105.7,101.2 C106.0,100.7 106.3,100.4 106.4,100.2" fill="none" stroke="#4b4b4b" stroke-width="1.16" stroke-linecap="round" stroke-linejoin="round"/>
<path d="M165.6,71.6 C165.5,72.0 165.3,73.2 165.2,74.0 C165.1,74.8 164.9,75.6 164.7,76.4 C164.6,77.1 164.3,77.9 164.2,78.7 C164.1,79.5 164.1,80.3 164.1,81.1 C164.2,81.9 164.4,82.7 164.6,83.4 C164.8,84.2 165.3,85.3 165.4,85.7" fill="none" stroke="#484848" stroke-width="1.17" stroke-linecap="round" stroke-linejoin="round"/>
<path d="M71.4,145.4 C71.4,145.0 71.6,143.8 71.5,143.0 C71.4,142.2 71.4,141.3 71.0,140.7 C70.6,140.0 70.0,139.3 69.4,138.9 C68.7,138.5 67.8,138.3 67.1,138.3 C66.3,138.3 65.4,138.5 64.8,139.0 C64.2,139.4 63.7,140.2 63.5,140.9 C63.3,141.7 63.5,142.7 63.6,143.3 C63.7,143.9 64.0,144.2 64.1,144.4" fill="none" stroke="#616161" stroke-width="1.33" stroke-linecap="round" stroke-linejoin="round"/>
<path d="M98.0,114.5 C97.6,114.4 96.5,114.0 95.7,113.8 C95.0,113.5 94.2,113.2 93.5,112.9 C92.8,112.5 92.2,111.9 91.6,111.4 C90.9,111.0 90.2,110.6 89.5,110.2 C88.8,109.8 87.8,109.2 87.4,109.0" fill="none" stroke="#616161" stroke-width="1.29" stroke-linecap="round" stroke-linejoin="round"/>
<path d="M89.4,72.0 C89.1,71.7 88.4,70.3 87.8,70.2 C87.2,70.1 86.4,71.1 85.8,71.6 C85.2,72.1 84.7,72.7 84.1,73.3 C83.6,73.9 82.9,74.6 82.6,75.1 C82.2,75.6 82.2,76.0 82.1,76.2" fill="none" stroke="#4b4b4b" stroke-width="1.22" stroke-linecap="round" stroke-linejoin="round"/>
<path d="M160.2,142.5 C159.9,142.8 159.1,143.7 158.6,144.3 C158.2,145.0 157.8,145.7 157.5,146.5 C157.2,147.2 157.0,148.0 156.8,148.8 C156.5,149.5 156.4,150.3 156.1,151.1 C155.9,151.8 155.6,152.6 155.4,153.3 C155.1,154.1 154.8,154.9 154.6,155.6 C154.3,156.3 154.0,157.2 153.6,157.8 C153.2,158.5 152.7,159.3 152.1,159.5 C151.6,159.7 150.5,159.5 150.3,159.0 C150.1,158.6 150.8,157.2 150.9,156.9" fill="none" stroke="#565656" stroke-width="1.41" stroke-linecap="round" stroke-linejoin="round"/>
<path d="M131.2,94.4 C131.0,94.1 130.6,93.0 130.3,92.3 C130.1,91.5 130.1,90.7 129.8,89.9 C129.6,89.2 129.2,88.5 129.0,87.7 C128.7,87.0 128.6,86.2 128.4,85.4 C128.3,84.6 128.1,83.8 128.0,83.0 C127.8,82.2 127.7,81.4 127.6,80.7 C127.5,79.9 127.4,79.1 127.1,78.3 C126.9,77.5 126.5,76.8 126.1,76.1 C125.8,75.4 125.4,74.7 124.9,74.1 C124.4,73.5 123.6,72.8 123.2,72.4 C122.8,71.9 122.5,71.7 122.3,71.6" fill="none" stroke="#484848" stroke-width="1.26" stroke-linecap="round" stroke-linejoin="round"/>
<path d="M166.5,90.3 C166.2,90.6 165.5,91.5 164.8,91.9 C164.2,92.4 163.4,92.8 162.7,93.1 C162.0,93.4 161.2,93.5 160.4,93.7 C159.6,93.9 158.8,94.1 158.1,94.3 C157.3,94.5 156.5,94.6 155.7,94.7 C154.9,94.9 154.1,95.1 153.3,95.1 C152.5,95.2 151.7,95.1 150.9,95.2 C150.2,95.3 149.2,95.7 148.6,95.9 C148.1,96.1 147.8,96.3 147.6,96.4" fill="none" stroke="#4b4b4b" stroke-width="1.29" stroke-linecap="round" stroke-linejoin="round"/>
<path d="M54.2,92.4 C54.0,92.0 53.1,90.6 52.8,90.4 C52.6,90.1 52.4,90.4 52.6,90.8 C52.9,91.1 53.8,91.8 54.4,92.4 C54.9,93.0 55.3,93.7 55.8,94.3 C56.3,94.9 57.2,95.8 57.5,96.0" fill="none" stroke="#616161" stroke-width="1.23" stroke-linecap="round" stroke-linejoin="round"/>
<path d="M134.2,79.3 C134.0,79.0 133.3,77.9 133.1,77.2 C132.8,76.4 132.7,75.6 132.6,74.8 C132.5,74.1 132.6,73.2 132.6,72.5 C132.6,71.7 132.6,70.9 132.6,70.1 C132.5,69.3 132.5,68.5 132.3,67.7 C132.2,66.9 131.8,65.9 131.6,65.4 C131.4,64.8 131.0,64.6 130.9,64.4" fill="none" stroke="#616161" stroke-width="1.26" stroke-linecap="round" stroke-linejoin="round"/>
<path d="M128.0,149.0 C127.7,149.1 126.7,149.7 126.0,149.8 C125.2,150.0 124.3,150.1 123.6,150.0 C122.8,149.9 122.1,149.3 121.4,149.1 C120.6,148.9 119.7,148.8 119.0,149.0 C118.2,149.1 117.5,149.5 116.8,150.0 C116.2,150.4 115.6,151.1 115.1,151.6 C114.5,152.2 114.0,152.8 113.4,153.3 C112.8,153.9 112.2,154.4 111.7,155.0 C111.2,155.6 110.8,156.6 110.5,157.0 C110.3,157.3 110.3,157.1 110.2,156.9 C110.2,156.7 110.3,155.9 110.4,155.7" fill="none" stroke="#404040" stroke-width="0.9" stroke-linecap="round" stroke-linejoin="round"/>
<path d="M160.1,89.5 C160.4,89.2 161.4,88.4 161.7,87.7 C162.0,87.0 162.2,86.2 162.1,85.4 C162.1,84.6 161.8,83.8 161.6,83.1 C161.3,82.3 161.1,81.5 160.8,80.8 C160.4,80.1 160.0,79.4 159.5,78.8 C159.0,78.2 158.4,77.6 157.7,77.1 C157.1,76.7 156.1,76.1 155.7,75.8" fill="none" stroke="#565656" stroke-width="1.18" stroke-linecap="round" stroke-linejoin="round"/>
<path d="M169.6,126.4 C169.9,126.6 170.9,127.2 171.5,127.8 C172.0,128.4 172.4,129.1 172.8,129.8 C173.2,130.5 173.4,131.3 173.9,131.9 C174.3,132.6 174.8,133.3 175.4,133.8 C176.0,134.3 177.1,134.7 177.5,134.9" fill="none" stroke="#4b4b4b" stroke-width="1.5" stroke-linecap="round" stroke-linejoin="round"/>
<path d="M62.5,166.7 C62.8,167.0 63.4,168.1 64.0,168.6 C64.6,169.1 65.3,169.7 66.1,169.9 C66.8,170.0 67.6,169.5 68.4,169.3 C69.2,169.1 70.1,168.8 70.7,168.7 C71.3,168.6 71.7,168.6 71.9,168.6" fill="none" stroke="#484848" stroke-width="1.19" stroke-linecap="round" stroke-linejoin="round"/>
<path d="M63.7,113.4 C64.1,113.4 65.4,113.4 66.1,113.2 C66.8,112.9 67.6,112.5 68.1,111.9 C68.6,111.3 68.9,110.5 69.1,109.7 C69.3,109.0 69.4,108.2 69.3,107.4 C69.3,106.6 69.2,105.7 69.0,105.0 C68.7,104.3 68.3,103.5 67.8,102.9 C67.3,102.3 66.6,101.7 65.9,101.4 C65.2,101.1 64.4,101.0 63.6,101.0 C62.8,101.0 62.0,101.3 61.2,101.5 C60.5,101.7 59.5,102.1 59.0,102.3 C58.4,102.5 58.1,102.7 57.9,102.7" fill="none" stroke="#4b4b4b" stroke-width="1.58" stroke-linecap="round" stroke-linejoin="round"/>
<path d="M133.4,111.7 C133.1,111.9 132.0,112.6 131.5,113.1 C130.9,113.7 130.2,114.3 130.2,114.9 C130.2,115.6 131.0,116.4 131.3,117.1 C131.7,117.8 132.0,118.5 132.3,119.2 C132.7,120.0 133.2,120.8 133.5,121.3 C133.7,121.9 133.8,122.3 133.9,122.5" fill="none" stroke="#404040" stroke-width="1.17" stroke-linecap="round" stroke-linejoin="round"/>
<path d="M39.9,106.2 C40.3,106.4 41.2,107.1 41.9,107.6 C42.6,108.0 43.3,108.4 44.0,108.7 C44.8,108.9 45.6,109.2 46.4,109.2 C47.1,109.2 47.9,109.1 48.7,109.0 C49.5,108.8 50.3,108.6 51.1,108.4 C51.9,108.3 52.7,108.2 53.5,108.3 C54.2,108.4 55.4,108.9 55.8,109.0" fill="none" stroke="#404040" stroke-width="1.42" stroke-linecap="round" stroke-linejoin="round"/>
<path d="M64.3,93.8 C64.1,93.5 63.3,92.6 62.7,92.0 C62.1,91.4 61.6,90.5 61.0,90.3 C60.3,90.1 59.5,90.5 58.8,90.8 C58.1,91.1 57.5,91.7 56.8,92.0 C56.1,92.3 55.2,92.6 54.5,92.6 C53.7,92.5 52.9,92.1 52.2,91.8 C51.6,91.4 50.6,90.7 50.3,90.5" fill="none" stroke="#616161" stroke-width="1.29" stroke-linecap="round" stroke-linejoin="round"/>
<path d="M73.3,148.1 C73.7,148.1 74.9,148.1 75.7,148.2 C76.4,148.3 77.3,148.5 78.0,148.7 C78.8,148.9 79.5,149.3 80.2,149.7 C80.9,150.1 81.5,150.6 82.2,151.0 C82.9,151.4 83.5,151.9 84.3,152.2 C85.0,152.4 85.8,152.7 86.6,152.7 C87.4,152.6 88.4,152.3 88.9,152.1 C89.5,151.9 89.8,151.7 90.0,151.6" fill="none" stroke="#404040" stroke-width="1.2" stroke-linecap="round" stroke-linejoin="round"/>
<path d="M190.2,138.5 C190.5,138.7 191.6,139.3 192.4,139.5 C193.1,139.7 193.9,139.7 194.6,139.5 C195.3,139.3 196.0,138.7 196.7,138.3 C197.4,137.9 198.2,137.4 198.8,137.1 C199.3,136.8 199.7,136.7 199.8,136.6" fill="none" stroke="#616161" stroke-width="1.42" stroke-linecap="round" stroke-linejoin="round"/>
<path d="M173.5,124.7 C173.1,124.7 171.9,124.4 171.1,124.5 C170.4,124.6 169.6,125.0 168.9,125.5 C168.3,125.9 167.8,126.6 167.4,127.3 C166.9,127.9 166.7,128.7 166.4,129.4 C166.0,130.2 165.8,130.9 165.5,131.7 C165.1,132.4 164.8,133.1 164.3,133.8 C163.9,134.4 163.2,135.2 162.8,135.6 C162.4,136.0 162.0,136.2 161.8,136.3" fill="none" stroke="#404040" stroke-width="1.32" stroke-linecap="round" stroke-linejoin="round"/>
<path d="M37.6,101.5 C37.9,101.4 39.0,100.9 39.8,100.7 C40.6,100.4 41.3,100.2 42.1,100.0 C42.9,99.8 43.7,99.6 44.4,99.5 C45.2,99.4 46.1,99.4 46.8,99.5 C47.6,99.6 48.5,99.7 49.2,100.0 C49.9,100.4 50.6,101.1 51.0,101.5 C51.4,101.9 51.4,102.4 51.5,102.6" fill="none" stroke="#484848" stroke-width="1.22" stroke-linecap="round" stroke-linejoin="round"/>
<path d="M118.8,161.3 C118.8,161.1 119.5,160.7 119.2,160.3 C119.0,159.9 118.0,159.2 117.3,159.0 C116.5,158.8 115.6,158.9 114.9,159.2 C114.2,159.5 113.7,160.2 113.1,160.7 C112.6,161.3 112.0,162.1 111.6,162.6 C111.2,163.1 111.0,163.4 110.9,163.6" fill="none" stroke="#484848" stroke-width="1.03" stroke-linecap="round" stroke-linejoin="round"/>
<path d="M179.1,117.5 C178.7,117.7 177.7,118.3 176.9,118.5 C176.2,118.7 175.3,118.8 174.5,118.9 C173.8,119.0 172.9,119.1 172.2,119.2 C171.4,119.4 170.6,119.6 169.8,119.8 C169.1,120.0 168.3,120.3 167.6,120.5 C166.8,120.8 165.7,121.3 165.3,121.4" fill="none" stroke="#404040" stroke-width="1.42" stroke-linecap="round" stroke-linejoin="round"/>
<path d="M70.9,158.7 C70.6,158.5 69.5,157.9 68.9,157.4 C68.4,156.8 67.9,156.1 67.7,155.4 C67.5,154.6 67.5,153.7 67.8,153.0 C68.1,152.3 68.7,151.6 69.3,151.2 C69.9,150.8 70.8,150.7 71.6,150.6 C72.4,150.5 73.4,150.6 74.0,150.6 C74.6,150.6 75.0,150.6 75.2,150.6" fill="none" stroke="#4b4b4b" stroke-width="1.32" stroke-linecap="round" stroke-linejoin="round"/>
<path d="M40.2,130.5 C40.4,130.1 40.9,129.0 41.2,128.2 C41.4,127.5 41.6,126.7 41.6,125.9 C41.7,125.1 41.5,124.3 41.4,123.5 C41.3,122.7 41.0,121.9 41.0,121.1 C41.0,120.3 41.0,119.5 41.2,118.8 C41.5,118.0 42.1,117.4 42.6,116.8 C43.1,116.2 43.9,115.8 44.3,115.1 C44.8,114.5 45.1,113.7 45.2,112.9 C45.3,112.2 45.0,111.1 44.9,110.6 C44.8,110.0 44.6,109.6 44.5,109.4" fill="none" stroke="#565656" stroke-width="1.18" stroke-linecap="round" stroke-linejoin="round"/>
<path d="M55.1,118.7 C54.8,119.0 53.6,119.5 53.2,120.1 C52.7,120.7 52.4,121.5 52.2,122.3 C52.0,123.0 52.0,123.9 52.1,124.6 C52.1,125.4 52.4,126.2 52.6,127.0 C52.8,127.8 52.7,128.9 53.2,129.3 C53.7,129.7 55.0,129.2 55.6,129.2 C56.2,129.2 56.6,129.1 56.8,129.1" fill="none" stroke="#4b4b4b" stroke-width="1.56" stroke-linecap="round" stroke-linejoin="round"/>
<path d="M96.6,82.4 C96.4,82.1 96.0,80.9 95.6,80.3 C95.1,79.6 94.7,78.9 94.1,78.4 C93.5,77.8 92.8,77.4 92.0,77.1 C91.3,76.8 90.5,76.6 89.7,76.6 C88.9,76.6 88.1,76.7 87.3,76.9 C86.6,77.2 85.6,77.9 85.3,78.1" fill="none" stroke="#484848" stroke-width="1.18" stroke-linecap="round" stroke-linejoin="round"/>
<path d="M43.3,134.7 C43.0,134.5 41.8,134.0 41.3,133.5 C40.7,132.9 40.1,132.2 40.0,131.4 C40.0,130.7 40.5,129.9 40.9,129.2 C41.3,128.5 41.8,127.9 42.3,127.3 C42.8,126.7 43.5,126.2 44.0,125.5 C44.5,124.9 45.1,124.1 45.4,123.6 C45.7,123.1 45.8,122.7 45.9,122.5" fill="none" stroke="#484848" stroke-width="1.34" stroke-linecap="round" stroke-linejoin="round"/>
<path d="M165.7,149.9 C166.0,150.2 166.8,151.1 167.3,151.7 C167.7,152.3 168.2,153.0 168.6,153.7 C169.0,154.4 169.3,155.2 169.4,155.9 C169.6,156.7 169.9,157.7 169.7,158.3 C169.6,158.9 169.0,159.4 168.4,159.6 C167.8,159.8 166.5,159.6 166.1,159.6" fill="none" stroke="#404040" stroke-width="1.32" stroke-linecap="round" stroke-linejoin="round"/>
<path d="M77.7,146.9 C77.4,147.2 76.5,148.0 75.8,148.4 C75.1,148.8 74.4,149.2 73.7,149.5 C72.9,149.9 72.1,150.1 71.4,150.5 C70.7,150.8 70.0,151.2 69.5,151.8 C68.9,152.3 68.3,153.0 68.0,153.7 C67.7,154.4 67.7,155.3 67.7,156.1 C67.7,156.8 67.8,157.8 68.1,158.4 C68.4,159.0 68.9,159.4 69.6,159.7 C70.2,159.9 71.2,159.8 71.9,159.9 C72.7,160.1 73.6,160.5 74.2,160.7 C74.8,160.8 75.2,160.9 75.4,161.0" fill="none" stroke="#616161" stroke-width="1.48" stroke-linecap="round" stroke-linejoin="round"/>
<path d="M159.9,120.4 C159.6,120.6 158.5,121.1 157.9,121.6 C157.2,122.1 156.7,122.7 156.2,123.3 C155.7,123.9 155.3,124.6 154.9,125.3 C154.6,126.0 154.2,126.8 154.0,127.5 C153.7,128.3 153.6,129.5 153.5,129.9" fill="none" stroke="#404040" stroke-width="1.13" stroke-linecap="round" stroke-linejoin="round"/>
<path d="M120.6,68.9 C120.5,69.3 120.3,70.5 120.2,71.3 C120.2,72.0 120.2,72.9 120.4,73.6 C120.5,74.4 120.8,75.2 121.1,75.9 C121.3,76.7 121.6,77.5 122.0,78.1 C122.4,78.8 122.8,79.7 123.5,79.9 C124.1,80.1 125.1,79.7 125.8,79.5 C126.6,79.3 127.4,79.1 128.1,78.7 C128.8,78.3 129.5,77.8 130.0,77.3 C130.6,76.7 131.1,75.6 131.4,75.3" fill="none" stroke="#4b4b4b" stroke-width="1.14" stroke-linecap="round" stroke-linejoin="round"/>
<path d="M46.1,92.5 C46.5,92.6 47.6,93.2 48.4,93.2 C49.1,93.3 50.0,93.1 50.7,92.9 C51.5,92.7 52.2,92.4 53.0,92.1 C53.7,91.7 54.6,91.2 55.1,90.9 C55.6,90.7 56.0,90.4 56.1,90.3" fill="none" stroke="#404040" stroke-width="1.33" stroke-linecap="round" stroke-linejoin="round"/>
<path d="M50.0,148.4 C50.1,148.8 50.4,149.9 50.8,150.6 C51.1,151.4 51.5,152.1 51.9,152.8 C52.3,153.4 52.9,154.0 53.3,154.7 C53.7,155.4 54.0,156.1 54.5,156.8 C55.0,157.4 55.5,158.1 56.1,158.5 C56.7,159.0 57.5,159.4 58.3,159.6 C59.0,159.7 59.9,159.6 60.5,159.5 C61.0,159.3 61.3,158.9 61.5,158.8" fill="none" stroke="#616161" stroke-width="1.49" stroke-linecap="round" stroke-linejoin="round"/>
<path d="M62.5,66.1 C62.8,65.8 63.3,64.7 63.9,64.2 C64.4,63.6 65.1,63.0 65.8,62.7 C66.5,62.4 67.5,62.6 68.1,62.4 C68.8,62.2 69.8,61.8 69.8,61.5 C69.8,61.2 68.8,60.7 68.2,60.6 C67.5,60.4 66.2,60.8 65.8,60.8" fill="none" stroke="#616161" stroke-width="1.04" stroke-linecap="round" stroke-linejoin="round"/>
<path d="M173.8,147.2 C174.2,147.2 175.4,147.2 176.2,147.0 C176.9,146.8 177.8,146.5 178.4,146.1 C179.0,145.6 179.7,144.9 179.9,144.2 C180.1,143.5 179.6,142.6 179.3,141.9 C179.0,141.2 178.5,140.5 178.0,139.9 C177.4,139.3 176.8,138.8 176.2,138.3 C175.6,137.8 174.9,137.3 174.2,136.9 C173.6,136.5 172.9,136.1 172.1,135.7 C171.4,135.4 170.7,135.0 169.9,134.8 C169.2,134.6 168.4,134.4 167.6,134.4 C166.8,134.3 165.6,134.5 165.2,134.5" fill="none" stroke="#3a3a3a" stroke-width="2.08" stroke-linecap="round" stroke-linejoin="round"/>
<path d="M173.8,147.2 C174.2,147.2 175.4,147.2 176.2,147.0 C176.9,146.8 177.8,146.5 178.4,146.1 C179.0,145.6 179.7,144.9 179.9,144.2 C180.1,143.5 179.6,142.6 179.3,141.9 C179.0,141.2 178.5,140.5 178.0,139.9 C177.4,139.3 176.8,138.8 176.2,138.3 C175.6,137.8 174.9,137.3 174.2,136.9 C173.6,136.5 172.9,136.1 172.1,135.7 C171.4,135.4 170.7,135.0 169.9,134.8 C169.2,134.6 168.4,134.4 167.6,134.4 C166.8,134.3 165.6,134.5 165.2,134.5" fill="none" stroke="#8c8c8c" stroke-width="0.78" stroke-linecap="round" stroke-linejoin="round"/>
<path d="M90.1,157.3 C89.8,157.6 89.0,158.5 88.5,159.1 C88.0,159.7 87.4,160.3 86.9,160.9 C86.4,161.5 85.9,162.4 85.6,162.9 C85.3,163.4 85.2,163.8 85.2,164.0" fill="none" stroke="#565656" stroke-width="1.21" stroke-linecap="round" stroke-linejoin="round"/>
<path d="M75.3,158.7 C75.0,158.8 73.8,159.5 73.1,159.5 C72.3,159.5 71.6,159.0 70.8,158.7 C70.1,158.4 69.5,157.8 68.7,157.6 C68.0,157.3 67.2,157.0 66.4,157.0 C65.7,157.1 64.9,157.6 64.3,158.0 C63.6,158.4 63.1,159.1 62.4,159.3 C61.7,159.5 60.9,159.4 60.1,159.2 C59.4,159.0 58.7,158.5 58.0,158.2 C57.2,157.9 56.1,157.4 55.8,157.2" fill="none" stroke="#404040" stroke-width="1.32" stroke-linecap="round" stroke-linejoin="round"/>
<path d="M29.8,129.0 C29.4,129.0 28.2,129.3 27.4,129.4 C26.7,129.5 25.8,129.9 25.1,129.7 C24.3,129.6 23.7,128.9 23.1,128.4 C22.5,127.9 21.9,127.3 21.3,126.7 C20.8,126.2 20.3,125.5 19.9,124.8 C19.4,124.2 19.0,123.3 18.8,122.7 C18.5,122.2 18.5,121.8 18.5,121.6" fill="none" stroke="#404040" stroke-width="1.17" stroke-linecap="round" stroke-linejoin="round"/>
<path d="M177.1,113.7 C176.7,113.6 175.5,113.4 174.8,113.1 C174.0,112.9 173.3,112.4 172.7,112.0 C172.0,111.5 171.4,111.0 170.8,110.4 C170.2,109.9 169.5,109.2 169.1,108.8 C168.7,108.4 168.5,108.0 168.3,107.9" fill="none" stroke="#565656" stroke-width="1.41" stroke-linecap="round" stroke-linejoin="round"/>
<path d="M92.3,74.0 C92.1,73.7 91.5,72.6 90.9,72.1 C90.4,71.5 89.3,70.9 89.0,70.6 C88.8,70.3 88.8,70.2 89.2,70.2 C89.6,70.3 90.8,70.5 91.5,70.7 C92.3,70.9 93.1,71.1 93.8,71.4 C94.6,71.6 95.4,71.9 96.0,72.3 C96.7,72.7 97.3,73.3 97.8,73.9 C98.4,74.4 99.2,75.4 99.4,75.7" fill="none" stroke="#4b4b4b" stroke-width="1.31" stroke-linecap="round" stroke-linejoin="round"/>
<path d="M96.1,158.3 C96.4,158.6 97.2,159.6 97.5,160.3 C97.8,161.0 97.9,161.9 97.7,162.7 C97.6,163.4 97.3,164.3 96.8,164.8 C96.4,165.4 95.6,165.9 94.8,166.1 C94.1,166.2 93.2,166.2 92.5,165.9 C91.7,165.6 91.0,165.1 90.6,164.4 C90.2,163.8 89.9,162.9 89.9,162.2 C89.9,161.4 90.1,160.6 90.4,159.8 C90.7,159.1 91.2,158.4 91.7,157.8 C92.2,157.2 93.2,156.5 93.5,156.2" fill="none" stroke="#565656" stroke-width="1.07" stroke-linecap="round" stroke-linejoin="round"/>
<path d="M70.7,158.1 C71.1,157.9 72.3,157.6 72.9,157.1 C73.5,156.6 74.0,155.8 74.2,155.1 C74.4,154.4 74.4,153.4 74.1,152.7 C73.8,152.0 73.3,151.3 72.7,150.8 C72.1,150.4 71.0,150.5 70.4,150.1 C69.8,149.7 69.2,148.7 68.8,148.3 C68.4,147.9 68.0,147.6 67.9,147.5" fill="none" stroke="#404040" stroke-width="1.34" stroke-linecap="round" stroke-linejoin="round"/>
<path d="M63.6,121.8 C63.4,121.5 62.5,120.6 62.2,119.9 C61.8,119.2 61.6,118.4 61.6,117.6 C61.5,116.8 61.7,116.0 61.8,115.2 C61.9,114.5 62.2,113.7 62.4,112.9 C62.6,112.1 62.7,111.3 62.9,110.6 C63.2,109.8 63.4,109.0 63.8,108.3 C64.1,107.6 64.6,107.0 65.1,106.4 C65.6,105.7 66.3,105.2 66.8,104.6 C67.4,104.1 67.9,103.5 68.5,102.9 C69.0,102.3 69.8,101.4 70.1,101.1" fill="none" stroke="#404040" stroke-width="1.26" stroke-linecap="round" stroke-linejoin="round"/>
<path d="M183.6,136.3 C183.7,135.9 183.7,134.7 183.9,133.9 C184.1,133.1 184.4,132.4 184.8,131.7 C185.2,131.0 185.7,130.4 186.3,129.8 C186.9,129.3 187.9,128.6 188.2,128.4" fill="none" stroke="#565656" stroke-width="1.3" stroke-linecap="round" stroke-linejoin="round"/>
<path d="M96.2,156.7 C95.8,156.9 94.9,157.6 94.3,158.2 C93.6,158.7 93.2,159.5 92.5,159.8 C91.8,160.1 90.9,160.0 90.1,160.0 C89.3,160.0 88.5,160.0 87.7,159.8 C87.0,159.6 86.1,159.3 85.5,158.8 C85.0,158.3 84.6,157.6 84.2,156.8 C83.9,156.1 83.7,155.3 83.5,154.6 C83.3,153.8 83.1,153.0 83.0,152.2 C83.0,151.4 83.3,150.2 83.4,149.8" fill="none" stroke="#4b4b4b" stroke-width="1.44" stroke-linecap="round" stroke-linejoin="round"/>
<path d="M164.6,99.4 C164.4,99.1 163.8,98.0 163.4,97.4 C162.9,96.7 162.2,95.8 161.8,95.6 C161.3,95.4 160.9,95.5 160.6,96.0 C160.4,96.4 160.2,97.7 160.3,98.4 C160.5,99.0 160.9,99.4 161.5,99.7 C162.0,100.0 163.3,100.0 163.8,100.0 C164.4,99.9 164.7,99.5 164.9,99.4" fill="none" stroke="#4b4b4b" stroke-width="1.34" stroke-linecap="round" stroke-linejoin="round"/>
<path d="M77.2,120.4 C77.4,120.8 78.1,121.8 78.4,122.5 C78.8,123.2 79.2,124.0 79.3,124.7 C79.4,125.5 79.4,126.4 79.1,127.1 C78.8,127.8 78.2,128.5 77.6,128.9 C77.0,129.3 76.1,129.5 75.3,129.5 C74.5,129.6 73.7,129.4 72.9,129.3 C72.1,129.1 71.3,128.9 70.6,128.8 C69.8,128.6 69.0,128.4 68.2,128.4 C67.4,128.3 66.4,128.4 65.8,128.4 C65.2,128.5 64.8,128.6 64.6,128.7" fill="none" stroke="#616161" stroke-width="1.25" stroke-linecap="round" stroke-linejoin="round"/>
<path d="M113.4,105.9 C113.0,106.0 111.8,106.1 111.1,106.5 C110.4,106.8 109.7,107.3 109.2,108.0 C108.7,108.6 108.5,109.4 108.3,110.2 C108.1,110.9 108.1,111.8 108.2,112.6 C108.2,113.3 108.4,114.1 108.7,114.9 C109.0,115.6 109.6,116.3 109.7,117.1 C109.8,117.8 109.4,118.6 109.4,119.4 C109.4,120.2 109.5,121.0 109.5,121.8 C109.5,122.6 109.3,123.6 109.3,124.1 C109.2,124.7 109.1,125.1 109.0,125.3" fill="none" stroke="#4b4b4b" stroke-width="1.26" stroke-linecap="round" stroke-linejoin="round"/>
<path d="M130.0,142.2 C129.6,142.3 128.4,142.6 127.6,142.7 C126.8,142.8 126.0,142.9 125.2,142.8 C124.4,142.7 123.6,142.5 122.9,142.1 C122.2,141.8 121.4,141.1 121.0,140.7 C120.5,140.3 120.3,140.0 120.1,139.9" fill="none" stroke="#404040" stroke-width="1.01" stroke-linecap="round" stroke-linejoin="round"/>
<path d="M199.3,88.7 C199.3,88.3 199.5,87.2 199.4,86.4 C199.3,85.6 198.9,84.9 198.7,84.1 C198.5,83.3 198.3,82.6 198.2,81.8 C198.2,81.0 198.1,80.1 198.3,79.4 C198.4,78.6 198.9,77.9 199.2,77.2 C199.5,76.5 199.9,75.8 199.9,75.0 C199.9,74.3 199.6,73.6 199.3,72.9 C199.0,72.2 198.3,71.3 198.0,70.9 C197.6,70.4 197.4,70.0 197.3,69.9" fill="none" stroke="#4b4b4b" stroke-width="1.14" stroke-linecap="round" stroke-linejoin="round"/>
<path d="M155.7,108.4 C156.1,108.3 157.4,108.0 158.0,107.7 C158.6,107.4 159.1,107.0 159.2,106.4 C159.3,105.8 159.0,104.8 158.7,104.1 C158.4,103.4 157.8,102.7 157.4,102.1 C157.0,101.4 156.7,100.3 156.1,100.1 C155.5,99.8 154.4,100.6 153.8,100.7 C153.2,100.8 152.8,100.9 152.6,100.9" fill="none" stroke="#616161" stroke-width="1.16" stroke-linecap="round" stroke-linejoin="round"/>
<path d="M144.6,76.2 C144.4,76.5 143.5,77.4 143.1,78.1 C142.7,78.7 142.6,79.6 142.3,80.3 C142.1,81.1 142.0,81.9 141.8,82.7 C141.5,83.4 141.3,84.2 140.9,84.9 C140.5,85.6 140.0,86.2 139.5,86.8 C138.9,87.4 138.3,87.9 137.8,88.5 C137.2,89.1 136.6,89.6 136.1,90.2 C135.6,90.8 134.9,91.6 134.6,92.1 C134.2,92.6 134.1,92.9 134.0,93.1" fill="none" stroke="#404040" stroke-width="1.28" stroke-linecap="round" stroke-linejoin="round"/>
<path d="M60.4,98.6 C60.5,98.2 61.0,97.1 61.4,96.4 C61.7,95.6 62.0,94.9 62.3,94.2 C62.5,93.4 62.6,92.5 62.9,91.9 C63.2,91.2 63.6,90.8 64.3,90.5 C64.9,90.2 65.9,90.0 66.6,90.1 C67.4,90.2 68.0,90.8 68.8,91.2 C69.5,91.5 70.2,91.9 71.0,92.2 C71.7,92.5 72.5,92.7 73.2,92.9 C74.0,93.1 74.8,93.2 75.6,93.4 C76.4,93.5 77.6,93.7 78.0,93.7" fill="none" stroke="#484848" stroke-width="1.31" stroke-linecap="round" stroke-linejoin="round"/>
<path d="M159.4,122.3 C159.6,122.7 160.0,123.8 160.3,124.5 C160.6,125.3 160.9,126.0 161.2,126.8 C161.4,127.5 161.7,128.3 161.9,129.0 C162.2,129.8 162.3,130.6 162.5,131.4 C162.8,132.1 163.2,133.2 163.4,133.6" fill="none" stroke="#616161" stroke-width="1.21" stroke-linecap="round" stroke-linejoin="round"/>
<path d="M102.1,133.9 C102.0,133.5 101.6,132.4 101.2,131.7 C100.8,131.0 100.3,130.3 99.9,129.7 C99.5,129.0 99.0,128.3 98.6,127.7 C98.2,127.0 97.8,126.3 97.4,125.6 C97.1,124.8 96.8,123.9 96.6,123.3 C96.4,122.7 96.3,122.4 96.3,122.2" fill="none" stroke="#616161" stroke-width="1.41" stroke-linecap="round" stroke-linejoin="round"/>
<path d="M68.2,111.9 C68.3,111.5 68.6,110.3 68.8,109.5 C69.0,108.8 69.3,108.0 69.5,107.3 C69.8,106.5 70.1,105.7 70.3,105.0 C70.4,104.2 70.5,103.0 70.6,102.6" fill="none" stroke="#565656" stroke-width="1.46" stroke-linecap="round" stroke-linejoin="round"/>
<path d="M60.8,96.5 C60.7,96.8 60.2,97.8 60.1,98.6 C59.9,99.3 60.0,100.2 59.9,101.0 C59.8,101.8 59.7,102.6 59.4,103.3 C59.2,104.1 58.8,105.0 58.5,105.5 C58.3,106.1 57.9,106.3 57.8,106.5" fill="none" stroke="#616161" stroke-width="1.31" stroke-linecap="round" stroke-linejoin="round"/>
<path d="M60.9,111.5 C60.9,111.1 60.7,109.8 60.8,109.1 C60.9,108.3 61.2,107.5 61.6,106.8 C61.9,106.1 62.4,105.4 62.9,104.8 C63.5,104.3 64.2,103.8 64.9,103.5 C65.6,103.2 66.8,103.0 67.2,102.9" fill="none" stroke="#4b4b4b" stroke-width="1.59" stroke-linecap="round" stroke-linejoin="round"/>
<path d="M171.0,111.8 C171.3,111.6 172.4,111.1 173.0,110.6 C173.6,110.0 174.1,109.4 174.4,108.7 C174.8,108.0 175.0,107.1 175.0,106.3 C175.0,105.6 174.6,104.8 174.3,104.1 C173.9,103.4 173.0,102.6 172.7,102.2" fill="none" stroke="#616161" stroke-width="1.52" stroke-linecap="round" stroke-linejoin="round"/>
<path d="M54.7,116.5 C54.4,116.8 53.7,117.7 53.2,118.4 C52.7,119.0 52.3,119.7 51.8,120.3 C51.4,121.0 51.0,121.7 50.5,122.3 C50.0,122.9 49.4,123.5 48.9,124.1 C48.4,124.8 47.9,125.4 47.4,126.0 C46.9,126.6 46.4,127.2 46.0,127.9 C45.6,128.6 45.2,129.4 45.0,130.1 C44.8,130.9 44.8,131.7 44.8,132.5 C44.7,133.3 44.6,134.1 44.5,134.9 C44.4,135.7 44.3,136.9 44.2,137.3" fill="none" stroke="#565656" stroke-width="1.33" stroke-linecap="round" stroke-linejoin="round"/>
<path d="M107.4,134.7 C107.6,134.4 108.0,133.2 108.5,132.6 C109.0,132.0 109.6,131.3 110.3,131.0 C111.0,130.7 111.9,130.6 112.6,130.7 C113.4,130.8 114.2,131.3 114.8,131.8 C115.3,132.3 115.8,133.0 116.1,133.7 C116.4,134.5 116.4,135.3 116.5,136.1 C116.5,136.9 116.4,137.7 116.3,138.5 C116.2,139.3 115.9,140.1 115.8,140.8 C115.7,141.6 115.7,142.4 115.7,143.2 C115.7,144.0 115.8,145.2 115.8,145.6" fill="none" stroke="#565656" stroke-width="0.82" stroke-linecap="round" stroke-linejoin="round"/>
<path d="M106.0,136.4 C106.2,136.8 106.7,137.9 107.0,138.6 C107.4,139.3 107.7,140.1 108.0,140.8 C108.2,141.6 108.5,142.3 108.7,143.1 C108.8,143.9 109.0,144.7 109.0,145.5 C108.9,146.3 108.8,147.1 108.4,147.8 C108.1,148.5 107.6,149.5 107.0,149.7 C106.4,150.0 105.5,149.7 104.8,149.4 C104.1,149.2 103.0,148.6 102.7,148.4" fill="none" stroke="#616161" stroke-width="0.97" stroke-linecap="round" stroke-linejoin="round"/>
<path d="M133.9,153.7 C133.8,154.0 133.4,155.2 133.2,156.0 C133.0,156.7 132.8,157.5 132.7,158.3 C132.5,159.1 132.4,159.9 132.5,160.7 C132.6,161.4 132.8,162.3 133.3,162.9 C133.8,163.5 134.6,164.0 135.3,164.1 C136.1,164.2 137.3,163.8 137.7,163.7" fill="none" stroke="#4b4b4b" stroke-width="1.06" stroke-linecap="round" stroke-linejoin="round"/>
<path d="M177.4,117.5 C177.8,117.5 179.0,117.5 179.8,117.5 C180.6,117.5 181.4,117.6 182.2,117.6 C183.0,117.7 183.8,117.7 184.6,117.8 C185.4,117.8 186.2,118.0 187.0,117.9 C187.7,117.8 188.5,117.7 189.3,117.4 C190.1,117.2 190.8,116.9 191.6,116.6 C192.3,116.4 193.3,116.0 193.8,115.8 C194.4,115.6 194.7,115.4 194.9,115.3" fill="none" stroke="#616161" stroke-width="1.31" stroke-linecap="round" stroke-linejoin="round"/>
<path d="M165.7,145.0 C165.8,144.6 166.3,143.5 166.5,142.7 C166.7,142.0 166.8,141.2 166.8,140.4 C166.9,139.6 166.9,138.8 166.8,138.0 C166.7,137.2 166.5,136.4 166.3,135.6 C166.0,134.9 165.8,134.1 165.4,133.4 C165.1,132.7 164.7,131.9 164.1,131.4 C163.6,130.9 162.7,130.2 162.1,130.2 C161.5,130.1 160.8,131.0 160.5,131.1 C160.2,131.3 160.1,131.4 160.2,131.1 C160.3,130.7 160.9,129.2 161.1,128.8" fill="none" stroke="#565656" stroke-width="1.48" stroke-linecap="round" stroke-linejoin="round"/>
<path d="M22.7,116.5 C22.6,116.9 22.4,118.1 22.4,118.9 C22.3,119.7 22.5,120.5 22.6,121.3 C22.6,122.1 22.7,122.9 22.7,123.7 C22.8,124.5 22.8,125.3 22.7,126.1 C22.6,126.9 22.6,127.9 22.3,128.5 C22.0,129.0 21.0,129.6 20.7,129.4 C20.4,129.2 20.5,127.6 20.4,127.0 C20.4,126.4 20.2,126.0 20.1,125.9" fill="none" stroke="#565656" stroke-width="1.14" stroke-linecap="round" stroke-linejoin="round"/>
<path d="M202.7,136.1 C203.0,136.4 203.9,137.1 204.6,137.6 C205.2,138.1 206.2,138.8 206.5,139.0 C206.8,139.3 206.7,139.4 206.3,139.4 C205.8,139.3 204.8,138.7 204.0,138.6 C203.2,138.5 202.0,138.6 201.6,138.6" fill="none" stroke="#404040" stroke-width="0.85" stroke-linecap="round" stroke-linejoin="round"/>
<path d="M174.7,96.5 C174.5,96.9 174.1,98.1 173.5,98.6 C173.0,99.1 172.0,99.4 171.5,99.8 C170.9,100.2 170.5,100.6 170.4,101.2 C170.2,101.9 170.4,102.8 170.4,103.6 C170.4,104.4 170.3,105.2 170.3,106.0 C170.2,106.8 169.9,107.7 170.1,108.4 C170.2,109.2 170.9,109.8 171.2,110.5 C171.5,111.2 171.7,112.2 171.8,112.8 C172.0,113.4 172.1,113.8 172.1,114.0" fill="none" stroke="#616161" stroke-width="1.45" stroke-linecap="round" stroke-linejoin="round"/>
<path d="M76.9,153.5 C77.2,153.7 78.5,154.6 78.9,154.7 C79.3,154.9 79.4,154.9 79.2,154.5 C79.0,154.2 78.2,153.2 77.7,152.6 C77.2,152.0 76.6,151.4 76.1,150.8 C75.5,150.3 75.0,149.6 74.5,149.1 C73.9,148.5 73.4,147.9 72.7,147.4 C72.0,147.0 71.2,146.7 70.5,146.6 C69.7,146.5 68.7,146.6 68.1,146.7 C67.5,146.8 67.2,147.0 67.0,147.1" fill="none" stroke="#616161" stroke-width="1.48" stroke-linecap="round" stroke-linejoin="round"/>
<path d="M44.2,144.3 C44.3,144.7 45.1,145.7 45.3,146.4 C45.4,147.2 45.4,148.3 45.1,148.8 C44.8,149.3 44.0,149.5 43.4,149.5 C42.7,149.5 41.7,148.7 41.1,148.6 C40.6,148.6 40.1,149.4 40.1,149.2 C40.1,148.9 40.8,147.7 41.0,146.9 C41.2,146.2 41.4,145.4 41.5,144.6 C41.5,143.8 41.4,143.0 41.3,142.2 C41.1,141.4 40.7,140.3 40.6,139.9" fill="none" stroke="#616161" stroke-width="1.31" stroke-linecap="round" stroke-linejoin="round"/>
<path d="M166.1,148.9 C166.0,148.5 165.9,147.3 165.9,146.5 C165.8,145.8 165.8,145.0 165.8,144.2 C165.8,143.4 166.1,142.4 166.0,141.8 C165.8,141.1 165.4,140.7 164.8,140.4 C164.2,140.1 163.2,139.9 162.4,140.0 C161.7,140.2 161.0,140.7 160.3,141.2 C159.7,141.6 159.0,142.2 158.5,142.7 C157.9,143.3 157.4,143.9 157.0,144.6 C156.6,145.3 156.2,146.2 156.0,146.8 C155.7,147.3 155.5,147.7 155.5,147.9" fill="none" stroke="#484848" stroke-width="1.63" stroke-linecap="round" stroke-linejoin="round"/>
<path d="M64.3,91.1 C63.9,91.0 62.7,90.5 62.0,90.5 C61.3,90.5 60.5,90.6 60.3,91.1 C60.1,91.6 60.7,92.6 61.0,93.3 C61.4,94.1 61.9,94.7 62.3,95.4 C62.7,96.1 63.1,96.8 63.4,97.5 C63.8,98.2 63.9,99.5 64.4,99.7 C65.0,99.9 65.9,99.2 66.7,99.0 C67.5,98.8 68.3,98.6 69.0,98.5 C69.8,98.4 70.6,98.4 71.4,98.2 C72.2,98.1 73.0,97.9 73.8,97.7 C74.5,97.5 75.7,97.1 76.1,97.0" fill="none" stroke="#404040" stroke-width="1.45" stroke-linecap="round" stroke-linejoin="round"/>
<path d="M64.1,118.1 C63.8,118.3 62.8,119.2 62.1,119.4 C61.4,119.7 60.5,119.7 59.7,119.7 C59.0,119.6 58.1,119.4 57.4,119.0 C56.7,118.7 56.1,118.1 55.5,117.6 C55.0,117.0 54.5,116.4 54.0,115.7 C53.6,115.1 53.2,114.3 52.8,113.7 C52.4,113.0 52.0,112.3 51.5,111.6 C51.1,111.0 50.6,110.3 50.2,109.6 C49.7,109.0 49.2,108.3 48.7,107.7 C48.2,107.1 47.7,106.5 47.1,106.0 C46.5,105.4 45.6,104.7 45.3,104.4" fill="none" stroke="#404040" stroke-width="1.48" stroke-linecap="round" stroke-linejoin="round"/>
<path d="M15.0,139.3 C15.3,139.4 16.4,139.7 17.2,139.6 C17.9,139.5 19.1,139.3 19.5,138.8 C19.9,138.3 19.7,137.3 19.6,136.6 C19.5,135.8 19.0,135.1 18.6,134.4 C18.3,133.6 17.9,132.9 17.5,132.3 C17.0,131.6 16.6,130.7 16.0,130.4 C15.4,130.0 14.4,130.1 13.6,130.1 C12.8,130.1 11.6,130.5 11.3,130.5" fill="none" stroke="#4b4b4b" stroke-width="0.7" stroke-linecap="round" stroke-linejoin="round"/>
<path d="M176.6,156.5 C176.5,156.8 175.7,158.1 175.7,158.7 C175.6,159.2 175.7,159.7 176.2,159.9 C176.7,160.1 178.0,159.9 178.6,159.9 C179.2,159.9 179.6,159.8 179.8,159.8" fill="none" stroke="#565656" stroke-width="1.31" stroke-linecap="round" stroke-linejoin="round"/>
<path d="M39.1,114.5 C39.3,114.1 39.9,113.2 40.0,112.4 C40.1,111.7 39.7,110.9 39.5,110.1 C39.3,109.3 39.0,108.6 38.8,107.8 C38.6,107.0 38.4,106.0 38.3,105.5 C38.2,104.9 38.1,104.5 38.1,104.3" fill="none" stroke="#484848" stroke-width="1.06" stroke-linecap="round" stroke-linejoin="round"/>
<path d="M50.6,105.0 C50.9,105.2 51.9,106.0 52.3,106.6 C52.8,107.2 53.0,108.0 53.2,108.8 C53.4,109.6 53.5,110.4 53.6,111.2 C53.6,112.0 53.6,113.0 53.5,113.6 C53.5,114.2 53.4,114.6 53.4,114.8" fill="none" stroke="#4b4b4b" stroke-width="1.16" stroke-linecap="round" stroke-linejoin="round"/>
<path d="M77.2,147.5 C76.8,147.6 75.6,147.8 74.8,147.9 C74.0,148.0 73.2,148.1 72.4,148.0 C71.6,147.9 70.9,147.5 70.2,147.2 C69.5,146.8 68.8,146.3 68.2,145.8 C67.6,145.3 67.0,144.7 66.6,144.1 C66.1,143.4 65.8,142.4 65.5,141.9 C65.2,141.4 64.9,141.1 64.8,140.9" fill="none" stroke="#565656" stroke-width="1.31" stroke-linecap="round" stroke-linejoin="round"/>
<path d="M79.1,89.4 C79.0,89.1 78.6,87.9 78.2,87.2 C77.7,86.6 77.0,86.1 76.3,85.7 C75.7,85.3 74.9,84.9 74.2,84.7 C73.4,84.5 72.4,84.5 71.8,84.3 C71.2,84.0 70.7,83.7 70.6,83.1 C70.4,82.5 70.5,81.1 70.9,80.7 C71.4,80.4 72.5,81.0 73.3,81.1 C74.1,81.3 75.2,81.7 75.6,81.8" fill="none" stroke="#565656" stroke-width="1.37" stroke-linecap="round" stroke-linejoin="round"/>
<path d="M48.5,91.4 C48.8,91.6 49.9,92.1 49.9,92.7 C49.9,93.2 49.0,94.0 48.7,94.7 C48.3,95.4 48.0,96.2 47.6,96.9 C47.2,97.6 46.4,98.5 46.2,98.8" fill="none" stroke="#616161" stroke-width="1.3" stroke-linecap="round" stroke-linejoin="round"/>
<path d="M33.2,120.0 C33.2,119.6 33.2,118.4 33.2,117.6 C33.1,116.8 33.1,116.0 33.0,115.2 C33.0,114.4 33.0,113.6 33.0,112.8 C33.0,112.0 33.0,111.2 33.0,110.4 C33.1,109.6 33.2,108.8 33.4,108.0 C33.5,107.2 33.7,106.3 33.8,105.7 C34.0,105.1 33.9,104.7 34.0,104.5" fill="none" stroke="#616161" stroke-width="1.37" stroke-linecap="round" stroke-linejoin="round"/>
<path d="M80.9,141.9 C80.6,141.7 79.6,141.0 79.0,140.5 C78.3,140.0 77.7,139.6 77.1,139.1 C76.5,138.5 76.0,137.9 75.5,137.2 C75.0,136.6 74.6,135.9 74.1,135.3 C73.7,134.6 73.3,133.9 72.9,133.3 C72.4,132.6 71.9,132.0 71.4,131.3 C71.0,130.6 70.7,129.9 70.4,129.2 C70.1,128.4 70.0,127.6 69.7,126.9 C69.4,126.1 69.2,125.3 68.7,124.7 C68.2,124.1 67.2,123.7 66.6,123.5 C66.1,123.3 65.6,123.5 65.4,123.5" fill="none" stroke="#616161" stroke-width="1.34" stroke-linecap="round" stroke-linejoin="round"/>
<path d="M173.6,99.8 C174.0,99.8 175.2,99.8 176.0,99.8 C176.8,99.8 177.6,99.8 178.4,99.8 C179.2,99.9 180.0,99.9 180.8,100.0 C181.6,100.1 182.4,100.2 183.2,100.4 C184.0,100.6 184.7,101.0 185.4,101.3 C186.1,101.7 186.8,102.1 187.5,102.5 C188.1,103.0 189.0,103.3 189.4,104.0 C189.7,104.6 189.7,105.6 189.6,106.4 C189.6,107.2 189.5,108.0 189.3,108.7 C189.0,109.5 188.4,110.3 188.0,110.8 C187.6,111.2 187.2,111.4 187.1,111.5" fill="none" stroke="#3a3a3a" stroke-width="2.08" stroke-linecap="round" stroke-linejoin="round"/>
<path d="M173.6,99.8 C174.0,99.8 175.2,99.8 176.0,99.8 C176.8,99.8 177.6,99.8 178.4,99.8 C179.2,99.9 180.0,99.9 180.8,100.0 C181.6,100.1 182.4,100.2 183.2,100.4 C184.0,100.6 184.7,101.0 185.4,101.3 C186.1,101.7 186.8,102.1 187.5,102.5 C188.1,103.0 189.0,103.3 189.4,104.0 C189.7,104.6 189.7,105.6 189.6,106.4 C189.6,107.2 189.5,108.0 189.3,108.7 C189.0,109.5 188.4,110.3 188.0,110.8 C187.6,111.2 187.2,111.4 187.1,111.5" fill="none" stroke="#8c8c8c" stroke-width="0.78" stroke-linecap="round" stroke-linejoin="round"/>
<path d="M40.8,74.8 C41.2,74.6 42.4,74.2 42.9,73.7 C43.5,73.2 44.1,72.1 44.1,71.7 C44.2,71.2 43.8,70.9 43.3,70.8 C42.7,70.7 41.5,70.9 40.9,71.3 C40.4,71.7 39.9,72.7 40.0,73.4 C40.1,74.0 41.0,74.6 41.5,75.3 C42.0,75.9 42.4,76.6 42.8,77.2 C43.3,77.9 44.0,79.0 44.0,79.3 C44.0,79.7 43.0,79.4 42.8,79.4" fill="none" stroke="#616161" stroke-width="0.87" stroke-linecap="round" stroke-linejoin="round"/>
<path d="M27.7,106.6 C28.1,106.8 29.3,107.1 29.9,107.5 C30.6,107.9 31.2,108.6 31.6,109.2 C32.1,109.8 32.5,110.6 32.8,111.3 C33.1,112.0 33.4,112.8 33.6,113.6 C33.7,114.3 33.6,115.2 33.5,116.0 C33.3,116.7 33.0,117.5 32.7,118.2 C32.4,119.0 32.2,119.8 31.8,120.5 C31.4,121.1 30.5,122.0 30.3,122.3" fill="none" stroke="#565656" stroke-width="1.16" stroke-linecap="round" stroke-linejoin="round"/>
<path d="M92.4,84.6 C92.8,84.4 93.9,83.9 94.6,83.6 C95.4,83.4 96.1,83.0 96.9,82.9 C97.7,82.8 98.8,83.3 99.3,82.9 C99.8,82.6 100.0,81.0 99.7,80.6 C99.4,80.2 98.3,80.3 97.5,80.4 C96.7,80.5 96.0,80.8 95.2,81.0 C94.4,81.2 93.6,81.3 92.8,81.4 C92.0,81.5 91.2,81.6 90.4,81.6 C89.6,81.6 88.8,81.4 88.1,81.2 C87.3,81.1 86.3,80.8 85.8,80.6 C85.2,80.4 84.9,80.1 84.7,80.0" fill="none" stroke="#565656" stroke-width="1.32" stroke-linecap="round" stroke-linejoin="round"/>
<path d="M173.0,140.0 C173.4,140.3 174.4,140.9 175.1,141.3 C175.7,141.8 176.5,142.0 177.2,142.5 C177.8,143.0 178.5,143.5 178.9,144.1 C179.3,144.8 179.5,145.6 179.6,146.4 C179.7,147.2 179.7,148.0 179.7,148.8 C179.6,149.6 179.5,150.8 179.5,151.2" fill="none" stroke="#565656" stroke-width="1.16" stroke-linecap="round" stroke-linejoin="round"/>
<path d="M234.2,117.8 C233.9,117.6 233.0,116.8 232.4,116.2 C231.8,115.7 230.9,115.3 230.6,114.7 C230.3,114.0 230.6,113.1 230.5,112.3 C230.5,111.5 230.2,110.0 230.3,110.0 C230.3,110.0 230.7,111.8 230.8,112.3 C231.0,112.9 231.1,113.3 231.1,113.5" fill="none" stroke="#4b4b4b" stroke-width="0.86" stroke-linecap="round" stroke-linejoin="round"/>
<path d="M103.1,165.9 C103.5,165.7 104.5,165.0 105.2,164.7 C105.9,164.4 106.7,164.1 107.5,164.0 C108.3,163.9 109.1,164.0 109.9,164.3 C110.6,164.5 111.3,165.0 111.9,165.5 C112.5,166.0 113.0,166.7 113.3,167.4 C113.6,168.1 114.1,169.5 113.8,169.8 C113.6,170.0 112.3,169.2 111.6,168.8 C110.9,168.5 110.2,168.1 109.5,167.8 C108.7,167.5 107.5,167.3 107.1,167.3" fill="none" stroke="#404040" stroke-width="0.86" stroke-linecap="round" stroke-linejoin="round"/>
<path d="M170.3,99.8 C170.7,99.7 171.9,99.5 172.7,99.5 C173.5,99.5 174.3,99.6 175.1,99.7 C175.8,99.7 176.7,99.8 177.4,99.8 C178.2,99.8 179.1,99.8 179.8,99.7 C180.6,99.5 181.4,99.3 182.1,99.0 C182.9,98.7 183.5,98.1 184.3,97.9 C185.0,97.6 185.8,97.5 186.6,97.4 C187.4,97.3 188.2,97.3 189.0,97.3 C189.8,97.2 191.0,97.3 191.4,97.3" fill="none" stroke="#4b4b4b" stroke-width="1.14" stroke-linecap="round" stroke-linejoin="round"/>
<path d="M173.1,90.0 C173.3,90.4 173.7,91.6 174.1,92.2 C174.6,92.8 175.2,93.4 175.9,93.8 C176.5,94.3 177.3,94.6 178.1,94.8 C178.8,94.9 179.7,95.0 180.4,94.8 C181.2,94.5 182.1,93.7 182.4,93.4" fill="none" stroke="#4b4b4b" stroke-width="1.36" stroke-linecap="round" stroke-linejoin="round"/>
<path d="M149.8,88.1 C150.0,88.4 150.4,89.7 151.0,90.0 C151.6,90.3 152.6,89.9 153.4,89.9 C154.2,89.8 155.0,90.0 155.7,89.7 C156.4,89.5 157.2,88.9 157.6,88.2 C158.0,87.6 158.2,86.7 158.2,85.9 C158.2,85.1 158.0,84.3 157.6,83.6 C157.2,82.9 156.6,82.4 155.9,81.9 C155.3,81.4 154.5,81.1 153.8,80.8 C153.1,80.5 152.3,80.2 151.6,80.0 C150.8,79.7 150.0,79.6 149.2,79.5 C148.4,79.4 147.2,79.2 146.8,79.1" fill="none" stroke="#484848" stroke-width="1.2" stroke-linecap="round" stroke-linejoin="round"/>
<path d="M97.6,113.7 C97.3,113.9 96.3,114.6 95.5,114.9 C94.8,115.1 93.9,115.3 93.1,115.2 C92.4,115.2 91.5,115.0 90.8,114.8 C90.0,114.6 89.3,114.2 88.6,113.9 C87.8,113.7 87.0,113.5 86.2,113.3 C85.5,113.1 84.7,112.9 83.9,112.7 C83.1,112.5 82.4,112.3 81.6,112.1 C80.9,111.8 79.8,111.2 79.4,111.1" fill="none" stroke="#616161" stroke-width="1.56" stroke-linecap="round" stroke-linejoin="round"/>
<path d="M173.1,113.7 C173.2,114.1 173.4,115.3 173.7,116.0 C174.0,116.8 174.5,117.4 175.0,118.0 C175.5,118.6 176.1,119.2 176.7,119.6 C177.4,120.1 178.1,120.5 178.9,120.7 C179.6,121.0 180.6,121.2 181.2,121.4 C181.8,121.5 182.2,121.5 182.4,121.5" fill="none" stroke="#404040" stroke-width="1.41" stroke-linecap="round" stroke-linejoin="round"/>
<path d="M61.6,98.1 C61.3,98.4 60.5,99.2 60.0,99.8 C59.6,100.4 59.3,101.2 58.8,101.9 C58.4,102.5 57.8,103.1 57.3,103.7 C56.8,104.3 56.1,105.3 55.8,105.6" fill="none" stroke="#616161" stroke-width="1.33" stroke-linecap="round" stroke-linejoin="round"/>
<path d="M192.2,81.1 C192.6,81.3 193.6,81.9 194.3,82.3 C194.9,82.8 195.5,83.3 196.2,83.8 C196.8,84.2 197.7,84.7 198.2,85.0 C198.8,85.3 199.1,85.5 199.3,85.6" fill="none" stroke="#565656" stroke-width="0.95" stroke-linecap="round" stroke-linejoin="round"/>
<path d="M100.3,170.6 C100.5,170.2 101.1,169.2 101.6,168.6 C102.1,168.0 102.7,167.5 103.4,167.0 C104.0,166.5 104.7,166.1 105.4,165.6 C106.0,165.2 106.8,164.6 107.3,164.2 C107.7,163.8 107.9,163.4 108.1,163.3" fill="none" stroke="#616161" stroke-width="1.26" stroke-linecap="round" stroke-linejoin="round"/>
<path d="M129.7,70.0 C130.1,70.1 131.3,70.1 132.0,70.4 C132.7,70.7 133.5,71.3 134.0,71.9 C134.5,72.4 134.8,73.2 135.1,74.0 C135.3,74.7 135.4,75.5 135.5,76.3 C135.6,77.1 135.6,77.9 135.6,78.7 C135.7,79.5 135.8,80.3 135.8,81.1 C135.9,81.9 135.9,82.7 136.0,83.5 C136.0,84.3 136.3,85.5 136.3,85.9" fill="none" stroke="#565656" stroke-width="1.3" stroke-linecap="round" stroke-linejoin="round"/>
<circle cx="102.6" cy="94.0" r="2.2" fill="#B8121F"/><circle cx="101.6" cy="97.3" r="2.2" fill="#B8121F"/><circle cx="99.6" cy="97.3" r="2.2" fill="#B8121F"/><circle cx="98.6" cy="94.0" r="2.2" fill="#B8121F"/><circle cx="99.6" cy="90.7" r="2.2" fill="#B8121F"/><circle cx="101.6" cy="90.7" r="2.2" fill="#B8121F"/><ellipse cx="100.6" cy="94.0" rx="2.9" ry="5.6" fill="#B8121F"/>
<circle cx="84.2" cy="139.5" r="2.2" fill="#B8121F"/><circle cx="83.1" cy="141.2" r="2.2" fill="#B8121F"/><circle cx="80.9" cy="141.2" r="2.2" fill="#B8121F"/><circle cx="79.8" cy="139.5" r="2.2" fill="#B8121F"/><circle cx="80.9" cy="137.8" r="2.2" fill="#B8121F"/><circle cx="83.1" cy="137.8" r="2.2" fill="#B8121F"/><ellipse cx="82.0" cy="139.5" rx="3.2" ry="2.9" fill="#B8121F"/>
<circle cx="104.4" cy="140.0" r="2.7" fill="#B8121F"/><circle cx="102.9" cy="142.1" r="2.7" fill="#B8121F"/><circle cx="100.1" cy="142.1" r="2.7" fill="#B8121F"/><circle cx="98.6" cy="140.0" r="2.7" fill="#B8121F"/><circle cx="100.1" cy="137.9" r="2.7" fill="#B8121F"/><circle cx="102.9" cy="137.9" r="2.7" fill="#B8121F"/><ellipse cx="101.5" cy="140.0" rx="4.2" ry="3.5" fill="#B8121F"/>
<circle cx="145.8" cy="60.0" r="2.2" fill="#B8121F"/><circle cx="144.6" cy="61.7" r="2.2" fill="#B8121F"/><circle cx="142.2" cy="61.7" r="2.2" fill="#B8121F"/><circle cx="141.0" cy="60.0" r="2.2" fill="#B8121F"/><circle cx="142.2" cy="58.3" r="2.2" fill="#B8121F"/><circle cx="144.6" cy="58.3" r="2.2" fill="#B8121F"/><ellipse cx="143.4" cy="60.0" rx="3.5" ry="2.9" fill="#B8121F"/>
<circle cx="152.3" cy="93.5" r="1.9" fill="#B8121F"/><circle cx="151.5" cy="95.4" r="1.9" fill="#B8121F"/><circle cx="149.7" cy="95.4" r="1.9" fill="#B8121F"/><circle cx="148.9" cy="93.5" r="1.9" fill="#B8121F"/><circle cx="149.7" cy="91.6" r="1.9" fill="#B8121F"/><circle cx="151.5" cy="91.6" r="1.9" fill="#B8121F"/><ellipse cx="150.6" cy="93.5" rx="2.5" ry="3.2" fill="#B8121F"/>
<circle cx="140.7" cy="137.0" r="1.9" fill="#B8121F"/><circle cx="139.9" cy="138.9" r="1.9" fill="#B8121F"/><circle cx="138.1" cy="138.9" r="1.9" fill="#B8121F"/><circle cx="137.3" cy="137.0" r="1.9" fill="#B8121F"/><circle cx="138.1" cy="135.1" r="1.9" fill="#B8121F"/><circle cx="139.9" cy="135.1" r="1.9" fill="#B8121F"/><ellipse cx="139.0" cy="137.0" rx="2.5" ry="3.2" fill="#B8121F"/>
<circle cx="182.6" cy="118.0" r="2.5" fill="#B8121F"/><circle cx="181.5" cy="120.4" r="2.5" fill="#B8121F"/><circle cx="179.3" cy="120.4" r="2.5" fill="#B8121F"/><circle cx="178.2" cy="118.0" r="2.5" fill="#B8121F"/><circle cx="179.3" cy="115.6" r="2.5" fill="#B8121F"/><circle cx="181.5" cy="115.6" r="2.5" fill="#B8121F"/><ellipse cx="180.4" cy="118.0" rx="3.2" ry="4.0" fill="#B8121F"/>
<circle cx="138.1" cy="153.0" r="2.1" fill="#B8121F"/><circle cx="136.4" cy="154.6" r="2.1" fill="#B8121F"/><circle cx="132.8" cy="154.6" r="2.1" fill="#B8121F"/><circle cx="131.1" cy="153.0" r="2.1" fill="#B8121F"/><circle cx="132.8" cy="151.4" r="2.1" fill="#B8121F"/><circle cx="136.4" cy="151.4" r="2.1" fill="#B8121F"/><ellipse cx="134.6" cy="153.0" rx="5.1" ry="2.7" fill="#B8121F"/>
<path d="M102.5,110.6 C98,109.8 94,109.4 92.6,111.5 C91.6,114 91.8,119 92.8,121.6 C94.5,123.4 99,122.8 103,122.2" fill="none" stroke="#B4680F" stroke-width="6.2" stroke-linecap="round" stroke-linejoin="round"/>
<path d="M102.5,110.6 C98,109.8 94,109.4 92.6,111.5 C91.6,114 91.8,119 92.8,121.6 C94.5,123.4 99,122.8 103,122.2" fill="none" stroke="#DE9026" stroke-width="4.6" stroke-linecap="round" stroke-linejoin="round"/>
<path d="M136.6,110.4 C141,109.6 145,109.2 146.8,111.2 C148.2,114 148.2,119.5 147,122.6 C145,125 140,124.8 135.8,124.6" fill="none" stroke="#B4680F" stroke-width="6.2" stroke-linecap="round" stroke-linejoin="round"/>
<path d="M136.6,110.4 C141,109.6 145,109.2 146.8,111.2 C148.2,114 148.2,119.5 147,122.6 C145,125 140,124.8 135.8,124.6" fill="none" stroke="#DE9026" stroke-width="4.6" stroke-linecap="round" stroke-linejoin="round"/>
<path d="M96.5,116.4 L101.5,116.4" stroke="#2f3f55" stroke-width="2.2" stroke-linecap="round"/>
<path d="M138.5,117.4 L143.5,117.4" stroke="#2f3f55" stroke-width="2.2" stroke-linecap="round"/></g>
</svg>
</body></html>
